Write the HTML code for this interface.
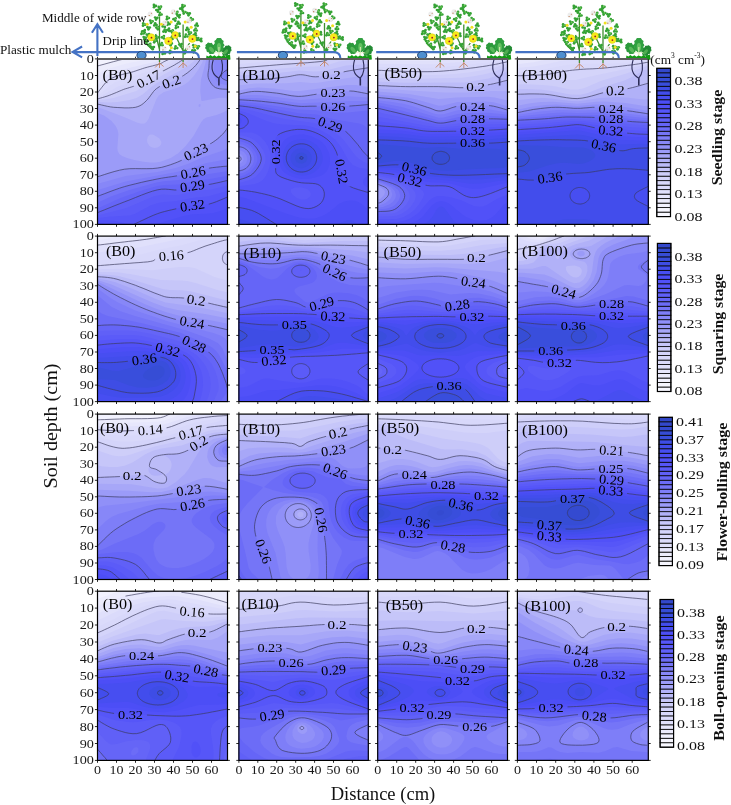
<!DOCTYPE html><html><head><meta charset="utf-8"><style>svg{will-change:transform}html,body{margin:0;padding:0;background:#fff;width:731px;height:805px;overflow:hidden}</style></head><body><svg width="731" height="805" viewBox="0 0 731 805" style="display:block">
<rect width="731" height="805" fill="#fff"/>
<clipPath id="cp00"><rect x="0" y="0" width="130.0" height="165.5"/></clipPath>
<g transform="translate(97.5,58.9)" clip-path="url(#cp00)">
<rect x="-2" y="-2" width="134.0" height="169.5" fill="#f6f6fe"/>
<path d="M-3 1.5L16.6 -3L133 -3L133 169L-3 169Z" fill="#f2f2fe" fill-rule="evenodd"/>
<path d="M27 -0.1L44.4 -3L133 -3L133 169L-3 169L-3 8.8L0.1 7L14 3.3Z" fill="#ececfc" fill-rule="evenodd"/>
<path d="M61.1 -2L63.6 -3L133 -3L133 169L-3 169L-3 20.1L3 13.6L7 11.3L12 9.4L29 4.6Z" fill="#e7e7fc" fill-rule="evenodd"/>
<path d="M60 2.3L71.4 -3L133 -3L133 169L-3 169L-3 30.4L-1 28.5L5.8 19L12 14.8L23 11.1Z" fill="#e0e0fb" fill-rule="evenodd"/>
<path d="M72.5 0L76.3 -3L133 -3L133 169L-3 169L-3 34.7L0.1 34L8.9 23L14.8 19L23 16.1L34 13.3L62 5Z" fill="#dbdbfb" fill-rule="evenodd"/>
<path d="M74 2L80.5 -3L133 -3L133 169L-3 169L-3 37L0 36.5L2 35.5L12 26.8L18 23.1L37 17L63 7.5Z" fill="#d8d8fa" fill-rule="evenodd"/>
<path d="M76 3.6L85.2 -3L133 -3L133 169L-3 169L-3 38.8L3.4 37L21.6 27L39 21L63 10.3Z" fill="#d4d4fa" fill-rule="evenodd"/>
<path d="M76 6.6L90.5 -3L133 -3L133 169L-3 169L-3 40.5L0.3 40L10.2 37L40 25.7Z" fill="#cecef9" fill-rule="evenodd"/>
<path d="M88 3.5L95.8 -3L133 -3L133 169L-3 169L-3 42.1L16 39.2L38 32.4L44 29.2L63.6 17Z" fill="#c6c6f9" fill-rule="evenodd"/>
<path d="M96 2.7L100.5 -3L133 -3L133 169L-3 169L-3 43.8L1 43.2L12 43.7L20 43.2L32 41.2L39 39L45 35.6L53.8 28L59.4 24L81 12.6L91 6.7Z" fill="#bcbcf8" fill-rule="evenodd"/>
<path d="M103 0.1L104.2 -3L133 -3L133 169L-3 169L-3 45.9L0 45.2L13 48L26 48.9L36 48.7L42 47.1L45 45.2L49 41.7L56.6 32L60 29L67 25.2L73 23.3L81 19.6L91 13.1L98 6.7Z" fill="#b1b1f8" fill-rule="evenodd"/>
<path d="M105 3L107 -3L133 -3L133 169L-3 169L-3 49.2L0 48.5L2 48.9L24.1 57L40 63.8L44 64.9L47 64.6L49 63.2L51 60.1L59 40L61 36.9L66 33.3L82 28.2L87 25.7L91 22.8L96 17.4L101 10.4ZM52 75.9L50.2 78L49.5 81L50 84L52 87L54 88.3L57 89L60 88.5L62.4 87L63.7 85L63.9 83L62 79.5L56 75.9L54 75.5Z" fill="#a7a7f8" fill-rule="evenodd"/>
<path d="M109.8 -3L133 -3L133 169L-3 169L-3 54.9L1 54.4L7 56.9L14 62L18.2 67L20.1 71L20.9 75L19.9 89L20.2 92L21.8 95L24.6 97L29.5 99L36.8 101L46 102.9L53 103.6L58 103.6L63 102.8L73.2 99L81.1 94L88.2 87L95.9 77L103.8 63L106 60.3L109 58.6L119 56L126 53.4L130 51L132.2 48L132.6 45L132 42.5L130.2 40L128 38.9L122 38.9L105 42L104 41.8L103.7 41L102.7 32L103.4 21ZM101.1 46L102 45.1L103 45.3L103 47.3L102 48L101 47.4Z" fill="#9b9bf8" fill-rule="evenodd"/>
<path d="M111.9 0L113.2 -3L133 -3L133 31.1L119 29.1L116 27.3L113.2 24L111.2 20L110.4 16ZM125 75.5L133 65.5L133 169L-3 169L-3 118.2L0 117.9L16 112.8L26 110.5L33 109.8L59 109.3L67 107.7L76 104.8L86.9 100L98 92.7L115.9 83Z" fill="#9090f8" fill-rule="evenodd"/>
<path d="M116.9 1L119.1 -3L133 -3L133 27L123 24.9L120 23L117.7 20L116.3 15L116.6 4ZM132.8 87L133 169L-3 169L-3 125.9L28 117.1L60 113.2L78.1 109L90 105L106 98L124 92.2L128.5 90Z" fill="#8787f8" fill-rule="evenodd"/>
<path d="M132.9 -2L133 22.6L132 22.7L125.6 20L124.3 19L123.8 17L126 13.4L131.2 10L131.3 8L129.3 4L129.2 2L130.5 0ZM132.8 99L133 169L-3 169L-3 132.2L28 122.6L80 112.8L92 109.7L109 104L128 100.6Z" fill="#7e7ef8" fill-rule="evenodd"/>
<path d="M112 109.2L133 106.6L133 169L-3 169L-3 138.5L22 129.3L39 124.6L62 119.7L87 115.5Z" fill="#7575f7" fill-rule="evenodd"/>
<path d="M111 115L133 111.8L133 169L-3 169L-3 144.7L1 143.4L14 137.4L31.8 131L58 123.8L66 122.4L81 121Z" fill="#6c6cf7" fill-rule="evenodd"/>
<path d="M112 120.2L133 116.4L133 169L-3 169L-3 150L1 149L23 139L45.6 131L59.6 127L67 126L81 125.7L95 122.5Z" fill="#6565f7" fill-rule="evenodd"/>
<path d="M112 125.5L133 120.9L133 169L-3 169L-3 153.9L1 153.4L49.9 134L58 131.4L64 130.3L78 131.1L82 130.7L95 127Z" fill="#6060f7" fill-rule="evenodd"/>
<path d="M114 130.6L133 125.8L133 169L-3 169L-3 156.8L2 156.2L28 149.3L57 137.1L65 135.7L77 136.3L82 135.9L96 132.4Z" fill="#5b5bf8" fill-rule="evenodd"/>
<path d="M133 131L133 169L-3 169L-3 159.4L14 157.5L32 156.7L37 155L53 146.7L60.6 144L66 143.1L79 142.2L96 138.8L111 137.4Z" fill="#5656f8" fill-rule="evenodd"/>
<path d="M119 142.7L133 137.2L133 169L-3 169L-3 161.8L6 161.4L14 161.7L21 162.7L32 165.5L36 165.7L54 157.2L65 153.2L93 146.5L107 145.8L112 145.1Z" fill="#5151f8" fill-rule="evenodd"/>
<path d="M123 152.2L133 148.1L133 169L48.8 169L68 162.3L86 157.1L95 155.4L109 154.9L116 154.1ZM-3 169L-3 164.5L0 164.1L8 164.8L16 166.4L23.8 169Z" fill="#4c4ef6" fill-rule="evenodd"/>
<path d="M129.8 165L133 164.1L133 169L77.9 169L88 166.8L96 165.8L122 165.6ZM-3 169L-3 167.6L1 167.2L9.9 169Z" fill="#474ef1" fill-rule="evenodd"/>
<mask id="mp00"><rect x="-5" y="-5" width="140.0" height="175.5" fill="#fff"/><rect x="-16.4" y="-6" width="32.8" height="12" fill="#000" transform="translate(51.0,20.1) rotate(-27)"/><rect x="-12.3" y="-6" width="24.6" height="12" fill="#000" transform="translate(73.8,22.9) rotate(-20)"/><rect x="-16.4" y="-6" width="32.8" height="12" fill="#000" transform="translate(98.4,92.9) rotate(-25)"/><rect x="-16.4" y="-6" width="32.8" height="12" fill="#000" transform="translate(95.6,113.6) rotate(-10)"/><rect x="-16.4" y="-6" width="32.8" height="12" fill="#000" transform="translate(94.9,127.1) rotate(-8)"/><rect x="-16.4" y="-6" width="32.8" height="12" fill="#000" transform="translate(94.9,146.6) rotate(-8)"/></mask>
<path d="M-0.1 7.1L1.8 6.6L4.4 5.9L7.4 5.1L10.6 4.2L13.6 3.4L16.2 2.7L18.5 2.1L20.7 1.5L22.7 1L24.5 0.6L26 0.2L27.1 -0.1M-0.1 34.2L1 32.8L2.5 30.8L4.3 28.5L6.2 26.1L8.1 23.8L9.9 22.1L11.6 20.8L13.3 19.7L15.1 18.9L16.8 18.2L18.7 17.5L20.6 16.8L22.6 16.2L24.8 15.6L27 15L29.3 14.5L31.6 14L33.8 13.4L36.1 12.7L38.3 12L40.5 11.2L42.8 10.5L45 9.7L47.3 9L49.8 8.3L52.4 7.6L55 7L57.5 6.3L59.8 5.7L61.7 5.1L63.2 4.6L64.3 4.1L65.2 3.6L65.9 3.1L66.7 2.7L67.5 2.3L68.5 1.8L69.5 1.4L70.5 0.9L71.4 0.5L72.2 0.1L72.8 -0.1M-0.1 40.1L1.2 39.7L2.9 39.2L5 38.6L7.3 37.9L9.6 37.2L11.9 36.4L14.2 35.5L16.6 34.5L19.1 33.5L21.6 32.4L24 31.4L26.2 30.5L28.2 29.8L30.1 29.3L31.8 28.7L33.6 28.2L35.4 27.6L37.3 26.8L39.5 25.9L41.7 24.8L44.1 23.7L46.4 22.5L48.7 21.3L51 20.1L53.2 18.9L55.4 17.7L57.6 16.5L59.7 15.3L61.9 14.1L64.1 12.9L66.3 11.7L68.5 10.6L70.8 9.4L73 8.2L75.1 7.1L77.1 6L79 4.8L81 3.7L82.8 2.5L84.5 1.4L85.9 0.5L86.9 -0.1M-0.1 45.1L1.6 45.5L4 46.1L6.7 46.7L9.8 47.4L13 48L16.2 48.4L19.7 48.6L23.5 48.8L27.4 49L31.3 49L34.9 48.8L38 48.4L40.4 47.7L42.5 46.8L44.2 45.8L45.8 44.6L47.3 43.3L48.8 41.8L50.4 40.2L51.9 38.3L53.3 36.3L54.7 34.4L56.1 32.5L57.5 31L59 29.7L60.5 28.7L62 27.7L63.4 26.9L64.9 26.2L66.2 25.5L67.5 25L68.7 24.6L69.8 24.3L71 23.9L72.3 23.5L73.8 22.9L75.6 22.1L77.6 21.3L79.6 20.3L81.7 19.2L83.8 18L85.8 16.8L87.7 15.5L89.7 14.1L91.6 12.6L93.4 11.1L95.1 9.6L96.7 8.1L98.1 6.6L99.4 5.1L100.6 3.5L101.7 2L102.5 0.8L103.2 -0.1M-0.1 117.9L2.8 117L6.8 115.7L11.5 114.2L16.6 112.7L22 111.3L27.1 110.3L32.3 109.8L37.9 109.7L43.6 109.8L49.3 109.8L54.7 109.7L59.7 109.2L64.3 108.4L68.7 107.2L72.8 105.9L76.7 104.5L80.3 103.1L83.6 101.6L86.6 100.2L89.2 98.7L91.5 97.1L93.8 95.5L96 94L98.4 92.5L101 91.1L103.7 89.7L106.5 88.3L109.2 87L111.7 85.6L114.1 84.2L116.2 82.8L118.2 81.4L120.1 79.9L121.8 78.4L123.4 77L124.9 75.5L126.3 74L127.7 72.3L128.9 70.6L129.9 69.1L130.8 67.8L131.5 66.8M-0.1 137.5L2.8 136.4L6.8 134.9L11.5 133.1L16.6 131.2L22 129.3L27.1 127.7L32.4 126.3L38 124.9L43.8 123.5L49.5 122.2L54.9 121.1L59.7 120.1L63.9 119.3L67.7 118.7L71.1 118.2L74.3 117.8L77.4 117.3L80.4 116.8L83.2 116.3L85.8 115.8L88.2 115.3L90.6 114.7L93.1 114.2L95.6 113.6L98.2 112.9L100.8 112.1L103.5 111.3L106.2 110.6L109 109.8L111.9 109.2L115.2 108.7L118.9 108.3L122.7 107.9L126.3 107.5L129.3 107.3L131.5 107.1M-0.1 153.8L2.8 152.6L6.8 151L11.5 149.1L16.6 147L22 144.9L27.1 142.9L32.4 140.9L38 138.6L43.8 136.3L49.5 134.1L54.9 132.3L59.7 131L63.9 130.3L67.7 130.2L71.2 130.5L74.4 130.8L77.4 131.1L80.4 131L83.1 130.5L85.6 129.9L87.9 129.1L90.1 128.3L92.4 127.6L94.9 127.1L97.6 126.7L100.3 126.5L103.1 126.3L106 126.2L108.9 125.9L111.9 125.5L115.2 124.9L118.9 124.1L122.7 123.3L126.3 122.4L129.3 121.7L131.5 121.2M35.8 165.8L38.4 164.5L42.1 162.7L46.5 160.7L51.1 158.5L55.6 156.5L59.7 154.9L63.4 153.6L67.1 152.6L70.6 151.7L74.1 150.9L77.3 150.2L80.4 149.4L83.1 148.8L85.6 148.1L87.9 147.5L90.1 147L92.4 146.6L94.9 146.2L97.6 146L100.3 145.9L103.1 145.9L106 145.9L108.9 145.6L111.9 145.1L115.2 144.1L118.9 142.8L122.7 141.2L126.3 139.7L129.3 138.4L131.5 137.5M111.9 -0.1L111.8 0.8L111.8 1.9L111.7 3.3L111.6 4.9L111.5 6.5L111.5 8.1L111.3 9.8L111 11.5L110.7 13.4L110.5 15.2L110.5 17L110.8 18.8L111.4 20.6L112.3 22.4L113.4 24.2L114.7 25.9L116.1 27.4L117.8 28.6L119.8 29.4L122.3 29.9L125 30.2L127.7 30.3L129.9 30.4L131.5 30.5M131.5 9.9L130.8 10.3L129.8 10.9L128.6 11.5L127.4 12.3L126.4 13L125.6 13.8L125 14.6L124.4 15.4L124 16.3L123.8 17.2L123.8 18L124.1 18.8L124.9 19.6L126.1 20.3L127.7 21.1L129.2 21.7L130.5 22.3L131.5 22.7" fill="none" stroke="#3a3a5a" stroke-width="0.8" stroke-opacity="0.85" mask="url(#mp00)"/>
<text transform="translate(51.0,20.1) rotate(-27)" x="0" y="4.6" text-anchor="middle" font-family="Liberation Serif" font-size="13.5" textLength="25.0" lengthAdjust="spacingAndGlyphs" fill="#000">0.17</text>
<text transform="translate(73.8,22.9) rotate(-20)" x="0" y="4.6" text-anchor="middle" font-family="Liberation Serif" font-size="13.5" textLength="18.8" lengthAdjust="spacingAndGlyphs" fill="#000">0.2</text>
<text transform="translate(98.4,92.9) rotate(-25)" x="0" y="4.6" text-anchor="middle" font-family="Liberation Serif" font-size="13.5" textLength="25.0" lengthAdjust="spacingAndGlyphs" fill="#000">0.23</text>
<text transform="translate(95.6,113.6) rotate(-10)" x="0" y="4.6" text-anchor="middle" font-family="Liberation Serif" font-size="13.5" textLength="25.0" lengthAdjust="spacingAndGlyphs" fill="#000">0.26</text>
<text transform="translate(94.9,127.1) rotate(-8)" x="0" y="4.6" text-anchor="middle" font-family="Liberation Serif" font-size="13.5" textLength="25.0" lengthAdjust="spacingAndGlyphs" fill="#000">0.29</text>
<text transform="translate(94.9,146.6) rotate(-8)" x="0" y="4.6" text-anchor="middle" font-family="Liberation Serif" font-size="13.5" textLength="25.0" lengthAdjust="spacingAndGlyphs" fill="#000">0.32</text>
<text x="5.1" y="21.0" font-family="Liberation Serif" font-size="15.5" textLength="29.7" lengthAdjust="spacingAndGlyphs" fill="#000">(B0)</text>
</g>
<clipPath id="cp01"><rect x="0" y="0" width="129.4" height="165.5"/></clipPath>
<g transform="translate(238.9,58.9)" clip-path="url(#cp01)">
<rect x="-2" y="-2" width="133.4" height="169.5" fill="#e0e0fb"/>
<path d="M-3 169L-3 -2.5L4.2 -3L133 -3L133 169Z" fill="#dbdbfb" fill-rule="evenodd"/>
<path d="M33.5 -2L49.4 -3L133 -3L133 169L-3 169L-3 1.7Z" fill="#d8d8fa" fill-rule="evenodd"/>
<path d="M79.1 -2L83.3 -3L133 -3L133 169L-3 169L-3 5.6L29 2.5L61 0.4Z" fill="#d4d4fa" fill-rule="evenodd"/>
<path d="M91 -0.6L102.6 -3L124.8 -3L133 -2.5L133 169L-3 169L-3 9.3L81 2.7L87 1.6Z" fill="#cecef9" fill-rule="evenodd"/>
<path d="M114.4 1L133 1.6L133 169L-3 169L-3 13L24 11.4L59 8.1L82 7.4L88 6.3L100 2.5Z" fill="#c6c6f9" fill-rule="evenodd"/>
<path d="M107 6.7L133 5L133 169L-3 169L-3 16.8L27 15.5L60 11.6L75 12.5L81 12.4L88 11.3Z" fill="#bcbcf8" fill-rule="evenodd"/>
<path d="M128.4 9L133 8.8L133 169L-3 169L-3 21.1L32 19.7L49 17.9L61 15.8L74 17.8L80 17.8L93 15.6L108 12.3Z" fill="#b1b1f8" fill-rule="evenodd"/>
<path d="M128.5 16L133 16.1L133 169L-3 169L-3 26.8L16 24.7L48 24.4L61 23.2L73 24.1L79 23.9Z" fill="#a7a7f8" fill-rule="evenodd"/>
<path d="M107.9 26L117 26L129 28.1L133 28.3L133 169L-3 169L-3 31.8L0 31.9L10 29.4L19 28.7L35 29.6L54.6 32L61 32.2ZM0 99L-1 99.1L-1.4 100L-1 100.6L0 100.7L0.5 100Z" fill="#9b9bf8" fill-rule="evenodd"/>
<path d="M10.6 33L17 32.5L26 32.9L60 37.5L109 32L116 32.5L130 35.1L133 35.2L133 169L-3 169L-3 100.3L-2 102L0 102.5L1.1 102L2.2 100L1.3 98L0 97.3L-2 97.8L-3 99.5L-3 34.9L0 35.2Z" fill="#9090f8" fill-rule="evenodd"/>
<path d="M-3 37.1L13 36.1L23 36.3L61 41.1L109 37.3L133 38.9L133 169L-3 169L-3 104.2L-1 104.9L2 104.4L4 102.5L4.7 100L3.8 97L2 95.4L-1 94.9L-3 95.6Z" fill="#8787f8" fill-rule="evenodd"/>
<path d="M-3 39L13 39L25 39.7L62 44.3L112 42.1L133 42.2L133 169L-3 169L-3 107.9L1 108.3L5 106.7L7.4 104L8.4 100L7.5 96L5 93L1 91.4L-3 91.9Z" fill="#7e7ef8" fill-rule="evenodd"/>
<path d="M-3 41L8 41.3L28 42.9L62 47.4L98 47.9L130 45.6L133 45.9L133 169L-3 169L-3 111.6L0 111.8L3 111.4L7.5 109L10.7 105L11.9 100L10.8 95L7.8 91L3 88.4L0 87.9L-3 88.2Z" fill="#7575f7" fill-rule="evenodd"/>
<path d="M-3 84.8L-3 42.6L0 42.7L20 44.7L59 50.6L77 51.3L96 53.7L109 53.6L128 51.7L133 52.5L133 169L-3 169L-3 115L4 114L9.5 111L13.5 106L14.7 103L15.1 100L14.8 97L13.7 94L9.8 89L4 85.8Z" fill="#6c6cf7" fill-rule="evenodd"/>
<path d="M-3 81.7L-3 44.6L0 44.8L17 46.7L60 54.4L78 55.7L95 60.3L120 64.5L124 65.8L127 67.9L129.5 71L133 77.5L133 169L-3 169L-3 118.2L5 116.5L11.4 113L16.3 107L18 103L18.5 100L18.1 97L16.4 93L11.7 87L8.8 85L5 83.3Z" fill="#6565f7" fill-rule="evenodd"/>
<path d="M-3 47L0 46.9L15.7 49L58 57.9L77 60L102 69.5L108 73.6L116.7 83L125.5 94L130.6 99L133 100L133 169L-3 169L-3 121.4L0 121L8 118.4L13.8 115L17.4 111L20.1 107L21.8 103L22.4 100L21.6 96L19.6 92L16.8 88L13 84.1L7 81.1L0 78.9L-3 78.7Z" fill="#6060f7" fill-rule="evenodd"/>
<path d="M-3 49L13 51.5L35 57.7L46 60.1L75.1 64L81 66.1L92 71.4L100.9 77L105.6 82L115 94.8L118.9 99L125 103.2L133 105.7L133 169L-3 169L-3 124.5L1 123.9L10 121.4L14 119.7L17 117.6L20.5 114L24 109L26.1 104L26.7 100L26.3 96L24.2 91L20.6 86L16.6 82L13.7 80L10 78.4L1 76.3L-3 75.9Z" fill="#5b5bf8" fill-rule="evenodd"/>
<path d="M-3 73.2L-3 51.3L0 51.6L8.7 54L27 61.8L36 64.5L44 65.6L67 66.7L73.4 68L80 70.4L90.5 76L97 81.3L102.1 88L109.3 101L114 106L120 108.8L133 110.8L133 169L-3 169L-3 127.6L15 125.3L20 123.5L23.9 121L27 117.2L29.3 112L31 106L31.6 99L31.1 93L29 87.2L25.7 82L21 77.3L17 74.9L13 73.7ZM55 128.8L52.6 130L52 131L52 133L53.9 136L58 139L62 140.5L66 140.7L69 139.7L71.6 137L72 135L71.5 133L68.3 130L62 128.3Z" fill="#5656f8" fill-rule="evenodd"/>
<path d="M-3 54L0 54.4L5 56.7L7 58L8.6 60L9.3 62L9.2 64L7 67L4.2 69L0 70L-3 70.1ZM53.9 71L63 70.5L71 71.8L80 75.3L87.7 80L93.5 86L97.4 93L98.9 98L103.3 120L105.4 124L109 126.7L114.5 129L130.3 134L133 134.3L133 169L-3 169L-3 131.3L0 131L12 132.5L30 136.3L41 139.8L59 147.5L66 149.5L71 149.6L76 148.2L81 145.1L83.6 142L85.3 137L85.2 133L83.4 129L80 126.1L75 124.7L61 123.7L51 121.3L41 117.6L38.7 116L37.2 114L36.2 103L36.1 83L36.8 79L39 76.3L42 74.4L47 72.5ZM127 118L131 116.9L133 118L133 128.9L131 129.1L128 128.3L125.1 126L124.2 124L124.1 122L124.9 120Z" fill="#5151f8" fill-rule="evenodd"/>
<path d="M-3 58L-2 57.7L0 58.3L2 59.7L2.8 61L2.4 64L0 65.8L-3 66.1ZM55.4 76L64 75.3L72 77L80.2 81L84 84L86.7 87L90.2 94L91 98L91.1 102L90.5 106L89.1 110L87.2 113L85 115L81.5 117L76 118.7L69 120L63 120.1L57 119L51 116.9L45.9 114L43 111.1L41.1 107L40.2 101L40.5 94L42 86.8L43.9 83L46.8 80L51 77.5ZM-3 169L-3 137.5L0 137.5L6.4 139L47 154.5L60 158.6L69 159.9L77 159.3L84 156.9L90 153.3L100 145.2L105 142.6L111 141.5L116 141.9L120 143.4L124 146L133 154.4L133 169Z" fill="#4c4ef6" fill-rule="evenodd"/>
<path d="M56.5 81L64 80.2L71 81.8L77.8 86L81.8 91L83.7 97L83.7 101L83.1 104L80 109.6L75 113.6L71 115.4L67 116.4L63 116.6L59 116.1L55 114.9L51.2 113L48 110.4L46 107.8L44.4 104L43.8 100L44.1 95L45.3 91L47 87.7L49.3 85L53 82.4ZM-3 148L8 150.1L14.1 152L22 156L38 165.9L48.6 169L-3 169ZM108.9 161L112 161L114 161.7L122 169L88.6 169Z" fill="#474ef1" fill-rule="evenodd"/>
<path d="M60.7 85L67 85.5L72 87.9L75.8 92L77.6 97L77.5 102L75 107.2L70.6 111L65 113L59 112.7L53 110L49.4 106L47.5 101L48 95L50.9 90L55 86.8ZM-3 159L10 163.1L21.1 169L-3 169Z" fill="#424dec" fill-rule="evenodd"/>
<path d="M58.4 90L62 89.3L66 89.8L69.7 92L72 95L72.9 98L72.5 102L70.1 106L67 108.2L63 109.3L59 108.8L55 106.6L52.3 103L51.5 99L52.5 95L55 92Z" fill="#3e4de5" fill-rule="evenodd"/>
<path d="M60.2 94L63 93.6L65 94.1L67 95.5L68 97L68.4 99L68.1 101L66.7 103L65 104.2L63 104.8L60 104.4L57.8 103L56.5 101L56.2 99L56.7 97L58 95.3Z" fill="#394edc" fill-rule="evenodd"/>
<path d="M61.6 98L63.5 98L64.1 99L63.5 100L61.6 100L61.1 99Z" fill="#364dd5" fill-rule="evenodd"/>
<mask id="mp01"><rect x="-5" y="-5" width="139.4" height="175.5" fill="#fff"/><rect x="-12.3" y="-6" width="24.6" height="12" fill="#000" transform="translate(92.4,15.8) rotate(0)"/><rect x="-16.4" y="-6" width="32.8" height="12" fill="#000" transform="translate(94.1,33.8) rotate(0)"/><rect x="-16.4" y="-6" width="32.8" height="12" fill="#000" transform="translate(94.1,47.9) rotate(0)"/><rect x="-16.4" y="-6" width="32.8" height="12" fill="#000" transform="translate(91.5,65.8) rotate(20)"/><rect x="-16.4" y="-6" width="32.8" height="12" fill="#000" transform="translate(36.5,92.9) rotate(-90)"/><rect x="-16.4" y="-6" width="32.8" height="12" fill="#000" transform="translate(102.8,112.5) rotate(80)"/></mask>
<path d="M-0.5 9.2L3.6 8.9L9.2 8.4L15.8 7.8L23.1 7.2L30.5 6.6L37.6 6L44.9 5.4L53 4.9L61.2 4.3L68.9 3.8L75.8 3.2L81.1 2.7L84.6 2.2L86.9 1.6L88.1 1.1L88.8 0.6L89.2 0.2L89.8 -0.1M-0.5 20.8L2.6 20.7L6.8 20.6L11.8 20.6L17 20.5L22.2 20.3L26.7 20.1L30.7 19.8L34.7 19.5L38.5 19.1L42 18.7L45.4 18.3L48.4 17.9L51.1 17.5L53.4 17L55.4 16.6L57.3 16.2L59.3 15.9L61.5 15.8L63.9 15.9L66.4 16.3L68.9 16.8L71.5 17.4L74.1 17.8L76.7 17.9L79.3 17.8L81.9 17.6L84.6 17.2L87.2 16.7L89.8 16.2L92.4 15.8L94.8 15.3L97 14.8L99.2 14.2L101.6 13.7L104.2 13.1L107.1 12.5L110.9 11.8L115.3 11.1L120 10.3L124.5 9.6L128.3 9L131.1 8.6M-0.5 35.3L1.2 35L3.6 34.4L6.3 33.8L9.4 33.2L12.6 32.7L15.8 32.5L19.1 32.5L22.7 32.7L26.4 33L30.1 33.4L33.9 33.8L37.6 34.2L41.2 34.7L44.9 35.4L48.7 36.1L52.3 36.8L55.9 37.2L59.3 37.5L62.6 37.4L65.8 37.1L68.9 36.7L71.9 36.2L74.9 35.7L77.8 35.3L80.6 35L83.4 34.8L86 34.5L88.7 34.3L91.3 34.1L94.1 33.8L96.9 33.5L99.7 33L102.6 32.6L105.5 32.3L108.5 32.1L111.5 32.1L114.9 32.3L118.6 32.9L122.4 33.6L125.9 34.3L128.9 34.9L131.1 35.3M-0.5 40.8L1.2 40.9L3.6 41L6.3 41.2L9.4 41.4L12.6 41.6L15.8 41.8L19.1 42.1L22.7 42.4L26.4 42.8L30.1 43.2L33.9 43.6L37.6 44L41.3 44.5L45 45.1L48.7 45.8L52.4 46.4L55.9 46.9L59.3 47.3L62.5 47.5L65.4 47.5L68.3 47.4L71.1 47.3L73.9 47.3L76.7 47.3L79.6 47.4L82.6 47.5L85.5 47.6L88.5 47.8L91.3 47.9L94.1 47.9L96.7 47.9L99.1 47.8L101.4 47.7L103.8 47.6L106.4 47.5L109.3 47.3L112.8 47L116.9 46.7L121.1 46.4L125.2 46L128.6 45.7L131.1 45.5M-0.5 46.8L1.2 47L3.6 47.3L6.3 47.6L9.4 48L12.6 48.5L15.8 49L19.1 49.7L22.7 50.4L26.4 51.3L30.1 52.1L33.9 53L37.6 53.8L41.3 54.6L45 55.4L48.7 56.2L52.4 56.9L55.9 57.6L59.3 58.1L62.5 58.5L65.5 58.8L68.4 58.9L71.3 59.1L74 59.4L76.7 59.9L79.3 60.6L81.9 61.5L84.3 62.6L86.8 63.7L89.1 64.8L91.5 65.8L93.8 66.6L96.2 67.4L98.5 68.2L100.7 69L102.9 70L105 71.2L107 72.7L108.9 74.4L110.7 76.3L112.5 78.2L114.2 80.2L115.8 82.1L117.4 83.9L119 85.8L120.5 87.8L121.9 89.6L123.2 91.4L124.5 92.9L125.8 94.3L127.1 95.7L128.3 96.9L129.4 97.9L130.4 98.8L131.1 99.4M131.1 134.2L128.2 133.3L124.2 132.1L119.4 130.7L114.6 129.1L110.3 127.3L107.1 125.5L105.2 123.7L103.9 121.8L103.2 119.7L102.8 117.5L102.3 115.1L101.7 112.5L101 109.5L100.4 106.2L99.8 102.7L99.2 99.2L98.4 95.9L97.4 92.9L96.1 90.3L94.8 87.9L93.3 85.7L91.6 83.6L89.7 81.7L87.6 79.9L85.1 78.1L82.3 76.5L79.4 75L76.3 73.6L73.2 72.5L70.2 71.6L67.3 71L64.3 70.6L61.4 70.5L58.4 70.5L55.6 70.8L52.8 71.2L50 71.8L47 72.5L44.2 73.5L41.5 74.6L39.3 76L37.6 77.7L36.6 79.7L36.1 82.1L36.1 84.8L36.2 87.5L36.4 90.3L36.5 92.9L36.4 95.5L36.3 98.2L36.2 100.9L36.2 103.6L36.3 106L36.5 108.1L36.7 110L36.7 111.6L36.9 113L37.3 114.3L38.2 115.6L39.8 116.8L42.1 118.1L45.1 119.3L48.5 120.5L52.2 121.6L55.9 122.6L59.3 123.4L62.7 123.9L66.3 124.2L69.9 124.3L73.3 124.5L76.4 124.8L78.9 125.5L80.9 126.6L82.4 127.9L83.6 129.3L84.5 130.9L85.1 132.6L85.4 134.2L85.4 136L85.2 137.9L84.6 139.9L83.7 141.9L82.5 143.6L81.1 145.1L79.3 146.4L77.3 147.6L74.9 148.6L72.3 149.4L69.3 149.7L65.8 149.4L61.8 148.5L57.1 146.8L52.1 144.6L47 142.4L42.1 140.3L37.6 138.6L33.5 137.3L29.6 136.2L26 135.3L22.4 134.5L19.1 133.8L15.8 133.1L12.6 132.6L9.4 132.1L6.3 131.7L3.6 131.4L1.2 131.2L-0.5 131M77.8 99L77.8 99.6L77.7 100.2L77.7 100.9L77.6 101.5L77.4 102.1L77.3 102.7L77.1 103.3L76.9 103.8L76.6 104.4L76.4 105L76.1 105.5L75.8 106.1L75.4 106.6L75 107.1L74.6 107.6L74.2 108.1L73.8 108.6L73.3 109L72.9 109.4L72.4 109.8L71.8 110.2L71.3 110.6L70.8 110.9L70.2 111.3L69.6 111.5L69 111.8L68.4 112.1L67.8 112.3L67.2 112.5L66.5 112.7L65.9 112.8L65.2 112.9L64.6 113L63.9 113.1L63.2 113.1L62.6 113.1L61.9 113.1L61.3 113.1L60.6 113L59.9 112.9L59.3 112.8L58.6 112.7L58 112.5L57.4 112.3L56.8 112.1L56.1 111.8L55.5 111.5L55 111.3L54.4 110.9L53.9 110.6L53.3 110.2L52.8 109.8L52.3 109.4L51.8 109L51.4 108.6L50.9 108.1L50.5 107.6L50.1 107.1L49.7 106.6L49.4 106.1L49.1 105.5L48.8 105L48.5 104.4L48.3 103.8L48.1 103.3L47.9 102.7L47.7 102.1L47.6 101.5L47.5 100.9L47.4 100.2L47.4 99.6L47.4 99L47.4 98.4L47.4 97.8L47.5 97.2L47.6 96.6L47.7 96L47.9 95.4L48.1 94.8L48.3 94.2L48.5 93.6L48.8 93L49.1 92.5L49.4 91.9L49.7 91.4L50.1 90.9L50.5 90.4L50.9 89.9L51.4 89.5L51.8 89L52.3 88.6L52.8 88.2L53.3 87.8L53.9 87.4L54.4 87.1L55 86.8L55.5 86.5L56.1 86.2L56.8 86L57.4 85.7L58 85.5L58.6 85.4L59.3 85.2L59.9 85.1L60.6 85L61.3 84.9L61.9 84.9L62.6 84.9L63.2 84.9L63.9 84.9L64.6 85L65.2 85.1L65.9 85.2L66.5 85.4L67.2 85.5L67.8 85.7L68.4 86L69 86.2L69.6 86.5L70.2 86.8L70.8 87.1L71.3 87.4L71.8 87.8L72.4 88.2L72.9 88.6L73.3 89L73.8 89.5L74.2 89.9L74.6 90.4L75 90.9L75.4 91.4L75.8 91.9L76.1 92.5L76.4 93L76.6 93.6L76.9 94.2L77.1 94.8L77.3 95.4L77.4 96L77.6 96.6L77.7 97.2L77.7 97.8L77.8 98.4L77.8 99M-0.5 78.8L1.1 79.3L3.4 80L6.1 80.8L8.8 81.8L11.5 83.1L13.7 84.7L15.6 86.7L17.6 89L19.4 91.7L21 94.5L22 97.2L22.4 99.9L22 102.5L21 105.3L19.4 108.1L17.6 110.7L15.6 113.1L13.7 115.1L11.5 116.7L8.8 118L6.1 119.1L3.4 119.9L1.1 120.6L-0.5 121.2M11.9 99.9L11.9 100.4L11.9 100.9L11.8 101.4L11.7 102L11.6 102.5L11.5 103L11.4 103.5L11.2 104L11 104.5L10.8 104.9L10.5 105.4L10.3 105.9L10 106.3L9.7 106.7L9.4 107.2L9 107.6L8.7 108L8.3 108.3L7.9 108.7L7.5 109L7.1 109.4L6.6 109.7L6.2 110L5.7 110.2L5.3 110.5L4.8 110.7L4.3 110.9L3.8 111.1L3.3 111.3L2.7 111.4L2.2 111.6L1.7 111.7L1.2 111.7L0.6 111.8L0.1 111.8L-0.5 111.8L-1 111.8L-1.5 111.8L-2.1 111.7L-2.6 111.7L-3.2 111.6L-3.7 111.4L-4.2 111.3L-4.7 111.1L-5.2 110.9L-5.7 110.7L-6.2 110.5L-6.7 110.2L-7.1 110L-7.6 109.7L-8 109.4L-8.4 109L-8.8 108.7L-9.2 108.3L-9.6 108L-10 107.6L-10.3 107.2L-10.6 106.7L-10.9 106.3L-11.2 105.9L-11.5 105.4L-11.7 104.9L-11.9 104.5L-12.1 104L-12.3 103.5L-12.4 103L-12.6 102.5L-12.7 102L-12.7 101.4L-12.8 100.9L-12.8 100.4L-12.9 99.9L-12.8 99.4L-12.8 98.8L-12.7 98.3L-12.7 97.8L-12.6 97.3L-12.4 96.8L-12.3 96.3L-12.1 95.8L-11.9 95.3L-11.7 94.8L-11.5 94.4L-11.2 93.9L-10.9 93.5L-10.6 93L-10.3 92.6L-10 92.2L-9.6 91.8L-9.2 91.4L-8.8 91.1L-8.4 90.7L-8 90.4L-7.6 90.1L-7.1 89.8L-6.7 89.5L-6.2 89.3L-5.7 89L-5.2 88.8L-4.7 88.6L-4.2 88.5L-3.7 88.3L-3.2 88.2L-2.6 88.1L-2.1 88L-1.5 88L-1 87.9L-0.5 87.9L0.1 87.9L0.6 88L1.2 88L1.7 88.1L2.2 88.2L2.7 88.3L3.3 88.5L3.8 88.6L4.3 88.8L4.8 89L5.3 89.3L5.7 89.5L6.2 89.8L6.6 90.1L7.1 90.4L7.5 90.7L7.9 91.1L8.3 91.4L8.7 91.8L9 92.2L9.4 92.6L9.7 93L10 93.5L10.3 93.9L10.5 94.4L10.8 94.8L11 95.3L11.2 95.8L11.4 96.3L11.5 96.8L11.6 97.3L11.7 97.8L11.8 98.3L11.9 98.8L11.9 99.4L11.9 99.9M2.1 99.9L2.1 100.1L2.1 100.3L2.1 100.6L2 100.8L1.9 101L1.8 101.2L1.7 101.4L1.5 101.6L1.4 101.7L1.2 101.9L1 102L0.8 102.1L0.6 102.2L0.4 102.3L0.2 102.4L0 102.4L-0.2 102.5L-0.5 102.5L-0.7 102.5L-0.9 102.4L-1.1 102.4L-1.4 102.3L-1.6 102.2L-1.8 102.1L-2 102L-2.1 101.9L-2.3 101.7L-2.5 101.6L-2.6 101.4L-2.7 101.2L-2.8 101L-2.9 100.8L-3 100.6L-3 100.3L-3.1 100.1L-3.1 99.9L-3.1 99.7L-3 99.4L-3 99.2L-2.9 99L-2.8 98.8L-2.7 98.6L-2.6 98.4L-2.5 98.2L-2.3 98L-2.1 97.9L-2 97.7L-1.8 97.6L-1.6 97.5L-1.4 97.4L-1.1 97.4L-0.9 97.3L-0.7 97.3L-0.5 97.3L-0.2 97.3L0 97.3L0.2 97.4L0.4 97.4L0.6 97.5L0.8 97.6L1 97.7L1.2 97.9L1.4 98L1.5 98.2L1.7 98.4L1.8 98.6L1.9 98.8L2 99L2.1 99.2L2.1 99.4L2.1 99.7L2.1 99.9M-0.5 54.2L0.4 54.6L1.7 55.2L3.2 55.8L4.7 56.6L6.1 57.4L7.1 58.1L7.9 59L8.5 59.9L9 60.8L9.3 61.7L9.4 62.7L9.3 63.6L9 64.5L8.4 65.4L7.6 66.3L6.7 67.2L5.8 68L5 68.6L4.1 69.1L3 69.4L2 69.7L1 69.8L0.1 70L-0.5 70.1M64.1 99L64.1 99.1L64.1 99.2L64 99.4L64 99.5L64 99.6L63.9 99.7L63.8 99.8L63.7 99.8L63.7 99.9L63.6 100L63.4 100.1L63.3 100.1L63.2 100.2L63.1 100.2L63 100.3L62.8 100.3L62.7 100.3L62.6 100.3L62.4 100.3L62.3 100.3L62.2 100.3L62.1 100.2L61.9 100.2L61.8 100.1L61.7 100.1L61.6 100L61.5 99.9L61.4 99.8L61.3 99.8L61.3 99.7L61.2 99.6L61.2 99.5L61.1 99.4L61.1 99.2L61.1 99.1L61.1 99L61.1 98.9L61.1 98.8L61.1 98.7L61.2 98.6L61.2 98.5L61.3 98.4L61.3 98.3L61.4 98.2L61.5 98.1L61.6 98L61.7 97.9L61.8 97.9L61.9 97.8L62.1 97.8L62.2 97.8L62.3 97.7L62.4 97.7L62.6 97.7L62.7 97.7L62.8 97.7L63 97.8L63.1 97.8L63.2 97.8L63.3 97.9L63.4 97.9L63.6 98L63.7 98.1L63.7 98.2L63.8 98.3L63.9 98.4L64 98.5L64 98.6L64 98.7L64.1 98.8L64.1 98.9L64.1 99M-0.5 148.4L1.2 148.7L3.6 149.2L6.3 149.7L9.4 150.5L12.6 151.4L15.8 152.7L19.4 154.5L23.5 156.9L27.7 159.5L31.7 162L35.2 164.2L37.6 165.8" fill="none" stroke="#3a3a5a" stroke-width="0.8" stroke-opacity="0.85" mask="url(#mp01)"/>
<text transform="translate(92.4,15.8) rotate(0)" x="0" y="4.6" text-anchor="middle" font-family="Liberation Serif" font-size="13.5" textLength="18.8" lengthAdjust="spacingAndGlyphs" fill="#000">0.2</text>
<text transform="translate(94.1,33.8) rotate(0)" x="0" y="4.6" text-anchor="middle" font-family="Liberation Serif" font-size="13.5" textLength="25.0" lengthAdjust="spacingAndGlyphs" fill="#000">0.23</text>
<text transform="translate(94.1,47.9) rotate(0)" x="0" y="4.6" text-anchor="middle" font-family="Liberation Serif" font-size="13.5" textLength="25.0" lengthAdjust="spacingAndGlyphs" fill="#000">0.26</text>
<text transform="translate(91.5,65.8) rotate(20)" x="0" y="4.6" text-anchor="middle" font-family="Liberation Serif" font-size="13.5" textLength="25.0" lengthAdjust="spacingAndGlyphs" fill="#000">0.29</text>
<text transform="translate(36.5,92.9) rotate(-90)" x="0" y="4.6" text-anchor="middle" font-family="Liberation Serif" font-size="13.5" textLength="25.0" lengthAdjust="spacingAndGlyphs" fill="#000">0.32</text>
<text transform="translate(102.8,112.5) rotate(80)" x="0" y="4.6" text-anchor="middle" font-family="Liberation Serif" font-size="13.5" textLength="25.0" lengthAdjust="spacingAndGlyphs" fill="#000">0.32</text>
<text x="3.5" y="20.9" font-family="Liberation Serif" font-size="15.5" textLength="37.7" lengthAdjust="spacingAndGlyphs" fill="#000">(B10)</text>
</g>
<clipPath id="cp02"><rect x="0" y="0" width="129.8" height="165.5"/></clipPath>
<g transform="translate(377.7,58.9)" clip-path="url(#cp02)">
<rect x="-2" y="-2" width="133.8" height="169.5" fill="#ececfc"/>
<path d="M58.3 -2L72 -3L133 -3L133 169L-3 169L-3 -2Z" fill="#e7e7fc" fill-rule="evenodd"/>
<path d="M104.7 -2L133 -2.4L133 169L-3 169L-3 1.5L54 1.8Z" fill="#e0e0fb" fill-rule="evenodd"/>
<path d="M99 1.5L133 -0.5L133 169L-3 169L-3 4.8L56 5.4Z" fill="#dbdbfb" fill-rule="evenodd"/>
<path d="M59 8.9L133 1.3L133 169L-3 169L-3 8L43 9.2Z" fill="#d8d8fa" fill-rule="evenodd"/>
<path d="M128.8 3L133 3L133 169L-3 169L-3 11.4L39 12.7L62 12.4L100 8.3L116 5.8Z" fill="#d4d4fa" fill-rule="evenodd"/>
<path d="M128.5 5L133 4.9L133 169L-3 169L-3 15L39 16.3L59 16.1L77 15.1L91 13.6L106 11.2L117 8.7Z" fill="#cecef9" fill-rule="evenodd"/>
<path d="M128.3 8L133 7.7L133 169L-3 169L-3 18.8L29 20.1L84 18.9L96 17.4L109 14.9L117 12.5Z" fill="#c6c6f9" fill-rule="evenodd"/>
<path d="M118 17.2L130 12.3L133 12.2L133 169L-3 169L-3 22.6L26 23.9L87 23.6L111 19.6Z" fill="#bcbcf8" fill-rule="evenodd"/>
<path d="M112 25.7L133 20.8L133 169L-3 169L-3 26.2L23 27.6L60 27.7L87 28.8Z" fill="#b1b1f8" fill-rule="evenodd"/>
<path d="M-3 169L-3 29.4L66 33.5L89 33.7L113 32.1L133 32.5L133 169Z" fill="#a7a7f8" fill-rule="evenodd"/>
<path d="M-3 169L-3 32.5L31 35.2L61 40.2L79 38.5L110 37.8L117 38.5L128 41.1L133 41.5L133 169ZM-1 132.5L-1.8 133L-2 134L-1 134.8L0 134.7L0.8 134L0.7 133Z" fill="#9b9bf8" fill-rule="evenodd"/>
<path d="M-3 127.9L-3 35.4L30 38.7L39 40.7L61 46.9L65 46.6L80 43L95 43.2L108 42.5L116 43.3L129 47L133 47.2L133 169L-3 169L-3 140.6L0 140.8L3 139.5L6.5 136L7.3 133L6.5 131L3.7 129L0 127.6Z" fill="#9090f8" fill-rule="evenodd"/>
<path d="M-3 125.5L-3 38.2L28 41.9L37 44.2L58 51.4L61 52L66 51.5L81 47.2L95 47.3L108 46.6L115 47.2L130 51.1L133 51.1L133 169L-3 169L-3 143.9L2 143.8L4 142.9L9.5 138L10.7 136L11 134L10.2 131L8 128.8L1 125.7Z" fill="#8787f8" fill-rule="evenodd"/>
<path d="M-3 41L13 42.8L27 45.2L36 47.7L57 54.9L61 55.7L66 55.4L79 51.6L86 50.7L111 50.4L129 53.6L133 53.8L133 169L-3 169L-3 146.5L3 146.1L7.8 144L12.6 140L14 137.7L14.5 135L13.2 131L10.1 128L1 124.2L-3 123.8Z" fill="#7e7ef8" fill-rule="evenodd"/>
<path d="M-3 122.2L-3 43.5L3 44.1L24 48L61 58.9L66 58.7L80 55.1L90 54L111 53.8L133 56.1L133 169L-3 169L-3 148.7L5 148L12 145.3L15 143L16.6 141L17.7 139L18.3 136L17.1 132L13.2 128L4.4 124Z" fill="#7575f7" fill-rule="evenodd"/>
<path d="M-3 120.8L-3 46.3L2 46.7L18 50.1L61 61.7L66 61.5L81 58.2L93 57L111 56.9L133 58.3L133 169L-3 169L-3 150.9L8 149.9L15 147.6L18 145.3L20.6 142L22 139L22.4 136L21.6 133L20.4 131L16 127.4L8 123.9Z" fill="#6c6cf7" fill-rule="evenodd"/>
<path d="M-3 119.3L-3 49.3L2 49.7L61 64.2L66 64L80 61.4L94 59.9L133 60.5L133 169L-3 169L-3 153.1L11 152.1L17 150.5L20.5 148L24.1 144L26.4 140L27 137L26.5 134L25.5 132L23 129L20.2 127L12 123.6Z" fill="#6565f7" fill-rule="evenodd"/>
<path d="M-3 53L2 53.5L60 66.2L66 66.2L95 62.9L133 62.8L133 169L-3 169L-3 155.3L13 154.7L17 154L20 152.8L25 149.3L29 145L31.3 141L32.1 137L31.5 134L29.8 131L26.7 128L23 125.5L16 122.8L-3 117.8Z" fill="#6060f7" fill-rule="evenodd"/>
<path d="M-3 116.3L-3 57.3L1 57.8L46 66.3L60 68.3L67 68.2L96 65.8L133 65.1L133 169L-3 169L-3 157.7L15 157.4L19 156.7L23.4 155L29 151.5L33.6 147L36.9 142L38.2 137L37.2 133L34.8 130L31.1 127L25.8 124L17 120.7Z" fill="#5b5bf8" fill-rule="evenodd"/>
<path d="M-3 62L28 65.9L47 69.3L59 70.3L133 67.6L133 169L-3 169L-3 160.3L19 160L26 158L32 154.7L36.5 151L40.8 146L45.2 139L46.4 135L45.2 132L41.5 129L34.5 125L26 121.2L16 118L-3 114.7Z" fill="#5656f8" fill-rule="evenodd"/>
<path d="M-3 113.2L-3 66.3L25 68.7L45 71.8L54 72.5L83 72.2L133 70.2L133 129.5L131 127.9L129 128L107 136.7L99 138.5L94 138.7L87 136.8L76.5 130L71 127.7L66.9 127L54 127L49 126.5L18.1 116ZM130 135.7L133 133.6L133 169L-3 169L-3 163L2 162.6L14 163.4L20 163.2L27 161.8L33 159.4L40.6 154L52 141.2L55 139L59 137.4L65 137.1L74 138.7L84 141.5L96 147L102 147.9L106 147.3L109 146.2L120 139.7Z" fill="#5151f8" fill-rule="evenodd"/>
<path d="M-3 111.6L-3 70.1L24 71.7L45 74.6L53 75L84 74.8L133 73L133 124L127 124.3L104 129.5L94 129.9L87 128.7L71 124.2L53 123.3L47 122.4L18 113.6ZM59.1 143L64 142.2L69 143.4L73.4 146L84 155.1L89 158.4L96 161L103 161.8L109 161L114 158.7L118 155.3L125.7 146L129 143.9L133 142.6L133 169L-3 169L-3 165.9L2 165.6L15 166.7L22 166.7L29 165.7L36 163.4L40.5 161L44.5 158L54 146.7Z" fill="#4c4ef6" fill-rule="evenodd"/>
<path d="M-3 74L25 74.9L45 77.4L53 77.8L109 77.2L128 75.9L133 76L133 120.8L126 121.3L104 124.7L92 124.9L71 121.6L49 119.8L19 111.4L-3 110ZM61.4 148L64 147.5L66.7 149L76.1 162L81 165.9L87.1 169L35.9 169L44.6 166L51 162L54.6 158L59 150.3ZM130 165.6L133 160.1L133 169L124.5 169Z" fill="#474ef1" fill-rule="evenodd"/>
<path d="M-3 108.2L-3 77.3L0 77.2L22 78L46 80.5L56 80.9L111 80.4L128 79.1L133 79.5L133 117.6L102 120.5L86 120.4L50 117.1L21 109.1L13 108.6L1 108.8Z" fill="#424dec" fill-rule="evenodd"/>
<path d="M0 81L27 82L53 84.3L95 83.8L112 84.2L131 83.3L133 84L133 113.6L129 114.7L107 115.7L84 116.4L71 116.2L58 115.2L50.3 114L28 107.2L23 106.1L17 105.9L1 107L-1 106.8L-3 106.2L-3 81.3Z" fill="#3e4de5" fill-rule="evenodd"/>
<path d="M-3 86.3L3 85.6L11.1 86L47 89L64 88.2L81 89.8L97 89L121 90.2L125.2 91L128.3 93L131.1 100L131.4 103L130.8 105L129 107.4L127 108.5L124 109.2L90 110.3L70 111.9L62 111.6L53 110.1L30 102.8L25 101.8L18 101.8L0 104.5L-3 103.5Z" fill="#394edc" fill-rule="evenodd"/>
<path d="M59.8 93L65 92.6L68 93.6L70 95L71.4 97L71.8 99L71.4 101L70 103L67 104.9L63 105.5L59 104.8L56.2 103L54.5 100L54.8 97L56.3 95ZM-2 96L0 94.1L1 94.2L3.3 96L4 97L3.7 98L1.5 100L-0.4 100L-2 97.8Z" fill="#364dd5" fill-rule="evenodd"/>
<mask id="mp02"><rect x="-5" y="-5" width="139.8" height="175.5" fill="#fff"/><rect x="-12.3" y="-6" width="24.6" height="12" fill="#000" transform="translate(97.9,27.3) rotate(0)"/><rect x="-16.4" y="-6" width="32.8" height="12" fill="#000" transform="translate(94.9,47.3) rotate(0)"/><rect x="-16.4" y="-6" width="32.8" height="12" fill="#000" transform="translate(94.9,59.9) rotate(0)"/><rect x="-16.4" y="-6" width="32.8" height="12" fill="#000" transform="translate(94.9,71.6) rotate(0)"/><rect x="-16.4" y="-6" width="32.8" height="12" fill="#000" transform="translate(94.9,83.8) rotate(0)"/><rect x="-16.4" y="-6" width="32.8" height="12" fill="#000" transform="translate(36.6,109.9) rotate(14)"/><rect x="-16.4" y="-6" width="32.8" height="12" fill="#000" transform="translate(32.3,120.8) rotate(14)"/></mask>
<path d="M0.7 11.4L3.6 11.5L7.6 11.7L12.3 11.9L17.4 12.2L22.8 12.4L27.9 12.5L33 12.6L38.4 12.7L43.9 12.8L49.4 12.8L55 12.7L60.5 12.5L66.1 12.1L71.8 11.6L77.5 11.1L83.1 10.4L88.3 9.8L93.1 9.2L97.5 8.7L101.4 8.1L105.1 7.6L108.5 7.1L111.7 6.5L114.9 6L118 5.4L121 4.8L123.8 4.1L126.4 3.6L128.5 3.1L130.1 2.7M0.7 26.6L3.6 26.8L7.6 26.9L12.3 27.2L17.4 27.4L22.8 27.6L27.9 27.7L33.1 27.8L38.7 27.7L44.3 27.7L50 27.7L55.5 27.7L60.5 27.7L65.3 27.9L69.9 28.1L74.3 28.3L78.4 28.6L82.2 28.8L85.5 28.8L88.3 28.7L90.5 28.5L92.4 28.2L94.1 27.9L95.9 27.6L97.9 27.3L100.2 27L102.6 26.8L105 26.6L107.5 26.3L110 26L112.7 25.5L115.6 24.9L118.9 24.1L122.3 23.3L125.5 22.4L128.2 21.7L130.1 21.2M0.7 38.6L3.8 38.9L8 39.3L13 39.8L18.2 40.4L23.4 41.1L27.9 41.8L31.9 42.8L35.9 43.9L39.7 45.1L43.2 46.3L46.6 47.4L49.6 48.4L52.3 49.2L54.5 50.1L56.4 50.9L58.3 51.6L60.4 52L62.7 52.1L65.4 51.7L68.3 50.9L71.3 49.9L74.3 48.8L77.3 47.9L80.1 47.3L82.7 47L85.1 46.9L87.4 47L89.8 47.1L92.3 47.2L94.9 47.3L97.7 47.2L100.6 47L103.6 46.8L106.7 46.6L109.7 46.6L112.7 46.8L115.8 47.3L119.2 48.1L122.5 49L125.6 49.9L128.2 50.7L130.1 51.2M0.7 49.4L3.8 50.2L8 51.2L13 52.4L18.2 53.6L23.4 54.9L27.9 56L31.9 57L35.9 58L39.7 58.9L43.2 59.8L46.6 60.7L49.6 61.4L52.3 62.1L54.5 62.7L56.4 63.3L58.3 63.8L60.4 64.1L62.7 64.2L65.4 64.1L68.3 63.7L71.3 63.1L74.3 62.5L77.3 61.9L80.1 61.4L82.7 61.1L85.1 60.7L87.4 60.5L89.8 60.2L92.3 60L94.9 59.9L97.7 59.8L100.6 59.8L103.6 59.8L106.7 59.8L109.7 59.8L112.7 59.9L115.8 59.9L119.2 60L122.5 60.1L125.6 60.2L128.2 60.3L130.1 60.3M0.7 66.8L3.8 67.1L8 67.4L13 67.7L18.2 68.1L23.4 68.6L27.9 69L31.7 69.5L35.2 70.1L38.6 70.8L42 71.4L45.6 71.9L49.6 72.3L54.4 72.5L59.7 72.5L65.3 72.5L70.8 72.4L75.8 72.3L80.1 72.3L83.4 72.2L86.1 72.1L88.3 72L90.3 71.8L92.4 71.7L94.9 71.6L97.7 71.5L100.6 71.5L103.6 71.4L106.7 71.4L109.7 71.3L112.7 71.2L115.8 71L119.2 70.8L122.5 70.6L125.6 70.4L128.2 70.2L130.1 70.1M0.7 81L3.8 81.1L8 81.2L13 81.4L18.2 81.6L23.4 81.8L27.9 82.1L31.7 82.4L35.2 82.8L38.6 83.2L42 83.6L45.6 84L49.6 84.2L54.4 84.4L59.7 84.4L65.3 84.4L70.8 84.3L75.8 84.3L80.1 84.2L83.4 84.2L86.1 84.1L88.3 84L90.3 83.9L92.4 83.8L94.9 83.8L97.7 83.8L100.6 83.9L103.6 84.1L106.7 84.2L109.7 84.2L112.7 84.2L115.8 84.1L119.2 83.9L122.5 83.7L125.6 83.5L128.2 83.3L130.1 83.1M71.8 99L71.8 99.3L71.8 99.6L71.7 99.9L71.7 100.1L71.6 100.4L71.5 100.7L71.4 101L71.3 101.2L71.2 101.5L71 101.8L70.8 102L70.7 102.3L70.5 102.5L70.2 102.8L70 103L69.8 103.2L69.5 103.4L69.3 103.6L69 103.8L68.7 104L68.4 104.2L68.1 104.4L67.8 104.5L67.5 104.7L67.1 104.8L66.8 104.9L66.5 105L66.1 105.1L65.7 105.2L65.4 105.3L65 105.4L64.6 105.4L64.3 105.5L63.9 105.5L63.5 105.5L63.1 105.5L62.7 105.5L62.4 105.5L62 105.5L61.6 105.4L61.2 105.4L60.9 105.3L60.5 105.2L60.2 105.1L59.8 105L59.4 104.9L59.1 104.8L58.8 104.7L58.5 104.5L58.1 104.4L57.8 104.2L57.5 104L57.2 103.8L57 103.6L56.7 103.4L56.5 103.2L56.2 103L56 102.8L55.8 102.5L55.6 102.3L55.4 102L55.2 101.8L55.1 101.5L55 101.2L54.8 101L54.7 100.7L54.6 100.4L54.6 100.1L54.5 99.9L54.5 99.6L54.4 99.3L54.4 99L54.4 98.7L54.5 98.4L54.5 98.2L54.6 97.9L54.6 97.6L54.7 97.3L54.8 97.1L55 96.8L55.1 96.5L55.2 96.3L55.4 96L55.6 95.8L55.8 95.5L56 95.3L56.2 95L56.5 94.8L56.7 94.6L57 94.4L57.2 94.2L57.5 94L57.8 93.8L58.1 93.7L58.5 93.5L58.8 93.4L59.1 93.2L59.4 93.1L59.8 93L60.2 92.9L60.5 92.8L60.9 92.7L61.2 92.6L61.6 92.6L62 92.5L62.4 92.5L62.7 92.5L63.1 92.5L63.5 92.5L63.9 92.5L64.3 92.5L64.6 92.6L65 92.6L65.4 92.7L65.7 92.8L66.1 92.9L66.5 93L66.8 93.1L67.1 93.2L67.5 93.4L67.8 93.5L68.1 93.7L68.4 93.8L68.7 94L69 94.2L69.3 94.4L69.5 94.6L69.8 94.8L70 95L70.2 95.3L70.5 95.5L70.7 95.8L70.8 96L71 96.3L71.2 96.5L71.3 96.8L71.4 97.1L71.5 97.3L71.6 97.6L71.7 97.9L71.7 98.2L71.8 98.4L71.8 98.7L71.8 99M0.7 94L1.2 94.4L1.8 94.9L2.6 95.4L3.3 96.1L3.8 96.7L4 97.3L3.8 97.9L3.3 98.5L2.6 99.1L1.8 99.7L1.2 100.2L0.7 100.5M0.7 107.1L3 106.9L6.3 106.6L10.1 106.3L14.1 106L18 105.9L21.4 106L24.2 106.3L26.8 106.9L29.2 107.6L31.6 108.3L34 109.1L36.6 109.9L39.3 110.7L41.8 111.5L44.5 112.4L47.3 113.3L50.4 114L54 114.7L57.9 115.2L61.9 115.6L66.2 115.9L71 116.2L76.3 116.4L82.3 116.4L89.6 116.3L98.5 116L107.9 115.6L117 115.2L124.7 114.9L130.1 114.7M0.7 113.6L2.5 113.8L5 114L7.9 114.4L11.1 114.7L14.2 115.2L17 115.8L19.6 116.4L22.1 117.2L24.6 118L27.1 118.9L29.6 119.8L32.3 120.8L35 121.7L37.7 122.8L40.5 123.9L43.4 125L46.5 125.9L49.6 126.6L53.1 127L56.7 127L60.5 126.9L64.3 126.9L68 127.1L71.4 127.7L74.6 128.9L77.6 130.7L80.5 132.7L83.3 134.6L86.1 136.3L88.8 137.5L91.3 138.2L93.6 138.6L95.8 138.7L98.2 138.6L100.9 138.2L104 137.5L108 136.3L112.9 134.6L118 132.6L122.9 130.6L127.1 128.9L130.1 127.7M0.7 120.1L3.2 120.9L6.7 122L10.7 123.2L14.9 124.6L18.6 126.2L21.4 127.7L23.3 129.3L24.9 131.1L26 132.9L26.7 134.8L27 136.7L26.8 138.6L26.1 140.6L24.9 142.8L23.3 145.1L21.3 147.2L19.2 149.1L17 150.5L14.5 151.5L11.5 152.1L8.3 152.4L5.2 152.5L2.6 152.6L0.7 152.7M0.7 125.5L1.8 126L3.3 126.6L5 127.3L6.8 128.1L8.3 129L9.4 129.9L10.1 130.8L10.6 131.9L10.9 133L11 134.1L10.9 135.3L10.5 136.4L9.8 137.6L8.8 138.8L7.5 140L6.2 141.2L5 142.2L4 142.9L3.2 143.4L2.5 143.7L2 143.9L1.5 143.9L1.1 144L0.7 144" fill="none" stroke="#3a3a5a" stroke-width="0.8" stroke-opacity="0.85" mask="url(#mp02)"/>
<text transform="translate(97.9,27.3) rotate(0)" x="0" y="4.6" text-anchor="middle" font-family="Liberation Serif" font-size="13.5" textLength="18.8" lengthAdjust="spacingAndGlyphs" fill="#000">0.2</text>
<text transform="translate(94.9,47.3) rotate(0)" x="0" y="4.6" text-anchor="middle" font-family="Liberation Serif" font-size="13.5" textLength="25.0" lengthAdjust="spacingAndGlyphs" fill="#000">0.24</text>
<text transform="translate(94.9,59.9) rotate(0)" x="0" y="4.6" text-anchor="middle" font-family="Liberation Serif" font-size="13.5" textLength="25.0" lengthAdjust="spacingAndGlyphs" fill="#000">0.28</text>
<text transform="translate(94.9,71.6) rotate(0)" x="0" y="4.6" text-anchor="middle" font-family="Liberation Serif" font-size="13.5" textLength="25.0" lengthAdjust="spacingAndGlyphs" fill="#000">0.32</text>
<text transform="translate(94.9,83.8) rotate(0)" x="0" y="4.6" text-anchor="middle" font-family="Liberation Serif" font-size="13.5" textLength="25.0" lengthAdjust="spacingAndGlyphs" fill="#000">0.36</text>
<text transform="translate(36.6,109.9) rotate(14)" x="0" y="4.6" text-anchor="middle" font-family="Liberation Serif" font-size="13.5" textLength="25.0" lengthAdjust="spacingAndGlyphs" fill="#000">0.36</text>
<text transform="translate(32.3,120.8) rotate(14)" x="0" y="4.6" text-anchor="middle" font-family="Liberation Serif" font-size="13.5" textLength="25.0" lengthAdjust="spacingAndGlyphs" fill="#000">0.32</text>
<text x="6.7" y="19.2" font-family="Liberation Serif" font-size="15.5" textLength="37.8" lengthAdjust="spacingAndGlyphs" fill="#000">(B50)</text>
</g>
<clipPath id="cp03"><rect x="0" y="0" width="130.9" height="165.5"/></clipPath>
<g transform="translate(517.4,58.9)" clip-path="url(#cp03)">
<rect x="-2" y="-2" width="134.9" height="169.5" fill="#f2f2fe"/>
<path d="M-3 -2L3.8 -3L134 -3L134 169L-3 169Z" fill="#ececfc" fill-rule="evenodd"/>
<path d="M6 0.8L25.2 -3L117.5 -3L130 -1.1L134 -1.4L134 169L-3 169L-3 1.8Z" fill="#e7e7fc" fill-rule="evenodd"/>
<path d="M16 3.3L46.1 -3L88.4 -3L130 0.3L134 0.1L134 169L-3 169L-3 5.7Z" fill="#e0e0fb" fill-rule="evenodd"/>
<path d="M59.3 0L134 1.4L134 169L-3 169L-3 9.4L18 7.3L46 1.5Z" fill="#dbdbfb" fill-rule="evenodd"/>
<path d="M90 4.5L134 2.7L134 169L-3 169L-3 13.2L24 11.1L46 6.5L57 5Z" fill="#d8d8fa" fill-rule="evenodd"/>
<path d="M90 8.8L130 3.5L134 4L134 169L-3 169L-3 17.1L27 15.8L53 11.5Z" fill="#d4d4fa" fill-rule="evenodd"/>
<path d="M112 9.4L131 4.8L134 5.6L134 169L-3 169L-3 21.3L7 20.9L58 21.2L79.7 16Z" fill="#cecef9" fill-rule="evenodd"/>
<path d="M129.4 7L131.6 7L134 7.8L134 169L-3 169L-3 25.7L8 25.4L26 26.1L36 27.2L53 30.5L61 30.5L67.1 29L84 21.9L109 14.5Z" fill="#c6c6f9" fill-rule="evenodd"/>
<path d="M127.1 11L131 10.3L134 11.2L134 169L-3 169L-3 30.5L8 30.1L25 30.8L33 31.8L53 35.7L63 35.8L70.3 34L85 28.3L107 21.5L114 18.3Z" fill="#bcbcf8" fill-rule="evenodd"/>
<path d="M112 29.4L134 23.6L134 169L-3 169L-3 35.7L12 35L27 35.3L53 39.3L62 39.5L70 38.2L88 33.4Z" fill="#b1b1f8" fill-rule="evenodd"/>
<path d="M82.6 39L100 38.2L111 38.8L126 40.6L134 39.8L134 169L-3 169L-3 41.6L16 39.6L26 39.2L35 39.8L54 42.2L61 42.4Z" fill="#a7a7f8" fill-rule="evenodd"/>
<path d="M23.4 43L36 42.9L60 44.9L79 42.8L87 42.6L108 44.2L127 47.1L134 46.8L134 169L-3 169L-3 46.9L1 46.7L13 44.3Z" fill="#9b9bf8" fill-rule="evenodd"/>
<path d="M28 46L39 45.7L60 47.2L77 45.7L83 45.7L109 48.4L129 51.5L134 51.4L134 169L-3 169L-3 50.8L1 50.7L15 47.6Z" fill="#9090f8" fill-rule="evenodd"/>
<path d="M28.6 49L41 48.4L61 49.4L81 48.5L110 51.8L130 54.8L134 54.6L134 169L-3 169L-3 53.6L0 53.8L14 50.9Z" fill="#8787f8" fill-rule="evenodd"/>
<path d="M40.6 51L60 51.7L81 51.1L129 57.1L134 57.2L134 169L-3 169L-3 55.9L1 55.7L23 52.5Z" fill="#7e7ef8" fill-rule="evenodd"/>
<path d="M35.7 54L45 53.5L60 54L81 53.7L115 57.8L134 59.5L134 169L-3 169L-3 57.9Z" fill="#7575f7" fill-rule="evenodd"/>
<path d="M44.3 56L82 56.3L113 60L134 61.7L134 169L-3 169L-3 59.8Z" fill="#6c6cf7" fill-rule="evenodd"/>
<path d="M-3 61.8L52 58.1L81 58.7L112 62.5L134 64L134 169L-3 169Z" fill="#6565f7" fill-rule="evenodd"/>
<path d="M56.3 60L84 61.5L112 65.2L134 66.7L134 169L-3 169L-3 63.9Z" fill="#6060f7" fill-rule="evenodd"/>
<path d="M54.1 62L66 62.1L112 68.1L134 69.6L134 169L-3 169L-3 66.1L27 64.4Z" fill="#5b5bf8" fill-rule="evenodd"/>
<path d="M54.2 64L64 63.9L111 71.1L134 72.6L134 169L-3 169L-3 68.5L28 66.6Z" fill="#5656f8" fill-rule="evenodd"/>
<path d="M55.5 66L64.2 66L81 69.5L110 74.2L134 75.7L134 169L-3 169L-3 71L29 68.9Z" fill="#5151f8" fill-rule="evenodd"/>
<path d="M30 71.3L59 68.2L63 68.4L84 73.2L104 77L112 77.8L134 78.8L134 169L-3 169L-3 73.6Z" fill="#4c4ef6" fill-rule="evenodd"/>
<path d="M-3 76.3L59 71.4L64 71.8L104 81L134 82L134 136.8L132 136.5L130.8 137L131 138.1L134 138.2L134 169L-3 169Z" fill="#474ef1" fill-rule="evenodd"/>
<path d="M-3 79.2L60 75.6L67 76.4L103 85.7L126 84.8L134 85.5L134 125.8L120 133L117.9 135L117.1 137L117.3 139L119 141.2L130 147L134 150.3L134 169L-3 169ZM60 128.8L56 130.6L53.8 133L52.7 136L53.4 140L55.9 143L59 144.6L63 145.1L67 144.1L70 142.1L71.5 140L72.2 137L71.6 134L70 131.6L67 129.5L64 128.7Z" fill="#424dec" fill-rule="evenodd"/>
<path d="M26.1 81L58 81.1L70 82L76 83.3L97 90.4L103 91.8L107 91.7L117 89.6L131 89.2L134 90.5L134 110.6L130 111.4L110 109.9L95 110.1L71 113.6L49 115.1L19 121L12 121.2L0 120.1L-3 120.7L-3 82.4ZM52.2 160L65 160.2L74 161.1L107.2 169L25.6 169L40 162.1L46 160.6Z" fill="#3e4de5" fill-rule="evenodd"/>
<path d="M-3 86.2L28 86.8L48 88.4L66 88.7L71.3 90L75 92L77.6 95L77.8 97L76.7 99L74.3 101L70.6 103L66 104.5L61 105.1L47 103.9L40 104.3L31 106.4L12 112.5L-3 114.1Z" fill="#394edc" fill-rule="evenodd"/>
<path d="M-3 91L0 90.8L6 92.1L8 93.2L10.7 96L12 99L11.7 101L9.8 104L7.6 106L4 107.4L-3 108.3Z" fill="#364dd5" fill-rule="evenodd"/>
<mask id="mp03"><rect x="-5" y="-5" width="140.9" height="175.5" fill="#fff"/><rect x="-12.3" y="-6" width="24.6" height="12" fill="#000" transform="translate(97.9,31.6) rotate(-3)"/><rect x="-16.4" y="-6" width="32.8" height="12" fill="#000" transform="translate(93.5,49.9) rotate(0)"/><rect x="-16.4" y="-6" width="32.8" height="12" fill="#000" transform="translate(93.5,59.9) rotate(0)"/><rect x="-16.4" y="-6" width="32.8" height="12" fill="#000" transform="translate(93.5,71.6) rotate(5)"/><rect x="-16.4" y="-6" width="32.8" height="12" fill="#000" transform="translate(86.3,86.8) rotate(12)"/><rect x="-16.4" y="-6" width="32.8" height="12" fill="#000" transform="translate(32.6,118.6) rotate(-8)"/></mask>
<path d="M0 16.8L3.1 16.8L7.3 16.7L12.3 16.5L17.5 16.3L22.7 16.1L27.2 15.8L31.2 15.3L35 14.6L38.7 13.9L42.2 13.2L45.6 12.6L48.9 12.1L52.1 11.6L55 11.3L57.8 11L60.5 10.8L63.4 10.5L66.3 10.3L69.4 10.1L72.4 10L75.4 9.9L78.7 9.7L82.1 9.5L85.9 9.2L90.2 8.8L95.1 8.3L100.2 7.7L105.3 7.1L110 6.5L114.2 6L117.8 5.5L121.1 5L124.1 4.5L126.7 4L128.8 3.6L130.5 3.4M0 35.3L2.9 35.3L6.9 35.2L11.6 35L16.7 35L22.1 35.1L27.2 35.3L32.4 35.9L37.9 36.8L43.6 37.9L49.2 38.8L54.7 39.5L59.8 39.7L64.7 39.2L69.5 38.3L74.2 37.1L78.5 35.9L82.4 34.7L85.9 33.8L88.7 33.2L90.9 32.8L92.6 32.5L94.2 32.2L95.9 31.9L97.9 31.6L100 31.3L102.2 31L104.5 30.7L106.9 30.4L109.4 30L112 29.4L115 28.7L118.5 27.8L122.1 26.8L125.5 25.8L128.4 25L130.5 24.4M0 53.8L1.7 53.4L4.1 52.9L6.8 52.3L9.9 51.7L13.1 51.1L16.3 50.5L19.6 50.1L23.2 49.6L26.9 49.2L30.6 48.8L34.4 48.5L38.1 48.4L41.7 48.4L45.4 48.6L49.2 48.8L52.8 49.1L56.4 49.4L59.8 49.4L63.1 49.4L66.3 49.1L69.5 48.9L72.5 48.6L75.4 48.4L78.3 48.4L81 48.5L83.5 48.7L85.9 48.9L88.3 49.2L90.8 49.6L93.5 49.9L96.4 50.2L99.4 50.5L102.5 50.9L105.7 51.3L108.9 51.6L112 52.1L115.3 52.5L118.8 53.1L122.4 53.6L125.7 54.1L128.5 54.6L130.5 54.9M0 61.4L3.1 61.2L7.3 61L12.3 60.8L17.5 60.5L22.7 60.2L27.2 59.9L31.1 59.6L34.6 59.2L37.9 58.9L41.3 58.6L44.9 58.3L48.9 58.1L53.6 58.1L58.7 58.1L64 58.2L69.3 58.3L74.1 58.4L78.3 58.6L81.6 58.7L84.3 58.9L86.6 59.1L88.7 59.3L91 59.6L93.5 59.9L96.4 60.3L99.4 60.7L102.5 61.2L105.7 61.7L108.9 62.1L112 62.5L115.3 62.8L118.8 63L122.4 63.2L125.7 63.4L128.5 63.5L130.5 63.6M0 70.8L3.1 70.6L7.3 70.3L12.3 70L17.5 69.7L22.7 69.3L27.2 69L31.2 68.7L35.2 68.3L39 67.9L42.5 67.5L45.9 67.1L48.9 66.8L51.6 66.5L53.8 66.2L55.8 66L57.7 65.8L59.7 65.7L62 65.8L64.5 66.1L67.2 66.5L70 67.2L72.8 67.8L75.6 68.5L78.3 69L80.9 69.5L83.3 69.9L85.8 70.3L88.2 70.8L90.8 71.2L93.5 71.6L96.4 72.1L99.4 72.6L102.5 73.1L105.7 73.6L108.9 74.1L112 74.4L115.3 74.7L118.8 75L122.4 75.2L125.7 75.3L128.5 75.4L130.5 75.5M0 82.1L3.1 81.9L7.3 81.7L12.3 81.5L17.5 81.3L22.7 81.1L27.2 81L31.1 80.9L34.9 80.8L38.4 80.8L41.9 80.8L45.4 80.9L48.9 81L52.6 81L56.4 81.1L60.2 81.2L63.9 81.4L67.4 81.6L70.7 82.1L73.6 82.6L76.3 83.4L78.8 84.2L81.3 85.1L83.7 86L86.3 86.8L89.1 87.7L92 88.8L95 89.8L97.9 90.7L100.7 91.4L103.3 91.8L105.7 91.9L107.9 91.6L110 91.1L112.1 90.5L114.1 90L116.3 89.7L118.8 89.5L121.5 89.3L124.2 89.2L126.8 89.1L128.9 89.1L130.5 89M0 90.8L0.9 90.9L2.1 91.2L3.6 91.4L5.1 91.8L6.5 92.3L7.6 92.9L8.7 93.8L9.7 94.8L10.6 95.9L11.3 97.1L11.8 98.3L12 99.4L11.8 100.6L11.3 101.8L10.6 103L9.7 104.1L8.7 105.1L7.6 106L6.5 106.6L5.1 107.1L3.6 107.5L2.1 107.7L0.9 108L0 108.1M0 120.1L1.8 120.3L4.3 120.5L7.2 120.8L10.3 121.1L13.4 121.2L16.3 121.2L19.1 121L21.8 120.6L24.5 120.2L27.2 119.6L29.9 119.1L32.6 118.6L35.3 118L37.9 117.4L40.5 116.8L43.1 116.1L45.9 115.6L48.9 115.1L52.3 114.8L55.8 114.5L59.5 114.3L63.2 114.1L67 113.9L70.7 113.6L74.4 113.1L78.1 112.5L81.8 111.9L85.5 111.3L89.1 110.7L92.4 110.3L95.5 110.1L98.4 109.9L101.2 109.8L103.9 109.8L106.8 109.8L109.8 109.9L113.3 110L117.2 110.3L121.2 110.6L125 110.9L128.2 111.2L130.5 111.4M72.2 136.8L72.2 137.2L72.2 137.6L72.1 137.9L72.1 138.3L72 138.6L71.9 139L71.8 139.3L71.6 139.7L71.5 140L71.3 140.3L71.1 140.7L70.9 141L70.7 141.3L70.4 141.6L70.2 141.9L69.9 142.2L69.6 142.4L69.3 142.7L69 142.9L68.7 143.2L68.4 143.4L68 143.6L67.7 143.8L67.3 144L66.9 144.2L66.6 144.3L66.2 144.5L65.8 144.6L65.4 144.7L65 144.8L64.5 144.9L64.1 145L63.7 145L63.3 145.1L62.9 145.1L62.4 145.1L62 145.1L61.6 145.1L61.1 145L60.7 145L60.3 144.9L59.9 144.8L59.5 144.7L59.1 144.6L58.7 144.5L58.3 144.3L57.9 144.2L57.5 144L57.2 143.8L56.8 143.6L56.5 143.4L56.1 143.2L55.8 142.9L55.5 142.7L55.2 142.4L54.9 142.2L54.7 141.9L54.4 141.6L54.2 141.3L54 141L53.8 140.7L53.6 140.3L53.4 140L53.2 139.7L53.1 139.3L53 139L52.9 138.6L52.8 138.3L52.7 137.9L52.7 137.6L52.7 137.2L52.6 136.8L52.7 136.5L52.7 136.1L52.7 135.8L52.8 135.4L52.9 135L53 134.7L53.1 134.4L53.2 134L53.4 133.7L53.6 133.3L53.8 133L54 132.7L54.2 132.4L54.4 132.1L54.7 131.8L54.9 131.5L55.2 131.3L55.5 131L55.8 130.8L56.1 130.5L56.5 130.3L56.8 130.1L57.2 129.9L57.5 129.7L57.9 129.5L58.3 129.4L58.7 129.2L59.1 129.1L59.5 129L59.9 128.9L60.3 128.8L60.7 128.7L61.1 128.6L61.6 128.6L62 128.6L62.4 128.6L62.9 128.6L63.3 128.6L63.7 128.6L64.1 128.7L64.5 128.8L65 128.9L65.4 129L65.8 129.1L66.2 129.2L66.6 129.4L66.9 129.5L67.3 129.7L67.7 129.9L68 130.1L68.4 130.3L68.7 130.5L69 130.8L69.3 131L69.6 131.3L69.9 131.5L70.2 131.8L70.4 132.1L70.7 132.4L70.9 132.7L71.1 133L71.3 133.3L71.5 133.7L71.6 134L71.8 134.4L71.9 134.7L72 135L72.1 135.4L72.1 135.8L72.2 136.1L72.2 136.5L72.2 136.8M130.5 127.7L129 128.4L126.9 129.4L124.5 130.6L122.1 131.8L120 133.1L118.5 134.2L117.7 135.3L117.2 136.4L117 137.5L117.2 138.6L117.7 139.7L118.5 140.8L120 141.9L122.1 143.2L124.5 144.4L126.9 145.6L129 146.6L130.5 147.3" fill="none" stroke="#3a3a5a" stroke-width="0.8" stroke-opacity="0.85" mask="url(#mp03)"/>
<text transform="translate(97.9,31.6) rotate(-3)" x="0" y="4.6" text-anchor="middle" font-family="Liberation Serif" font-size="13.5" textLength="18.8" lengthAdjust="spacingAndGlyphs" fill="#000">0.2</text>
<text transform="translate(93.5,49.9) rotate(0)" x="0" y="4.6" text-anchor="middle" font-family="Liberation Serif" font-size="13.5" textLength="25.0" lengthAdjust="spacingAndGlyphs" fill="#000">0.24</text>
<text transform="translate(93.5,59.9) rotate(0)" x="0" y="4.6" text-anchor="middle" font-family="Liberation Serif" font-size="13.5" textLength="25.0" lengthAdjust="spacingAndGlyphs" fill="#000">0.28</text>
<text transform="translate(93.5,71.6) rotate(5)" x="0" y="4.6" text-anchor="middle" font-family="Liberation Serif" font-size="13.5" textLength="25.0" lengthAdjust="spacingAndGlyphs" fill="#000">0.32</text>
<text transform="translate(86.3,86.8) rotate(12)" x="0" y="4.6" text-anchor="middle" font-family="Liberation Serif" font-size="13.5" textLength="25.0" lengthAdjust="spacingAndGlyphs" fill="#000">0.36</text>
<text transform="translate(32.6,118.6) rotate(-8)" x="0" y="4.6" text-anchor="middle" font-family="Liberation Serif" font-size="13.5" textLength="25.0" lengthAdjust="spacingAndGlyphs" fill="#000">0.36</text>
<text x="4.6" y="21.1" font-family="Liberation Serif" font-size="15.5" textLength="45.1" lengthAdjust="spacingAndGlyphs" fill="#000">(B100)</text>
</g>
<clipPath id="cp10"><rect x="0" y="0" width="130.0" height="165.5"/></clipPath>
<g transform="translate(97.5,236.1)" clip-path="url(#cp10)">
<rect x="-2" y="-2" width="134.0" height="169.5" fill="#f2f2fe"/>
<path d="M1 0.1L12.4 -3L133 -3L133 169L-3 169L-3 0.6Z" fill="#ececfc" fill-rule="evenodd"/>
<path d="M21 0.5L48.7 -3L133 -3L133 169L-3 169L-3 4.9Z" fill="#e7e7fc" fill-rule="evenodd"/>
<path d="M49 3.1L81.5 -3L126.3 -3L133 -1.9L133 169L-3 169L-3 9.7Z" fill="#e0e0fb" fill-rule="evenodd"/>
<path d="M101.2 -1L115 -1.7L133 0.3L133 169L-3 169L-3 16.6L18 14.4L43 10.8Z" fill="#dbdbfb" fill-rule="evenodd"/>
<path d="M118.7 2L127 1.8L133 2.3L133 169L-3 169L-3 23.9L1 24.4L5.6 24L43 18.5L61 13.7L84 9.2L103.4 4Z" fill="#d8d8fa" fill-rule="evenodd"/>
<path d="M127.6 4L131 3.8L133 4.7L133 169L-3 169L-3 29.1L1 29.6L54 25.2L61 21.7L91 16.4L107.9 10Z" fill="#d4d4fa" fill-rule="evenodd"/>
<path d="M128.4 16L131 15.5L133 16.3L133 27.8L131 28.6L129 28.4L127 27.2L125.2 24L124.9 22L125.5 19L127 16.9ZM81.3 31L91 31L98 32.2L117 40.9L133 45.3L133 169L-3 169L-3 32.6L2 33.1L25 32.6L55 34.2Z" fill="#cecef9" fill-rule="evenodd"/>
<path d="M-3 169L-3 35.4L2 36L20 36.2L34 38.2L63 43.8L84 44.5L91 45.2L99 47.1L120 53.9L133 57L133 169Z" fill="#c6c6f9" fill-rule="evenodd"/>
<path d="M-3 38L13 38.8L21.2 40L38 44.3L66 53.1L72 54L85 54.2L93 55.2L133 65.2L133 169L-3 169Z" fill="#bcbcf8" fill-rule="evenodd"/>
<path d="M-3 169L-3 40L9 41.2L20 43.3L37.3 49L68 60.7L92 62.7L133 71.9L133 169Z" fill="#b1b1f8" fill-rule="evenodd"/>
<path d="M-3 42L9 43.8L18 46.2L35.5 53L59 63.2L68 66.3L99 70.6L133 77.6L133 169L-3 169Z" fill="#a7a7f8" fill-rule="evenodd"/>
<path d="M-3 44L3 44.8L14 48.4L55 66.4L68 71.2L80 73.9L109 78.1L133 83L133 169L-3 169Z" fill="#9b9bf8" fill-rule="evenodd"/>
<path d="M-3 46L0 46L2.9 47L46 67.3L58 72.3L69 76.2L81 79.3L109 83.4L127 86.9L133 88.6L133 169L-3 169Z" fill="#9090f8" fill-rule="evenodd"/>
<path d="M-2.9 48L0 48.2L16 57.8L35 67.5L47.8 73L62 78.3L80 83.8L114.3 90L130 93.7L133 95.5L133 169L-3 169Z" fill="#8787f8" fill-rule="evenodd"/>
<path d="M-3 169L-3 51.4L0 52.3L13 61.8L21 66.6L38 74.4L71 85.4L116 96.9L123 99.4L127.2 102L130.6 106L133 111L133 169Z" fill="#7e7ef8" fill-rule="evenodd"/>
<path d="M-3 169L-3 57.5L0 59.1L14 70.7L23 75.2L37.5 80L89 94.3L112 102.6L120.2 107L123 109.7L125.3 113L130.2 125L133 129.4L133 169Z" fill="#7575f7" fill-rule="evenodd"/>
<path d="M-3 169L-3 71.5L4 77.4L10.3 80L46 87.3L83 96.6L108.8 108L115 111.6L118.7 115L121.6 119L133 140.7L133 162.1L130 166L128.6 169Z" fill="#6c6cf7" fill-rule="evenodd"/>
<path d="M-3 89L0 89.4L19 88.9L40 90.9L74 98.2L82 100.5L88 103.2L109 114.6L113 117.6L116.3 121L121.4 129L125.7 139L130.2 153L129.6 156L124.7 163L121.6 169L-3 169Z" fill="#6565f7" fill-rule="evenodd"/>
<path d="M-3 95.1L18 94.3L31 94.4L41 95.4L52 97.4L75 103.1L83 105.6L91 109.4L103 116.7L109.5 122L114.3 128L117.8 135L120.5 144L121.3 150L121 154L114.7 169L-3 169Z" fill="#6060f7" fill-rule="evenodd"/>
<path d="M16.5 99L35 98.8L43 99.7L51 101.3L83 110L90 113.1L97.6 118L103 123L107.6 129L110.7 135L112.7 142L113.3 148L112.8 154L110.9 161L107.7 169L-3 169L-3 100.1Z" fill="#5b5bf8" fill-rule="evenodd"/>
<path d="M22 103L38 103L52 105.4L83 113.8L89 116.6L93.8 120L97.6 124L101.5 130L104 136L105.3 142L105.6 149L104.7 156L103 163L100.4 169L-3 169L-3 104.7Z" fill="#5656f8" fill-rule="evenodd"/>
<path d="M24.6 107L41 107.1L61 110.8L81.9 117L86.1 119L90.3 122L93.6 126L96.1 131L98 137L98.9 143L98.3 151L96.2 162L94.2 166L92 168.7L-3 169L-3 109.1Z" fill="#5151f8" fill-rule="evenodd"/>
<path d="M27.5 111L41 111L62 113.7L76.3 118L82 120.7L85.4 123L88.3 126L90.7 130L92.3 135L93.2 141L92.9 147L91.4 154L89.5 159L86.8 163L83 166.4L78.5 169L-3 169L-3 113.3Z" fill="#4c4ef6" fill-rule="evenodd"/>
<path d="M36.6 115L57 115.6L64 116.5L74 119.7L81 124.1L83.8 127L85.7 130L87.2 134L88.1 139L87.9 144L87.1 148L85.6 152L83 156.3L79.3 160L74.5 163L69 165.1L62 166.4L55 166.5L42 165.4L29 167.4L21 167.7L-3 165.3L-3 117.6Z" fill="#474ef1" fill-rule="evenodd"/>
<path d="M-3 122L60 118.3L67 119.5L74.5 123L79.6 128L81.4 131L82.8 135L83.2 139L82.9 143L81.6 147L80 149.9L75 155L70 158L65 159.9L60 161L54 161.5L24 161.7L16 160.6L-3 156.6Z" fill="#424dec" fill-rule="evenodd"/>
<path d="M59.3 121L66 121.7L71.1 124L73.4 126L75.6 129L78 135L78 141L76 145.8L71 150.5L65 154L60 155.7L53 156.7L32 156.7L24 155.5L-3 148.9L-3 126.7L22 126L46 123.3Z" fill="#3e4de5" fill-rule="evenodd"/>
<path d="M56.2 125L62 124.3L65 124.8L67.8 126L70 127.9L71.5 130L73.1 135L72.6 140L70.3 144L65.1 148L59 150.5L50 151.7L40 151.3L31 149.2L18 144.2L14 143.6L2 143.2L-3 141.8L-3 132.4L-2 132L3 131.7L15 134.7L21 134.8L31 132.5Z" fill="#394edc" fill-rule="evenodd"/>
<path d="M56.8 130L62 129.4L65.3 131L66.7 133L67.1 135L66.7 138L65.6 140L62 142.9L57 144.3L51 144.1L46.5 142L45.7 141L45.4 139L47.2 136L50.8 133Z" fill="#364dd5" fill-rule="evenodd"/>
<mask id="mp10"><rect x="-5" y="-5" width="140.0" height="175.5" fill="#fff"/><rect x="-16.4" y="-6" width="32.8" height="12" fill="#000" transform="translate(73.8,19.5) rotate(-5)"/><rect x="-12.3" y="-6" width="24.6" height="12" fill="#000" transform="translate(98.8,64.0) rotate(8)"/><rect x="-16.4" y="-6" width="32.8" height="12" fill="#000" transform="translate(94.5,86.2) rotate(10)"/><rect x="-16.4" y="-6" width="32.8" height="12" fill="#000" transform="translate(96.7,107.9) rotate(25)"/><rect x="-16.4" y="-6" width="32.8" height="12" fill="#000" transform="translate(70.2,113.4) rotate(15)"/><rect x="-16.4" y="-6" width="32.8" height="12" fill="#000" transform="translate(46.7,123.2) rotate(-8)"/></mask>
<path d="M-0.1 9L3 8.7L7.2 8.2L12.2 7.6L17.4 6.9L22.6 6.3L27.1 5.8L31.1 5.3L34.8 4.9L38.5 4.5L42 4.1L45.4 3.6L48.8 3.2L52.5 2.6L56.3 1.9L60 1.3L63.4 0.6L66.3 0.1L68.4 -0.3M-0.1 29.7L2.9 29.4L7 29.1L11.9 28.7L17.1 28.3L22.3 27.9L27.1 27.5L31.7 27.2L36.6 26.8L41.4 26.5L46 26.1L50 25.8L53.2 25.3L55.3 24.8L56.5 24.3L57.2 23.7L57.7 23.2L58.4 22.6L59.7 22.1L61.6 21.6L63.8 21.2L66.2 20.7L68.7 20.3L71.3 19.9L73.8 19.5L76.4 19L79.1 18.7L81.8 18.3L84.6 17.9L87.3 17.3L90.2 16.6L93 15.8L95.9 14.7L98.8 13.5L101.7 12.3L104.6 11.2L107.5 10.1L110.6 9.1L113.8 8.1L117 7.1L120 6.1L122.7 5.3L124.9 4.7L126.6 4.2L127.8 4L128.7 3.8L129.4 3.7L129.9 3.7L130.4 3.6M-0.1 40.6L1.6 40.7L4 40.8L6.7 41L9.8 41.3L13 41.7L16.2 42.3L19.5 43.1L23.1 44.2L26.8 45.3L30.5 46.6L34.3 47.9L38 49.2L41.7 50.7L45.6 52.2L49.5 53.8L53.3 55.4L56.7 56.8L59.7 57.9L62.1 58.8L64 59.5L65.6 60.1L67 60.5L68.6 60.9L70.6 61.2L72.9 61.4L75.4 61.6L78.1 61.6L80.7 61.6L83.3 61.7L85.8 61.9L88.1 62.1L90.2 62.4L92.3 62.8L94.4 63.1L96.6 63.6L98.8 64L101.2 64.6L103.7 65.1L106.3 65.8L108.8 66.4L111.4 67.1L114.1 67.7L116.9 68.4L120 69.1L123.2 69.8L126.1 70.5L128.6 71L130.4 71.4M-0.1 48.2L1.6 49.2L4 50.7L6.7 52.4L9.8 54.2L13 56.1L16.2 57.9L19.5 59.7L23.1 61.6L26.8 63.4L30.5 65.3L34.3 67.1L38 68.8L41.6 70.4L45.3 72L49 73.5L52.6 74.9L56.2 76.2L59.7 77.5L63.2 78.7L66.6 79.9L69.9 80.9L73.2 81.9L76.3 82.8L79.3 83.6L82 84.2L84.6 84.7L87 85.1L89.4 85.4L91.9 85.8L94.5 86.2L97.3 86.7L100.1 87.2L103 87.7L105.9 88.3L108.9 88.9L111.9 89.5L115.1 90.2L118.7 91L122.2 91.8L125.5 92.6L128.3 93.3L130.4 93.8M-0.1 89.5L1.6 89.4L4 89.2L6.7 89L9.8 88.9L13 88.8L16.2 88.8L19.5 88.9L23.1 89.1L26.8 89.4L30.5 89.7L34.3 90.1L38 90.6L41.6 91.1L45.2 91.8L48.8 92.5L52.5 93.3L56.1 94.1L59.7 94.9L63.4 95.7L67.2 96.6L71 97.4L74.7 98.3L78.2 99.3L81.5 100.3L84.4 101.5L87 102.7L89.5 103.9L91.8 105.2L94.2 106.6L96.7 107.9L99.3 109.3L102 110.7L104.7 112.1L107.3 113.5L109.7 115.1L111.9 116.6L113.7 118.3L115.4 119.9L116.8 121.7L118.1 123.5L119.3 125.4L120.6 127.5L121.8 129.8L123 132.4L124.2 135.1L125.3 137.8L126.2 140.4L127.1 142.7L127.9 144.9L128.6 147.1L129.1 149.1L129.6 150.9L130.1 152.5L130.4 153.6M-0.1 109L1.6 108.9L4 108.6L6.7 108.3L9.8 108L13 107.7L16.2 107.5L19.6 107.3L23.2 107.1L26.9 106.9L30.7 106.8L34.4 106.7L38 106.9L41.4 107.2L44.9 107.7L48.3 108.2L51.6 108.9L54.7 109.5L57.5 110.1L60 110.6L62.1 111.1L64.1 111.6L66 112.1L68 112.7L70.2 113.4L72.7 114.1L75.4 114.9L78.2 115.8L81 116.7L83.6 117.7L85.8 118.8L87.7 120L89.4 121.2L90.9 122.5L92.2 124L93.4 125.6L94.5 127.5L95.6 129.6L96.5 132L97.4 134.6L98 137.3L98.6 140L98.8 142.7L98.9 145.6L98.6 148.8L98.2 152L97.6 155.1L97.1 157.9L96.7 160.1L96.3 161.8L95.9 163L95.5 163.9L95.1 164.6L94.7 165.1L94.5 165.6M-0.1 126.4L1.7 126.4L4.2 126.5L7.1 126.5L10.2 126.5L13.3 126.5L16.2 126.4L19 126.3L21.8 126L24.5 125.8L27.3 125.5L30 125.2L32.5 124.9L35 124.6L37.4 124.4L39.7 124.1L42 123.8L44.3 123.5L46.7 123.2L49.2 122.7L51.8 122.2L54.5 121.7L57.1 121.2L59.6 121L61.9 121L64 121.3L66 121.7L67.9 122.3L69.7 123.2L71.3 124.2L72.8 125.3L74.1 126.8L75.3 128.5L76.4 130.4L77.2 132.3L77.9 134.3L78.2 136.2L78.3 138L78.2 139.9L77.9 141.8L77.2 143.6L76.3 145.4L74.9 147.1L73.2 148.7L71.2 150.4L68.8 152L66 153.5L63 154.8L59.7 155.8L55.9 156.4L51.5 156.9L46.8 157.1L42.1 157.1L37.6 157L33.6 156.9L30.2 156.6L27.1 156.1L24.3 155.6L21.6 154.9L19 154.3L16.2 153.6L13.3 152.9L10.1 152.1L7 151.2L4.1 150.4L1.7 149.7L-0.1 149.2M135.8 22.1L135.8 22.4L135.8 22.6L135.8 22.9L135.7 23.2L135.7 23.5L135.6 23.8L135.6 24L135.5 24.3L135.4 24.6L135.3 24.8L135.2 25.1L135.1 25.3L135 25.6L134.8 25.8L134.7 26L134.5 26.3L134.4 26.5L134.2 26.7L134 26.9L133.9 27.1L133.7 27.2L133.5 27.4L133.3 27.6L133.1 27.7L132.9 27.9L132.7 28L132.4 28.1L132.2 28.2L132 28.3L131.8 28.4L131.5 28.4L131.3 28.5L131.1 28.5L130.8 28.6L130.6 28.6L130.4 28.6L130.1 28.6L129.9 28.6L129.7 28.5L129.4 28.5L129.2 28.4L129 28.4L128.7 28.3L128.5 28.2L128.3 28.1L128.1 28L127.9 27.9L127.7 27.7L127.5 27.6L127.3 27.4L127.1 27.2L126.9 27.1L126.7 26.9L126.5 26.7L126.4 26.5L126.2 26.3L126.1 26L125.9 25.8L125.8 25.6L125.7 25.3L125.5 25.1L125.4 24.8L125.3 24.6L125.3 24.3L125.2 24L125.1 23.8L125.1 23.5L125 23.2L125 22.9L125 22.6L124.9 22.4L124.9 22.1L124.9 21.8L125 21.5L125 21.2L125 20.9L125.1 20.7L125.1 20.4L125.2 20.1L125.3 19.8L125.3 19.6L125.4 19.3L125.5 19.1L125.7 18.8L125.8 18.6L125.9 18.3L126.1 18.1L126.2 17.9L126.4 17.7L126.5 17.5L126.7 17.3L126.9 17.1L127.1 16.9L127.3 16.7L127.5 16.6L127.7 16.4L127.9 16.3L128.1 16.2L128.3 16L128.5 15.9L128.7 15.9L129 15.8L129.2 15.7L129.4 15.7L129.7 15.6L129.9 15.6L130.1 15.6L130.4 15.6L130.6 15.6L130.8 15.6L131.1 15.6L131.3 15.7L131.5 15.7L131.8 15.8L132 15.9L132.2 15.9L132.4 16L132.7 16.2L132.9 16.3L133.1 16.4L133.3 16.6L133.5 16.7L133.7 16.9L133.9 17.1L134 17.3L134.2 17.5L134.4 17.7L134.5 17.9L134.7 18.1L134.8 18.3L135 18.6L135.1 18.8L135.2 19.1L135.3 19.3L135.4 19.6L135.5 19.8L135.6 20.1L135.6 20.4L135.7 20.7L135.7 20.9L135.8 21.2L135.8 21.5L135.8 21.8L135.8 22.1" fill="none" stroke="#3a3a5a" stroke-width="0.8" stroke-opacity="0.85" mask="url(#mp10)"/>
<text transform="translate(73.8,19.5) rotate(-5)" x="0" y="4.6" text-anchor="middle" font-family="Liberation Serif" font-size="13.5" textLength="25.0" lengthAdjust="spacingAndGlyphs" fill="#000">0.16</text>
<text transform="translate(98.8,64.0) rotate(8)" x="0" y="4.6" text-anchor="middle" font-family="Liberation Serif" font-size="13.5" textLength="18.8" lengthAdjust="spacingAndGlyphs" fill="#000">0.2</text>
<text transform="translate(94.5,86.2) rotate(10)" x="0" y="4.6" text-anchor="middle" font-family="Liberation Serif" font-size="13.5" textLength="25.0" lengthAdjust="spacingAndGlyphs" fill="#000">0.24</text>
<text transform="translate(96.7,107.9) rotate(25)" x="0" y="4.6" text-anchor="middle" font-family="Liberation Serif" font-size="13.5" textLength="25.0" lengthAdjust="spacingAndGlyphs" fill="#000">0.28</text>
<text transform="translate(70.2,113.4) rotate(15)" x="0" y="4.6" text-anchor="middle" font-family="Liberation Serif" font-size="13.5" textLength="25.0" lengthAdjust="spacingAndGlyphs" fill="#000">0.32</text>
<text transform="translate(46.7,123.2) rotate(-8)" x="0" y="4.6" text-anchor="middle" font-family="Liberation Serif" font-size="13.5" textLength="25.0" lengthAdjust="spacingAndGlyphs" fill="#000">0.36</text>
<text x="8.4" y="20.4" font-family="Liberation Serif" font-size="15.5" textLength="29.6" lengthAdjust="spacingAndGlyphs" fill="#000">(B0)</text>
</g>
<clipPath id="cp11"><rect x="0" y="0" width="129.4" height="165.5"/></clipPath>
<g transform="translate(238.9,236.1)" clip-path="url(#cp11)">
<rect x="-2" y="-2" width="133.4" height="169.5" fill="#d8d8fa"/>
<path d="M-3 -3L56.2 -3L66 -2.3L75.4 -3L133 -3L133 169L-3 169Z" fill="#d4d4fa" fill-rule="evenodd"/>
<path d="M-3 -3L35.7 -3L56 0.3L66 1L74 0.6L102.7 -3L133 -3L133 169L-3 169Z" fill="#cecef9" fill-rule="evenodd"/>
<path d="M6 0.5L32 0L56 3.4L66 4.1L106 0.8L121 0.2L133 0.4L133 169L-3 169L-3 0.3Z" fill="#c6c6f9" fill-rule="evenodd"/>
<path d="M15 4L31 3.4L55 6.2L65 6.8L102 5L123 4.7L133 5L133 169L-3 169L-3 5.4L1 5.6Z" fill="#bcbcf8" fill-rule="evenodd"/>
<path d="M23.9 7L33 7L60 9L99 9.1L129 9.6L133 10.2L133 169L-3 169L-3 9.7L0 10.1Z" fill="#b1b1f8" fill-rule="evenodd"/>
<path d="M19.8 11L33 10.6L74 11.5L114 14.3L133 16.8L133 169L-3 169L-3 12.8L1 13.2Z" fill="#a7a7f8" fill-rule="evenodd"/>
<path d="M37.2 14L64 13.3L73 13.8L95 17.3L113 19.4L133 24L133 169L-3 169L-3 15.2L1 15.7Z" fill="#9b9bf8" fill-rule="evenodd"/>
<path d="M27 17.7L65 15.6L73 16.3L95 21.5L111 24.1L129 29.4L133 29.8L133 169L-3 169L-3 17.2L1 17.7Z" fill="#9090f8" fill-rule="evenodd"/>
<path d="M-3 19L12 20.6L27 20.9L40 20.3L60 18.3L68 18.4L79 20.7L94 25.3L118 31.3L133 34L133 169L-3 169Z" fill="#8787f8" fill-rule="evenodd"/>
<path d="M-3 169L-3 20.4L0 20.7L14 23.4L29 24.1L40 23.6L58 20.9L67 21.2L80 24.2L112 35.4L119 36.6L133 37.8L133 169Z" fill="#7e7ef8" fill-rule="evenodd"/>
<path d="M-3 22L0 22.2L15 26.3L30 27.7L40 27.2L57 23.3L66 23.5L79 27.3L103 38.8L109 41L116 42.1L130 41.7L133 42.5L133 169L-3 169Z" fill="#7575f7" fill-rule="evenodd"/>
<path d="M-3 24L-2 23.7L1 24.3L21 31.1L32 32.6L40 31.6L56 25.6L61 25.1L67 25.7L72 27.4L77.2 30L92 41.7L100 46L111 48.9L127.5 50L133 52.1L133 169L-3 169Z" fill="#6c6cf7" fill-rule="evenodd"/>
<path d="M-3 26L0.2 26L8.2 29L24 40.4L28 42.5L32 43.5L35 43.2L39 41.4L48.8 32L54 28.5L60 27L67 27.7L71 29.4L74.3 32L77.1 36L78.1 40L77.5 43L74.8 46L71 47.6L60 50.5L55.9 53L55.4 55L57 58L66 65.6L69 66.5L72 66L89 57.8L94 56.7L100 56.3L110 57.2L118 59.1L123 61.3L130 66L133 67.1L133 169L-3 169Z" fill="#6565f7" fill-rule="evenodd"/>
<path d="M-3 29L-1 28.4L4.5 30L7.3 32L8.2 34L7.9 36L6 38.4L0 40.5L-1.5 42L-1.2 45L3.2 50L4.2 53L3.2 55L0 58.5L-3 59.9ZM57 30L62 29L67 30.1L70.5 33L71.1 35L70.6 37L68 39.7L65 40.9L61 41.2L56.5 40L53.9 38L52.8 35L54.1 32ZM31.7 64L39 63.4L48 64.4L58 66.9L65 70.3L68 71L72 70.6L96 64.9L101 64.4L107 64.7L116 66.7L122 69.5L129.5 74L133 74.2L133 169L-3 169L-3 71.1L0 72Z" fill="#6060f7" fill-rule="evenodd"/>
<path d="M61.4 34L62 33.7L63 34L62 35ZM28 70L38 69.2L47 69.5L56 70.6L65 73L69 73.4L94 71L104 70.9L114 72.5L128 77.2L133 77.6L133 134.6L131 134.8L130.1 136L131.3 137L133 137.3L133 169L-3 169L-3 74.3L1 74.4Z" fill="#5b5bf8" fill-rule="evenodd"/>
<path d="M27.2 74L46 73.6L56 74.1L69 75.6L99 75.9L111 77.2L128 80.2L133 80.4L133 125.5L122.2 132L119.9 134L119.2 136L121.5 139L130 144.6L133 148.6L133 169L-3 169L-3 137L0 138.5L3 138.5L6.1 137L6.9 135L5.9 133L2 130.6L-1 130.5L-3 131.9L-3 76.6ZM59 127.9L56 129.3L53.5 132L52.8 136L54.1 139L56.1 141L60 142.5L64 142.5L67.7 141L69.8 139L71 136L70.7 133L69.6 131L67.4 129L65 127.9L62 127.5Z" fill="#5656f8" fill-rule="evenodd"/>
<path d="M-3 78.7L37 77.4L63 77.6L82 78.9L112 81.9L133 82.9L133 117.6L129 116.7L97 119.2L53 121L34 124.4L19 126.4L11 125.9L0 123.3L-3 123.6ZM23.4 143L27 142.3L30 142.4L43 144.9L60 147L67 146.3L77 143.3L83 142.3L93 142.3L102 143.7L111 146.5L118 149.5L122 152.1L130 159.3L133 160.5L133 169L-3 169L-3 151.6L3 151.4L9 150.1Z" fill="#5151f8" fill-rule="evenodd"/>
<path d="M-3 81L68 80.7L76 81.5L104 85.9L116 86.1L133 85.3L133 113.9L121 112.7L103 112.7L79 116.3L48 118.6L21 121.7L13 121.9L-3 120.6ZM40 154L79 149.1L88 149.2L97 150.4L106 152.7L118 157.2L130 163.9L133 164.2L133 169L-3 169L-3 161L4 160.7L11 159.6L28 154.2Z" fill="#4c4ef6" fill-rule="evenodd"/>
<path d="M-3 118L-3 83.5L0 83.4L40 84.7L71 84.2L79 85.7L96 90.6L102 91.6L116 90.3L133 87.7L133 111.1L120 108.6L106 106.7L101 106.6L96 107.5L81 112.8L59 115.7L16 118.2ZM63.2 155L71 154.4L81 154.7L98 156.9L112 160.3L133 166.7L133 169L12.5 169L36.1 166L54 157.6Z" fill="#474ef1" fill-rule="evenodd"/>
<path d="M-3 115.3L-3 86.2L-1 86.2L19 88.3L33 88.8L44 88.7L65 87.4L71 87.7L78.6 90L86.3 94L89.6 97L90.2 100L88.1 104L83.3 108L78 110L68.4 112L56 113.7L34 113.3L0 115.5ZM128.8 91L133 90.4L133 108.3L130 107.9L119.8 104L115.5 102L112.9 100L112.7 99L114.7 97ZM69.8 160L80 160.3L93 161.8L126 167.1L132.4 169L47.2 169L60 162.1L65 160.6Z" fill="#424dec" fill-rule="evenodd"/>
<path d="M-3 111.8L-3 89.2L0 89.3L20 93.7L33 94.7L44 93.9L59 90.1L66 90.1L71 91.3L75.7 94L79.2 98L79.8 101L78.3 104L75.7 106L70 108.4L62.8 110L56 110.4L39 108.5L30 108.1L18 109.2L1 111.8ZM129.6 94L133 93.6L133 105L128 103.8L125.4 102L124.1 100L125 97ZM69.5 167L75 166.4L83 166.5L109.9 169L62.7 169Z" fill="#3e4de5" fill-rule="evenodd"/>
<path d="M57.9 93L61 92.4L64 92.5L67 93.5L69 94.9L70.6 97L71.1 99L70.8 101L69.6 103L67 105L63 106.1L59 105.8L55.3 104L53.1 101L52.9 98L54.7 95ZM-3 106.3L-3 93.2L-1 93.1L5.9 97L8 99L8.2 100L7.6 101L0 105.9Z" fill="#394edc" fill-rule="evenodd"/>
<mask id="mp11"><rect x="-5" y="-5" width="139.4" height="175.5" fill="#fff"/><rect x="-16.4" y="-6" width="32.8" height="12" fill="#000" transform="translate(94.5,21.4) rotate(12)"/><rect x="-16.4" y="-6" width="32.8" height="12" fill="#000" transform="translate(95.8,36.2) rotate(25)"/><rect x="-16.4" y="-6" width="32.8" height="12" fill="#000" transform="translate(82.8,67.7) rotate(-15)"/><rect x="-16.4" y="-6" width="32.8" height="12" fill="#000" transform="translate(94.1,80.1) rotate(3)"/><rect x="-16.4" y="-6" width="32.8" height="12" fill="#000" transform="translate(55.4,87.9) rotate(0)"/><rect x="-16.4" y="-6" width="32.8" height="12" fill="#000" transform="translate(33.2,113.4) rotate(0)"/><rect x="-16.4" y="-6" width="32.8" height="12" fill="#000" transform="translate(35.0,124.2) rotate(-5)"/></mask>
<path d="M-0.5 10.1L2.4 9.7L6.4 9.1L11.1 8.4L16.2 7.7L21.6 7.1L26.7 6.9L31.8 6.9L37.2 7.3L42.7 7.7L48.2 8.3L53.8 8.7L59.3 9L64.7 9.1L70 9.2L75.3 9.1L80.7 9.1L86.2 9L91.9 9L98.4 9.1L105.6 9.2L113 9.4L119.9 9.5L125.8 9.6L130 9.7M-0.5 17.7L2.6 17.7L6.8 17.8L11.8 17.8L17 17.8L22.2 17.8L26.7 17.7L30.7 17.6L34.5 17.4L38.2 17.3L41.7 17L45.1 16.8L48.4 16.6L51.6 16.4L54.7 16.2L57.6 15.9L60.4 15.7L63.2 15.5L65.8 15.6L68.4 15.7L70.8 16L73.1 16.3L75.3 16.8L77.6 17.2L80 17.7L82.3 18.3L84.7 18.9L87.1 19.5L89.5 20.2L92 20.8L94.5 21.4L97.2 21.9L100 22.3L102.8 22.7L105.6 23.1L108.5 23.6L111.5 24.2L114.7 25.1L118.2 26.1L121.8 27.1L125.1 28.2L127.9 29.1L130 29.7M-0.5 22.1L1.2 22.6L3.6 23.3L6.3 24.2L9.4 25.1L12.6 25.8L15.8 26.4L19.1 26.9L22.7 27.2L26.4 27.5L30.1 27.7L33.9 27.7L37.6 27.5L41.3 27L45 26.2L48.7 25.2L52.4 24.2L55.9 23.5L59.3 23.2L62.5 23.2L65.4 23.5L68.2 24L71 24.7L73.8 25.5L76.7 26.4L79.8 27.6L82.9 29L86 30.6L89.1 32.2L92.2 33.7L95.2 35.1L98 36.4L100.7 37.7L103.3 38.9L106 40L108.7 41L111.5 41.6L114.7 42L118.2 42.1L121.7 42L125.1 41.9L127.9 41.7L130 41.6M71.1 35.1L71 35.4L71 35.6L71 35.9L70.9 36.2L70.8 36.4L70.7 36.7L70.6 36.9L70.5 37.2L70.4 37.4L70.2 37.7L70 37.9L69.8 38.2L69.6 38.4L69.4 38.6L69.2 38.8L68.9 39L68.7 39.2L68.4 39.4L68.1 39.6L67.8 39.8L67.5 39.9L67.2 40.1L66.8 40.3L66.5 40.4L66.1 40.5L65.8 40.6L65.4 40.7L65 40.8L64.7 40.9L64.3 41L63.9 41.1L63.5 41.1L63.1 41.2L62.7 41.2L62.3 41.2L61.9 41.2L61.5 41.2L61.1 41.2L60.7 41.2L60.3 41.1L59.9 41.1L59.6 41L59.2 40.9L58.8 40.8L58.4 40.7L58.1 40.6L57.7 40.5L57.4 40.4L57 40.3L56.7 40.1L56.4 39.9L56.1 39.8L55.8 39.6L55.5 39.4L55.2 39.2L54.9 39L54.7 38.8L54.4 38.6L54.2 38.4L54 38.2L53.8 37.9L53.7 37.7L53.5 37.4L53.3 37.2L53.2 36.9L53.1 36.7L53 36.4L52.9 36.2L52.9 35.9L52.8 35.6L52.8 35.4L52.8 35.1L52.8 34.9L52.8 34.6L52.9 34.3L52.9 34.1L53 33.8L53.1 33.5L53.2 33.3L53.3 33L53.5 32.8L53.7 32.5L53.8 32.3L54 32.1L54.2 31.8L54.4 31.6L54.7 31.4L54.9 31.2L55.2 31L55.5 30.8L55.8 30.6L56.1 30.5L56.4 30.3L56.7 30.1L57 30L57.4 29.8L57.7 29.7L58.1 29.6L58.4 29.5L58.8 29.4L59.2 29.3L59.6 29.2L59.9 29.2L60.3 29.1L60.7 29.1L61.1 29.1L61.5 29L61.9 29L62.3 29L62.7 29.1L63.1 29.1L63.5 29.1L63.9 29.2L64.3 29.2L64.7 29.3L65 29.4L65.4 29.5L65.8 29.6L66.1 29.7L66.5 29.8L66.8 30L67.2 30.1L67.5 30.3L67.8 30.5L68.1 30.6L68.4 30.8L68.7 31L68.9 31.2L69.2 31.4L69.4 31.6L69.6 31.8L69.8 32.1L70 32.3L70.2 32.5L70.4 32.8L70.5 33L70.6 33.3L70.7 33.5L70.8 33.8L70.9 34.1L71 34.3L71 34.6L71 34.9L71.1 35.1M-0.5 28.4L0.3 28.6L1.4 28.9L2.7 29.3L4 29.8L5.1 30.3L6.1 30.8L6.7 31.3L7.3 31.9L7.7 32.5L8 33.2L8.2 33.8L8.2 34.5L8.2 35.1L8 35.8L7.7 36.5L7.3 37.2L6.7 37.8L6.1 38.4L5.1 38.9L4 39.3L2.7 39.7L1.4 40.1L0.3 40.3L-0.5 40.6M-0.5 46L0.2 46.7L1.1 47.7L2.2 48.8L3.3 50.1L4 51.3L4.3 52.5L4 53.7L3.3 54.9L2.2 56.2L1.1 57.3L0.2 58.3L-0.5 59M-0.5 72.1L1.2 71.6L3.6 70.9L6.3 70.2L9.4 69.3L12.6 68.5L15.8 67.7L19.2 66.9L22.8 66L26.5 65.1L30.3 64.3L34 63.7L37.6 63.4L41.1 63.5L44.6 63.9L48 64.5L51.3 65.2L54.4 65.9L57.1 66.6L59.4 67.4L61.3 68.3L62.9 69.2L64.4 70.1L66.1 70.7L68 71L70.2 70.9L72.5 70.5L75 69.8L77.5 69.1L80.1 68.4L82.8 67.7L85.6 67.1L88.6 66.4L91.7 65.8L94.8 65.1L97.8 64.7L100.6 64.5L103.3 64.5L105.9 64.6L108.5 64.9L110.9 65.3L113.4 65.9L115.8 66.6L118.4 67.7L121.2 69.1L123.9 70.6L126.3 72.1L128.4 73.4L130 74.2M-0.5 78.6L2.4 78.5L6.4 78.3L11.1 78.1L16.2 77.8L21.6 77.6L26.7 77.5L32 77.4L37.7 77.4L43.5 77.4L49.2 77.4L54.6 77.4L59.3 77.5L63.4 77.6L67 77.8L70.2 78L73.2 78.2L76 78.4L78.9 78.6L81.6 78.8L84.2 79.1L86.6 79.3L89 79.6L91.5 79.8L94.1 80.1L96.9 80.4L99.7 80.7L102.6 81L105.5 81.3L108.5 81.6L111.5 81.9L114.7 82.1L118.3 82.3L121.8 82.5L125.1 82.7L127.9 82.8L130 82.9M-0.5 86.2L1.8 86.5L4.9 86.8L8.6 87.3L12.5 87.7L16.5 88.1L20.2 88.4L23.7 88.6L27.3 88.7L30.9 88.8L34.4 88.8L37.7 88.8L40.8 88.8L43.6 88.7L46.1 88.6L48.4 88.4L50.6 88.2L52.9 88.1L55.4 87.9L58.1 87.8L60.9 87.6L63.8 87.5L66.7 87.4L69.6 87.5L72.4 87.9L75.1 88.7L78 89.8L80.9 91L83.5 92.4L85.8 93.7L87.6 94.9L88.8 96L89.7 97.1L90.2 98.1L90.3 99.2L90.2 100.3L89.8 101.4L89.1 102.7L88.1 104L86.9 105.4L85.3 106.7L83.4 107.9L81.1 109L78 110L74.3 110.9L70.3 111.7L66.2 112.4L62.4 112.9L59.3 113.4L57.1 113.6L55.4 113.7L54.1 113.7L52.8 113.5L51.4 113.4L49.5 113.4L47.2 113.4L44.6 113.3L41.9 113.3L39 113.3L36.1 113.3L33.2 113.4L30.4 113.5L27.5 113.7L24.5 113.9L21.6 114.1L18.7 114.3L15.8 114.5L12.9 114.7L9.7 114.9L6.6 115.1L3.7 115.3L1.3 115.4L-0.5 115.6M130 90.6L127.7 91.5L124.2 92.8L120.2 94.4L116.4 96L113.7 97.7L112.6 99.2L113.7 100.8L116.4 102.5L120.2 104.1L124.2 105.7L127.7 107L130 107.9M71.1 99.2L71 99.5L71 99.9L71 100.2L70.9 100.5L70.8 100.8L70.7 101L70.6 101.3L70.5 101.6L70.4 101.9L70.2 102.2L70 102.5L69.8 102.7L69.6 103L69.4 103.2L69.2 103.5L68.9 103.7L68.7 103.9L68.4 104.2L68.1 104.4L67.8 104.6L67.5 104.8L67.2 104.9L66.8 105.1L66.5 105.3L66.1 105.4L65.8 105.6L65.4 105.7L65 105.8L64.7 105.9L64.3 106L63.9 106L63.5 106.1L63.1 106.1L62.7 106.2L62.3 106.2L61.9 106.2L61.5 106.2L61.1 106.2L60.7 106.1L60.3 106.1L59.9 106L59.6 106L59.2 105.9L58.8 105.8L58.4 105.7L58.1 105.6L57.7 105.4L57.4 105.3L57 105.1L56.7 104.9L56.4 104.8L56.1 104.6L55.8 104.4L55.5 104.2L55.2 103.9L54.9 103.7L54.7 103.5L54.4 103.2L54.2 103L54 102.7L53.8 102.5L53.7 102.2L53.5 101.9L53.3 101.6L53.2 101.3L53.1 101L53 100.8L52.9 100.5L52.9 100.2L52.8 99.9L52.8 99.5L52.8 99.2L52.8 98.9L52.8 98.6L52.9 98.3L52.9 98L53 97.7L53.1 97.4L53.2 97.2L53.3 96.9L53.5 96.6L53.7 96.3L53.8 96L54 95.8L54.2 95.5L54.4 95.3L54.7 95L54.9 94.8L55.2 94.5L55.5 94.3L55.8 94.1L56.1 93.9L56.4 93.7L56.7 93.5L57 93.4L57.4 93.2L57.7 93.1L58.1 92.9L58.4 92.8L58.8 92.7L59.2 92.6L59.6 92.5L59.9 92.5L60.3 92.4L60.7 92.4L61.1 92.3L61.5 92.3L61.9 92.3L62.3 92.3L62.7 92.3L63.1 92.4L63.5 92.4L63.9 92.5L64.3 92.5L64.7 92.6L65 92.7L65.4 92.8L65.8 92.9L66.1 93.1L66.5 93.2L66.8 93.4L67.2 93.5L67.5 93.7L67.8 93.9L68.1 94.1L68.4 94.3L68.7 94.5L68.9 94.8L69.2 95L69.4 95.3L69.6 95.5L69.8 95.8L70 96L70.2 96.3L70.4 96.6L70.5 96.9L70.6 97.2L70.7 97.4L70.8 97.7L70.9 98L71 98.3L71 98.6L71 98.9L71.1 99.2M-0.5 93.2L0.7 93.9L2.4 94.9L4.4 96L6.3 97.3L7.7 98.5L8.2 99.7L7.7 100.8L6.3 102.1L4.4 103.4L2.4 104.5L0.7 105.5L-0.5 106.2M-0.5 123.2L1.3 123.6L3.7 124.2L6.5 124.9L9.6 125.6L12.8 126.2L15.8 126.4L18.9 126.4L22.1 126.1L25.3 125.7L28.6 125.3L31.8 124.7L35 124.2L37.9 123.7L40.6 123.2L43.3 122.5L46.1 122L49.2 121.4L52.8 121L57 120.7L61.7 120.5L66.7 120.3L71.7 120.2L76.6 120.1L81.1 119.9L85 119.7L88.6 119.6L92 119.4L95.4 119.3L98.9 119.1L102.8 118.8L107.3 118.5L112.5 118.1L117.7 117.7L122.7 117.2L127 116.9L130 116.6M71.1 135.1L71 135.4L71 135.8L71 136.1L70.9 136.4L70.8 136.8L70.7 137.1L70.6 137.4L70.5 137.7L70.4 138L70.2 138.3L70 138.6L69.8 138.9L69.6 139.2L69.4 139.5L69.2 139.7L68.9 140L68.7 140.3L68.4 140.5L68.1 140.7L67.8 140.9L67.5 141.2L67.2 141.4L66.8 141.5L66.5 141.7L66.1 141.9L65.8 142L65.4 142.1L65 142.3L64.7 142.4L64.3 142.5L63.9 142.5L63.5 142.6L63.1 142.7L62.7 142.7L62.3 142.7L61.9 142.7L61.5 142.7L61.1 142.7L60.7 142.7L60.3 142.6L59.9 142.5L59.6 142.5L59.2 142.4L58.8 142.3L58.4 142.1L58.1 142L57.7 141.9L57.4 141.7L57 141.5L56.7 141.4L56.4 141.2L56.1 140.9L55.8 140.7L55.5 140.5L55.2 140.3L54.9 140L54.7 139.7L54.4 139.5L54.2 139.2L54 138.9L53.8 138.6L53.7 138.3L53.5 138L53.3 137.7L53.2 137.4L53.1 137.1L53 136.8L52.9 136.4L52.9 136.1L52.8 135.8L52.8 135.4L52.8 135.1L52.8 134.8L52.8 134.5L52.9 134.1L52.9 133.8L53 133.5L53.1 133.1L53.2 132.8L53.3 132.5L53.5 132.2L53.7 131.9L53.8 131.6L54 131.3L54.2 131L54.4 130.8L54.7 130.5L54.9 130.2L55.2 130L55.5 129.7L55.8 129.5L56.1 129.3L56.4 129.1L56.7 128.9L57 128.7L57.4 128.5L57.7 128.4L58.1 128.2L58.4 128.1L58.8 128L59.2 127.9L59.6 127.8L59.9 127.7L60.3 127.6L60.7 127.6L61.1 127.5L61.5 127.5L61.9 127.5L62.3 127.5L62.7 127.5L63.1 127.6L63.5 127.6L63.9 127.7L64.3 127.8L64.7 127.9L65 128L65.4 128.1L65.8 128.2L66.1 128.4L66.5 128.5L66.8 128.7L67.2 128.9L67.5 129.1L67.8 129.3L68.1 129.5L68.4 129.7L68.7 130L68.9 130.2L69.2 130.5L69.4 130.8L69.6 131L69.8 131.3L70 131.6L70.2 131.9L70.4 132.2L70.5 132.5L70.6 132.8L70.7 133.1L70.8 133.5L70.9 133.8L71 134.1L71 134.5L71 134.8L71.1 135.1M130 127.1L128.5 128L126.3 129.3L123.9 130.9L121.5 132.5L119.8 134.2L119.1 135.8L119.8 137.3L121.5 139L123.9 140.7L126.3 142.2L128.5 143.5L130 144.5M37.6 165.6L39.9 164.4L43.2 162.7L47.1 160.7L51.3 158.7L55.4 157L59.3 155.8L62.9 155L66.6 154.6L70.2 154.4L73.8 154.4L77.4 154.5L81.1 154.7L84.6 154.9L88.1 155.3L91.6 155.8L95.1 156.4L98.9 157.1L102.8 157.9L107.3 159L112.5 160.4L117.7 162L122.7 163.4L127 164.7L130 165.6" fill="none" stroke="#3a3a5a" stroke-width="0.8" stroke-opacity="0.85" mask="url(#mp11)"/>
<text transform="translate(94.5,21.4) rotate(12)" x="0" y="4.6" text-anchor="middle" font-family="Liberation Serif" font-size="13.5" textLength="25.0" lengthAdjust="spacingAndGlyphs" fill="#000">0.23</text>
<text transform="translate(95.8,36.2) rotate(25)" x="0" y="4.6" text-anchor="middle" font-family="Liberation Serif" font-size="13.5" textLength="25.0" lengthAdjust="spacingAndGlyphs" fill="#000">0.26</text>
<text transform="translate(82.8,67.7) rotate(-15)" x="0" y="4.6" text-anchor="middle" font-family="Liberation Serif" font-size="13.5" textLength="25.0" lengthAdjust="spacingAndGlyphs" fill="#000">0.29</text>
<text transform="translate(94.1,80.1) rotate(3)" x="0" y="4.6" text-anchor="middle" font-family="Liberation Serif" font-size="13.5" textLength="25.0" lengthAdjust="spacingAndGlyphs" fill="#000">0.32</text>
<text transform="translate(55.4,87.9) rotate(0)" x="0" y="4.6" text-anchor="middle" font-family="Liberation Serif" font-size="13.5" textLength="25.0" lengthAdjust="spacingAndGlyphs" fill="#000">0.35</text>
<text transform="translate(33.2,113.4) rotate(0)" x="0" y="4.6" text-anchor="middle" font-family="Liberation Serif" font-size="13.5" textLength="25.0" lengthAdjust="spacingAndGlyphs" fill="#000">0.35</text>
<text transform="translate(35.0,124.2) rotate(-5)" x="0" y="4.6" text-anchor="middle" font-family="Liberation Serif" font-size="13.5" textLength="25.0" lengthAdjust="spacingAndGlyphs" fill="#000">0.32</text>
<text x="4.7" y="21.9" font-family="Liberation Serif" font-size="15.5" textLength="37.7" lengthAdjust="spacingAndGlyphs" fill="#000">(B10)</text>
</g>
<clipPath id="cp12"><rect x="0" y="0" width="129.8" height="165.5"/></clipPath>
<g transform="translate(377.7,236.1)" clip-path="url(#cp12)">
<rect x="-2" y="-2" width="133.8" height="169.5" fill="#e7e7fc"/>
<path d="M-3 -2L5.7 -3L133 -3L133 169L-3 169Z" fill="#e0e0fb" fill-rule="evenodd"/>
<path d="M17.2 -2L37 -2.9L133 -3L133 169L-3 169L-3 0.4L1 0.3Z" fill="#dbdbfb" fill-rule="evenodd"/>
<path d="M68 0.3L86.3 -3L133 -3L133 169L-3 169L-3 2.5L23 0.9L60 1.2Z" fill="#d8d8fa" fill-rule="evenodd"/>
<path d="M95.8 0L109 -0.8L133 0.3L133 169L-3 169L-3 4.8L2 4L61 5.7L71 4.6Z" fill="#d4d4fa" fill-rule="evenodd"/>
<path d="M102.7 4L115 3.5L133 3.6L133 169L-3 169L-3 7.6L3 6.7L39 9.6L61 10.3L73 9.2Z" fill="#cecef9" fill-rule="evenodd"/>
<path d="M106 8.7L133 6.8L133 169L-3 169L-3 11.2L3 10.5L30 13.6L50 14.6L64 14.6L81 13.1Z" fill="#c6c6f9" fill-rule="evenodd"/>
<path d="M124.4 11L133 10.1L133 169L-3 169L-3 15.8L3 15.5L20 17.6L34 18.6L73 18.8L88 17.6Z" fill="#bcbcf8" fill-rule="evenodd"/>
<path d="M108 19.8L131 14.1L133 14.1L133 169L-3 169L-3 20.9L29 23.2L86 23.1Z" fill="#b1b1f8" fill-rule="evenodd"/>
<path d="M128.4 22L133 21.6L133 169L-3 169L-3 26L28 27.8L61 27.2L92 28L111 26.4Z" fill="#a7a7f8" fill-rule="evenodd"/>
<path d="M-3 31L28 32.5L57 31.2L68 31.3L120 35.6L133 38L133 169L-3 169Z" fill="#9b9bf8" fill-rule="evenodd"/>
<path d="M-3 36.2L27 37.4L58 35.4L72.4 36L89 38.5L109 42.6L117 45.1L133 51.4L133 169L-3 169Z" fill="#9090f8" fill-rule="evenodd"/>
<path d="M28 42.7L58 40.2L65 40.3L85 43.4L111 49.8L133 58.3L133 169L-3 169L-3 42.4L1 41.7Z" fill="#8787f8" fill-rule="evenodd"/>
<path d="M10 50L56 46.6L63 47L101 52.6L113 55.5L133 62.6L133 169L-3 169L-3 52.2Z" fill="#7e7ef8" fill-rule="evenodd"/>
<path d="M35.2 54L44 53.6L52 54L73 58.5L91 57L101 57.4L115 60.3L133 66.2L133 169L-3 169L-3 62.2L2 61.4L18 56.5Z" fill="#7575f7" fill-rule="evenodd"/>
<path d="M32.8 60L40 59.6L48 60.3L58 62.6L67 65.7L70 66L78 65L93 61.8L102 61.7L117 64.4L133 69.5L133 169L-3 169L-3 68.6L1 68.3L18 62.7Z" fill="#6c6cf7" fill-rule="evenodd"/>
<path d="M34.4 65L41 65L49 66.2L61 68.9L66 71L79 69.4L94 65.9L103 65.7L118 67.9L133 72.3L133 169L-3 169L-3 72.6L1 72.6L16 68ZM-2 134.9L-1 136L0.4 135L-1 134.5Z" fill="#6565f7" fill-rule="evenodd"/>
<path d="M27.6 70L35 69.5L41 69.8L67 74L79 72.8L95 69.6L103 69.4L117 71L133 74.6L133 128.6L130 129.5L127.3 131L125.6 133L125.2 135L126 137L127.1 138L133 139.9L133 169L-3 169L-3 140.6L0 139.9L3 138.3L4.2 137L4.7 135L4 133.1L2.9 132L0 130.5L-3 129.7L-3 75.4L2 75.2L16 71.8Z" fill="#6060f7" fill-rule="evenodd"/>
<path d="M98.1 73L114 73.8L133 76.7L133 124.9L125 127.8L121.1 130L119.6 132L118.9 135L119.4 138L121 140L124 141.2L133 143.2L133 169L-3 169L-3 144.3L7 139.6L8.6 138L9.3 135L8.9 133L7.5 131L-3 126L-3 77.7L3 77.4L19 74.7L30 73.6L40 73.8L68 76.3L79 75.7Z" fill="#5b5bf8" fill-rule="evenodd"/>
<path d="M91.3 77L107 76.6L133 78.8L133 121.5L121 124.8L115.5 127L110.1 131L109 133L108.7 135L109.1 137L110.3 139L115.9 143L121 144.8L133 147.3L133 169L-3 169L-3 148.3L14 141.6L17.2 139L18.4 137L18.8 135L18.5 133L17.3 131L13.7 128L1 122.7L-3 122.1L-3 79.9L29 77.2L73 78.5L81 78.2Z" fill="#5656f8" fill-rule="evenodd"/>
<path d="M-3 82L58 80.3L81 80.8L103 80L133 80.9L133 118.8L115.8 122L104.8 125L100.3 128L99.3 130L99.1 132L99.5 136L101.1 140L103.5 143L106 144.8L113 147.4L133 151.9L133 169L-3 169L-3 152.9L15 147.5L21.2 145L23.9 143L26.5 140L28.6 136L29.1 133L27.9 129L26.1 127L22.9 125L17.2 123L1.6 119L-3 118.9Z" fill="#5151f8" fill-rule="evenodd"/>
<path d="M45.5 83L66 82.3L98 83.9L133 83.1L133 116.5L106 119.3L100 120.5L96 122.2L91.7 125L88.4 128L86.9 131L88.3 134L96.6 143L100 146.4L104 149.3L111 152.2L133 157.1L133 169L-3 169L-3 158.1L15 152.7L23 149.2L32.3 142L39.7 135L41.7 132L40.3 129L37 126L32 122.6L27 120.3L19 118.6L-3 116.5L-3 84L28 84.5ZM59 122.9L50.5 125L45.9 128L44.5 130L44.1 132L44.7 134L46.2 136L49 138L54.4 140L60 140.9L65 140.9L74.2 139L78 137L80.7 134L81.2 132L80.3 129L76 125.5L68 123.1Z" fill="#4c4ef6" fill-rule="evenodd"/>
<path d="M49.1 85L59 84.2L70 84.4L98 88.4L115 86.3L133 85.4L133 114.4L116 115.1L100 114.8L95 115.8L86 119L80 119.8L69 119.3L44 119.5L40 118.8L31 115.6L26 114.4L-3 114.3L-3 86.2L8 86.3L28 88.9ZM79.6 142L85 141.8L89 143.1L93 145.9L102 153.5L109 157.3L133 162.8L133 169L-3 169L-3 163.8L19 156.1L25 152.8L36 145.4L40 143.6L45 142.9L56 143.9L64 144L71 143.5Z" fill="#474ef1" fill-rule="evenodd"/>
<path d="M51.3 87L59 86.2L67 86.3L74 87L81 88.4L87 90.4L91.8 93L94.1 95L97 99L98 98.6L99.7 96L102.1 94L108 91.3L117 89.5L129 87.9L133 87.8L133 112.3L112 111.3L106.3 110L98 107L96 107.3L87.6 112L82 114.1L63 116.6L49 115.1L43.5 114L38.1 112L29 107.3L11 111.3L1 112.4L-3 112L-3 88.5L0 88.1L4 88.4L13 89.9L19 91.6L22.4 93L25.4 95L28 99.1L29 99.1L33 94L37.5 91L44 88.6ZM78.5 146L84 146.4L89 148.4L92.5 151L102 160.2L107 163.1L114 165.3L132.6 169L-0.4 169L18 162.1L35 151.1L41 148.3L48 147.1Z" fill="#424dec" fill-rule="evenodd"/>
<path d="M49.8 90L61 88.4L68 88.7L75 89.9L80 91.5L84.4 94L87.3 97L88.3 100L87.7 103L85 106.2L80 109.2L74 111.1L66 112.2L58 112.1L51 111L45 109L40.1 106L38 103.5L37.1 101L37.5 98L38.8 96L40.9 94L44.3 92ZM-3 91.3L1 90.6L13 94L19.8 98L21 99.4L21.2 101L18 104L10 107.9L1 110.1L-3 109.2ZM129 91L133 90.8L133 109.8L130 110L114 107.3L109.3 105L106.6 102L106.2 100L106.6 99L110.2 96L115.5 94ZM58.7 150L67 149.5L76.7 150L85 151.7L87.3 153L90 155.5L98 166L102.9 169L17.2 169L23 165.9L33.3 158L39 154.6L46.9 152Z" fill="#3e4de5" fill-rule="evenodd"/>
<path d="M57.5 92L67 91.9L74 93.8L78.2 97L79 99L78.7 101L77.3 103L74.3 105L71 106.2L67 106.9L56 106.6L52 105.5L49.2 104L46.4 101L46.1 99L47 97L50.8 94ZM-0.5 95L4 95.5L8.2 98L9.2 100L7.9 103L5 104.9L2 105.8L-1 105.6L-3 104.4L-3 96.3ZM126.7 96L130 95.2L133 95.5L133 105.5L130 106.1L127 105.5L123.2 104L120.9 102L120.5 101L121.4 99ZM62.1 157L69 156.7L78 159.1L82 161.4L90.2 169L31.7 169L38 166.4L47 165.6L58 158.7Z" fill="#394edc" fill-rule="evenodd"/>
<path d="M60.6 98L64 97.7L65.8 99L65.9 100L64 101.7L61 101.5L59.4 100L59.6 99ZM61.4 166L64 165.2L67 165.5L74.8 169L57.6 169Z" fill="#364dd5" fill-rule="evenodd"/>
<mask id="mp12"><rect x="-5" y="-5" width="139.8" height="175.5" fill="#fff"/><rect x="-12.3" y="-6" width="24.6" height="12" fill="#000" transform="translate(98.6,21.4) rotate(0)"/><rect x="-16.4" y="-6" width="32.8" height="12" fill="#000" transform="translate(95.7,46.0) rotate(8)"/><rect x="-16.4" y="-6" width="32.8" height="12" fill="#000" transform="translate(79.6,69.2) rotate(-8)"/><rect x="-16.4" y="-6" width="32.8" height="12" fill="#000" transform="translate(94.2,80.1) rotate(0)"/><rect x="-16.4" y="-6" width="32.8" height="12" fill="#000" transform="translate(71.4,149.7) rotate(0)"/></mask>
<path d="M0.7 4L3.6 4.1L7.6 4.2L12.3 4.3L17.4 4.4L22.8 4.5L27.9 4.7L33.2 4.9L38.8 5.2L44.6 5.5L50.3 5.7L55.6 5.8L60.5 5.8L64.8 5.5L68.8 5L72.5 4.4L75.9 3.7L79.1 3.1L82.3 2.5L85.3 2L88.4 1.4L91.2 0.9L93.8 0.4L95.9 0L97.5 -0.3M0.7 21L3.6 21.2L7.6 21.6L12.3 22.1L17.4 22.5L22.8 22.9L27.9 23.2L33.1 23.3L38.7 23.3L44.3 23.3L50 23.2L55.5 23.2L60.5 23.2L65.3 23.2L69.9 23.2L74.2 23.3L78.4 23.3L82.1 23.3L85.5 23.2L88.4 23L90.7 22.7L92.7 22.5L94.6 22.1L96.5 21.8L98.6 21.4L100.8 21.1L103 20.7L105.3 20.3L107.6 19.9L110.1 19.4L112.7 18.8L115.7 18.1L119.2 17.2L122.8 16.3L126.2 15.4L129.1 14.6L131.2 14M0.7 41.6L3.6 41.8L7.6 42.1L12.3 42.3L17.4 42.6L22.8 42.7L27.9 42.7L33.2 42.4L38.8 41.9L44.6 41.3L50.3 40.7L55.7 40.3L60.5 40.1L64.7 40.2L68.5 40.6L72 41.1L75.2 41.6L78.2 42.2L81.2 42.7L83.9 43.2L86.4 43.7L88.7 44.2L90.9 44.8L93.2 45.4L95.7 46L98.4 46.6L101.2 47.2L104 47.9L106.8 48.6L109.7 49.4L112.7 50.3L115.9 51.5L119.4 52.9L123 54.4L126.3 55.9L129.1 57.1L131.2 57.9M0.7 72.7L2.4 72.2L4.8 71.3L7.5 70.4L10.6 69.4L13.8 68.5L17 67.7L20.3 67.1L23.9 66.4L27.6 65.8L31.3 65.3L35.1 65L38.8 64.9L42.6 65.2L46.6 65.8L50.7 66.5L54.5 67.4L57.8 68.2L60.5 68.8L62.3 69.3L63.2 69.8L63.7 70.3L64.1 70.6L64.8 70.9L66 71L67.7 70.9L69.8 70.8L72 70.5L74.5 70.1L77 69.7L79.6 69.2L82.4 68.7L85.2 67.9L88.2 67.2L91.3 66.4L94.4 65.9L97.5 65.6L100.7 65.5L104.1 65.8L107.5 66.1L110.9 66.6L114.1 67.2L117 67.7L119.9 68.4L122.7 69.2L125.3 70L127.7 70.9L129.7 71.6L131.2 72.1M0.7 81.9L3.6 81.7L7.6 81.6L12.3 81.3L17.4 81.1L22.8 80.9L27.9 80.8L33.2 80.6L38.9 80.5L44.7 80.5L50.4 80.4L55.8 80.3L60.5 80.3L64.6 80.4L68.2 80.5L71.5 80.6L74.4 80.7L77.3 80.7L80.1 80.8L82.7 80.7L85 80.6L87.2 80.5L89.4 80.3L91.7 80.2L94.2 80.1L97 80.1L100.1 80L103.2 80L106.4 80L109.6 80.1L112.7 80.1L116 80.2L119.5 80.3L123.1 80.4L126.4 80.6L129.2 80.7L131.2 80.8M88.3 100.3L88.3 100.6L88.3 101L88.3 101.3L88.2 101.6L88.1 101.9L88 102.2L87.9 102.5L87.8 102.8L87.6 103.1L87.5 103.4L87.3 103.7L87.1 104L86.9 104.3L86.6 104.6L86.4 104.9L86.1 105.2L85.8 105.5L85.5 105.8L85.2 106L84.9 106.3L84.6 106.6L84.2 106.8L83.8 107.1L83.4 107.4L83 107.6L82.6 107.9L82.2 108.1L81.8 108.3L81.3 108.6L80.8 108.8L80.4 109L79.9 109.2L79.4 109.4L78.8 109.6L78.3 109.8L77.8 110L77.2 110.2L76.7 110.4L76.1 110.5L75.5 110.7L74.9 110.8L74.3 111L73.7 111.1L73.1 111.3L72.5 111.4L71.9 111.5L71.3 111.6L70.6 111.7L70 111.8L69.3 111.9L68.7 112L68 112L67.4 112.1L66.7 112.1L66 112.2L65.4 112.2L64.7 112.3L64 112.3L63.4 112.3L62.7 112.3L62 112.3L61.4 112.3L60.7 112.3L60 112.2L59.3 112.2L58.7 112.1L58 112.1L57.4 112L56.7 112L56.1 111.9L55.4 111.8L54.8 111.7L54.1 111.6L53.5 111.5L52.9 111.4L52.3 111.3L51.6 111.1L51 111L50.5 110.8L49.9 110.7L49.3 110.5L48.7 110.4L48.2 110.2L47.6 110L47.1 109.8L46.5 109.6L46 109.4L45.5 109.2L45 109L44.6 108.8L44.1 108.6L43.6 108.3L43.2 108.1L42.8 107.9L42.3 107.6L41.9 107.4L41.6 107.1L41.2 106.8L40.8 106.6L40.5 106.3L40.1 106L39.8 105.8L39.5 105.5L39.3 105.2L39 104.9L38.7 104.6L38.5 104.3L38.3 104L38.1 103.7L37.9 103.4L37.7 103.1L37.6 102.8L37.5 102.5L37.4 102.2L37.3 101.9L37.2 101.6L37.1 101.3L37.1 101L37 100.6L37 100.3L37 100L37.1 99.7L37.1 99.4L37.2 99.1L37.3 98.8L37.4 98.5L37.5 98.2L37.6 97.8L37.7 97.5L37.9 97.2L38.1 96.9L38.3 96.6L38.5 96.3L38.7 96.1L39 95.8L39.3 95.5L39.5 95.2L39.8 94.9L40.1 94.6L40.5 94.4L40.8 94.1L41.2 93.8L41.6 93.6L41.9 93.3L42.3 93.1L42.8 92.8L43.2 92.6L43.6 92.3L44.1 92.1L44.6 91.9L45 91.7L45.5 91.4L46 91.2L46.5 91L47.1 90.8L47.6 90.7L48.2 90.5L48.7 90.3L49.3 90.1L49.9 90L50.5 89.8L51 89.7L51.6 89.5L52.3 89.4L52.9 89.3L53.5 89.2L54.1 89.1L54.8 89L55.4 88.9L56.1 88.8L56.7 88.7L57.4 88.6L58 88.6L58.7 88.5L59.3 88.5L60 88.4L60.7 88.4L61.4 88.4L62 88.4L62.7 88.4L63.4 88.4L64 88.4L64.7 88.4L65.4 88.4L66 88.5L66.7 88.5L67.4 88.6L68 88.6L68.7 88.7L69.3 88.8L70 88.9L70.6 89L71.3 89.1L71.9 89.2L72.5 89.3L73.1 89.4L73.7 89.5L74.3 89.7L74.9 89.8L75.5 90L76.1 90.1L76.7 90.3L77.2 90.5L77.8 90.7L78.3 90.8L78.8 91L79.4 91.2L79.9 91.4L80.4 91.7L80.8 91.9L81.3 92.1L81.8 92.3L82.2 92.6L82.6 92.8L83 93.1L83.4 93.3L83.8 93.6L84.2 93.8L84.6 94.1L84.9 94.4L85.2 94.6L85.5 94.9L85.8 95.2L86.1 95.5L86.4 95.8L86.6 96.1L86.9 96.3L87.1 96.6L87.3 96.9L87.5 97.2L87.6 97.5L87.8 97.8L87.9 98.2L88 98.5L88.1 98.8L88.2 99.1L88.3 99.4L88.3 99.7L88.3 100L88.3 100.3M0.7 90.6L2.1 90.9L4 91.3L6.2 91.8L8.5 92.4L10.7 93L12.7 93.8L14.5 94.7L16.5 95.7L18.3 96.9L19.9 98L21 99.2L21.4 100.3L21 101.5L19.9 102.6L18.3 103.8L16.5 104.9L14.5 106L12.7 106.9L10.7 107.6L8.5 108.3L6.2 108.9L4 109.4L2.1 109.8L0.7 110.1M131.2 90.6L129 91L125.9 91.6L122.3 92.4L118.6 93.2L115.3 94.1L112.7 94.9L110.8 95.7L109.1 96.6L107.9 97.5L106.9 98.4L106.4 99.4L106.2 100.3L106.4 101.4L106.9 102.5L107.9 103.7L109.1 104.9L110.8 105.9L112.7 106.9L115.3 107.6L118.6 108.3L122.3 108.9L125.9 109.4L129 109.8L131.2 110.1M66 99.7L65.9 99.9L65.9 100.1L65.8 100.2L65.7 100.4L65.6 100.6L65.5 100.8L65.4 100.9L65.2 101.1L65 101.2L64.8 101.3L64.6 101.5L64.3 101.6L64.1 101.6L63.8 101.7L63.5 101.8L63.3 101.8L63 101.8L62.7 101.9L62.4 101.8L62.1 101.8L61.8 101.8L61.6 101.7L61.3 101.6L61.1 101.6L60.8 101.5L60.6 101.3L60.4 101.2L60.2 101.1L60 100.9L59.9 100.8L59.7 100.6L59.6 100.4L59.5 100.2L59.5 100.1L59.4 99.9L59.4 99.7L59.4 99.5L59.5 99.3L59.5 99.1L59.6 98.9L59.7 98.8L59.9 98.6L60 98.4L60.2 98.3L60.4 98.1L60.6 98L60.8 97.9L61.1 97.8L61.3 97.7L61.6 97.6L61.8 97.6L62.1 97.5L62.4 97.5L62.7 97.5L63 97.5L63.3 97.5L63.5 97.6L63.8 97.6L64.1 97.7L64.3 97.8L64.6 97.9L64.8 98L65 98.1L65.2 98.3L65.4 98.4L65.5 98.6L65.6 98.8L65.7 98.9L65.8 99.1L65.9 99.3L65.9 99.5L66 99.7M0.7 118.8L3.4 119.5L7.3 120.4L11.8 121.5L16.4 122.8L20.5 124L23.6 125.3L25.6 126.6L27.1 128L28.2 129.4L28.8 130.9L29 132.4L29 134L28.6 135.8L27.9 137.7L26.8 139.6L25.4 141.5L23.6 143.3L21.4 144.9L18.5 146.3L14.7 147.6L10.6 148.8L6.6 149.9L3.1 150.8L0.7 151.4M0.7 127.5L1.7 128L3 128.6L4.5 129.3L6.1 130.1L7.4 131L8.3 131.9L8.9 132.8L9.2 133.9L9.3 135.1L9.2 136.3L8.9 137.4L8.3 138.4L7.4 139.3L6.1 140.1L4.5 141L3 141.7L1.7 142.3L0.7 142.7M81.2 131.9L81.2 132.2L81.1 132.5L81.1 132.8L81 133L80.9 133.3L80.8 133.6L80.7 133.9L80.5 134.2L80.4 134.5L80.2 134.8L80 135.1L79.8 135.4L79.5 135.6L79.3 135.9L79 136.2L78.7 136.4L78.4 136.7L78.1 136.9L77.7 137.2L77.4 137.4L77 137.6L76.6 137.9L76.2 138.1L75.8 138.3L75.3 138.5L74.9 138.7L74.4 138.9L73.9 139.1L73.5 139.3L73 139.4L72.5 139.6L71.9 139.8L71.4 139.9L70.9 140L70.3 140.2L69.8 140.3L69.2 140.4L68.6 140.5L68.1 140.6L67.5 140.7L66.9 140.7L66.3 140.8L65.7 140.9L65.1 140.9L64.5 140.9L63.9 141L63.3 141L62.7 141L62.1 141L61.5 141L60.9 140.9L60.3 140.9L59.7 140.9L59.1 140.8L58.5 140.7L57.9 140.7L57.3 140.6L56.8 140.5L56.2 140.4L55.6 140.3L55.1 140.2L54.5 140L54 139.9L53.5 139.8L52.9 139.6L52.4 139.4L51.9 139.3L51.4 139.1L51 138.9L50.5 138.7L50.1 138.5L49.6 138.3L49.2 138.1L48.8 137.9L48.4 137.6L48 137.4L47.7 137.2L47.3 136.9L47 136.7L46.7 136.4L46.4 136.2L46.1 135.9L45.9 135.6L45.6 135.4L45.4 135.1L45.2 134.8L45 134.5L44.8 134.2L44.7 133.9L44.6 133.6L44.5 133.3L44.4 133L44.3 132.8L44.3 132.5L44.2 132.2L44.2 131.9L44.2 131.6L44.3 131.3L44.3 131L44.4 130.7L44.5 130.4L44.6 130.1L44.7 129.8L44.8 129.5L45 129.2L45.2 128.9L45.4 128.6L45.6 128.4L45.9 128.1L46.1 127.8L46.4 127.6L46.7 127.3L47 127L47.3 126.8L47.7 126.5L48 126.3L48.4 126.1L48.8 125.8L49.2 125.6L49.6 125.4L50.1 125.2L50.5 125L51 124.8L51.4 124.6L51.9 124.4L52.4 124.3L52.9 124.1L53.5 123.9L54 123.8L54.5 123.7L55.1 123.5L55.6 123.4L56.2 123.3L56.8 123.2L57.3 123.1L57.9 123L58.5 123L59.1 122.9L59.7 122.8L60.3 122.8L60.9 122.8L61.5 122.7L62.1 122.7L62.7 122.7L63.3 122.7L63.9 122.7L64.5 122.8L65.1 122.8L65.7 122.8L66.3 122.9L66.9 123L67.5 123L68.1 123.1L68.6 123.2L69.2 123.3L69.8 123.4L70.3 123.5L70.9 123.7L71.4 123.8L71.9 123.9L72.5 124.1L73 124.3L73.5 124.4L73.9 124.6L74.4 124.8L74.9 125L75.3 125.2L75.8 125.4L76.2 125.6L76.6 125.8L77 126.1L77.4 126.3L77.7 126.5L78.1 126.8L78.4 127L78.7 127.3L79 127.6L79.3 127.8L79.5 128.1L79.8 128.4L80 128.6L80.2 128.9L80.4 129.2L80.5 129.5L80.7 129.8L80.8 130.1L80.9 130.4L81 130.7L81.1 131L81.1 131.3L81.2 131.6L81.2 131.9M131.2 118.8L128 119.5L123.3 120.4L117.9 121.5L112.4 122.8L107.5 124L104 125.3L101.8 126.6L100.3 128L99.5 129.4L99.1 130.9L99.1 132.4L99.2 134L99.5 135.8L100 137.7L100.8 139.6L102.1 141.5L103.8 143.3L106.2 144.9L109.6 146.3L114.1 147.6L119.1 148.8L124 149.9L128.2 150.8L131.2 151.4M131.2 125.3L129.9 125.9L127.9 126.6L125.7 127.5L123.5 128.5L121.6 129.6L120.3 130.8L119.5 132.1L119.1 133.6L118.9 135.3L119.1 136.8L119.5 138.3L120.3 139.5L121.6 140.4L123.5 141.1L125.7 141.6L127.9 142.1L129.9 142.4L131.2 142.7M23.6 165.6L25.2 164.3L27.4 162.5L30.1 160.4L33 158.2L35.9 156.2L38.8 154.7L41.6 153.5L44.5 152.6L47.5 151.9L50.5 151.3L53.4 150.8L56.2 150.3L58.8 150L61.4 149.7L63.9 149.6L66.4 149.5L68.9 149.5L71.4 149.7L74 149.8L76.6 150L79.3 150.2L81.9 150.7L84.3 151.4L86.6 152.5L88.8 154.2L91 156.6L93 159.2L94.8 161.8L96.3 164L97.5 165.6M47.5 165.6L49.1 164.5L51.4 162.9L54.1 161.1L57.1 159.3L60 157.8L62.7 156.9L65.3 156.5L68 156.6L70.7 157L73.3 157.6L75.7 158.3L77.9 159L79.8 159.9L81.6 161.1L83.2 162.4L84.6 163.7L85.7 164.8L86.6 165.6" fill="none" stroke="#3a3a5a" stroke-width="0.8" stroke-opacity="0.85" mask="url(#mp12)"/>
<text transform="translate(98.6,21.4) rotate(0)" x="0" y="4.6" text-anchor="middle" font-family="Liberation Serif" font-size="13.5" textLength="18.8" lengthAdjust="spacingAndGlyphs" fill="#000">0.2</text>
<text transform="translate(95.7,46.0) rotate(8)" x="0" y="4.6" text-anchor="middle" font-family="Liberation Serif" font-size="13.5" textLength="25.0" lengthAdjust="spacingAndGlyphs" fill="#000">0.24</text>
<text transform="translate(79.6,69.2) rotate(-8)" x="0" y="4.6" text-anchor="middle" font-family="Liberation Serif" font-size="13.5" textLength="25.0" lengthAdjust="spacingAndGlyphs" fill="#000">0.28</text>
<text transform="translate(94.2,80.1) rotate(0)" x="0" y="4.6" text-anchor="middle" font-family="Liberation Serif" font-size="13.5" textLength="25.0" lengthAdjust="spacingAndGlyphs" fill="#000">0.32</text>
<text transform="translate(71.4,149.7) rotate(0)" x="0" y="4.6" text-anchor="middle" font-family="Liberation Serif" font-size="13.5" textLength="25.0" lengthAdjust="spacingAndGlyphs" fill="#000">0.36</text>
<text x="5.9" y="20.7" font-family="Liberation Serif" font-size="15.5" textLength="37.7" lengthAdjust="spacingAndGlyphs" fill="#000">(B50)</text>
</g>
<clipPath id="cp13"><rect x="0" y="0" width="130.9" height="165.5"/></clipPath>
<g transform="translate(517.4,236.1)" clip-path="url(#cp13)">
<rect x="-2" y="-2" width="134.9" height="169.5" fill="#f2f2fe"/>
<path d="M-3 -3L15 -3L19 -1.5L22 -1L25 -1.4L28.4 -3L134 -3L134 169L-3 169Z" fill="#ececfc" fill-rule="evenodd"/>
<path d="M-3 -3L8.5 -3L15 0.4L22 1.8L27 0.7L32.7 -3L134 -3L134 169L-3 169Z" fill="#e7e7fc" fill-rule="evenodd"/>
<path d="M-3 -3L1.9 -3L12 2.3L21 3.9L27 2.9L36.6 -3L134 -3L134 169L-3 169Z" fill="#e0e0fb" fill-rule="evenodd"/>
<path d="M28 4.2L41 -3L134 -3L134 169L-3 169L-3 -0.4L0 0.4L9 4.7L14 5.6L20 5.8L24 5.4Z" fill="#dbdbfb" fill-rule="evenodd"/>
<path d="M29.4 5L46.4 -3L134 -3L134 169L-3 169L-3 6L3 7.5L9 8.2L15 8.1L23 7Z" fill="#d8d8fa" fill-rule="evenodd"/>
<path d="M35.7 4L52.4 -3L134 -3L134 169L-3 169L-3 13L1 13.2L19 9.4Z" fill="#d4d4fa" fill-rule="evenodd"/>
<path d="M41 4.4L59.2 -3L134 -3L134 169L-3 169L-3 17.6L2 17.4L7 16.1L17 12.2L27 7.3Z" fill="#cecef9" fill-rule="evenodd"/>
<path d="M43 6.6L67.6 -3L134 -3L134 169L-3 169L-3 21.5L4 21L10 19L16 15.7L27 8.2L37 7.7Z" fill="#c6c6f9" fill-rule="evenodd"/>
<path d="M68 1.1L76.7 -3L134 -3L134 169L-3 169L-3 25.3L6 24.6L12 22.6L16 19.9L26.6 10L28 9.2L39 10.4L44 9.8Z" fill="#bcbcf8" fill-rule="evenodd"/>
<path d="M72 4.3L85.8 -3L134 -3L134 169L-3 169L-3 29L10 28.2L16 26.4L19.5 23L26.4 13L29 11.4L33 12.4L37 15L38.5 17L38.2 21L38.7 22L40 23L41 23L43.5 17L51.3 11L58 8.1ZM50 29.9L48.5 31L48.6 34L50.4 37L53.6 40L56 41.2L59 41.5L61 40.9L63.2 39L64.1 37L64.4 35L63.9 33L62.1 31L57 29.5Z" fill="#b1b1f8" fill-rule="evenodd"/>
<path d="M74 9.6L95.9 -3L134 -3L134 169L-3 169L-3 32.7L15 32.6L25 30L28 30L31 31.4L46.2 42L52 45.4L57 47.1L62 46.5L65.7 44L68.5 40L70 35L69.9 30L69 27.6L67 25.7L58 23.8L54.5 22L52.6 19L52.7 17L53.7 15L56.1 13L60 11.5L71 10.5Z" fill="#a7a7f8" fill-rule="evenodd"/>
<path d="M89 6.1L108.7 -3L134 -3L134 169L-3 169L-3 36.5L5 36.6L27 38.5L34 41L55 51.2L59 52.2L62 51.9L65 50.4L68 48L70.5 45L72.9 41L74.7 35L76.5 21L78.2 16L80.1 13L84 9.3ZM62.6 15L65 15L66.9 16L67.5 18L66 20L63 20.5L60.2 19L59.8 17L60.5 16Z" fill="#9b9bf8" fill-rule="evenodd"/>
<path d="M96 8.5L127.1 -3L134 -3L134 169L-3 169L-3 40.6L6 40.9L26 44.2L39 48.5L57 56.5L60 57.1L63 56.7L66 55.1L70 51.7L73.4 48L76.1 44L79.1 36L81.2 22L82.9 18L85.1 15L89 12Z" fill="#9090f8" fill-rule="evenodd"/>
<path d="M130 6.9L134 5.1L134 169L-3 169L-3 45.8L1 45.5L31 50.9L46 55.2L58 60.8L63 61L67 59.1L71.3 56L77.5 50L80.5 46L84.1 37L85.7 24L86.9 21L88.4 19L96 15.1L110 10.2L119 8.1Z" fill="#8787f8" fill-rule="evenodd"/>
<path d="M125 16.2L134 13.6L134 169L-3 169L-3 56.1L2 56.4L17 55.2L30 55.8L44 58.5L58 63.9L62 64.1L65 63.5L70.8 61L77.3 57L82.8 53L86.8 49L89.2 45L90.7 41L92.9 28L94 25.8L96 23.8L101.1 21L108 18.5Z" fill="#7e7ef8" fill-rule="evenodd"/>
<path d="M133.8 21L134 169L-3 169L-3 64.5L2 64.7L18 61.1L31 60.5L42 61.8L57 66.3L63 66.5L69.5 65L88.6 58L107 49.2L112 48.8L121 49.9L124 49.4L126 48.2L128 46L129.1 44L129.5 41L128.1 38L121 33L120.5 32L120.7 30L122.4 28Z" fill="#7575f7" fill-rule="evenodd"/>
<path d="M131 30L134 28.8L134 32.6L131.9 32L130.7 31ZM109.3 60L116 60.5L129 64L131.4 64L134 63.1L134 169L-3 169L-3 68.9L1 69.1L18 65.4L32 64.4L40 64.8L56 68.5L63 68.8Z" fill="#6c6cf7" fill-rule="evenodd"/>
<path d="M104.7 66L113 65.6L119 66.7L130 69.8L134 69.2L134 169L-3 169L-3 71.7L0 72.1L18 68.6L33 67.6L40 67.9L56 70.7L63 70.9L79 68.9L94 67.7Z" fill="#6565f7" fill-rule="evenodd"/>
<path d="M105.1 70L113 69.9L129 72.7L134 72.6L134 169L-3 169L-3 73.7L1 73.8L15 71.6L30 70.5L40 70.6L62 72.9Z" fill="#6060f7" fill-rule="evenodd"/>
<path d="M13.7 74L36 73.1L66 74.8L109 73.4L129 75.3L134 75.2L134 169L-3 169L-3 138.2L-1 137.5L-0.2 136L-1.3 135L-3 134.7L-3 75.5Z" fill="#5b5bf8" fill-rule="evenodd"/>
<path d="M15.8 76L36 75.6L76 77.2L106 76.7L134 77.7L134 169L-3 169L-3 146.1L4.2 140L5.9 138L6.6 136L5.7 134L2.8 131L-0.7 128L-3 127.4L-3 77.1ZM130.1 130L128.5 130L128.5 131L130 131.1ZM12 130L10.7 131L10.2 133L11 135L12.8 137L20.4 142L25 143.6L29 144.2L35 143.7L41 141.7L49.1 137L51.8 135L53.4 133L53 132L50 131.3L30 132.1L25 131.6L16 129.7Z" fill="#5656f8" fill-rule="evenodd"/>
<path d="M21.2 78L54 78.4L81 79.7L134 80.1L134 121L130 120L105 125.1L88 126.5L79 126.3L59 124.3L29 126.5L1 122.2L-3 122.7L-3 78.7ZM94.8 135L101 134.1L106 134.9L110 136.5L124 144.2L129 145.8L134 146.2L134 169L-3 169L-3 155.7L4 152.8L9 152L24 154.6L29 154.8L34 154.2L43 151L56 142.9L61 140.6L66 139.7L81 139.1Z" fill="#5151f8" fill-rule="evenodd"/>
<path d="M-3 120.3L-3 80.4L2 80.2L53 80.7L108 83.4L134 82.5L134 117.5L128 117.1L101 118.7L80 121.2L59 121.2L32 123.1L26 122.9L2 120.2ZM97.2 144L102 143.1L106 143.7L110 145.5L123 153.1L128 154.9L134 156L134 169L-3 169L-3 166.3L3 164.7L10 164.2L27 164.5L33 163.7L38 162.4L47 158.1L59 149L62.9 147L66 147.1L76 149.2L81 149.3L87 147.9Z" fill="#4c4ef6" fill-rule="evenodd"/>
<path d="M-3 82.1L69 83.5L104 87.1L115 86.8L134 85.1L134 114.9L120 113.9L102 113.6L76 117.9L33 120.2L-3 118.4ZM100.8 154L103 153.8L106 154.7L117 160.7L123 163.3L134 166L134 169L48.5 169L58 164.5L63 162.8L67 163.2L73 165.5L77 165L83 162.7L97 155.4Z" fill="#474ef1" fill-rule="evenodd"/>
<path d="M-3 84L33 85.5L71.8 86L80 87.4L96 91.5L101 92L112 91.2L130 88L134 87.9L134 112.3L107 108.5L101 108.1L96 108.9L80 113.8L69 115.5L31 117.5L-3 116.5Z" fill="#424dec" fill-rule="evenodd"/>
<path d="M-3 86L0 85.8L18 87.7L32 88.5L47 88.9L68 88.5L73 88.8L80.4 91L86.2 94L89.2 97L90.1 99L90.2 101L89.7 103L88.3 105L84 107.9L75.9 111L68 112.7L44 114.3L13 114.9L-3 114.5ZM113.2 98L131 91.1L134 91.1L134 109.4L130 109.3L120.9 106L113.8 103L111.2 101L111 100Z" fill="#3e4de5" fill-rule="evenodd"/>
<path d="M-3 88L1 88.1L19 91.6L41 93.1L49 93L61 91.1L67 91.4L73 92.9L76.7 95L79.3 98L79.6 101L77.7 104L73.5 107L69.1 109L64 110.2L36 110.5L1 112.5L-2 112.2L-3 112ZM129.9 96L134 95.7L134 105.2L130 105L128 104L126 102L125.6 101L125.9 99L127.9 97Z" fill="#394edc" fill-rule="evenodd"/>
<path d="M-3 91L0 90.6L9.8 96L12.9 99L12.7 101L8.8 104L1 108.3L-1 108.8L-3 108.5ZM59.8 94L63 93.9L65 94.5L67.2 96L68.7 98L69.1 101L68.5 103L66.9 105L65 106.1L62 106.8L59 106.5L56.2 105L54.6 103L53.9 100L54.4 98L57 95.1Z" fill="#364dd5" fill-rule="evenodd"/>
<path d="M-2.9 98L-2 97.5L-0.5 98L0.1 99L-0.3 100L-2 100.7L-3 100.1Z" fill="#344ad0" fill-rule="evenodd"/>
<mask id="mp13"><rect x="-5" y="-5" width="140.9" height="175.5" fill="#fff"/><rect x="-16.4" y="-6" width="32.8" height="12" fill="#000" transform="translate(46.3,55.3) rotate(15)"/><rect x="-16.4" y="-6" width="32.8" height="12" fill="#000" transform="translate(94.2,67.7) rotate(0)"/><rect x="-16.4" y="-6" width="32.8" height="12" fill="#000" transform="translate(94.2,79.7) rotate(0)"/><rect x="-16.4" y="-6" width="32.8" height="12" fill="#000" transform="translate(55.9,88.8) rotate(0)"/><rect x="-16.4" y="-6" width="32.8" height="12" fill="#000" transform="translate(33.3,114.5) rotate(0)"/><rect x="-16.4" y="-6" width="32.8" height="12" fill="#000" transform="translate(42.0,125.8) rotate(0)"/></mask>
<path d="M0 13.4L1.8 13L4.2 12.6L7.1 12.1L10.2 11.5L13.4 10.8L16.3 10.1L19.2 9.3L22.2 8.5L25.2 7.5L28.2 6.5L31.1 5.6L33.7 4.7L36.3 3.8L38.9 2.8L41.3 1.8L43.6 1L45.4 0.2L46.8 -0.3M0 45.3L1.8 45.6L4.3 46.1L7.2 46.6L10.4 47.1L13.5 47.7L16.3 48.2L18.9 48.6L21.5 49L24 49.5L26.6 49.9L29.1 50.4L31.6 51L34 51.6L36.5 52.3L38.9 53L41.4 53.7L43.8 54.5L46.3 55.3L48.9 56.4L51.5 57.8L54.1 59.2L56.8 60.4L59.4 61.2L62 61.2L64.7 60.4L67.4 58.9L70.2 56.9L72.8 54.7L75.2 52.4L77.2 50.3L78.8 48.4L80.2 46.6L81.3 44.6L82.2 42.6L83 40.6L83.7 38.4L84.3 35.9L84.6 33.2L84.8 30.4L85 27.7L85.3 25.2L85.9 23.2L86.6 21.6L87.2 20.4L87.9 19.4L89 18.6L90.4 17.7L92.4 16.6L95.2 15.4L98.7 14L102.7 12.6L106.8 11.2L110.7 10L114.2 9L117.4 8.3L120.6 7.8L123.7 7.5L126.4 7.2L128.8 7L130.5 6.9M72.4 17.7L72.4 17.9L72.4 18.1L72.4 18.4L72.3 18.6L72.2 18.8L72.1 19L72 19.2L71.9 19.4L71.8 19.6L71.7 19.7L71.5 19.9L71.3 20.1L71.1 20.3L70.9 20.5L70.7 20.6L70.5 20.8L70.3 21L70 21.1L69.7 21.3L69.5 21.4L69.2 21.5L68.9 21.6L68.6 21.8L68.3 21.9L68 22L67.7 22.1L67.3 22.1L67 22.2L66.6 22.3L66.3 22.3L66 22.4L65.6 22.4L65.2 22.5L64.9 22.5L64.5 22.5L64.2 22.5L63.8 22.5L63.4 22.5L63.1 22.5L62.7 22.4L62.4 22.4L62 22.3L61.7 22.3L61.3 22.2L61 22.1L60.7 22.1L60.3 22L60 21.9L59.7 21.8L59.4 21.6L59.1 21.5L58.9 21.4L58.6 21.3L58.3 21.1L58.1 21L57.8 20.8L57.6 20.6L57.4 20.5L57.2 20.3L57 20.1L56.8 19.9L56.7 19.7L56.5 19.6L56.4 19.4L56.3 19.2L56.2 19L56.1 18.8L56 18.6L56 18.4L55.9 18.1L55.9 17.9L55.9 17.7L55.9 17.5L55.9 17.3L56 17.1L56 16.9L56.1 16.7L56.2 16.5L56.3 16.3L56.4 16.1L56.5 15.9L56.7 15.7L56.8 15.5L57 15.3L57.2 15.2L57.4 15L57.6 14.8L57.8 14.7L58.1 14.5L58.3 14.3L58.6 14.2L58.9 14.1L59.1 13.9L59.4 13.8L59.7 13.7L60 13.6L60.3 13.5L60.7 13.4L61 13.3L61.3 13.2L61.7 13.2L62 13.1L62.4 13.1L62.7 13L63.1 13L63.4 13L63.8 12.9L64.2 12.9L64.5 12.9L64.9 13L65.2 13L65.6 13L66 13.1L66.3 13.1L66.6 13.2L67 13.2L67.3 13.3L67.7 13.4L68 13.5L68.3 13.6L68.6 13.7L68.9 13.8L69.2 13.9L69.5 14.1L69.7 14.2L70 14.3L70.3 14.5L70.5 14.7L70.7 14.8L70.9 15L71.1 15.2L71.3 15.3L71.5 15.5L71.7 15.7L71.8 15.9L71.9 16.1L72 16.3L72.1 16.5L72.2 16.7L72.3 16.9L72.4 17.1L72.4 17.3L72.4 17.5L72.4 17.7M130.5 24.2L129.6 25L128.3 25.9L126.8 27.1L125.4 28.4L124.4 29.6L123.9 30.8L124.4 31.9L125.4 33.2L126.8 34.4L128.3 35.6L129.6 36.6L130.5 37.3M0 72.1L1.7 71.7L4.1 71.1L6.8 70.5L9.9 69.9L13.1 69.3L16.3 68.8L19.6 68.5L23.2 68.1L26.9 67.9L30.6 67.7L34.4 67.6L38.1 67.7L41.7 68.1L45.4 68.7L49.1 69.4L52.7 70.1L56.3 70.7L59.8 71L63.3 70.9L66.7 70.6L70 70.2L73.3 69.7L76.4 69.2L79.4 68.8L82.1 68.6L84.6 68.4L86.9 68.3L89.2 68.1L91.6 68L94.2 67.7L97 67.4L99.9 66.8L102.8 66.3L105.9 65.8L108.9 65.5L112 65.6L115.2 65.9L118.8 66.7L122.3 67.6L125.7 68.5L128.5 69.4L130.5 69.9M0 78.6L2.9 78.5L6.9 78.4L11.6 78.2L16.7 78.1L22.1 78L27.2 77.9L32.5 78L38.2 78L44 78.2L49.7 78.3L55.1 78.4L59.8 78.6L63.9 78.8L67.5 79L70.7 79.2L73.7 79.4L76.5 79.6L79.4 79.7L82.1 79.7L84.6 79.7L86.9 79.7L89.2 79.7L91.6 79.7L94.2 79.7L97 79.7L99.9 79.8L102.8 79.9L105.9 80L108.9 80.1L112 80.1L115.2 80.1L118.8 80.1L122.3 80.1L125.7 80.1L128.5 80.1L130.5 80.1M0 85.8L2.3 86L5.4 86.4L9.1 86.8L13 87.2L17 87.6L20.7 87.9L24.2 88.2L27.8 88.4L31.4 88.5L34.9 88.6L38.2 88.7L41.3 88.8L44.1 88.9L46.6 88.9L48.9 88.9L51.1 88.8L53.4 88.8L55.9 88.8L58.6 88.8L61.5 88.6L64.5 88.5L67.4 88.4L70.2 88.5L72.9 88.8L75.4 89.3L77.8 90.1L80.2 90.9L82.3 91.8L84.3 92.8L85.9 93.8L87.2 94.8L88.3 95.9L89.2 97L89.8 98.1L90.1 99.2L90.3 100.3L90.2 101.4L89.8 102.5L89.3 103.7L88.5 104.8L87.4 105.8L85.9 106.9L84.1 107.9L81.8 108.9L79.3 109.9L76.6 110.8L73.7 111.6L70.7 112.3L67.5 112.8L64.1 113.2L60.5 113.5L56.8 113.7L53.3 113.9L50 114L47 114.2L44.2 114.3L41.4 114.3L38.7 114.4L36.1 114.4L33.3 114.5L30.5 114.5L27.6 114.6L24.8 114.7L22 114.8L19.1 114.9L16.3 114.9L13.4 114.9L10.3 114.9L7.1 114.9L4.2 114.9L1.8 114.9L0 114.9M130.5 91.2L127.9 92.2L123.9 93.6L119.5 95.2L115.3 97L112.1 98.7L110.9 100.3L112.1 102L115.3 103.7L119.5 105.5L123.9 107.1L127.9 108.5L130.5 109.5M0 90.6L1.8 91.5L4.4 92.9L7.4 94.5L10.2 96.3L12.3 98.1L13.1 99.7L12.3 101.3L10.2 103.1L7.4 104.8L4.4 106.4L1.8 107.8L0 108.8M69.2 100.3L69.2 100.6L69.1 100.9L69.1 101.2L69 101.5L69 101.7L68.9 102L68.8 102.3L68.7 102.6L68.6 102.8L68.5 103.1L68.3 103.3L68.1 103.6L68 103.8L67.8 104.1L67.6 104.3L67.4 104.5L67.2 104.7L66.9 104.9L66.7 105.1L66.4 105.3L66.2 105.5L65.9 105.7L65.6 105.8L65.4 106L65.1 106.1L64.8 106.2L64.5 106.4L64.2 106.5L63.8 106.6L63.5 106.6L63.2 106.7L62.9 106.8L62.5 106.8L62.2 106.8L61.9 106.9L61.6 106.9L61.2 106.9L60.9 106.8L60.6 106.8L60.2 106.8L59.9 106.7L59.6 106.6L59.3 106.6L59 106.5L58.6 106.4L58.3 106.2L58 106.1L57.8 106L57.5 105.8L57.2 105.7L56.9 105.5L56.7 105.3L56.4 105.1L56.2 104.9L55.9 104.7L55.7 104.5L55.5 104.3L55.3 104.1L55.1 103.8L55 103.6L54.8 103.3L54.7 103.1L54.5 102.8L54.4 102.6L54.3 102.3L54.2 102L54.1 101.7L54.1 101.5L54 101.2L54 100.9L54 100.6L53.9 100.3L54 100.1L54 99.8L54 99.5L54.1 99.2L54.1 98.9L54.2 98.6L54.3 98.4L54.4 98.1L54.5 97.8L54.7 97.6L54.8 97.3L55 97.1L55.1 96.8L55.3 96.6L55.5 96.4L55.7 96.1L55.9 95.9L56.2 95.7L56.4 95.5L56.7 95.3L56.9 95.2L57.2 95L57.5 94.8L57.8 94.7L58 94.6L58.3 94.4L58.6 94.3L59 94.2L59.3 94.1L59.6 94L59.9 94L60.2 93.9L60.6 93.9L60.9 93.8L61.2 93.8L61.6 93.8L61.9 93.8L62.2 93.8L62.5 93.9L62.9 93.9L63.2 94L63.5 94L63.8 94.1L64.2 94.2L64.5 94.3L64.8 94.4L65.1 94.6L65.4 94.7L65.6 94.8L65.9 95L66.2 95.2L66.4 95.3L66.7 95.5L66.9 95.7L67.2 95.9L67.4 96.1L67.6 96.4L67.8 96.6L68 96.8L68.1 97.1L68.3 97.3L68.5 97.6L68.6 97.8L68.7 98.1L68.8 98.4L68.9 98.6L69 98.9L69 99.2L69.1 99.5L69.1 99.8L69.2 100.1L69.2 100.3M0 122.1L1.9 122.3L4.4 122.6L7.4 123L10.6 123.4L13.7 123.9L16.3 124.2L18.6 124.6L20.6 125.1L22.5 125.5L24.3 125.9L26.3 126.2L28.3 126.4L30.4 126.5L32.6 126.4L34.8 126.3L37.1 126.2L39.4 126L42 125.8L44.7 125.5L47.5 125.2L50.4 124.8L53.4 124.5L56.6 124.3L59.8 124.2L63.2 124.4L66.8 124.8L70.4 125.3L74.2 125.8L77.9 126.2L81.6 126.4L85.1 126.5L88.6 126.5L92.1 126.4L95.6 126.1L99.4 125.8L103.3 125.3L107.8 124.6L113 123.6L118.2 122.5L123.2 121.5L127.5 120.5L130.5 119.9M0 128.6L0.9 129.4L2.2 130.6L3.7 131.9L5.1 133.4L6.1 134.8L6.6 136.2L6.1 137.6L5.1 139L3.7 140.5L2.2 141.8L0.9 143L0 143.8M55.5 165.6L56.4 165.2L57.7 164.6L59.3 164L60.9 163.4L62.6 162.9L64.2 162.7L65.7 162.9L67.4 163.4L69.1 164L70.6 164.6L71.9 165.2L72.9 165.6" fill="none" stroke="#3a3a5a" stroke-width="0.8" stroke-opacity="0.85" mask="url(#mp13)"/>
<text transform="translate(46.3,55.3) rotate(15)" x="0" y="4.6" text-anchor="middle" font-family="Liberation Serif" font-size="13.5" textLength="25.0" lengthAdjust="spacingAndGlyphs" fill="#000">0.24</text>
<text transform="translate(94.2,67.7) rotate(0)" x="0" y="4.6" text-anchor="middle" font-family="Liberation Serif" font-size="13.5" textLength="25.0" lengthAdjust="spacingAndGlyphs" fill="#000">0.28</text>
<text transform="translate(94.2,79.7) rotate(0)" x="0" y="4.6" text-anchor="middle" font-family="Liberation Serif" font-size="13.5" textLength="25.0" lengthAdjust="spacingAndGlyphs" fill="#000">0.32</text>
<text transform="translate(55.9,88.8) rotate(0)" x="0" y="4.6" text-anchor="middle" font-family="Liberation Serif" font-size="13.5" textLength="25.0" lengthAdjust="spacingAndGlyphs" fill="#000">0.36</text>
<text transform="translate(33.3,114.5) rotate(0)" x="0" y="4.6" text-anchor="middle" font-family="Liberation Serif" font-size="13.5" textLength="25.0" lengthAdjust="spacingAndGlyphs" fill="#000">0.36</text>
<text transform="translate(42.0,125.8) rotate(0)" x="0" y="4.6" text-anchor="middle" font-family="Liberation Serif" font-size="13.5" textLength="25.0" lengthAdjust="spacingAndGlyphs" fill="#000">0.32</text>
<text x="4.6" y="20.1" font-family="Liberation Serif" font-size="15.5" textLength="45.9" lengthAdjust="spacingAndGlyphs" fill="#000">(B100)</text>
</g>
<clipPath id="cp20"><rect x="0" y="0" width="130.0" height="165.4"/></clipPath>
<g transform="translate(97.5,414.1)" clip-path="url(#cp20)">
<rect x="-2" y="-2" width="134.0" height="169.4" fill="#f6f6fe"/>
<path d="M60 0.1L69.9 -3L126.1 -3L130 -1.8L133 -1.6L133 169L-3 169L-3 0.2L9 1.1L51 0.8Z" fill="#f2f2fe" fill-rule="evenodd"/>
<path d="M73 -0.4L84.7 -3L120.4 -3L130 -0.7L133 -0.6L133 169L-3 169L-3 5.2L1 5.7L59 4.1L65 3Z" fill="#ececfc" fill-rule="evenodd"/>
<path d="M92.5 -1L103 -1.9L114 -1.9L133 0.4L133 169L-3 169L-3 9L4 9.3L60 7.6L67 6.3L80 1.6Z" fill="#e7e7fc" fill-rule="evenodd"/>
<path d="M101.1 1L118 0.1L133 1.3L133 169L-3 169L-3 12.2L21 12.6L62 11L70 9.4L88.8 3Z" fill="#e0e0fb" fill-rule="evenodd"/>
<path d="M119.7 2L130 1.6L133 2.3L133 169L-3 169L-3 15.5L26 16.8L44 16.1L63 14.7L72 13L88 7.1L94 5.4L104 3.7Z" fill="#dbdbfb" fill-rule="evenodd"/>
<path d="M98 8.3L130 2.5L133 3.6L133 169L-3 169L-3 18.9L26 21.6L42 21.2L57 19.8L73 16.8L91 10.3Z" fill="#d8d8fa" fill-rule="evenodd"/>
<path d="M126.8 5L130 4.3L133 5.8L133 169L-3 169L-3 22.7L2 23.1L16 26.3L24 27.3L35 27.3L49 25.9L72 21.1L99 12.2L119 7.9Z" fill="#d4d4fa" fill-rule="evenodd"/>
<path d="M108 13.7L133 10.5L133 169L-3 169L-3 27.4L0 27.6L13 32.1L20 33.7L26 34.2L33 33.7L49 30.7L76 24.1Z" fill="#cecef9" fill-rule="evenodd"/>
<path d="M130.2 15L133 14.4L133 169L-3 169L-3 35.7L1 36.6L15 41.5L21 42.2L27 41.9L34 40.2L57 32.5L84 26.3L110 16.8L117 15.6Z" fill="#c6c6f9" fill-rule="evenodd"/>
<path d="M116 18.6L133 17.1L133 169L-3 169L-3 50.4L4 52.1L12 52.9L20 52.8L27 51.6L35 48.5L48.2 40L56 36.5L64 34.4L84 31.4L91 29L110.3 20Z" fill="#bcbcf8" fill-rule="evenodd"/>
<path d="M118 21.2L133 19.3L133 169L-3 169L-3 62.9L1 63.4L18 62.6L44 60.7L48 61.6L56 67L58.3 68L63 69.1L67 68.9L68.8 67L69.1 65L68.7 63L67.4 61L71 58.3L72.8 56L73.9 53L74.1 50L73.3 47L71 43.9L67 41.3L65.2 41L80 39.7L85 38.5L93 34.7L106.1 26L112 22.8ZM50.9 55L52 52.2L52.2 53L54 53.9L60 56L66.1 60L63.9 61L60 61.6L57 61.6L54 60.8L51.3 58Z" fill="#b1b1f8" fill-rule="evenodd"/>
<path d="M116 24.9L133 21.3L133 169L-3 169L-3 69.7L34 70.2L60 74.4L66 74.1L70 73.1L78.5 68L87.3 60L91.1 55L101.1 38L105.1 33L109.3 29Z" fill="#a7a7f8" fill-rule="evenodd"/>
<path d="M128.5 24L133 23.1L133 55.3L131 53.6L129 52.8L119 53.1L115 51.9L113 50.4L111.2 48L109.6 43L110.3 37L111.6 34L114 30.8L119 27.2ZM106.2 64L113 64.2L127 68.3L130 68.3L133 66.8L133 169L-3 169L-3 75.6L31 76.7L54 78.2L64 77.9L74 75.7L100 65.6Z" fill="#9b9bf8" fill-rule="evenodd"/>
<path d="M130 25.5L133 25L133 48.1L130 47.1L124 46.9L120.7 46L118.5 44L116.5 40L116.4 36L117.6 33L119.3 31L122.2 29ZM81 78.2L106 72.2L111 72.1L130 75.3L133 74.8L133 169L-3 169L-3 82.3L1 81.9L32 82.9L60 81.8L69 80.7Z" fill="#9090f8" fill-rule="evenodd"/>
<path d="M129.4 28L133 27.1L133 44.8L127 43.8L124 42.7L122 40.9L120.8 38L121 35L122.8 32ZM103.5 78L113 77.3L129 78.8L133 78.6L133 169L-3 169L-3 94.8L2 92.8L7 91.7L32 89.2L78 83.4Z" fill="#8787f8" fill-rule="evenodd"/>
<path d="M128 31.2L133 29.5L133 42.1L127 40.7L125.2 39L124.4 37L124.6 35L125.8 33ZM108.4 82L116 81.5L133 81.8L133 169L-3 169L-3 117.8L9 106.3L14 103L20.8 100L50 91.7L61 89.6L81 88.1Z" fill="#7e7ef8" fill-rule="evenodd"/>
<path d="M130.5 33L133 32.7L133 39L130 38.8L128.1 37L128.2 35ZM117 85.7L133 84.9L133 169L-3 169L-3 132.1L0 131.7L13 119.2L24.6 111L45.4 100L52.5 97L59 95.1L65 94.5L76 95.5L80 95.2L110 86.5Z" fill="#7575f7" fill-rule="evenodd"/>
<path d="M115.2 91L133 88.2L133 169L-3 169L-3 136.8L1 136.5L4 135.6L18 129.2L40.9 120L47 116.6L55.5 110L60 107.9L63 107.7L65 108.2L67.4 110L68.1 112L67.6 114L66.3 116L58 124.6L56 130L55.9 135L57.1 141L59.1 146L62 149.3L66 151.8L70 153.3L75 154L81 153.9L87 152.9L93.4 151L100.7 148L106.4 145L112 141L115 137.8L116.8 134L116.9 130L116 127.9L113.6 125L100.2 115L95.8 111L94.2 108L94.4 105L96.1 102L99 99L106.9 94Z" fill="#6c6cf7" fill-rule="evenodd"/>
<path d="M121 95.2L133 91.7L133 129.7L132 126L129.7 122L127.7 120L121.1 116L116.3 112L113.2 108L112.2 104L113.6 100L116.8 97ZM133 136L133 169L-3 169L-3 140.5L21 137.8L30 137.9L36 139.1L40 140.8L44 143.7L55 156.7L60 161.1L64 163.2L68 164.4L73 165.3L79 165.5L88 164.4L97 162L107.2 158L119.5 152L125 148.5L128.7 145L131.3 141Z" fill="#6565f7" fill-rule="evenodd"/>
<path d="M122.1 100L133 95L133 116.2L124.6 112L121.2 108L120 105L120.4 102ZM-3 144L9 143.3L15 143.6L26 145.8L34 148.4L38 150.4L41 152.6L45.3 157L52 165.4L57 169L-3 169ZM103.7 169L133 155.1L133 169Z" fill="#6060f7" fill-rule="evenodd"/>
<path d="M130.3 99L133 98.1L133 112.1L127.8 110L125.7 108L124.7 106L124.6 104L125.6 102ZM-3 169L-3 147.3L10 147.5L16 148.7L22.3 151L29 154.3L34.8 158L46 169ZM123.1 169L133 164.1L133 169Z" fill="#5b5bf8" fill-rule="evenodd"/>
<path d="M130.4 102L133 101.4L133 108.5L130 107.6L128.4 106L128.4 104ZM-3 151L8 151.3L15 153.2L24.4 159L36.6 169L-3 169Z" fill="#5656f8" fill-rule="evenodd"/>
<path d="M-3 155L-1 154.7L6 155.3L12 156.9L16.5 160L26.9 169L-3 169Z" fill="#5151f8" fill-rule="evenodd"/>
<path d="M-3 169L-3 159.3L1 159.6L8 161.3L12 163.7L18.1 169Z" fill="#4c4ef6" fill-rule="evenodd"/>
<path d="M-3 165L3 166.2L8.6 169L-3 169Z" fill="#474ef1" fill-rule="evenodd"/>
<mask id="mp20"><rect x="-5" y="-5" width="140.0" height="175.4" fill="#fff"/><rect x="-16.4" y="-6" width="32.8" height="12" fill="#000" transform="translate(52.8,15.6) rotate(-5)"/><rect x="-16.4" y="-6" width="32.8" height="12" fill="#000" transform="translate(93.4,18.4) rotate(-15)"/><rect x="-12.3" y="-6" width="24.6" height="12" fill="#000" transform="translate(101.0,29.2) rotate(-30)"/><rect x="-12.3" y="-6" width="24.6" height="12" fill="#000" transform="translate(34.7,61.2) rotate(0)"/><rect x="-16.4" y="-6" width="32.8" height="12" fill="#000" transform="translate(91.2,75.8) rotate(-8)"/><rect x="-16.4" y="-6" width="32.8" height="12" fill="#000" transform="translate(94.9,90.6) rotate(-10)"/></mask>
<path d="M-0.1 5.8L2.8 5.6L6.8 5.5L11.5 5.3L16.6 5.1L22 4.9L27.1 4.7L32.5 4.6L38.3 4.6L44.3 4.6L50.1 4.5L55.4 4.3L59.7 4L63.2 3.5L66 2.7L68.3 1.8L70.1 0.9L71.6 0.2L72.8 -0.3M-0.1 15.6L1.7 15.7L4.2 15.9L7.1 16.1L10.3 16.3L13.4 16.5L16.2 16.6L18.8 16.7L21.2 16.8L23.5 16.8L26 16.8L28.6 16.7L31.5 16.6L34.7 16.5L38.2 16.4L41.9 16.2L45.7 16L49.3 15.8L52.8 15.6L55.9 15.3L58.8 15.1L61.6 14.9L64.5 14.5L67.4 14.1L70.6 13.4L74 12.4L77.5 11.1L81.2 9.6L84.9 8.2L88.7 6.8L92.3 5.8L96 4.9L99.8 4.3L103.5 3.7L107.2 3.3L110.8 2.9L114.1 2.5L117.3 2.2L120.5 1.9L123.6 1.8L126.3 1.6L128.7 1.5L130.4 1.4M-0.1 27.5L1.7 28.2L4.3 29.1L7.3 30.2L10.4 31.3L13.5 32.2L16.2 32.9L18.5 33.4L20.6 33.8L22.6 34L24.6 34.2L26.8 34.2L29.3 34L32 33.8L34.9 33.4L38 32.9L41.3 32.3L44.9 31.6L48.8 30.8L53.5 29.7L58.8 28.5L64.4 27.1L69.9 25.6L75 24.3L79.3 23.2L82.6 22.2L85.1 21.4L87.2 20.6L89.1 19.9L91.1 19.2L93.4 18.4L96 17.5L98.5 16.6L101.2 15.7L103.9 14.8L106.7 14.1L109.7 13.4L113.1 12.8L117 12.4L121.1 12L124.9 11.7L128.1 11.4L130.4 11.2M-0.1 63.4L2.8 63.3L7 63.1L11.8 62.9L16.8 62.7L21.4 62.5L24.9 62.3L27.4 62.1L29.2 61.9L30.6 61.7L31.9 61.5L33.1 61.3L34.7 61.2L36.6 61.1L38.6 60.9L40.6 60.7L42.7 60.7L44.7 60.8L46.7 61.2L48.6 62L50.4 63.1L52.2 64.4L54 65.7L55.8 66.9L57.5 67.7L59.3 68.3L61.2 68.8L63 69.1L64.7 69.2L66.2 69.1L67.3 68.8L68.1 68.2L68.7 67.2L69 66L69.1 64.7L68.9 63.5L68.4 62.3L67.5 61.2L66.2 60L64.6 58.8L62.9 57.7L61.2 56.7L59.7 55.8L58.3 55.1L56.7 54.6L55.2 54.3L53.8 53.9L52.7 53.3L52.1 52.5L51.9 51.3L52.1 49.8L52.6 48.2L53.3 46.5L54.3 45L55.4 43.8L56.7 42.9L58.3 42.2L60.1 41.7L62 41.3L64.1 40.9L66.2 40.6L68.6 40.3L71.2 40.1L73.8 40.1L76.5 40L79.1 39.8L81.5 39.5L83.5 38.9L85.5 38.3L87.3 37.6L89 36.8L90.7 36L92.3 35.1L93.9 34.2L95.2 33.3L96.5 32.4L97.9 31.4L99.3 30.3L101 29.2L102.9 28.1L104.9 26.8L107.1 25.4L109.3 24.1L111.7 23L114.1 22.1L116.8 21.4L119.9 20.9L123 20.5L126 20.3L128.6 20.1L130.4 19.9M130.4 25.3L129.1 25.9L127.3 26.7L125.1 27.6L123 28.6L121 29.7L119.5 30.8L118.4 31.9L117.6 33.1L116.9 34.4L116.5 35.8L116.3 37.1L116.2 38.4L116.5 39.7L116.9 41.2L117.6 42.6L118.5 43.9L119.5 45.1L120.6 46L122 46.6L123.8 46.9L125.8 47L127.6 47L129.2 47L130.4 47.1M-0.1 81.9L2.8 82L6.8 82.2L11.5 82.5L16.6 82.7L22 82.9L27.1 82.9L32.4 82.9L38.1 82.8L43.9 82.7L49.6 82.5L55 82.2L59.7 81.9L63.8 81.4L67.5 80.9L70.8 80.3L73.8 79.7L76.6 79.1L79.3 78.6L81.7 78.1L83.6 77.7L85.4 77.2L87.1 76.8L89 76.3L91.2 75.8L93.8 75.1L96.5 74.3L99.3 73.5L102.3 72.8L105.4 72.3L108.6 72.1L112.3 72.3L116.4 72.8L120.6 73.5L124.6 74.2L128 74.9L130.4 75.3M-0.1 131.9L1.6 130.2L4 127.8L6.7 125.1L9.8 122.1L13 119.2L16.2 116.6L19.5 114.3L23.1 112L26.8 109.7L30.5 107.5L34.3 105.5L38 103.6L41.6 101.8L45.3 100L49 98.4L52.6 97L56.2 95.8L59.7 94.9L63.1 94.5L66.5 94.6L69.9 94.9L73.1 95.2L76.3 95.5L79.3 95.3L82.1 94.8L84.7 94.1L87.3 93.2L89.8 92.3L92.3 91.4L94.9 90.6L97.7 89.8L100.4 88.9L103.2 88.1L106.1 87.4L109 86.7L111.9 86.2L115.1 85.8L118.6 85.6L122.2 85.4L125.5 85.3L128.3 85.2L130.4 85.1M130.4 96L129.3 96.4L127.8 97.1L126.1 97.8L124.4 98.6L122.8 99.5L121.7 100.3L120.9 101.2L120.4 102L120.1 102.9L119.9 103.8L120 104.8L120.2 105.8L120.6 106.8L121.3 108L122.1 109.2L123.1 110.4L124 111.4L124.9 112.3L125.9 112.9L126.9 113.4L128 113.8L128.9 114.1L129.8 114.3L130.4 114.5M-0.1 143.8L1.6 143.7L4 143.6L6.7 143.4L9.8 143.3L13 143.4L16.2 143.8L19.6 144.4L23.4 145.2L27.2 146.1L31.1 147.3L34.7 148.7L38 150.3L40.9 152.5L43.8 155.3L46.4 158.4L48.7 161.3L50.7 163.8L52.1 165.6M-0.1 154.7L1.2 154.8L3.1 155L5.2 155.2L7.5 155.6L9.8 156.1L11.9 156.9L13.9 158L16 159.6L18.1 161.3L20 163.1L21.6 164.5L22.8 165.6M111.9 165.6L113.7 164.7L115.6 163.8L117.4 162.9L119.3 162.1L121.1 161.2L123 160.3L124.8 159.5L126.7 158.6L128.5 157.7L130.4 156.9" fill="none" stroke="#3a3a5a" stroke-width="0.8" stroke-opacity="0.85" mask="url(#mp20)"/>
<text transform="translate(52.8,15.6) rotate(-5)" x="0" y="4.6" text-anchor="middle" font-family="Liberation Serif" font-size="13.5" textLength="25.0" lengthAdjust="spacingAndGlyphs" fill="#000">0.14</text>
<text transform="translate(93.4,18.4) rotate(-15)" x="0" y="4.6" text-anchor="middle" font-family="Liberation Serif" font-size="13.5" textLength="25.0" lengthAdjust="spacingAndGlyphs" fill="#000">0.17</text>
<text transform="translate(101.0,29.2) rotate(-30)" x="0" y="4.6" text-anchor="middle" font-family="Liberation Serif" font-size="13.5" textLength="18.8" lengthAdjust="spacingAndGlyphs" fill="#000">0.2</text>
<text transform="translate(34.7,61.2) rotate(0)" x="0" y="4.6" text-anchor="middle" font-family="Liberation Serif" font-size="13.5" textLength="18.8" lengthAdjust="spacingAndGlyphs" fill="#000">0.2</text>
<text transform="translate(91.2,75.8) rotate(-8)" x="0" y="4.6" text-anchor="middle" font-family="Liberation Serif" font-size="13.5" textLength="25.0" lengthAdjust="spacingAndGlyphs" fill="#000">0.23</text>
<text transform="translate(94.9,90.6) rotate(-10)" x="0" y="4.6" text-anchor="middle" font-family="Liberation Serif" font-size="13.5" textLength="25.0" lengthAdjust="spacingAndGlyphs" fill="#000">0.26</text>
<text x="2.4" y="19.1" font-family="Liberation Serif" font-size="15.5" textLength="29.1" lengthAdjust="spacingAndGlyphs" fill="#000">(B0)</text>
</g>
<clipPath id="cp21"><rect x="0" y="0" width="129.4" height="165.4"/></clipPath>
<g transform="translate(238.9,414.1)" clip-path="url(#cp21)">
<rect x="-2" y="-2" width="133.4" height="169.4" fill="#dbdbfb"/>
<path d="M22 0.2L52.6 -3L133 -3L133 169L-3 169L-3 0.2Z" fill="#d8d8fa" fill-rule="evenodd"/>
<path d="M57 2.7L100.1 -3L133 -3L133 169L-3 169L-3 5.2L18 5.8L34 5.2Z" fill="#d4d4fa" fill-rule="evenodd"/>
<path d="M125.5 0L130 0L133 -0.8L133 169L-3 169L-3 10.1L23 11.2L48 10.1L65 8.3L98 2.7Z" fill="#cecef9" fill-rule="evenodd"/>
<path d="M120 5L133 4.1L133 169L-3 169L-3 15.1L28 16.6L59 16.5L101 7.7Z" fill="#c6c6f9" fill-rule="evenodd"/>
<path d="M116 9.7L133 7.6L133 169L-3 169L-3 20.4L48 23.1L61 24.4L76 19.5L107 11.5Z" fill="#bcbcf8" fill-rule="evenodd"/>
<path d="M113 14.6L133 11L133 169L-3 169L-3 26.9L1 26.5L48 28.7L55 29.7L60 32.1L62 32.2L70 27.6L79 24.6Z" fill="#b1b1f8" fill-rule="evenodd"/>
<path d="M114.5 19L133 14.8L133 169L-3 169L-3 37.9L9 34.5L21 33.3L45 33.5L52 34.1L59 35.6L63 35.5L75 31.2ZM60 97.8L58.3 100L58.8 102L61 103.3L63 103L64 102.3L64.8 100L64 98.4L62 97.5Z" fill="#a7a7f8" fill-rule="evenodd"/>
<path d="M127.8 20L133 19.2L133 169L-3 169L-3 47.6L0 47L11 41.6L20 39.4L37 38.1L60 38.6L67 37.8L79 35L106 27.4ZM61 94.9L58 95.7L56.3 97L55.2 99L55 101L55.8 103L58 104.9L60 105.7L63 105.7L65 104.9L67.2 103L68 101L67.8 99L66.6 97L65 95.7Z" fill="#9b9bf8" fill-rule="evenodd"/>
<path d="M132.7 25L133 169L-3 169L-3 52.4L0 52.3L14 46.5L24 44.4L39 42.6L70 40.6L81 39.1L95 36.1L109 34.7L116 32.3L130 25.4ZM56 89.9L51.3 92L47.7 96L46.4 100L46.9 105L50 109.8L54 112.3L59 113.4L64 112.6L68 110.3L71 106.7L72.3 102L71.8 98L69.5 94L65.7 91L61 89.6Z" fill="#9090f8" fill-rule="evenodd"/>
<path d="M48.5 46L86 43L92 43.5L97 45.8L103 51.3L105.6 53L109 54.1L113 54.5L121 54.1L126 52.8L129.9 50L133 45.7L133 169L-3 169L-3 55.3L2 54.7L17 50.8L28 48.7ZM52 88L45.2 91L40 96L37.2 102L36.9 109L38.7 116L43.6 127L45.7 133L46.7 139L47.7 153L49.3 159L51.1 162L54.4 165L58 166.5L62 166.8L65.1 166L68.2 164L70 161.7L71.4 158L71.8 151L69.7 137L69.5 130L70.6 124L75 109L75.6 100L75 97L73.5 94L70.8 91L67.6 89L64 87.7L60 87.1Z" fill="#8787f8" fill-rule="evenodd"/>
<path d="M51 49.3L78 47.2L86 47.7L91 49.3L101.1 56L108 58.9L117 60.5L126 61.4L130 61.2L133 60.1L133 169L76.4 169L79.2 164L80 158L78.6 134L79 114L78.1 97L75.9 92L71 88.1L65 85.9L57 85.1L51 85.6L45 86.8L40 88.8L36.2 91L32.8 94L30.6 97L28.6 101L27.4 106L27.3 112L28.6 119L36.6 139L41.4 162L43.3 166L45.6 169L-3 169L-3 57.8L12 56.5Z" fill="#7e7ef8" fill-rule="evenodd"/>
<path d="M63.5 51L75 50.6L83 51.3L88 52.9L100.8 59L104 59.4L106 61.3L114 64.1L129 66.5L133 65.9L133 169L86.2 169L87.6 165L87.1 135L85.6 122L82.2 106L81.5 97L80.4 93L79.5 91L77.6 89L70 85L63 83.5L52 83L44 83.2L37.7 84L32 85.7L27.6 88L23.9 91L20.8 95L18.4 100L16.4 107L15.7 115L17.6 124L19.6 129L24 136.3L28 144.5L33.1 165L35 169L-3 169L-3 60.7L0 60.2L11 61.3L19 60.8L38 56.8L52 52.4Z" fill="#7575f7" fill-rule="evenodd"/>
<path d="M58.8 54L69 53.5L79 54.6L94 59.7L99 60.7L103 60.6L105 63.3L107 64.9L114 68L127 69.9L133 69.5L133 169L93.1 169L98.1 151L102.7 140L103 137L101.6 134L94 123.7L90 115.6L86.4 105L84.5 92L83.2 89L81.5 87L78 84.7L72 82.5L45.5 79L33.6 76L25.2 73L33 66L44.2 59L51 55.8ZM-2.8 66L0 65.4L3.7 66L23.9 73L23.7 74L9 89L3.9 95L0.3 101L-0.6 106L0.7 116L6.1 137L9.8 154L13 158.8L24 169L-3 169Z" fill="#6c6cf7" fill-rule="evenodd"/>
<path d="M56.7 57L65 56.1L74 57.2L89 63.4L101 64.6L107 69.9L112 71.7L127 72.9L133 72.3L133 132.5L131.2 129L129 127.4L126 126.9L116 126.9L111 126.1L105 123.4L99 118.5L95.6 114L92.6 108L91.1 102L89.3 88L87.9 85L85 81.9L81.4 80L77 78.9L61 78L55 77.1L49 75L45.8 73L44.2 71L43.6 69L43.9 67L45.4 64L50 59.8ZM131 140L133 136L133 169L99.3 169L105.7 156L110 150.2L116 146.3L128 142.4ZM-3 169L-3 142.6L1.2 155L3.6 160L6.8 164L12.8 169Z" fill="#6565f7" fill-rule="evenodd"/>
<path d="M57.5 60L61 59.2L65 59.1L69 59.8L72 60.9L74.7 63L76 65L76.3 67L75.7 69L72.6 72L67 74L61 74.1L56 72.7L52.4 70L51.3 68L51.1 66L53 62.6ZM115 76L133 74.8L133 124.6L130 123.2L118 122.6L112 121.2L108 119L103.3 115L100.1 111L98.1 107L96.9 102L96.4 96L96.8 91L98.2 86L99.8 83L102 80.6L105 78.5L108 77.2ZM130 148.1L133 146.3L133 169L105.1 169L111.2 159L115.4 154L120 151.4ZM-3 169L-3 157.2L0.9 163L5.9 169Z" fill="#6060f7" fill-rule="evenodd"/>
<path d="M114 80.2L133 77.1L133 121.6L118 119.5L112 117.1L108.4 114L105.4 110L103.5 106L102.4 102L102 97L102.5 92L104.1 88L107 84.2L110 81.9ZM123.7 155L133 151.3L133 169L110.5 169L115.2 162L119 157.8ZM-3 163L-0.8 165L1.6 169L-3 169Z" fill="#5b5bf8" fill-rule="evenodd"/>
<path d="M116.7 83L133 79.2L133 119.2L120 117.1L114 114.6L111.3 112L109.5 109L107.9 105L106.8 100L106.6 96L107.2 92L108.5 89L111 86ZM126 158.5L133 155.4L133 169L115.7 169L119 164.3L122.2 161Z" fill="#5656f8" fill-rule="evenodd"/>
<path d="M129.5 82L133 81.5L133 116.9L122 115L116 112.4L113.9 110L112.4 107L110.4 99L110.8 93L112.2 90L114 88.1L119 85.5ZM126 163.2L133 159.5L133 169L120.8 169Z" fill="#5151f8" fill-rule="evenodd"/>
<path d="M123.3 87L133 83.9L133 114.4L124 112.9L121 111.8L118.1 110L114.7 105L113.5 101L113.2 98L114.4 93L117.1 90ZM129.1 166L133 163.8L133 169L126.3 169Z" fill="#4c4ef6" fill-rule="evenodd"/>
<path d="M123 90.3L133 86.7L133 111.5L125 110.3L121 108.2L117.5 104L116 99L116.9 95L119 92.6Z" fill="#474ef1" fill-rule="evenodd"/>
<path d="M122.6 94L133 89.8L133 108.3L126 107.5L123.5 106L120 102.1L119 100L119.1 98L120.2 96Z" fill="#424dec" fill-rule="evenodd"/>
<path d="M129.7 94L133 93.3L133 104.9L127 104L124.6 102L123.7 100L124.7 97Z" fill="#3e4de5" fill-rule="evenodd"/>
<mask id="mp21"><rect x="-5" y="-5" width="139.4" height="175.4" fill="#fff"/><rect x="-12.3" y="-6" width="24.6" height="12" fill="#000" transform="translate(99.1,18.8) rotate(-12)"/><rect x="-16.4" y="-6" width="32.8" height="12" fill="#000" transform="translate(94.5,36.2) rotate(-8)"/><rect x="-16.4" y="-6" width="32.8" height="12" fill="#000" transform="translate(96.3,56.9) rotate(20)"/><rect x="-16.4" y="-6" width="32.8" height="12" fill="#000" transform="translate(24.5,137.3) rotate(70)"/><rect x="-16.4" y="-6" width="32.8" height="12" fill="#000" transform="translate(82.1,105.8) rotate(80)"/></mask>
<path d="M-0.5 10.1L2.4 10.3L6.4 10.5L11.1 10.8L16.2 11L21.6 11.2L26.7 11.2L31.8 11.1L37.2 10.8L42.7 10.5L48.2 10.1L53.8 9.6L59.3 9L64.9 8.3L70.6 7.4L76.3 6.3L81.9 5.3L87.1 4.4L91.9 3.6L96.2 3L100.2 2.5L103.8 2L107.2 1.7L110.5 1.3L113.7 1L116.9 0.7L120.1 0.4L123.2 0.2L125.9 0L128.3 -0.2L130 -0.3M-0.5 26.4L2.5 26.5L6.6 26.7L11.5 26.9L16.7 27.1L21.9 27.3L26.7 27.5L31.3 27.7L36.1 28L40.9 28.3L45.4 28.5L49.5 28.9L52.8 29.2L55.3 29.8L57 30.5L58.2 31.2L59.2 31.8L60.2 32.2L61.5 32.3L62.8 32L64.1 31.3L65.3 30.4L66.6 29.4L68.2 28.4L70.2 27.5L72.7 26.6L75.6 25.7L78.7 24.7L81.9 23.7L84.9 22.9L87.6 22.1L89.8 21.4L91.7 20.9L93.5 20.4L95.3 19.9L97.1 19.4L99.1 18.8L101.3 18.1L103.7 17.4L106.1 16.6L108.6 15.9L111.1 15.1L113.7 14.5L116.5 13.8L119.6 13.2L122.7 12.6L125.7 12L128.2 11.5L130 11.2M-0.5 52.5L1.2 51.8L3.6 50.7L6.3 49.5L9.4 48.2L12.6 47L15.8 46L19.1 45.2L22.7 44.6L26.4 44L30.1 43.5L33.9 43.1L37.6 42.7L41.2 42.4L44.9 42.2L48.6 42.1L52.2 42L55.8 41.9L59.3 41.6L62.7 41.4L66.1 41L69.5 40.7L72.7 40.3L75.9 39.9L78.9 39.5L81.7 39L84.3 38.4L86.9 37.8L89.4 37.3L91.9 36.7L94.5 36.2L97.3 35.9L100 35.6L102.8 35.5L105.7 35.2L108.6 34.8L111.5 34L114.7 32.9L118.2 31.3L121.8 29.5L125.1 27.8L127.9 26.4L130 25.3M-0.5 60.1L1.2 60.3L3.6 60.6L6.3 60.9L9.4 61.2L12.6 61.3L15.8 61.2L19.2 60.8L22.8 60.2L26.6 59.4L30.5 58.6L34.1 57.7L37.6 56.9L40.6 56L43.4 55.1L46 54.1L48.7 53.2L51.6 52.5L55 51.9L58.9 51.4L63.4 51L68.1 50.7L72.8 50.6L77.2 50.7L81.1 51L84.2 51.6L86.9 52.4L89.2 53.4L91.4 54.6L93.7 55.7L96.3 56.9L99.1 58L102 59.3L104.9 60.6L107.9 61.9L110.8 63.1L113.7 64L116.6 64.8L119.8 65.3L122.9 65.8L125.8 66.1L128.2 66.4L130 66.6M76.3 66.6L76.3 67L76.2 67.3L76.2 67.6L76.1 68L76 68.3L75.8 68.6L75.7 68.9L75.5 69.2L75.3 69.6L75.1 69.9L74.8 70.2L74.6 70.4L74.3 70.7L74 71L73.7 71.3L73.3 71.5L73 71.8L72.6 72L72.2 72.2L71.8 72.5L71.3 72.7L70.9 72.9L70.4 73.1L70 73.2L69.5 73.4L69 73.5L68.5 73.7L68 73.8L67.5 73.9L66.9 74L66.4 74.1L65.9 74.1L65.3 74.2L64.8 74.2L64.2 74.2L63.7 74.2L63.1 74.2L62.6 74.2L62 74.2L61.5 74.1L60.9 74.1L60.4 74L59.9 73.9L59.4 73.8L58.8 73.7L58.3 73.5L57.8 73.4L57.4 73.2L56.9 73.1L56.4 72.9L56 72.7L55.6 72.5L55.1 72.2L54.7 72L54.4 71.8L54 71.5L53.7 71.3L53.3 71L53 70.7L52.7 70.4L52.5 70.2L52.2 69.9L52 69.6L51.8 69.2L51.6 68.9L51.5 68.6L51.4 68.3L51.2 68L51.2 67.6L51.1 67.3L51.1 67L51.1 66.6L51.1 66.3L51.1 66L51.2 65.6L51.2 65.3L51.4 65L51.5 64.7L51.6 64.4L51.8 64L52 63.7L52.2 63.4L52.5 63.1L52.7 62.8L53 62.6L53.3 62.3L53.7 62L54 61.7L54.4 61.5L54.7 61.3L55.1 61L55.6 60.8L56 60.6L56.4 60.4L56.9 60.2L57.4 60L57.8 59.9L58.3 59.7L58.8 59.6L59.4 59.5L59.9 59.4L60.4 59.3L60.9 59.2L61.5 59.1L62 59.1L62.6 59.1L63.1 59L63.7 59L64.2 59L64.8 59.1L65.3 59.1L65.9 59.1L66.4 59.2L66.9 59.3L67.5 59.4L68 59.5L68.5 59.6L69 59.7L69.5 59.9L70 60L70.4 60.2L70.9 60.4L71.3 60.6L71.8 60.8L72.2 61L72.6 61.3L73 61.5L73.3 61.7L73.7 62L74 62.3L74.3 62.6L74.6 62.8L74.8 63.1L75.1 63.4L75.3 63.7L75.5 64L75.7 64.4L75.8 64.7L76 65L76.1 65.3L76.2 65.6L76.2 66L76.3 66.3L76.3 66.6M33.2 165.6L32.8 163.4L32.1 160.4L31.3 156.9L30.5 153.3L29.7 149.9L28.9 147.1L28.2 145L27.5 143.2L26.8 141.8L26.1 140.4L25.4 138.9L24.5 137.3L23.5 135.5L22.4 133.6L21.1 131.7L19.9 129.6L18.9 127.5L18 125.3L17.3 123L16.6 120.6L16.1 118.1L15.8 115.5L15.6 112.8L15.8 110.1L16.3 107.2L17 104.2L18 101L19.2 98L20.7 95.1L22.4 92.7L24.3 90.7L26.4 88.9L28.7 87.3L31.4 86L34.3 84.9L37.6 84L41.4 83.4L46 83.1L50.8 83L55.5 83L59.9 83.3L63.7 83.6L66.7 84.1L69.3 84.7L71.5 85.6L73.5 86.5L75.2 87.4L76.7 88.4L78 89.3L78.9 90.3L79.6 91.3L80.2 92.3L80.6 93.5L81.1 94.9L81.4 96.4L81.6 98L81.7 99.8L81.7 101.7L81.9 103.7L82.1 105.8L82.6 108.1L83.1 110.5L83.7 113.1L84.3 115.8L84.9 118.4L85.4 121L85.8 123.5L86.1 126.1L86.5 128.6L86.7 131.1L86.9 133.7L87.1 136.2L87.3 138.8L87.4 141.3L87.5 143.9L87.5 146.4L87.5 148.9L87.6 151.4L87.6 154L87.6 156.7L87.6 159.4L87.6 161.9L87.6 164L87.6 165.6M72.4 101.4L72.3 101.9L72.3 102.5L72.2 103L72.2 103.5L72.1 104L71.9 104.5L71.8 105L71.6 105.5L71.4 106L71.1 106.5L70.9 106.9L70.6 107.4L70.3 107.8L70 108.3L69.7 108.7L69.3 109.1L68.9 109.5L68.5 109.9L68.1 110.2L67.7 110.6L67.3 110.9L66.8 111.2L66.3 111.5L65.8 111.8L65.3 112L64.8 112.3L64.3 112.5L63.8 112.7L63.2 112.8L62.7 113L62.1 113.1L61.6 113.2L61 113.3L60.5 113.3L59.9 113.4L59.3 113.4L58.8 113.4L58.2 113.3L57.6 113.3L57 113.2L56.5 113.1L55.9 113L55.4 112.8L54.9 112.7L54.3 112.5L53.8 112.3L53.3 112L52.8 111.8L52.3 111.5L51.8 111.2L51.4 110.9L50.9 110.6L50.5 110.2L50.1 109.9L49.7 109.5L49.3 109.1L49 108.7L48.6 108.3L48.3 107.8L48 107.4L47.7 106.9L47.5 106.5L47.3 106L47.1 105.5L46.9 105L46.7 104.5L46.6 104L46.5 103.5L46.4 103L46.3 102.5L46.3 101.9L46.3 101.4L46.3 100.9L46.3 100.4L46.4 99.9L46.5 99.3L46.6 98.8L46.7 98.3L46.9 97.8L47.1 97.3L47.3 96.8L47.5 96.4L47.7 95.9L48 95.4L48.3 95L48.6 94.6L49 94.1L49.3 93.7L49.7 93.3L50.1 93L50.5 92.6L50.9 92.3L51.4 91.9L51.8 91.6L52.3 91.3L52.8 91.1L53.3 90.8L53.8 90.6L54.3 90.4L54.9 90.2L55.4 90L55.9 89.9L56.5 89.7L57 89.6L57.6 89.6L58.2 89.5L58.8 89.5L59.3 89.5L59.9 89.5L60.5 89.5L61 89.6L61.6 89.6L62.1 89.7L62.7 89.9L63.2 90L63.8 90.2L64.3 90.4L64.8 90.6L65.3 90.8L65.8 91.1L66.3 91.3L66.8 91.6L67.3 91.9L67.7 92.3L68.1 92.6L68.5 93L68.9 93.3L69.3 93.7L69.7 94.1L70 94.6L70.3 95L70.6 95.4L70.9 95.9L71.1 96.4L71.4 96.8L71.6 97.3L71.8 97.8L71.9 98.3L72.1 98.8L72.2 99.3L72.2 99.9L72.3 100.4L72.3 100.9L72.4 101.4M68 100.3L68 100.6L68 100.8L68 101L67.9 101.3L67.9 101.5L67.8 101.7L67.7 102L67.6 102.2L67.5 102.4L67.4 102.6L67.3 102.8L67.1 103.1L67 103.3L66.8 103.5L66.7 103.6L66.5 103.8L66.3 104L66.1 104.2L65.9 104.3L65.7 104.5L65.5 104.6L65.2 104.8L65 104.9L64.8 105L64.5 105.2L64.2 105.3L64 105.4L63.7 105.4L63.5 105.5L63.2 105.6L62.9 105.6L62.6 105.7L62.3 105.7L62.1 105.7L61.8 105.8L61.5 105.8L61.2 105.8L60.9 105.7L60.6 105.7L60.4 105.7L60.1 105.6L59.8 105.6L59.5 105.5L59.3 105.4L59 105.4L58.7 105.3L58.5 105.2L58.2 105L58 104.9L57.8 104.8L57.5 104.6L57.3 104.5L57.1 104.3L56.9 104.2L56.7 104L56.5 103.8L56.3 103.6L56.1 103.5L56 103.3L55.8 103.1L55.7 102.8L55.6 102.6L55.5 102.4L55.4 102.2L55.3 102L55.2 101.7L55.1 101.5L55.1 101.3L55 101L55 100.8L55 100.6L55 100.3L55 100.1L55 99.9L55 99.6L55.1 99.4L55.1 99.2L55.2 98.9L55.3 98.7L55.4 98.5L55.5 98.3L55.6 98L55.7 97.8L55.8 97.6L56 97.4L56.1 97.2L56.3 97L56.5 96.8L56.7 96.7L56.9 96.5L57.1 96.3L57.3 96.2L57.5 96L57.8 95.9L58 95.8L58.2 95.6L58.5 95.5L58.7 95.4L59 95.3L59.3 95.2L59.5 95.2L59.8 95.1L60.1 95L60.4 95L60.6 94.9L60.9 94.9L61.2 94.9L61.5 94.9L61.8 94.9L62.1 94.9L62.3 94.9L62.6 95L62.9 95L63.2 95.1L63.5 95.2L63.7 95.2L64 95.3L64.2 95.4L64.5 95.5L64.8 95.6L65 95.8L65.2 95.9L65.5 96L65.7 96.2L65.9 96.3L66.1 96.5L66.3 96.7L66.5 96.8L66.7 97L66.8 97.2L67 97.4L67.1 97.6L67.3 97.8L67.4 98L67.5 98.3L67.6 98.5L67.7 98.7L67.8 98.9L67.9 99.2L67.9 99.4L68 99.6L68 99.9L68 100.1L68 100.3M130 75.3L127.3 75.5L123.6 75.6L119.2 75.7L114.6 76.1L110.5 76.6L107.1 77.5L104.6 78.7L102.5 80.2L100.8 81.9L99.3 83.8L98.2 86L97.4 88.4L96.8 91.2L96.5 94.5L96.5 98L96.8 101.6L97.4 105L98.4 107.9L99.9 110.6L101.7 113.2L103.9 115.6L106.3 117.7L108.9 119.5L111.5 121L114.5 122L117.9 122.6L121.5 122.9L125 123L127.9 123.1L130 123.2M130 81.9L128 82.5L125.3 83.4L122 84.4L118.7 85.6L115.8 87L113.7 88.4L112.3 89.9L111.3 91.6L110.7 93.4L110.4 95.3L110.3 97.3L110.4 99.2L110.7 101.4L111.2 103.8L112 106.2L113.1 108.5L114.3 110.6L115.8 112.3L117.9 113.6L120.4 114.5L123.2 115.3L126 115.8L128.3 116.3L130 116.6M130 90.6L128.9 91L127.5 91.6L125.8 92.4L124 93.2L122.4 94.1L121.3 94.9L120.4 95.7L119.8 96.6L119.3 97.5L119 98.4L118.9 99.4L119.1 100.3L119.6 101.4L120.3 102.6L121.3 103.9L122.4 105L123.5 106.1L124.5 106.9L125.5 107.4L126.5 107.7L127.6 107.8L128.6 107.9L129.4 107.9L130 107.9M107.1 165.6L108 164.2L109.2 162.2L110.6 159.9L112.2 157.5L114 155.3L115.8 153.6L118 152.2L120.7 151.1L123.4 150.1L126.1 149.3L128.4 148.7L130 148.2M-0.5 161.2L1.2 163.4L2.8 165.6" fill="none" stroke="#3a3a5a" stroke-width="0.8" stroke-opacity="0.85" mask="url(#mp21)"/>
<text transform="translate(99.1,18.8) rotate(-12)" x="0" y="4.6" text-anchor="middle" font-family="Liberation Serif" font-size="13.5" textLength="18.8" lengthAdjust="spacingAndGlyphs" fill="#000">0.2</text>
<text transform="translate(94.5,36.2) rotate(-8)" x="0" y="4.6" text-anchor="middle" font-family="Liberation Serif" font-size="13.5" textLength="25.0" lengthAdjust="spacingAndGlyphs" fill="#000">0.23</text>
<text transform="translate(96.3,56.9) rotate(20)" x="0" y="4.6" text-anchor="middle" font-family="Liberation Serif" font-size="13.5" textLength="25.0" lengthAdjust="spacingAndGlyphs" fill="#000">0.26</text>
<text transform="translate(24.5,137.3) rotate(70)" x="0" y="4.6" text-anchor="middle" font-family="Liberation Serif" font-size="13.5" textLength="25.0" lengthAdjust="spacingAndGlyphs" fill="#000">0.26</text>
<text transform="translate(82.1,105.8) rotate(80)" x="0" y="4.6" text-anchor="middle" font-family="Liberation Serif" font-size="13.5" textLength="25.0" lengthAdjust="spacingAndGlyphs" fill="#000">0.26</text>
<text x="3.9" y="20.1" font-family="Liberation Serif" font-size="15.5" textLength="37.3" lengthAdjust="spacingAndGlyphs" fill="#000">(B10)</text>
</g>
<clipPath id="cp22"><rect x="0" y="0" width="129.8" height="165.4"/></clipPath>
<g transform="translate(377.7,414.1)" clip-path="url(#cp22)">
<rect x="-2" y="-2" width="133.8" height="169.4" fill="#ececfc"/>
<path d="M2.9 -2L6.5 -3L133 -2.9L133 169L-3 169L-3 -1.5Z" fill="#e7e7fc" fill-rule="evenodd"/>
<path d="M1 0.3L17.1 -3L113.6 -3L133 0.4L133 169L-3 169L-3 0.4Z" fill="#e0e0fb" fill-rule="evenodd"/>
<path d="M38 -2L54 -2.4L68.8 -2L111 0.8L133 3.3L133 169L-3 169L-3 2.1L21 -0.8Z" fill="#dbdbfb" fill-rule="evenodd"/>
<path d="M30.1 2L57 2.3L90 4.9L133 6.1L133 169L-3 169L-3 3.8L1 3.2Z" fill="#d8d8fa" fill-rule="evenodd"/>
<path d="M-0.7 5L17 5.3L45 6.8L92 11.2L107 10.8L130 9L133 9.6L133 169L-3 169L-3 5.7Z" fill="#d4d4fa" fill-rule="evenodd"/>
<path d="M0.3 7L12.5 8L87 18.5L98 19L109 18.9L128 16.3L131 17L133 18.6L133 169L-3 169L-3 8.1Z" fill="#cecef9" fill-rule="evenodd"/>
<path d="M2.9 10L9.5 11L34 17.3L66 24.7L92 27.9L102.2 30L107 31.8L111 34.4L119 43.2L122.3 46L127 48.1L133 48.9L133 169L-3 169L-3 11.6L0 10.4Z" fill="#c6c6f9" fill-rule="evenodd"/>
<path d="M-0.3 16L4 15.2L8.3 16L29 24.6L63 34.9L68 35.5L84 35.1L99 37.7L108 41.3L119.4 50L126 52.4L133 53.7L133 169L-3 169L-3 17.5Z" fill="#bcbcf8" fill-rule="evenodd"/>
<path d="M1.2 34L28 36.2L49 41.5L61 45.3L66 45L81 41.7L87 41.8L95 42.8L106 45.7L118.2 53L133 57L133 169L-3 169L-3 35.1Z" fill="#b1b1f8" fill-rule="evenodd"/>
<path d="M17.2 45L25 44.8L33 45.9L41 48.3L51 52.5L55 53.2L60 52.6L81 47.1L88 46.8L95 47.3L104 49.2L117 55.1L133 59.5L133 169L-3 169L-3 50.3L10 46.4Z" fill="#a7a7f8" fill-rule="evenodd"/>
<path d="M18.6 51L25 50.8L33 51.8L40 53.6L50 57.3L54 58.1L59 57.4L71 53.8L81 51.6L88 50.9L95 51.1L104 52.8L116 57L133 61.7L133 169L-3 169L-3 58.1L1 57.2L12 52.4Z" fill="#9b9bf8" fill-rule="evenodd"/>
<path d="M83.6 55L92 54.5L101 55.4L133 63.8L133 169L-3 169L-3 63.3L1 62.6L13 57L20 55.6L27 55.6L35 56.5L40 57.5L50 60.6L54 61.2L58 60.7L70 57.5Z" fill="#9090f8" fill-rule="evenodd"/>
<path d="M89 58L96 58.1L105 59.3L118 61.9L133 65.8L133 169L-3 169L-3 66.7L1 66.5L12 61.6L20 59.7L27 59.5L37 60.2L50 63L54 63.4L59 62.8L71 60.2Z" fill="#8787f8" fill-rule="evenodd"/>
<path d="M78.9 62L91 61.3L102 62L117 64.1L133 67.7L133 169L-3 169L-3 69.2L1.1 69L14 64.7L22 63.2L37 63L55 65.1Z" fill="#7e7ef8" fill-rule="evenodd"/>
<path d="M74.3 65L89 64.5L102 65.2L117 66.7L133 69.5L133 146.1L130 146L126 147L114 154.6L107 157.7L100 159.2L94 159.3L89 158.2L84 155.4L71 142L66.7 139L63 137.5L60 137L57 137.5L44 143.7L40 144.7L36 144.8L27 143L4.8 134L1 133.2L-3 133.7L-3 71.3L2 70.9L16 67.5L27 66L38 65.6L55 66.6ZM-3 169L-3 164.3L1 165.5L7 169ZM126.8 169L133 164.6L133 169ZM61.5 166L64 165.3L67 165.5L77.2 169L56.9 169Z" fill="#7575f7" fill-rule="evenodd"/>
<path d="M36.7 68L55 68.2L77 67.4L90 67.5L115 69.2L133 71.4L133 136.1L129 137.1L112 143.7L104 145.1L97 145.3L92 144.8L87 143.4L73.7 136L66.5 133L62 131.8L56 132.1L44 136.7L40 137.6L36 137.8L27 136.3L2 128.7L-3 128.8L-3 73.3L2 72.9L23 69.1Z" fill="#6c6cf7" fill-rule="evenodd"/>
<path d="M43.9 70L87 70L133 73.4L133 130.7L130.5 131L120 135.2L113 137.2L105 138.2L96 138.4L88 137.3L76 132.5L62 128.8L56 128.8L43 132.4L36 132.9L28 131.9L16 129.5L1 125.4L-3 125.6L-3 75.1L27 71.1Z" fill="#6565f7" fill-rule="evenodd"/>
<path d="M28 73.2L55 71.8L88 72.5L133 75.5L133 127.3L129 127.8L113 132.2L105 133L96 133.1L88 132.4L74.8 129L62 126.6L56 126.5L43 128.6L36 128.8L19 127.1L1 123.3L-3 123.3L-3 76.9Z" fill="#6060f7" fill-rule="evenodd"/>
<path d="M49.9 74L92 74.9L124 77.5L133 77.7L133 124.6L129 124.9L112 128L95 128.7L87 128.2L62 124.7L42 125.3L22 124.6L14 123.8L1 121.4L-3 121.3L-3 78.6L29 75.2Z" fill="#5b5bf8" fill-rule="evenodd"/>
<path d="M34.7 77L54 76.3L84 76.9L100 77.6L124 79.8L133 79.8L133 122.1L112 124.3L92 124.9L60 122.7L33 121.8L18 121.8L-3 119.3L-3 80.4Z" fill="#5656f8" fill-rule="evenodd"/>
<path d="M42.2 79L72 78.8L98 79.9L124 81.9L133 81.7L133 120L112 121.1L76 121.3L51 120.5L33 118.8L16 119.2L-3 117.4L-3 82.1Z" fill="#5151f8" fill-rule="evenodd"/>
<path d="M50.5 81L69 80.6L108 83.2L124 83.7L133 83.4L133 118L97 118.1L61 119L51 118.4L33 116L16 116.5L-3 115.5L-3 83.9Z" fill="#4c4ef6" fill-rule="evenodd"/>
<path d="M53.5 83L71 82.5L92 85.1L104 86L133 85.1L133 116.2L97 114.7L59 116.9L31 113.1L-3 113.4L-3 85.7L31 85.1Z" fill="#474ef1" fill-rule="evenodd"/>
<path d="M55.1 85L64 84.2L71 84.3L92 88.8L101 89.8L133 86.7L133 114.3L99 111L88 111.5L60 114.7L53 114.1L36 110.6L29 109.7L-3 111.3L-3 87.6L30 89Z" fill="#424dec" fill-rule="evenodd"/>
<path d="M57 87L66 86.2L72 86.6L76.7 88L93 94.6L99 96L104 95.3L118 90.3L133 88.5L133 112.2L130 112.1L104 106.4L98 105.8L91 106.4L66 111.6L60 112.3L52 111.4L32 105.4L28 104.7L20 105.3L1 109L-3 109.1L-3 89.6L1 89.5L24 94.6L28 95.1L33 94.3L47.3 89Z" fill="#3e4de5" fill-rule="evenodd"/>
<path d="M59.8 89L69 88.7L75 90.6L78.8 93L82.1 96L83.3 99L82.7 101L80 103.4L74.5 106L66 108.7L60 109.5L55 109.1L50 107.5L45 105L41.5 102L40.9 100L41.5 98L45.6 94L51.7 91ZM127.1 91L133 90.6L133 109.8L127.4 109L118.3 106L114.7 104L112.4 101L113.1 98L116 95L120 92.9ZM-3 92L-1 91.6L2 91.9L9.8 95L12.8 98L12.9 100L12.4 101L10.4 103L6 105.2L1 106.7L-3 106.7Z" fill="#394edc" fill-rule="evenodd"/>
<path d="M59.7 92L66 91.5L71 92.9L74.1 96L74.6 98L74.1 100L72.5 102L70 103.7L64 105.9L59 106.2L54 104.7L50.7 102L49.9 100L50.2 98L51.6 96L54 94.2ZM123.9 95L130 93.2L133 93.4L133 106.6L129 106.4L125.1 105L122.1 103L120.6 101L120.4 99L121.4 97ZM-3 103.9L-3 94.5L0 94.1L3 94.8L5 95.9L6.8 98L6.4 101L4.2 103L2 103.9L-1 104.3Z" fill="#364dd5" fill-rule="evenodd"/>
<path d="M60.1 97L62 96.2L64 96.1L65.8 97L66.3 99L64.4 101L61 101.3L59.1 100L58.8 99ZM-1.3 98L0 97.5L1.7 98L2.3 99L2 100L1 100.7L-1 100.5L-1.9 99ZM128.6 98L131 97.2L133 98L133 101.5L131 102.2L129 101.5L127.8 100Z" fill="#344ad0" fill-rule="evenodd"/>
<mask id="mp22"><rect x="-5" y="-5" width="139.8" height="175.4" fill="#fff"/><rect x="-12.3" y="-6" width="24.6" height="12" fill="#000" transform="translate(14.9,35.1) rotate(0)"/><rect x="-16.4" y="-6" width="32.8" height="12" fill="#000" transform="translate(36.6,60.1) rotate(0)"/><rect x="-16.4" y="-6" width="32.8" height="12" fill="#000" transform="translate(65.3,69.9) rotate(0)"/><rect x="-16.4" y="-6" width="32.8" height="12" fill="#000" transform="translate(108.8,80.8) rotate(0)"/><rect x="-16.4" y="-6" width="32.8" height="12" fill="#000" transform="translate(83.3,90.6) rotate(12)"/><rect x="-16.4" y="-6" width="32.8" height="12" fill="#000" transform="translate(39.9,107.9) rotate(12)"/><rect x="-16.4" y="-6" width="32.8" height="12" fill="#000" transform="translate(33.3,118.8) rotate(0)"/><rect x="-16.4" y="-6" width="32.8" height="12" fill="#000" transform="translate(75.3,132.3) rotate(10)"/></mask>
<path d="M0.7 4.7L3.6 4.8L7.6 4.9L12.3 5.1L17.4 5.3L22.8 5.5L27.9 5.8L33 6.1L38.4 6.4L43.9 6.7L49.4 7.1L55 7.5L60.5 7.9L65.9 8.5L71.2 9.2L76.5 9.8L81.9 10.5L87.4 11L93.1 11.2L99.6 11.1L106.8 10.8L114.2 10.3L121.1 9.8L127 9.3L131.2 9M0.7 34L1 34L1.3 34L1.7 34L2.2 33.9L3 34L4 34L5.3 34.1L7 34.3L8.8 34.5L10.8 34.7L12.8 34.9L14.9 35.1L16.8 35.2L18.7 35.3L20.7 35.4L22.8 35.5L25.2 35.8L27.9 36.2L31.1 36.9L34.8 37.8L38.8 38.8L42.7 39.8L46.4 40.8L49.6 41.6L52.2 42.4L54.4 43.3L56.3 44.1L58.2 44.7L60.2 45.2L62.7 45.3L65.5 45.1L68.6 44.4L71.9 43.5L75.3 42.6L78.8 41.9L82.3 41.6L85.9 41.7L89.7 42L93.5 42.6L97.3 43.2L100.9 44L104 44.9L106.7 46L108.9 47.2L111 48.6L112.9 50.1L114.9 51.4L117 52.5L119.5 53.5L122.2 54.4L124.9 55.2L127.5 55.9L129.6 56.4L131.2 56.9M0.7 66.6L2.5 65.9L4.8 64.7L7.7 63.4L10.8 62L13.9 60.9L17 60.1L20.1 59.7L23.4 59.5L26.8 59.5L30.1 59.6L33.4 59.9L36.6 60.1L39.6 60.5L42.6 61.2L45.4 62L48.3 62.7L51.1 63.2L54 63.4L56.8 63.2L59.6 62.7L62.4 62.1L65.3 61.4L68.2 60.7L71.4 60.1L74.8 59.6L78.3 59.1L82 58.6L85.7 58.2L89.5 58L93.1 57.9L96.8 58.2L100.6 58.6L104.3 59.2L108 59.8L111.6 60.5L114.9 61.2L118.1 61.9L121.3 62.7L124.4 63.6L127.1 64.4L129.5 65.1L131.2 65.6M0.7 74.9L3.8 74.4L8.1 73.8L13.1 73L18.4 72.2L23.5 71.5L27.9 71L31.6 70.6L35.1 70.4L38.3 70.2L41.4 70.1L44.4 70L47.5 69.9L50.5 69.8L53.5 69.8L56.5 69.8L59.4 69.9L62.3 69.9L65.3 69.9L68.3 69.9L71.2 69.9L74.1 69.8L77.1 69.8L80.2 69.8L83.3 69.9L86.6 70L89.8 70.1L93.1 70.3L96.5 70.5L100.1 70.7L104 71L108.5 71.3L113.6 71.7L118.9 72.1L123.9 72.6L128.1 72.9L131.2 73.2M0.7 81.9L3.6 81.6L7.6 81.3L12.3 80.8L17.4 80.4L22.8 80L27.9 79.7L33 79.4L38.3 79.2L43.8 78.9L49.4 78.8L55 78.6L60.5 78.6L66.3 78.7L72.4 78.8L78.5 79L84.4 79.2L89.7 79.5L94.2 79.7L97.7 79.9L100.5 80L102.7 80.2L104.6 80.4L106.6 80.6L108.8 80.8L111.3 81L114 81.2L116.6 81.4L119.2 81.6L121.5 81.7L123.6 81.9L125.3 81.9L126.9 81.9L128.3 81.9L129.5 81.9L130.4 81.9L131.2 81.9M0.7 89.5L2.5 89.8L5.1 90.4L8.1 91L11.2 91.6L14.3 92.2L17 92.7L19.3 93.3L21.4 93.9L23.4 94.4L25.4 94.9L27.6 95.1L30.1 94.9L33 94.3L36.1 93.2L39.5 91.9L42.9 90.6L46.3 89.3L49.6 88.4L53 87.7L56.4 87.1L59.8 86.6L63.1 86.3L66.3 86.1L69.2 86.2L71.9 86.5L74.2 87.1L76.5 87.9L78.7 88.8L80.9 89.7L83.3 90.6L85.9 91.5L88.6 92.7L91.3 93.9L94.1 94.9L96.8 95.7L99.6 96L102.5 95.7L105.5 94.9L108.5 93.7L111.4 92.5L114.3 91.4L117 90.6L119.7 90L122.5 89.5L125.2 89.1L127.6 88.8L129.7 88.6L131.2 88.4M0.7 109L3.6 108.5L7.6 107.6L12.4 106.7L17.3 105.7L21.9 105L25.7 104.7L28.7 104.8L31.1 105.2L33.2 105.8L35.2 106.5L37.4 107.2L39.9 107.9L42.7 108.7L45.7 109.6L48.8 110.5L51.9 111.4L55.2 112L58.3 112.3L61.5 112.2L64.8 111.8L68.1 111.1L71.3 110.4L74.6 109.7L77.9 109L81.2 108.4L84.5 107.7L87.8 107L91.1 106.4L94.3 105.9L97.5 105.8L100.5 105.9L103.5 106.4L106.4 107L109.2 107.7L112.1 108.4L114.9 109L117.8 109.6L121 110.2L124.1 110.9L127 111.4L129.4 111.9L131.2 112.3M0.7 117.7L2.5 117.9L5 118.2L7.9 118.5L11 118.8L14.1 119.1L17 119.2L19.7 119.3L22.4 119.2L25.1 119L27.7 118.9L30.5 118.8L33.3 118.8L36.2 119L38.9 119.3L41.7 119.6L44.7 120L48 120.3L51.8 120.6L56.2 120.8L61 121L66.2 121.1L71.5 121.3L76.9 121.4L82.3 121.4L87.8 121.4L93.6 121.4L99.4 121.3L105.1 121.2L110.3 121.1L114.9 121L118.7 120.8L122.1 120.6L125.1 120.4L127.5 120.2L129.6 120L131.2 119.9M0.7 125.3L2.4 125.8L4.8 126.5L7.5 127.3L10.6 128.2L13.8 129L17 129.7L20.4 130.4L24 131.1L27.7 131.9L31.5 132.5L35.2 132.9L38.8 132.9L42.2 132.6L45.6 131.8L48.9 130.7L52.1 129.7L55.3 128.9L58.3 128.6L61.3 128.7L64.2 129.2L67.1 129.8L69.8 130.6L72.6 131.5L75.3 132.3L77.9 133.2L80.4 134.3L82.8 135.4L85.3 136.5L88 137.3L91 137.9L94.3 138.3L97.9 138.4L101.6 138.4L105.5 138.2L109.2 137.8L112.7 137.3L116.2 136.5L119.8 135.3L123.3 134L126.5 132.7L129.2 131.5L131.2 130.8" fill="none" stroke="#3a3a5a" stroke-width="0.8" stroke-opacity="0.85" mask="url(#mp22)"/>
<text transform="translate(14.9,35.1) rotate(0)" x="0" y="4.6" text-anchor="middle" font-family="Liberation Serif" font-size="13.5" textLength="18.8" lengthAdjust="spacingAndGlyphs" fill="#000">0.2</text>
<text transform="translate(36.6,60.1) rotate(0)" x="0" y="4.6" text-anchor="middle" font-family="Liberation Serif" font-size="13.5" textLength="25.0" lengthAdjust="spacingAndGlyphs" fill="#000">0.24</text>
<text transform="translate(65.3,69.9) rotate(0)" x="0" y="4.6" text-anchor="middle" font-family="Liberation Serif" font-size="13.5" textLength="25.0" lengthAdjust="spacingAndGlyphs" fill="#000">0.28</text>
<text transform="translate(108.8,80.8) rotate(0)" x="0" y="4.6" text-anchor="middle" font-family="Liberation Serif" font-size="13.5" textLength="25.0" lengthAdjust="spacingAndGlyphs" fill="#000">0.32</text>
<text transform="translate(83.3,90.6) rotate(12)" x="0" y="4.6" text-anchor="middle" font-family="Liberation Serif" font-size="13.5" textLength="25.0" lengthAdjust="spacingAndGlyphs" fill="#000">0.36</text>
<text transform="translate(39.9,107.9) rotate(12)" x="0" y="4.6" text-anchor="middle" font-family="Liberation Serif" font-size="13.5" textLength="25.0" lengthAdjust="spacingAndGlyphs" fill="#000">0.36</text>
<text transform="translate(33.3,118.8) rotate(0)" x="0" y="4.6" text-anchor="middle" font-family="Liberation Serif" font-size="13.5" textLength="25.0" lengthAdjust="spacingAndGlyphs" fill="#000">0.32</text>
<text transform="translate(75.3,132.3) rotate(10)" x="0" y="4.6" text-anchor="middle" font-family="Liberation Serif" font-size="13.5" textLength="25.0" lengthAdjust="spacingAndGlyphs" fill="#000">0.28</text>
<text x="3.4" y="18.9" font-family="Liberation Serif" font-size="15.5" textLength="38.2" lengthAdjust="spacingAndGlyphs" fill="#000">(B50)</text>
</g>
<clipPath id="cp23"><rect x="0" y="0" width="130.9" height="165.4"/></clipPath>
<g transform="translate(517.4,414.1)" clip-path="url(#cp23)">
<rect x="-2" y="-2" width="134.9" height="169.4" fill="#e7e7fc"/>
<path d="M-3 169L-3 -2.4L0.8 -3L134 -2.8L134 169Z" fill="#e0e0fb" fill-rule="evenodd"/>
<path d="M1 0.1L12.5 -3L109.7 -3L129 0.2L134 0.3L134 169L-3 169L-3 0.6Z" fill="#dbdbfb" fill-rule="evenodd"/>
<path d="M27.4 -2L37.9 -3L71.1 -3L119 2L134 2.9L134 169L-3 169L-3 3.2Z" fill="#d8d8fa" fill-rule="evenodd"/>
<path d="M30.9 2L47 1.4L61 1.5L112 5.3L134 5.6L134 169L-3 169L-3 5.8L17 3.2Z" fill="#d4d4fa" fill-rule="evenodd"/>
<path d="M21.7 7L59 6.8L109 9.7L118 9.5L130 8L134 8.6L134 169L-3 169L-3 8.9L1 7.9Z" fill="#cecef9" fill-rule="evenodd"/>
<path d="M0.9 12L9 11.7L59.7 13L104 15.5L115 14.9L129 12.5L134 13.2L134 169L-3 169L-3 13.5Z" fill="#c6c6f9" fill-rule="evenodd"/>
<path d="M4.3 18L11 17.7L33 19.2L73 20.4L105 22.8L115 22.4L128 20.5L134 21.2L134 169L-3 169L-3 21.2L0.9 19Z" fill="#bcbcf8" fill-rule="evenodd"/>
<path d="M10.5 27L18 26.6L78 27.8L112 31.5L134 33.2L134 169L-3 169L-3 33.9L5 28.7Z" fill="#b1b1f8" fill-rule="evenodd"/>
<path d="M19.9 35L38 34L60 35.8L84 35.3L106 37.5L130 41.6L134 41.7L134 169L-3 169L-3 43.4L0 42.7L9 37.1L13 36Z" fill="#a7a7f8" fill-rule="evenodd"/>
<path d="M31.3 40L43 40.3L62 43.6L84 41.7L102 42.2L113 43.4L129 46.5L134 47L134 169L-3 169L-3 48.2L2 47.1L15 42.2Z" fill="#9b9bf8" fill-rule="evenodd"/>
<path d="M28.8 45L41 45L57 48.5L62 49.1L87 46.7L106 46.7L115 47.8L134 51.5L134 169L-3 169L-3 52L2 51.1L17 46.8Z" fill="#9090f8" fill-rule="evenodd"/>
<path d="M30.8 49L41 49.1L56 52.3L62 53L89 50.7L108 50.7L116 51.7L134 55.6L134 169L-3 169L-3 55.3L16 51.2Z" fill="#8787f8" fill-rule="evenodd"/>
<path d="M28.5 53L40 52.6L56 55.4L62 55.8L90 54.1L107 54.2L115 55.2L134 59.5L134 164.6L130 165.6L125.5 169L-3 169L-3 58.2Z" fill="#7e7ef8" fill-rule="evenodd"/>
<path d="M35.4 56L42 56.1L61 58.1L90 57.1L104 57.6L114 58.8L134 63L134 160.2L125 163.2L117.4 169L94.2 169L90 163.6L88.1 162L85.7 161L82 160.6L71 162L62 165.5L48.2 169L-3 169L-1.9 167L0 165.4L7 164.7L9 163.8L11.1 161L12.1 155L10.9 148L9.6 145L7.4 142L3 139L0 138.2L-3 138.3L-3 60.8L18 57.7Z" fill="#7575f7" fill-rule="evenodd"/>
<path d="M24.9 60L39 59.2L60 60.2L95 60.1L109 61.7L134 66.3L134 154.8L130 156.9L120.8 159L109 165.6L107 165.1L105.3 164L97.9 155L95 152.7L92 151.4L77 150.8L61 148.6L56 149.5L43 153.9L38 154.5L34 154.2L30 153L26.7 151L16.5 140L11 135.6L3 132.1L-3 131.5L-3 63.3Z" fill="#6c6cf7" fill-rule="evenodd"/>
<path d="M24.1 63L44 62.1L92 62.7L101 63.7L134 69.4L134 138.9L123 146.8L117 149L111 150.2L106 150L93 147.1L78 145.1L61 140.9L56 141.3L43 145.4L38 145.7L34 145L30 143.2L18.6 135L13 131.8L2 128.1L-3 127.6L-3 65.7Z" fill="#6565f7" fill-rule="evenodd"/>
<path d="M22 65.9L64 64.5L91 65.2L130 72L134 72.3L134 129.4L129.7 130L118 136.4L107 141.6L101.9 143L96 143.4L79 140.5L66 137.1L61 136.3L55 136.7L43 139.5L37 139.3L31 137.2L14.5 129L0.4 125L-3 124.9L-3 68Z" fill="#6060f7" fill-rule="evenodd"/>
<path d="M59.4 67L91 67.9L128 74.3L134 74.9L134 124.8L127.5 126L103 136.7L98 137.9L94 138.2L62 133.1L56 133.2L44 134.5L39 134.2L33 132.8L15 126.5L1 123.1L-3 122.8L-3 70.3L25 68.3Z" fill="#5b5bf8" fill-rule="evenodd"/>
<path d="M24 70.9L74 69.5L86 69.9L127 76.7L134 77.4L134 121.2L128 122.1L102 131.5L97 132.6L92 132.9L65 130.5L42 130.5L14.5 124L-3 120.9L-3 72.7Z" fill="#5656f8" fill-rule="evenodd"/>
<path d="M71.5 72L86 72.4L115 77.4L134 79.7L134 118.2L129 118.6L103 126.5L96 127.7L89 128L46 127.6L-3 119.1L-3 75L27 73.2Z" fill="#5151f8" fill-rule="evenodd"/>
<path d="M26 75.8L75 74.2L82 74.4L112 79.7L134 81.9L134 115.6L130 115.7L108 121.1L97 123L56 125.4L46 124.9L31.5 122L-3 117.2L-3 77.3Z" fill="#4c4ef6" fill-rule="evenodd"/>
<path d="M-3 79.7L73 76.5L80 76.7L110 82.4L134 84L134 113.4L128 113.7L103 118L76 121.6L57 123L47 122.5L30 119.2L-3 115.1Z" fill="#474ef1" fill-rule="evenodd"/>
<path d="M31 81L71 78.6L78 79.1L98 83.9L109 85.7L119 86.2L134 86.1L134 111.3L121 111.7L109 112.9L93 115.1L71 119.4L56 120.5L47 120.1L29 116.5L3 113.9L-3 112.8L-3 82.1L2 81.6Z" fill="#424dec" fill-rule="evenodd"/>
<path d="M62.4 81L71 80.8L77 81.6L97 88.2L105 89.7L116 89.9L130 88.1L134 88.3L134 109.1L130 109.4L116 108.1L103 108.5L92 110.6L72 116.3L64 117.5L55 118L46 117.4L29 113.8L1 111.2L-3 110.2L-3 84.9L2 84.2L30 84.2Z" fill="#3e4de5" fill-rule="evenodd"/>
<path d="M55.4 84L69 83.2L73 83.6L77.6 85L83.9 88L91.6 93L95.9 97L96.8 99L96.6 100L93.4 103L77 111.3L70 113.5L60 114.8L46 114.6L29 110.7L15 108.9L0 107.9L-3 106.4L-3 88.6L-1 87.6L1 87.3L30 87.8ZM115.5 96L131 90.6L134 91L134 106.6L130 106.9L116.4 102L112.8 100L112 99L112.4 98Z" fill="#394edc" fill-rule="evenodd"/>
<path d="M57 87L68 86.6L72 87.4L75.6 89L79.5 92L81.7 95L82.4 98L81.5 101L76.7 106L71 109.1L63 111L54 111.2L45 110.3L32 106.6L23 104.8L5 102.8L1.2 101L-0.2 98L0.3 95L1.1 94L3.3 93L30 92.9ZM129.2 95L132 94.4L134 95.1L134 102.5L132 103.2L130 103L128 102L126.1 100L126 98L126.5 97Z" fill="#364dd5" fill-rule="evenodd"/>
<path d="M56.1 92L62 91.2L65 91.8L68 93.1L70.3 95L71.5 97L71.6 100L70.8 102L67.2 105L63 106.3L57.4 106L52.9 104L50.5 101L50 99L50.3 97L52.5 94Z" fill="#344ad0" fill-rule="evenodd"/>
<mask id="mp23"><rect x="-5" y="-5" width="140.9" height="175.4" fill="#fff"/><rect x="-16.4" y="-6" width="32.8" height="12" fill="#000" transform="translate(94.2,36.2) rotate(3)"/><rect x="-16.4" y="-6" width="32.8" height="12" fill="#000" transform="translate(93.5,54.0) rotate(0)"/><rect x="-16.4" y="-6" width="32.8" height="12" fill="#000" transform="translate(94.2,65.6) rotate(5)"/><rect x="-16.4" y="-6" width="32.8" height="12" fill="#000" transform="translate(93.5,76.4) rotate(5)"/><rect x="-16.4" y="-6" width="32.8" height="12" fill="#000" transform="translate(55.0,84.0) rotate(0)"/><rect x="-16.4" y="-6" width="32.8" height="12" fill="#000" transform="translate(32.0,111.2) rotate(5)"/><rect x="-16.4" y="-6" width="32.8" height="12" fill="#000" transform="translate(32.0,122.1) rotate(5)"/></mask>
<path d="M0 7.9L2.9 7.8L6.9 7.6L11.6 7.4L16.7 7.2L22.1 7L27.2 6.9L32.3 6.8L37.7 6.7L43.2 6.7L48.7 6.7L54.3 6.7L59.8 6.9L65.4 7.1L71.1 7.5L76.8 7.9L82.4 8.3L87.6 8.7L92.4 9L96.7 9.3L100.7 9.4L104.3 9.6L107.7 9.7L111 9.7L114.2 9.7L117.4 9.5L120.6 9.2L123.7 8.9L126.4 8.5L128.8 8.2L130.5 7.9M0 42.7L1.2 42L2.6 40.9L4.4 39.6L6.5 38.3L9 37.1L12 36.2L15.6 35.5L19.8 35L24.4 34.6L29.2 34.3L33.8 34.1L38.1 34L42 34.1L45.7 34.4L49.4 34.8L52.9 35.2L56.4 35.6L59.8 35.8L63.3 35.8L66.7 35.7L70 35.5L73.3 35.3L76.4 35.2L79.4 35.1L82.1 35.2L84.6 35.3L86.9 35.5L89.2 35.7L91.6 35.9L94.2 36.2L97 36.5L99.9 36.8L102.8 37.2L105.9 37.5L108.9 37.9L112 38.4L115.2 38.9L118.8 39.5L122.3 40.1L125.7 40.8L128.5 41.3L130.5 41.6M0 57.9L1.7 57.6L4.1 57.1L6.8 56.4L9.9 55.8L13.1 55.2L16.3 54.7L19.6 54.2L23.2 53.7L26.9 53.2L30.6 52.8L34.4 52.5L38.1 52.5L41.7 52.8L45.4 53.4L49.1 54.1L52.7 54.8L56.3 55.4L59.8 55.8L63.3 55.8L66.7 55.7L70.1 55.5L73.3 55.2L76.5 54.9L79.4 54.7L82 54.5L84.3 54.4L86.5 54.2L88.7 54.1L91 54.1L93.5 54L96.3 54L99.4 54L102.5 54L105.7 54.1L108.9 54.3L112 54.7L115.3 55.2L118.8 56L122.4 56.9L125.7 57.8L128.5 58.5L130.5 59M0 67.7L2.9 67.5L6.9 67.1L11.6 66.7L16.7 66.3L22.1 65.9L27.2 65.6L32.5 65.3L38.2 65.1L44 64.8L49.7 64.7L55.1 64.5L59.8 64.5L63.9 64.4L67.5 64.5L70.7 64.6L73.7 64.7L76.5 64.8L79.4 64.9L82.1 65L84.6 65L86.9 65L89.2 65.1L91.6 65.3L94.2 65.6L97 65.9L99.9 66.4L102.8 67L105.9 67.6L108.9 68.2L112 68.8L115.2 69.4L118.8 70L122.3 70.6L125.7 71.2L128.5 71.7L130.5 72.1M0 77.1L2.9 76.9L6.9 76.7L11.6 76.5L16.7 76.2L22.1 76L27.2 75.8L32.5 75.6L38.2 75.4L44 75.3L49.7 75.2L55.1 75L59.8 74.9L63.9 74.7L67.5 74.6L70.8 74.4L73.7 74.2L76.6 74.2L79.4 74.2L82 74.4L84.3 74.7L86.5 75.1L88.7 75.5L91 76L93.5 76.4L96.3 76.9L99.4 77.5L102.5 78.1L105.7 78.6L108.9 79.2L112 79.7L115.3 80.1L118.8 80.6L122.4 81L125.7 81.3L128.5 81.6L130.5 81.9M0 87.3L3.1 87.4L7.6 87.5L12.7 87.7L18.1 87.9L23.1 88L27.2 87.9L30.3 87.8L32.9 87.6L35.1 87.3L37.1 86.9L39.2 86.5L41.3 86.2L43.6 85.8L45.8 85.4L48 85L50.2 84.6L52.5 84.3L55 84L57.8 83.8L60.8 83.5L63.9 83.2L67 83.1L70 83.2L72.9 83.6L75.6 84.3L78.4 85.3L81 86.5L83.6 87.8L85.9 89.2L88.1 90.6L90.1 91.9L92.1 93.4L93.9 94.9L95.4 96.4L96.4 97.9L96.8 99.2L96.4 100.4L95.5 101.5L94.1 102.6L92.3 103.6L90.2 104.6L88.1 105.8L85.7 107L83.1 108.5L80.2 109.9L77.1 111.3L73.9 112.4L70.7 113.4L67.3 114L63.6 114.5L59.8 114.8L56 115L52.3 115L48.9 114.9L45.8 114.6L42.9 114L40.1 113.3L37.4 112.5L34.7 111.8L32 111.2L29.3 110.7L26.7 110.3L24.1 110L21.6 109.6L19 109.3L16.3 109L13.5 108.8L10.3 108.5L7.2 108.4L4.3 108.2L1.8 108L0 107.9M130.5 90.6L128 91.5L124.3 92.7L120.1 94.2L116.1 95.8L113.1 97.3L112 98.8L113.1 100.3L116.1 101.9L120.1 103.5L124.3 104.9L128 106.2L130.5 107.1M71.8 98.8L71.8 99.1L71.7 99.5L71.7 99.8L71.6 100.1L71.5 100.5L71.4 100.8L71.3 101.1L71.1 101.4L70.9 101.7L70.8 102L70.5 102.3L70.3 102.6L70.1 102.9L69.8 103.2L69.5 103.4L69.2 103.7L68.9 104L68.6 104.2L68.2 104.4L67.9 104.6L67.5 104.8L67.1 105L66.7 105.2L66.3 105.4L65.9 105.6L65.5 105.7L65.1 105.8L64.6 106L64.2 106.1L63.7 106.2L63.3 106.2L62.8 106.3L62.3 106.4L61.8 106.4L61.4 106.4L60.9 106.4L60.4 106.4L60 106.4L59.5 106.4L59 106.3L58.5 106.2L58.1 106.2L57.6 106.1L57.2 106L56.7 105.8L56.3 105.7L55.9 105.6L55.5 105.4L55.1 105.2L54.7 105L54.3 104.8L53.9 104.6L53.6 104.4L53.2 104.2L52.9 104L52.6 103.7L52.3 103.4L52 103.2L51.7 102.9L51.5 102.6L51.3 102.3L51.1 102L50.9 101.7L50.7 101.4L50.5 101.1L50.4 100.8L50.3 100.5L50.2 100.1L50.1 99.8L50.1 99.5L50 99.1L50 98.8L50 98.5L50.1 98.2L50.1 97.8L50.2 97.5L50.3 97.2L50.4 96.8L50.5 96.5L50.7 96.2L50.9 95.9L51.1 95.6L51.3 95.3L51.5 95L51.7 94.7L52 94.5L52.3 94.2L52.6 93.9L52.9 93.7L53.2 93.4L53.6 93.2L53.9 93L54.3 92.8L54.7 92.6L55.1 92.4L55.5 92.2L55.9 92.1L56.3 91.9L56.7 91.8L57.2 91.7L57.6 91.6L58.1 91.5L58.5 91.4L59 91.3L59.5 91.3L60 91.2L60.4 91.2L60.9 91.2L61.4 91.2L61.8 91.2L62.3 91.3L62.8 91.3L63.3 91.4L63.7 91.5L64.2 91.6L64.6 91.7L65.1 91.8L65.5 91.9L65.9 92.1L66.3 92.2L66.7 92.4L67.1 92.6L67.5 92.8L67.9 93L68.2 93.2L68.6 93.4L68.9 93.7L69.2 93.9L69.5 94.2L69.8 94.5L70.1 94.7L70.3 95L70.5 95.3L70.8 95.6L70.9 95.9L71.1 96.2L71.3 96.5L71.4 96.8L71.5 97.2L71.6 97.5L71.7 97.8L71.7 98.2L71.8 98.5L71.8 98.8M0 117.7L1.8 118L4.3 118.3L7.2 118.7L10.3 119.1L13.5 119.5L16.3 119.9L18.9 120.2L21.5 120.6L24 120.9L26.5 121.3L29.2 121.6L32 122.1L34.8 122.6L37.7 123.2L40.6 123.9L43.8 124.5L47.2 125L51.1 125.3L55.6 125.4L60.8 125.3L66.2 125.1L71.6 124.9L76.9 124.5L81.6 124.2L85.6 124L89.2 123.8L92.6 123.5L96 123.2L99.5 122.7L103.3 122.1L107.8 121.2L113 120L118.2 118.7L123.2 117.4L127.5 116.3L130.5 115.6M0 124.9L1.7 125.4L4.1 126L6.8 126.7L9.9 127.5L13.1 128.5L16.3 129.7L19.6 131.2L23.2 133.1L26.9 135.1L30.6 137L34.4 138.5L38.1 139.5L41.7 139.6L45.3 139L48.9 138.1L52.6 137.2L56.2 136.4L59.8 136.2L63.4 136.6L67.1 137.3L70.7 138.3L74.3 139.3L77.9 140.3L81.6 141L85.1 141.6L88.6 142.3L92.1 143L95.6 143.4L99.4 143.3L103.3 142.7L107.8 141.3L113 139L118.2 136.3L123.2 133.6L127.5 131.3L130.5 129.7M109.8 165.6L111 164.8L112.7 163.7L114.6 162.4L116.7 161.1L118.8 159.9L120.7 159L122.5 158.4L124.4 157.9L126.3 157.5L128 157.3L129.4 157L130.5 156.9" fill="none" stroke="#3a3a5a" stroke-width="0.8" stroke-opacity="0.85" mask="url(#mp23)"/>
<text transform="translate(94.2,36.2) rotate(3)" x="0" y="4.6" text-anchor="middle" font-family="Liberation Serif" font-size="13.5" textLength="25.0" lengthAdjust="spacingAndGlyphs" fill="#000">0.21</text>
<text transform="translate(93.5,54.0) rotate(0)" x="0" y="4.6" text-anchor="middle" font-family="Liberation Serif" font-size="13.5" textLength="25.0" lengthAdjust="spacingAndGlyphs" fill="#000">0.25</text>
<text transform="translate(94.2,65.6) rotate(5)" x="0" y="4.6" text-anchor="middle" font-family="Liberation Serif" font-size="13.5" textLength="25.0" lengthAdjust="spacingAndGlyphs" fill="#000">0.29</text>
<text transform="translate(93.5,76.4) rotate(5)" x="0" y="4.6" text-anchor="middle" font-family="Liberation Serif" font-size="13.5" textLength="25.0" lengthAdjust="spacingAndGlyphs" fill="#000">0.33</text>
<text transform="translate(55.0,84.0) rotate(0)" x="0" y="4.6" text-anchor="middle" font-family="Liberation Serif" font-size="13.5" textLength="25.0" lengthAdjust="spacingAndGlyphs" fill="#000">0.37</text>
<text transform="translate(32.0,111.2) rotate(5)" x="0" y="4.6" text-anchor="middle" font-family="Liberation Serif" font-size="13.5" textLength="25.0" lengthAdjust="spacingAndGlyphs" fill="#000">0.37</text>
<text transform="translate(32.0,122.1) rotate(5)" x="0" y="4.6" text-anchor="middle" font-family="Liberation Serif" font-size="13.5" textLength="25.0" lengthAdjust="spacingAndGlyphs" fill="#000">0.33</text>
<text x="4.6" y="21.1" font-family="Liberation Serif" font-size="15.5" textLength="45.9" lengthAdjust="spacingAndGlyphs" fill="#000">(B100)</text>
</g>
<clipPath id="cp30"><rect x="0" y="0" width="130.0" height="169.2"/></clipPath>
<g transform="translate(97.5,591.2)" clip-path="url(#cp30)">
<rect x="-2" y="-2" width="134.0" height="173.2" fill="#f6f6fe"/>
<path d="M-3 0.8L8.5 -3L133 -3L133 173L-3 173Z" fill="#f2f2fe" fill-rule="evenodd"/>
<path d="M17 1.5L37.5 -3L92.8 -3L120 1.1L125 0.9L130 -0.2L133 -0.1L133 173L-3 173L-3 8.7Z" fill="#ececfc" fill-rule="evenodd"/>
<path d="M58.8 -3L61.4 -3L62.1 -2L62 0.5L63 0.8L71 -0.2L80 0.4L106 4.8L129 11.4L133 10.8L133 173L-3 173L-3 16.4L14.7 9L25 5.6L48 1.4L58 0.2L58.4 0L58.1 -2Z" fill="#e7e7fc" fill-rule="evenodd"/>
<path d="M48 6.4L74 4.5L81 5.1L102 8.8L126 14.6L130 15L133 14.7L133 173L-3 173L-3 23.8L18.6 14L29 10.4Z" fill="#e0e0fb" fill-rule="evenodd"/>
<path d="M59.3 9L70 8.2L77 8.6L121 17L128 17.8L133 17.6L133 173L-3 173L-3 30.7L22 18.8L31 15.2L47 10.7Z" fill="#dbdbfb" fill-rule="evenodd"/>
<path d="M59.3 12L66 11.4L72 11.7L112 19.1L124 20.2L133 20.2L133 173L-3 173L-3 37.2L34 19.4L48 14.5Z" fill="#d8d8fa" fill-rule="evenodd"/>
<path d="M61.1 15L69 15L93 20.2L107 22.2L117 22.9L133 22.6L133 173L-3 173L-3 42.9L14.6 35L38.7 23L53 17.2Z" fill="#d4d4fa" fill-rule="evenodd"/>
<path d="M60.2 20L67 19.6L90 24.5L105 26.1L114 26.3L133 24.9L133 173L-3 173L-3 48L25 36L54.6 22Z" fill="#cecef9" fill-rule="evenodd"/>
<path d="M125.1 28L133 27.3L133 173L-3 173L-3 52.6L15 45.2L63 28.4L68 28.1L87 29.7L107 30.5L115 29.9Z" fill="#c6c6f9" fill-rule="evenodd"/>
<path d="M128.6 30L133 29.8L133 173L-3 173L-3 56.7L15 49.5L39 43.4L48 42.4L59 43.8L62 43.8L74 39.3L82.6 37L92 35.8L111 35.1L117 33.7Z" fill="#bcbcf8" fill-rule="evenodd"/>
<path d="M129.4 33L133 33L133 173L-3 173L-3 60.4L0 59.7L10 55.2L16 53.2L36 49.2L46 48.5L60 51.7L64 51.5L71 48.3L88 42.7L95 41.7L109 41.3L113 40.6L119 38.3Z" fill="#b1b1f8" fill-rule="evenodd"/>
<path d="M130 40L133 39.6L133 173L-3 173L-3 63.5L1 62.6L16 56.9L32 53.8L44 53.2L58 55.6L62 55.8L66 55.1L79 50.7L88 48.7L95 48.2L109 48.9L114 48.6L120 46.5Z" fill="#a7a7f8" fill-rule="evenodd"/>
<path d="M83.8 54L90 53.8L96 54.3L127.8 61L133 61.2L133 173L-3 173L-3 66.3L2 65.2L16 60.3L28 57.9L42 57.1L57 59L62 59L67 58.2L78 55Z" fill="#9b9bf8" fill-rule="evenodd"/>
<path d="M81.8 58L89 58.1L97 59.6L114 64.4L129 69.9L133 70.3L133 173L-3 173L-3 68.9L1 68.1L17 63.3L28 61.2L42 60.5L61 62Z" fill="#9090f8" fill-rule="evenodd"/>
<path d="M76.5 62L84 61.4L93 62.7L110 67.5L129 74.6L133 74.8L133 173L-3 173L-3 71.2L0 70.8L18 66.1L29 64.3L43 63.7L61 64.6Z" fill="#8787f8" fill-rule="evenodd"/>
<path d="M78.1 65L86 65L95 66.5L106 69.7L126.9 77L133 77.7L133 173L-3 173L-3 73.3L19 68.8L29 67.3L43 66.6L61 66.9Z" fill="#7e7ef8" fill-rule="evenodd"/>
<path d="M63.2 69L81 68.1L92 68.9L101 71.1L124 78.9L133 80.2L133 173L-2 173L-3 171.7L-3 75.2L30 70.1L43 69.3Z" fill="#7575f7" fill-rule="evenodd"/>
<path d="M66.9 71L81 71.1L93 72L100 73.7L122 80.8L133 82.4L133 173L5.2 173L1.9 168L-3 163.5L-3 77.1L31 72.6Z" fill="#6c6cf7" fill-rule="evenodd"/>
<path d="M43.8 74L67 73.1L92 74.8L98 76L121.4 83L133 84.6L133 161.2L130 168.8L129.6 173L15.2 173L11 170.4L9 168.3L-3 154L-3 79L23 75.8ZM38 156L36 157L33.8 160L33.6 163L35 164.3L38 163.6L40 161.8L41 160L40.7 157L39.5 156Z" fill="#6565f7" fill-rule="evenodd"/>
<path d="M60.1 75L71 75.3L93 78.1L120.6 85L133 86.8L133 145.5L130.8 150L128.6 157L126.6 165L125.4 173L46.5 173L52.5 158L52.7 154L51 150.9L46 149L38 148.7L29.1 150L18 153.1L14 153.3L12 152.6L9 150.5L1.3 142L-3 138.3L-3 80.9L28 77.5Z" fill="#6060f7" fill-rule="evenodd"/>
<path d="M57.7 77L65 76.8L71 77.4L120 87.1L133 89L133 132.4L126.9 137L124.6 141L123.3 149L122 169L121 173L56.2 173L57 170L61 163.2L70.2 155L72.9 151L73.3 147L72.3 142L70.6 138L68 134.8L65 133.5L61 133.6L43 141.5L39 142.4L34 142.3L26.6 141L16 137.6L10 134.8L0.1 129L-3 128.3L-3 82.8Z" fill="#5b5bf8" fill-rule="evenodd"/>
<path d="M57.4 79L64 78.8L70 79.3L94 85.4L133 91.4L133 123.7L124 126.8L119 129.5L115.3 133L113.5 137L113.4 142L115.5 155L116.1 163L115.8 168L114 173L72.8 173L81 156.9L83 150L84.1 143L83.9 139L82.6 136L79.4 133L75.5 131L68.9 129L62 128.3L53 128.9L38 131.1L30 130.8L17 128.8L2 123.8L-3 122.9L-3 84.8Z" fill="#5656f8" fill-rule="evenodd"/>
<path d="M59.7 81L66 81L71 81.8L89 88.2L95 89.8L120.6 92L130 93.3L133 94.2L133 117L98 123.6L82 125L19 122.5L0 118.9L-3 118.8L-3 87ZM95.6 151L98 150.4L100 151.4L102 154L103 157L103.2 160L102.5 163L101 165.3L99 166.3L97 166.1L96 165.3L95 164L94.1 161L94 154.5Z" fill="#5151f8" fill-rule="evenodd"/>
<path d="M53.6 84L63 83.5L69 84.1L81 88.8L92 94L98 95.6L103 95.9L118 95.2L130 96.5L133 97.9L133 111L129 112.5L123 113.4L101 113.7L80 119.4L67 121L52 120.3L31 116.9L16 116.7L-3 115.5L-3 89.6L29 87.2Z" fill="#4c4ef6" fill-rule="evenodd"/>
<path d="M54.5 87L61 86.6L67 87.1L72 88.5L79 91.6L84 95L88.2 99L90.3 103L89.9 106L86.4 110L80 113.8L73 116.2L65 117.4L58 117.4L51 116.6L44.6 115L34 111.3L29 110.5L-3 112.4L-3 92.6L10 92.6L30 91.4ZM123.9 101L127 100.9L129 101.6L130 102.8L129.9 104L128 105.8L126 106.2L123.2 106L120.8 105L120 104L120 103L121 102Z" fill="#474ef1" fill-rule="evenodd"/>
<path d="M54.6 91L60 90.5L66 90.9L71 92.1L75.2 94L78.9 97L80.7 100L81 103L79.9 106L77.1 109L74 110.9L70 112.4L65 113.5L60 113.8L54 113.2L49.6 112L45.3 110L42.7 108L40.5 105L39.9 102L40.6 99L43 96L45.8 94L50 92.1ZM-3 108.8L-3 96.3L-2 96.2L1 96.7L10 101L11.1 102L11.1 103L8.6 105L1 108.5Z" fill="#424dec" fill-rule="evenodd"/>
<path d="M60.2 95L66 95.2L69 96.3L71.5 98L72.9 100L73.2 102L72.7 104L71.1 106L67.9 108L63 109L57.1 108L53.6 106L51.8 103L51.9 101L52.9 99L56 96.4Z" fill="#3e4de5" fill-rule="evenodd"/>
<path d="M60.9 100L63 99.5L64.4 100L65.3 101L64.9 103L63 103.9L61 103.5L60 102Z" fill="#394edc" fill-rule="evenodd"/>
<mask id="mp30"><rect x="-5" y="-5" width="140.0" height="179.2" fill="#fff"/><rect x="-16.4" y="-6" width="32.8" height="12" fill="#000" transform="translate(94.7,20.5) rotate(5)"/><rect x="-12.3" y="-6" width="24.6" height="12" fill="#000" transform="translate(99.6,41.3) rotate(0)"/><rect x="-16.4" y="-6" width="32.8" height="12" fill="#000" transform="translate(44.1,63.7) rotate(0)"/><rect x="-16.4" y="-6" width="32.8" height="12" fill="#000" transform="translate(108.5,79.3) rotate(12)"/><rect x="-16.4" y="-6" width="32.8" height="12" fill="#000" transform="translate(79.5,84.9) rotate(10)"/><rect x="-16.4" y="-6" width="32.8" height="12" fill="#000" transform="translate(33.0,122.7) rotate(0)"/></mask>
<path d="M28 4.9L30.6 4.4L34.3 3.8L38.5 3L42.9 2.3L47.1 1.6L50.4 1.1L53 0.7L55.4 0.4L57.4 0.2L59.1 0L60.5 -0.2L61.6 -0.3M83.9 1.1L86.4 1.4L89.7 1.9L93.7 2.5L97.9 3.2L102.3 4L106.3 4.9L110.4 5.9L114.9 7.1L119.4 8.5L123.7 9.7L127.2 10.8L129.8 11.6M0.1 41.8L1.9 40.9L4.2 39.9L7.1 38.5L10.2 37.1L13.5 35.5L16.9 33.9L20.3 32.2L23.9 30.3L27.7 28.3L31.6 26.4L35.4 24.5L39.2 22.8L43 21.1L46.8 19.5L50.7 18L54.5 16.7L58.1 15.6L61.6 14.9L64.9 14.7L68 14.9L71 15.3L73.9 16L76.7 16.6L79.5 17.2L82.1 17.7L84.6 18.2L87 18.8L89.5 19.4L92 20L94.7 20.5L97.6 21L100.6 21.4L103.7 21.8L106.9 22.2L110 22.5L113 22.8L116.1 22.9L119.3 22.9L122.5 22.9L125.5 22.8L128 22.8L129.8 22.8M0.1 59.6L1.8 58.9L4.1 57.8L6.8 56.6L9.9 55.3L13.3 54L16.9 52.9L20.9 52L25.4 51L30.2 50.1L35 49.3L39.6 48.7L43.7 48.5L47.3 48.7L50.7 49.3L53.8 50.1L56.6 50.9L59.2 51.6L61.6 51.8L63.5 51.7L64.9 51.3L66.1 50.7L67.3 50L68.7 49.2L70.5 48.5L72.9 47.6L75.7 46.6L78.7 45.6L81.8 44.5L84.7 43.6L87.3 42.9L89.6 42.4L91.7 42L93.7 41.8L95.6 41.6L97.5 41.5L99.6 41.3L101.7 41.2L103.9 41.3L106 41.4L108.3 41.4L110.6 41.2L113 40.6L115.8 39.7L119 38.3L122.2 36.7L125.3 35.1L127.9 33.7L129.8 32.8M0.1 70.8L2 70.3L4.6 69.6L7.6 68.7L10.9 67.8L14.1 67L16.9 66.4L19.3 65.8L21.6 65.4L23.8 65L25.9 64.7L28.1 64.4L30.3 64.1L32.5 63.9L34.7 63.8L37 63.7L39.2 63.7L41.6 63.6L44.1 63.7L46.8 63.8L49.5 64L52.3 64.3L55.3 64.5L58.4 64.6L61.6 64.6L65 64.2L68.7 63.5L72.5 62.8L76.3 62L80.2 61.5L83.9 61.4L87.7 61.7L91.4 62.3L95.1 63.2L98.8 64.2L102.5 65.2L106.3 66.4L110.4 67.7L114.9 69.2L119.4 70.9L123.7 72.5L127.2 73.9L129.8 74.9M0.1 78.7L3.1 78.3L7.1 77.7L12 77.1L17.3 76.5L22.7 75.8L28 75.3L33.4 74.8L39.2 74.3L45.2 73.9L51 73.5L56.6 73.2L61.6 73.1L66.1 73.1L70.3 73.2L74.2 73.4L77.7 73.7L81 74L83.9 74.2L86.4 74.3L88.4 74.4L90.1 74.6L91.6 74.7L93.3 74.9L95.1 75.3L97.2 75.8L99.4 76.4L101.7 77.1L104 77.9L106.3 78.6L108.5 79.3L110.8 80L113.2 80.7L115.6 81.4L117.9 82.1L120 82.7L122 83.1L123.7 83.5L125.3 83.7L126.7 83.9L128 84.1L129 84.2L129.8 84.2M0.1 86.5L3 86.3L7 85.9L11.8 85.6L17.1 85.2L22.6 84.7L28 84.2L33.8 83.7L40.1 82.9L46.7 82.2L53.1 81.5L58.9 81L63.8 80.9L67.6 81.1L70.5 81.7L72.9 82.4L75 83.2L77.1 84.1L79.5 84.9L82 85.7L84.5 86.6L87 87.5L89.6 88.4L92.3 89.2L95.1 89.8L98.3 90.3L101.7 90.6L105.3 90.8L108.8 91L112.2 91.2L115.3 91.4L118.2 91.7L121 92L123.8 92.4L126.2 92.7L128.3 93L129.8 93.2M81 102.1L81 102.5L81 102.9L80.9 103.3L80.9 103.7L80.8 104L80.6 104.4L80.5 104.8L80.3 105.1L80.2 105.5L79.9 105.9L79.7 106.2L79.5 106.6L79.2 106.9L78.9 107.3L78.6 107.6L78.3 107.9L77.9 108.3L77.6 108.6L77.2 108.9L76.8 109.2L76.4 109.5L75.9 109.8L75.5 110.1L75 110.4L74.5 110.6L74 110.9L73.5 111.1L73 111.4L72.4 111.6L71.9 111.8L71.3 112L70.8 112.2L70.2 112.4L69.6 112.6L69 112.7L68.3 112.9L67.7 113L67.1 113.1L66.4 113.3L65.8 113.4L65.1 113.5L64.5 113.5L63.8 113.6L63.2 113.7L62.5 113.7L61.8 113.7L61.1 113.8L60.5 113.8L59.8 113.8L59.1 113.7L58.4 113.7L57.8 113.7L57.1 113.6L56.5 113.5L55.8 113.5L55.1 113.4L54.5 113.3L53.9 113.1L53.2 113L52.6 112.9L52 112.7L51.4 112.6L50.8 112.4L50.2 112.2L49.6 112L49 111.8L48.5 111.6L47.9 111.4L47.4 111.1L46.9 110.9L46.4 110.6L45.9 110.4L45.5 110.1L45 109.8L44.6 109.5L44.1 109.2L43.7 108.9L43.4 108.6L43 108.3L42.7 107.9L42.3 107.6L42 107.3L41.7 106.9L41.5 106.6L41.2 106.2L41 105.9L40.8 105.5L40.6 105.1L40.4 104.8L40.3 104.4L40.2 104L40.1 103.7L40 103.3L39.9 102.9L39.9 102.5L39.9 102.1L39.9 101.8L39.9 101.4L40 101L40.1 100.6L40.2 100.2L40.3 99.9L40.4 99.5L40.6 99.1L40.8 98.8L41 98.4L41.2 98L41.5 97.7L41.7 97.3L42 97L42.3 96.7L42.7 96.3L43 96L43.4 95.7L43.7 95.4L44.1 95.1L44.6 94.8L45 94.5L45.5 94.2L45.9 93.9L46.4 93.6L46.9 93.4L47.4 93.1L47.9 92.9L48.5 92.7L49 92.5L49.6 92.3L50.2 92.1L50.8 91.9L51.4 91.7L52 91.5L52.6 91.4L53.2 91.3L53.9 91.1L54.5 91L55.1 90.9L55.8 90.8L56.5 90.7L57.1 90.7L57.8 90.6L58.4 90.6L59.1 90.5L59.8 90.5L60.5 90.5L61.1 90.5L61.8 90.5L62.5 90.6L63.2 90.6L63.8 90.7L64.5 90.7L65.1 90.8L65.8 90.9L66.4 91L67.1 91.1L67.7 91.3L68.3 91.4L69 91.5L69.6 91.7L70.2 91.9L70.8 92.1L71.3 92.3L71.9 92.5L72.4 92.7L73 92.9L73.5 93.1L74 93.4L74.5 93.6L75 93.9L75.5 94.2L75.9 94.5L76.4 94.8L76.8 95.1L77.2 95.4L77.6 95.7L77.9 96L78.3 96.3L78.6 96.7L78.9 97L79.2 97.3L79.5 97.7L79.7 98L79.9 98.4L80.2 98.8L80.3 99.1L80.5 99.5L80.6 99.9L80.8 100.2L80.9 100.6L80.9 101L81 101.4L81 101.8L81 102.1M65.4 101.7L65.4 101.9L65.3 102.1L65.3 102.3L65.2 102.5L65.1 102.6L65 102.8L64.9 103L64.8 103.1L64.6 103.3L64.4 103.4L64.2 103.5L64 103.6L63.8 103.7L63.6 103.8L63.4 103.8L63.2 103.9L62.9 103.9L62.7 103.9L62.5 103.9L62.2 103.9L62 103.8L61.8 103.8L61.6 103.7L61.4 103.6L61.2 103.5L61 103.4L60.8 103.3L60.6 103.1L60.5 103L60.4 102.8L60.3 102.6L60.2 102.5L60.1 102.3L60.1 102.1L60 101.9L60 101.7L60 101.5L60.1 101.3L60.1 101.1L60.2 100.9L60.3 100.7L60.4 100.6L60.5 100.4L60.6 100.3L60.8 100.1L61 100L61.2 99.9L61.4 99.8L61.6 99.7L61.8 99.6L62 99.5L62.2 99.5L62.5 99.5L62.7 99.5L62.9 99.5L63.2 99.5L63.4 99.5L63.6 99.6L63.8 99.7L64 99.8L64.2 99.9L64.4 100L64.6 100.1L64.8 100.3L64.9 100.4L65 100.6L65.1 100.7L65.2 100.9L65.3 101.1L65.3 101.3L65.4 101.5L65.4 101.7M0.1 96.3L1.6 97L3.8 97.9L6.4 99.1L8.8 100.3L10.6 101.5L11.3 102.6L10.6 103.7L8.8 104.9L6.4 106.1L3.8 107.2L1.6 108.2L0.1 108.8M0.1 118.9L1.9 119.3L4.5 119.9L7.5 120.6L10.7 121.2L13.9 121.8L16.9 122.3L19.5 122.5L22.1 122.6L24.7 122.6L27.4 122.6L30.1 122.6L33 122.7L35.9 122.9L38.8 123.1L41.9 123.3L45.1 123.6L48.6 123.8L52.6 124L57.3 124.3L62.5 124.5L68.1 124.7L73.7 124.9L79.1 125L83.9 124.9L88.2 124.7L92 124.4L95.6 123.9L99.1 123.4L102.6 122.9L106.3 122.3L110.4 121.6L114.9 120.7L119.4 119.9L123.7 119L127.2 118.3L129.8 117.8M0.1 129L1.9 130L4.2 131.5L7.1 133.2L10.2 134.9L13.5 136.6L16.9 137.9L20.3 139.1L23.9 140.2L27.7 141.3L31.6 142.1L35.4 142.5L39.2 142.4L43.1 141.5L47.2 139.9L51.2 137.9L55.1 135.9L58.6 134.3L61.6 133.4L63.9 133.3L65.8 133.6L67.3 134.3L68.5 135.3L69.6 136.5L70.5 137.9L71.4 139.7L72.3 141.8L72.9 144.2L73.3 146.7L73.2 149.1L72.8 151.3L71.6 153.4L69.8 155.4L67.6 157.3L65.3 159.2L63.2 160.9L61.6 162.5L60.4 164L59.4 165.5L58.6 166.8L58 168L57.5 168.9L57.1 169.7M0.1 158L1.5 159.7L3 161.4L4.4 163L5.8 164.7L7.3 166.3L8.7 168L10.2 169.7M129.8 134.6L129.1 135.2L128.2 135.9L127.1 136.8L126 138L125 139.9L124.2 142.4L123.6 146.1L123.1 151L122.7 156.5L122.4 161.9L122.2 166.5L122 169.7" fill="none" stroke="#3a3a5a" stroke-width="0.8" stroke-opacity="0.85" mask="url(#mp30)"/>
<text transform="translate(94.7,20.5) rotate(5)" x="0" y="4.6" text-anchor="middle" font-family="Liberation Serif" font-size="13.5" textLength="25.0" lengthAdjust="spacingAndGlyphs" fill="#000">0.16</text>
<text transform="translate(99.6,41.3) rotate(0)" x="0" y="4.6" text-anchor="middle" font-family="Liberation Serif" font-size="13.5" textLength="18.8" lengthAdjust="spacingAndGlyphs" fill="#000">0.2</text>
<text transform="translate(44.1,63.7) rotate(0)" x="0" y="4.6" text-anchor="middle" font-family="Liberation Serif" font-size="13.5" textLength="25.0" lengthAdjust="spacingAndGlyphs" fill="#000">0.24</text>
<text transform="translate(108.5,79.3) rotate(12)" x="0" y="4.6" text-anchor="middle" font-family="Liberation Serif" font-size="13.5" textLength="25.0" lengthAdjust="spacingAndGlyphs" fill="#000">0.28</text>
<text transform="translate(79.5,84.9) rotate(10)" x="0" y="4.6" text-anchor="middle" font-family="Liberation Serif" font-size="13.5" textLength="25.0" lengthAdjust="spacingAndGlyphs" fill="#000">0.32</text>
<text transform="translate(33.0,122.7) rotate(0)" x="0" y="4.6" text-anchor="middle" font-family="Liberation Serif" font-size="13.5" textLength="25.0" lengthAdjust="spacingAndGlyphs" fill="#000">0.32</text>
<text x="5.3" y="18.1" font-family="Liberation Serif" font-size="15.5" textLength="29.5" lengthAdjust="spacingAndGlyphs" fill="#000">(B0)</text>
</g>
<clipPath id="cp31"><rect x="0" y="0" width="129.4" height="169.2"/></clipPath>
<g transform="translate(238.9,591.2)" clip-path="url(#cp31)">
<rect x="-2" y="-2" width="133.4" height="173.2" fill="#dbdbfb"/>
<path d="M23 0.1L55.6 -3L66.3 -3L97 -0.2L133 -0.4L133 173L-3 173L-3 -0.3Z" fill="#d8d8fa" fill-rule="evenodd"/>
<path d="M56.7 4L67 4L96 6.9L133 5.5L133 173L-3 173L-3 9.2L14 9L29 8.1Z" fill="#d4d4fa" fill-rule="evenodd"/>
<path d="M59 11L66 11L95 13.8L133 11.7L133 173L-3 173L-3 18.3L13 17.4L35 15.4Z" fill="#cecef9" fill-rule="evenodd"/>
<path d="M57.1 19L67 18.7L97 20.4L133 18.9L133 173L-3 173L-3 26.3L35 22.7Z" fill="#c6c6f9" fill-rule="evenodd"/>
<path d="M57.6 27L71 26.4L133 26.9L133 173L-3 173L-3 33.7Z" fill="#bcbcf8" fill-rule="evenodd"/>
<path d="M28 37.3L89 33.1L109 33.2L133 34.6L133 173L-3 173L-3 40.8Z" fill="#b1b1f8" fill-rule="evenodd"/>
<path d="M87.5 40L109 39.4L133 41.7L133 173L-3 173L-3 47.5L30 44L62 44Z" fill="#a7a7f8" fill-rule="evenodd"/>
<path d="M93.2 46L109 45.4L133 48.1L133 173L-3 173L-3 53.8L22 50.9L32 50.4L47 50.9L62 53.2L81 48ZM62 135.5L61.2 137L61.8 138L63 138.4L64.1 138L64.8 137L64.5 136L63 135.2Z" fill="#9b9bf8" fill-rule="evenodd"/>
<path d="M94.6 52L102 51.3L109 51.3L129 54L133 54L133 173L-3 173L-3 59.8L23 56.7L33 56.3L50 57.4L58 60.4L62 60.8L67 59.7L82 54.4ZM61 133.7L59.3 135L58.3 137L59 140.3L62 142.6L64 142.9L66 142.3L68.1 140L68.3 138L67.7 136L65 133.6L63 133.2Z" fill="#9090f8" fill-rule="evenodd"/>
<path d="M102.3 57L110 57L127 59L133 59L133 173L-3 173L-3 65L2 64.8L23 61.9L35 61.5L47 62.2L59 65.1L66 65.6L71 64.7L87 59.3ZM60 131.6L56.5 134L53.7 139L53.5 144L55 147.5L58 150.1L63 151.7L68 151.4L73 149L75 146.9L76.2 144L75.9 141L73.6 137L70.7 134L67 131.8L63 131Z" fill="#8787f8" fill-rule="evenodd"/>
<path d="M94.6 63L107 62L128 63.6L133 63.4L133 173L-3 173L-3 69.4L1 69.4L21 66.6L36 65.9L46 66.4L63 69.4L69 69.7L74 68.7L86 64.7ZM61 129L57.7 130L54.4 132L51.2 135L48.4 139L46.8 143L46.4 146L46.8 149L48.4 152L50.5 154L54 155.8L58.5 157L63 157.5L72 156.6L76.5 155L80 152.9L82.9 150L84.9 146L84.7 142L82.9 139L78.4 135L71.7 131L66 129Z" fill="#7e7ef8" fill-rule="evenodd"/>
<path d="M97.6 67L108 66.3L129 67.5L133 67.1L133 133.5L129 133.6L119.6 138L117 139.7L116.1 141L117.2 143L120.5 145L129 148.9L133 149.6L133 173L-3 173L-3 72.9L0 73L20 70.5L37 69.7L48 70.4L65 72.9L70 73.1L76 72L87 68.8ZM60 126.9L53.9 129L47.5 133L42.2 138L36.3 145L35.4 147L38.4 154L40.4 157L43 159L49 160.8L57 161.8L66 162L73 161.4L79 160L83.6 158L87.5 155L91 150.6L92.6 146L92.2 141L89.5 137L83.6 133L74.3 129L66 126.8Z" fill="#7575f7" fill-rule="evenodd"/>
<path d="M96.4 71L109 70.1L133 70.4L133 129.1L129 128.6L126 129L118 131.1L113.6 133L111.1 135L109.6 137L108.4 140L107.5 145L108.2 148L110 149.8L112.2 151L118 152.6L133 155L133 173L-3 173L-3 75.7L20 73.8L36 73.2L71 75.7L77.1 75ZM58 124.9L52 126.4L46 129L28.6 139L24.7 142L22.2 145L21.4 149L22.2 152L25.1 156L33 162.2L37 164.2L42 165.7L50 166.4L72 165.8L80 164.8L87 162.5L94.2 158L98.9 153L100.4 150L100.1 147L95.7 136L92 132.2L84.8 129L73 125.9L65 124.6Z" fill="#6c6cf7" fill-rule="evenodd"/>
<path d="M102.7 74L133 73.3L133 125.9L129 125.1L126 125.3L102 129.4L89 125.8L73 123.3L62 122.4L53 123L45 124.8L34 129.4L20 134.2L14 135.5L3 136.7L1 137.9L0 139.3L-0.4 141L-0.1 144L1.2 147L4.3 151L15.7 161L25.6 167L36 170.6L47 171.6L64 169.7L74 170L80 169.6L90 167.2L107 160.2L113 159.4L121 159.3L133 159.9L133 173L-3 173L-3 78.3L35 76.6L75 78.1Z" fill="#6565f7" fill-rule="evenodd"/>
<path d="M113.1 77L133 76.2L133 123.5L129 122.7L105 122.7L68 120.3L52 119.9L43.2 121L34 123.8L18 127.7L11 127.8L0 126.8L-3 127.7L-3 81L33 80.2L79 80.9L96 78.5ZM-3 173L-3 158.3L11.6 168L21.6 173ZM120.7 165L133 164.7L133 173L89.3 173L109 167Z" fill="#6060f7" fill-rule="evenodd"/>
<path d="M132.9 79L133 121.5L96 117.2L67 117.4L46 116.8L38 117.5L18 121.6L2 122.2L-3 123L-3 83.7L34 84.7L64 83.3L83 84.2ZM-3 173L-3 168.2L5.3 173ZM125.6 170L133 169.8L133 173L110.8 173Z" fill="#5b5bf8" fill-rule="evenodd"/>
<path d="M95 88.5L133 81.8L133 119.7L128 119.2L100 112.6L93 111.9L62 114.3L52 113.8L35 111.9L19 115.9L-3 119.4L-3 86.6L19 88.6L34 90.8L49 87.8L61 86.5L68 86.6L87 88.6Z" fill="#5656f8" fill-rule="evenodd"/>
<path d="M115 89.8L133 84.8L133 117.8L129 117.6L110.8 111L102.5 107L97.6 103L97 101L97.6 99L99.5 97L104.3 94ZM-3 116.1L-3 89.4L-2 89.5L15 92.8L30 98.8L34 99.3L38 98.7L47.8 93L52 91.5L60 89.9L68 90.1L77.1 92L84.7 95L87.4 98L88 102L86.2 105L82.6 107L73 109.8L64 111.2L58 111.2L51 110.2L47.1 109L38 104.8L32 104.7L29 105.5L16 111.2Z" fill="#5151f8" fill-rule="evenodd"/>
<path d="M132.9 88L133 115.4L129 115.1L119 110.7L114 108L110.7 105L109.7 103L109.7 100L110.7 98L112.6 96L120 92L129 88.8ZM-3 112.9L-3 92.1L4 93.4L8.9 95L12.7 97L14.9 99L15.9 101L15.9 103L15 105L13 107L9 109.3ZM57.8 94L64 93.2L71 94.8L73.3 96L75.3 98L76.1 100L75.9 102L74.6 104L72.1 106L67 108.1L61 108.6L54.7 107L50.6 104L49.8 102L50 100L51.1 98L53 96.3Z" fill="#4c4ef6" fill-rule="evenodd"/>
<path d="M130.1 92L133 91.4L133 112.4L129 111.6L119.6 107L117.2 105L115.9 102L116.7 99L118.7 97ZM-3 95L2.8 96L8 98.8L9 100L9.5 102L8.2 105L4 107.6L-3 109.5ZM60.8 97L65 96.7L68 98L69.1 99L69.8 101L68.6 104L66 105.7L63 106.2L60 105.5L58 104.2L56.7 102L57 100L58.7 98Z" fill="#474ef1" fill-rule="evenodd"/>
<path d="M129.7 96L133 95.2L133 108.4L130 107.6L125.2 105L121.7 102L122.8 100ZM-3 105.5L-3 98.2L0 98.5L3.8 101L4 102L0 104.9ZM60.9 101L63 99.4L65.2 100L66 101L65.6 103L63 103.9L61.2 103Z" fill="#424dec" fill-rule="evenodd"/>
<path d="M130.1 101L131.7 101L132.1 102L130 102.2Z" fill="#3e4de5" fill-rule="evenodd"/>
<mask id="mp31"><rect x="-5" y="-5" width="139.4" height="179.2" fill="#fff"/><rect x="-12.3" y="-6" width="24.6" height="12" fill="#000" transform="translate(98.1,33.3) rotate(0)"/><rect x="-16.4" y="-6" width="32.8" height="12" fill="#000" transform="translate(31.0,56.3) rotate(0)"/><rect x="-16.4" y="-6" width="32.8" height="12" fill="#000" transform="translate(52.2,70.8) rotate(0)"/><rect x="-16.4" y="-6" width="32.8" height="12" fill="#000" transform="translate(94.7,78.7) rotate(-5)"/><rect x="-16.4" y="-6" width="32.8" height="12" fill="#000" transform="translate(33.2,124.0) rotate(-8)"/></mask>
<path d="M-0.3 18.3L1.5 18.2L3.8 18L6.7 17.9L9.8 17.7L13.1 17.4L16.5 17.2L19.9 16.9L23.5 16.6L27.3 16.2L31.2 15.8L35 15.4L38.8 14.9L42.4 14.3L45.9 13.5L49.3 12.6L52.9 11.8L56.8 11.2L61.2 10.9L66.1 11L71.5 11.5L77.2 12.2L83 13L88.9 13.5L94.7 13.8L100.8 13.7L107.5 13.4L114.2 12.9L120.4 12.3L125.6 11.9L129.4 11.6M-0.3 40.6L2.7 40.3L6.7 39.7L11.6 39.1L16.9 38.4L22.3 37.8L27.6 37.3L33 36.8L38.7 36.4L44.6 36.1L50.5 35.7L56 35.4L61.2 35.1L65.9 34.7L70.5 34.4L74.8 34L78.8 33.7L82.5 33.5L85.8 33.3L88.5 33.2L90.7 33.1L92.6 33.1L94.3 33.2L96 33.2L98.1 33.3L100.3 33.2L102.7 33.2L105.1 33.2L107.5 33.2L110 33.2L112.6 33.3L115.5 33.4L118.7 33.7L121.9 33.9L125 34.2L127.5 34.4L129.4 34.6M-0.3 59.6L1.5 59.4L4.1 59L7.2 58.6L10.4 58.2L13.6 57.7L16.5 57.4L19 57.1L21.3 56.9L23.6 56.6L25.9 56.5L28.3 56.3L31 56.3L34 56.3L37.2 56.4L40.6 56.6L44 56.8L47.2 57.1L50 57.4L52.3 58L54.3 58.7L56 59.6L57.8 60.3L59.8 60.8L62.3 60.8L65.3 60.2L68.7 59.1L72.3 57.8L76.1 56.4L79.8 55.1L83.5 54.1L87.2 53.3L90.9 52.6L94.6 52L98.3 51.5L102.1 51.3L105.9 51.2L110 51.3L114.5 51.8L119 52.4L123.3 53.1L126.8 53.7L129.4 54.1M-0.3 73.1L1.5 72.8L3.9 72.4L6.8 72L10 71.6L13.3 71.2L16.5 70.8L19.7 70.6L23.1 70.3L26.6 70.1L30.1 69.9L33.5 69.8L36.6 69.7L39.4 69.8L42.1 69.9L44.6 70.1L47 70.3L49.6 70.6L52.2 70.8L55.1 71.2L58 71.7L61 72.3L64.1 72.8L67.1 73.1L70.1 73.1L73.1 72.7L76.1 72L79.1 71.1L82.1 70.2L85 69.3L88 68.6L90.9 68.1L93.8 67.6L96.6 67.1L99.5 66.8L102.6 66.5L105.9 66.4L109.8 66.4L114.2 66.5L118.8 66.8L123.1 67.1L126.8 67.3L129.4 67.5M-0.3 80.9L2.7 80.8L6.7 80.7L11.6 80.5L16.9 80.4L22.3 80.3L27.6 80.2L33.1 80.2L38.9 80.2L45 80.3L50.9 80.3L56.4 80.4L61.2 80.4L65.2 80.5L68.8 80.7L71.9 80.8L74.7 80.9L77.5 81L80.2 80.9L82.8 80.7L85.3 80.3L87.6 79.9L89.9 79.5L92.2 79L94.7 78.7L97.4 78.3L100.1 78.1L102.9 77.8L105.7 77.5L108.6 77.3L111.5 77.1L114.6 76.9L118 76.8L121.5 76.7L124.7 76.6L127.4 76.5L129.4 76.4M-0.3 89.8L1.5 90.2L4 90.6L7 91.1L10.2 91.7L13.4 92.4L16.5 93.2L19.4 94.2L22.4 95.6L25.5 97L28.5 98.3L31.5 99.2L34.4 99.5L37.1 99L39.7 97.8L42.3 96.3L44.9 94.7L47.4 93.2L50 92.1L52.6 91.3L55.1 90.7L57.7 90.2L60.3 89.9L62.9 89.8L65.7 89.8L68.7 90.2L72 90.7L75.3 91.5L78.5 92.4L81.3 93.4L83.5 94.3L85.2 95.3L86.4 96.4L87.2 97.6L87.7 98.8L87.9 99.9L88 101L87.9 102L87.7 103L87.2 104L86.4 104.9L85.2 105.8L83.5 106.6L81.3 107.5L78.5 108.4L75.3 109.3L72 110L68.7 110.7L65.7 111.1L62.9 111.3L60.3 111.3L57.7 111.1L55.1 110.9L52.6 110.5L50 110L47.4 109.1L44.9 108L42.3 106.7L39.7 105.5L37.1 104.6L34.4 104.4L31.5 104.8L28.5 105.8L25.5 107.1L22.4 108.6L19.4 109.9L16.5 111.1L13.4 112L10.2 112.9L7 113.7L4 114.5L1.5 115.1L-0.3 115.6M129.4 85.4L126.7 86.2L122.8 87.4L118.2 88.8L113.5 90.3L109.3 91.8L105.9 93.2L103.4 94.5L101.2 95.8L99.4 97.1L98.1 98.4L97.2 99.7L97 101L97.2 102.3L98.1 103.6L99.4 104.9L101.2 106.2L103.4 107.5L105.9 108.8L109.3 110.4L113.5 112.1L118.2 113.8L122.8 115.4L126.7 116.8L129.4 117.8M66.1 101.7L66.1 101.9L66.1 102.1L66 102.3L65.9 102.5L65.8 102.6L65.7 102.8L65.6 103L65.5 103.1L65.3 103.3L65.1 103.4L65 103.5L64.8 103.6L64.6 103.7L64.3 103.8L64.1 103.8L63.9 103.9L63.6 103.9L63.4 103.9L63.2 103.9L63 103.9L62.7 103.8L62.5 103.8L62.3 103.7L62.1 103.6L61.9 103.5L61.7 103.4L61.5 103.3L61.4 103.1L61.2 103L61.1 102.8L61 102.6L60.9 102.5L60.8 102.3L60.8 102.1L60.7 101.9L60.7 101.7L60.7 101.5L60.8 101.3L60.8 101.1L60.9 100.9L61 100.7L61.1 100.6L61.2 100.4L61.4 100.3L61.5 100.1L61.7 100L61.9 99.9L62.1 99.8L62.3 99.7L62.5 99.6L62.7 99.5L63 99.5L63.2 99.5L63.4 99.5L63.6 99.5L63.9 99.5L64.1 99.5L64.3 99.6L64.6 99.7L64.8 99.8L65 99.9L65.1 100L65.3 100.1L65.5 100.3L65.6 100.4L65.7 100.6L65.8 100.7L65.9 100.9L66 101.1L66.1 101.3L66.1 101.5L66.1 101.7M-0.3 98.3L0.3 98.7L1.2 99.2L2.2 99.8L3.2 100.4L3.9 101.1L4.2 101.7L3.9 102.3L3.2 102.9L2.2 103.6L1.2 104.2L0.3 104.7L-0.3 105M129.4 96.1L128.4 96.7L126.8 97.5L125 98.5L123.3 99.6L122 100.7L121.6 101.7L122 102.7L123.3 103.8L125 104.8L126.8 105.8L128.4 106.7L129.4 107.3M-0.3 126.7L1.5 126.9L4 127.2L7 127.5L10.2 127.8L13.5 127.9L16.5 127.9L19.3 127.5L22.1 127L24.8 126.3L27.6 125.5L30.4 124.8L33.2 124L35.8 123.3L38.2 122.5L40.6 121.7L43.2 121L46.2 120.4L50 120L54.8 119.9L60.4 120L66.4 120.2L72.6 120.5L78.4 120.9L83.5 121.1L87.9 121.4L91.8 121.7L95.4 122L98.8 122.3L102.2 122.5L105.9 122.7L110 122.8L114.5 122.8L119 122.8L123.3 122.8L126.8 122.7L129.4 122.7M36.6 144.6L38 142.8L40 140.5L42.3 137.9L44.9 135.3L47.5 133L50 131.2L52.4 129.8L54.8 128.6L57.3 127.6L59.9 126.9L62.6 126.6L65.7 126.7L69.2 127.4L73.3 128.6L77.5 130.2L81.6 132L85.2 133.9L88 135.7L90 137.4L91.3 139.2L92.2 141.1L92.7 143L92.7 145L92.5 146.9L91.9 148.8L90.8 150.8L89.4 152.9L87.7 154.8L85.7 156.6L83.5 158L81.1 159.2L78.4 160.2L75.4 160.9L72.3 161.5L69 161.9L65.7 162.1L62 162.1L58 161.9L53.8 161.5L49.8 160.9L46.2 160.1L43.3 159.2L41.2 157.8L39.7 156.1L38.5 154.2L37.7 152.3L37.1 150.5L36.6 149.1L36 148.1L35.6 147.5L35.3 147.1L35.3 146.6L35.7 145.8L36.6 144.6M129.4 133.4L127.6 134.3L124.9 135.5L121.8 136.9L119 138.4L116.8 139.9L116 141.3L116.8 142.7L119 144.2L121.8 145.7L124.9 147.1L127.6 148.2L129.4 149.1M64.8 136.8L64.8 136.9L64.7 137.1L64.7 137.2L64.7 137.3L64.6 137.5L64.5 137.6L64.4 137.7L64.3 137.8L64.2 137.9L64.1 138L64 138.1L63.9 138.2L63.7 138.2L63.6 138.3L63.4 138.3L63.3 138.3L63.1 138.4L63 138.4L62.8 138.4L62.7 138.3L62.5 138.3L62.4 138.3L62.2 138.2L62.1 138.2L62 138.1L61.8 138L61.7 137.9L61.6 137.8L61.5 137.7L61.4 137.6L61.4 137.5L61.3 137.3L61.2 137.2L61.2 137.1L61.2 136.9L61.2 136.8L61.2 136.7L61.2 136.5L61.2 136.4L61.3 136.3L61.4 136.1L61.4 136L61.5 135.9L61.6 135.8L61.7 135.7L61.8 135.6L62 135.5L62.1 135.4L62.2 135.4L62.4 135.3L62.5 135.3L62.7 135.3L62.8 135.2L63 135.2L63.1 135.2L63.3 135.3L63.4 135.3L63.6 135.3L63.7 135.4L63.9 135.4L64 135.5L64.1 135.6L64.2 135.7L64.3 135.8L64.4 135.9L64.5 136L64.6 136.1L64.7 136.3L64.7 136.4L64.7 136.5L64.8 136.7L64.8 136.8" fill="none" stroke="#3a3a5a" stroke-width="0.8" stroke-opacity="0.85" mask="url(#mp31)"/>
<text transform="translate(98.1,33.3) rotate(0)" x="0" y="4.6" text-anchor="middle" font-family="Liberation Serif" font-size="13.5" textLength="18.8" lengthAdjust="spacingAndGlyphs" fill="#000">0.2</text>
<text transform="translate(31.0,56.3) rotate(0)" x="0" y="4.6" text-anchor="middle" font-family="Liberation Serif" font-size="13.5" textLength="25.0" lengthAdjust="spacingAndGlyphs" fill="#000">0.23</text>
<text transform="translate(52.2,70.8) rotate(0)" x="0" y="4.6" text-anchor="middle" font-family="Liberation Serif" font-size="13.5" textLength="25.0" lengthAdjust="spacingAndGlyphs" fill="#000">0.26</text>
<text transform="translate(94.7,78.7) rotate(-5)" x="0" y="4.6" text-anchor="middle" font-family="Liberation Serif" font-size="13.5" textLength="25.0" lengthAdjust="spacingAndGlyphs" fill="#000">0.29</text>
<text transform="translate(33.2,124.0) rotate(-8)" x="0" y="4.6" text-anchor="middle" font-family="Liberation Serif" font-size="13.5" textLength="25.0" lengthAdjust="spacingAndGlyphs" fill="#000">0.29</text>
<text x="2.7" y="17.5" font-family="Liberation Serif" font-size="15.5" textLength="37.3" lengthAdjust="spacingAndGlyphs" fill="#000">(B10)</text>
</g>
<clipPath id="cp32"><rect x="0" y="0" width="129.8" height="169.2"/></clipPath>
<g transform="translate(377.7,591.2)" clip-path="url(#cp32)">
<rect x="-2" y="-2" width="133.8" height="173.2" fill="#dbdbfb"/>
<path d="M-3 -0.3L43.8 -3L72.4 -3L98 -0.1L133 -0.4L133 173L-3 173Z" fill="#d8d8fa" fill-rule="evenodd"/>
<path d="M27 5.6L57 3.3L65 3.5L89 6.8L97 7.3L133 4.9L133 173L-3 173L-3 5.3Z" fill="#d4d4fa" fill-rule="evenodd"/>
<path d="M-0.7 11L29 13.1L56 11L63 10.9L89 14.5L96 14.9L108 14L129 10.7L133 10.5L133 173L-3 173L-3 11.3Z" fill="#cecef9" fill-rule="evenodd"/>
<path d="M107 21.6L133 18.8L133 173L-3 173L-3 19.6L3 19.4L29 21L62 19.8L96 22.2Z" fill="#c6c6f9" fill-rule="evenodd"/>
<path d="M109.2 29L133 29.3L133 173L-3 173L-3 29.5L27 29.1L70 30.1Z" fill="#bcbcf8" fill-rule="evenodd"/>
<path d="M17.6 37L33 37.2L56 40.9L63 41.3L70 40.6L84 37.4L90 36.6L99 36.8L112 36.1L133 38.3L133 173L-3 173L-3 38.3L2 38.3Z" fill="#b1b1f8" fill-rule="evenodd"/>
<path d="M92 43.7L113 42.8L133 44.7L133 173L-3 173L-3 45L3 45L20 43.5L29 43.8L39 45.9L56 51.8L61 52.6L65 51.8L78 47L86 44.7Z" fill="#a7a7f8" fill-rule="evenodd"/>
<path d="M17.5 49L25 49L33 50.2L42 52.6L57 58L60 58.5L65 57.7L84 51.5L98 49L111 48.4L133 50.2L133 173L-3 173L-3 50.5L2 50.5Z" fill="#9b9bf8" fill-rule="evenodd"/>
<path d="M1 55.2L22 53.4L30 54.1L40 56.3L57 61.6L60 62L67 61L85 56.2L101 53.8L112 53.5L133 55.2L133 173L-3 173L-3 55Z" fill="#9090f8" fill-rule="evenodd"/>
<path d="M-3 58.8L22 57.3L30 57.8L39 59.5L56 63.8L61 64.4L68 63.9L86 60.3L102 58.2L112 58.1L133 59.7L133 139L131.2 138L130 138.4L129 139.4L128.6 141L129 142L130.3 143L132 143.2L133 142.5L133 173L-3 173ZM60 140.7L56.4 143L54.2 146L53.9 150L55.4 153L59 155.6L63 156.6L67.9 156L71.6 154L73.4 152L74.5 149L74.2 147L73 144.8L70 142.2L67 140.7L63 140Z" fill="#8787f8" fill-rule="evenodd"/>
<path d="M18.4 61L32 61.3L54 65.6L63 66.5L71 66.1L92 63.2L103 62.2L112 62.3L133 63.8L133 132.6L130 132.4L126.6 134L111.9 142L109.3 144L108.8 145L109.2 147L110.8 149L117 153.1L125 155.3L133 155.3L133 173L-3 173L-3 152.1L0 151.4L2.8 150L4.8 148L5.6 146L4.9 143L2 140L-0.1 139L-3 139.2L-3 62.1ZM60 137L56 138.3L51.2 141L47.5 144L45.7 147L45.8 151L47.8 155L51 158.6L55 161.3L59 162.8L64 163.4L69 163L73 161.9L77 159.8L80.5 157L83.9 153L86.2 149L86.9 147L86.6 145L84.7 143L80.9 141L68.6 137L64 136.5Z" fill="#7e7ef8" fill-rule="evenodd"/>
<path d="M-3 65.1L30 64.2L53 67.5L66 68.6L106 65.9L133 67.4L133 130.5L130 130.3L118 134.3L110 135.6L85 135.3L68 133.4L61 133.6L55.4 135L33 143.3L28 144.5L23 143.5L1 133.5L-3 133.8ZM22 147.6L27 145.4L29 145.5L33 147.7L36 150.6L42.4 159L46.1 163L51 166.5L57 168.8L67 169.7L76 168.2L83 165L93.5 157L97 155.8L100 156.3L110 160.1L116 161.8L123 162.7L133 162.7L133 173L-3 173L-3 162.3L4 160L9 157.5Z" fill="#7575f7" fill-rule="evenodd"/>
<path d="M-3 68L28 67.1L69 70.6L89 70.5L109 69.4L133 70.6L133 129L130 129L119 131.2L112 131.9L64 130.1L58 131L41 135.4L30 136.5L19 135.7L2 131.2L-3 130.9ZM26.9 156L29 155.9L31 157L41 168L48.4 173L-3 173L-3 171.2L11 165.6L24 157.3ZM97 169L103 168.7L119 170L133 169.7L133 173L85.9 173Z" fill="#6c6cf7" fill-rule="evenodd"/>
<path d="M-3 128.7L-3 70.5L29 70.1L89 73.9L111 72.6L133 73.5L133 127.6L113 128.8L79 126.6L67 126.5L60 127.3L43 131.2L30 132.3L19 131.7L2 129ZM23.8 172L27 172L30.4 173L19.7 173Z" fill="#6565f7" fill-rule="evenodd"/>
<path d="M-3 73.1L58 73.9L92 77.5L112 75.7L133 76.3L133 126.2L130 126.7L121 126.1L73 122.6L61 123.4L48 126.7L34 128.4L24 128.4L-3 126.5Z" fill="#6060f7" fill-rule="evenodd"/>
<path d="M-3 76L2 75.7L60 76.8L67 77.5L85 80.5L93 81.2L99 80.9L113 78.9L133 79L133 124.1L130 124.6L116 122.1L97 120.9L80 119L70 118.7L61 119.4L47 122.9L35 124.4L-3 124.3Z" fill="#5b5bf8" fill-rule="evenodd"/>
<path d="M-3 122.2L-3 78.3L1 78.3L56 80.5L93 85.2L99 84.8L114 82L133 81.5L133 120.8L116 118L83 115.3L69 114.8L61 115.4L45 118.8L35 120.3Z" fill="#5656f8" fill-rule="evenodd"/>
<path d="M-3 81L2 81L46 84.7L92 90L99 89.3L115 85.2L133 84L133 117.6L130 116.6L95 111.4L84 110.6L51 113.3L30 116.6L-3 120.1Z" fill="#5151f8" fill-rule="evenodd"/>
<path d="M-3 84L-1 83.5L4 83.8L44 90.1L61 90.6L68 91.4L73.9 93L78.9 95L83.7 98L85 100L83.9 102L79.2 105L74.6 107L67.9 109L60 109.9L43 109.2L4 117.6L-3 118ZM115 88.8L133 86.4L133 115.5L114 111.4L106.1 109L98.3 105L95.6 103L94.1 101L94.7 99L97.1 97L108.1 91Z" fill="#4c4ef6" fill-rule="evenodd"/>
<path d="M-3 115.7L-3 86.6L-1 86.2L3 86.4L27.3 93L31.6 95L34.5 97L35.9 99L35.8 101L31.9 105L24 109.2L2.2 116ZM117 92.2L133 88.8L133 113.7L114 108.5L109.3 106L106.7 103L106.2 101L106.5 99L107.9 97L111 94.6ZM57.4 95L64 94.7L69 96.2L72.2 99L72.6 101L71.9 103L68.5 106L64 107.4L59 107.3L54 105.5L50.4 103L49.1 101L49.1 100L50.3 98L51.8 97Z" fill="#474ef1" fill-rule="evenodd"/>
<path d="M-3 90.6L0 89.5L2 89.8L14.6 95L21 99.4L22 101L21.7 103L16.7 107L8.3 111L1 113.9L-2.4 113L-3 112.7ZM129.4 92L133 91.2L133 112L130 111.5L117.9 107L114 104.3L112.7 102L113.9 99L116.4 97ZM59.1 99L62 98.1L65 98.7L67.2 101L67 103L66 104.1L64 105.1L60 104.8L58.6 104L57.5 102L58 100Z" fill="#424dec" fill-rule="evenodd"/>
<path d="M127 95.6L133 93.8L133 110L130 109.5L124.3 107L120.5 104L119.8 102L120.5 100L122.6 98ZM-3 96.2L2 95.5L7 97.3L9.7 100L10.2 102L9.6 104L7.7 106L4 107.8L0 108.3L-3 107.3Z" fill="#3e4de5" fill-rule="evenodd"/>
<path d="M128 98.2L133 96.7L133 107.3L130.3 107L128 106L125.3 103L125.3 101L126 99.9ZM-1.8 99L1 98.3L3.6 99L5.3 101L5 103L4 104.1L2 104.9L0 105L-2 104.3L-3 103.3L-3 100Z" fill="#394edc" fill-rule="evenodd"/>
<path d="M0 100L1.7 100L2.9 101L3.1 102L2.4 103L1 103.5L-0.6 103L-1.3 102L-1.2 101Z" fill="#364dd5" fill-rule="evenodd"/>
<mask id="mp32"><rect x="-5" y="-5" width="139.8" height="179.2" fill="#fff"/><rect x="-12.3" y="-6" width="24.6" height="12" fill="#000" transform="translate(98.6,36.8) rotate(0)"/><rect x="-16.4" y="-6" width="32.8" height="12" fill="#000" transform="translate(37.3,55.6) rotate(8)"/><rect x="-16.4" y="-6" width="32.8" height="12" fill="#000" transform="translate(68.0,68.6) rotate(0)"/><rect x="-16.4" y="-6" width="32.8" height="12" fill="#000" transform="translate(94.8,77.5) rotate(0)"/><rect x="-16.4" y="-6" width="32.8" height="12" fill="#000" transform="translate(79.8,88.7) rotate(0)"/><rect x="-16.4" y="-6" width="32.8" height="12" fill="#000" transform="translate(34.4,116.0) rotate(0)"/><rect x="-16.4" y="-6" width="32.8" height="12" fill="#000" transform="translate(61.3,123.4) rotate(0)"/><rect x="-16.4" y="-6" width="32.8" height="12" fill="#000" transform="translate(97.0,135.2) rotate(0)"/></mask>
<path d="M0.9 10.9L3.9 11.2L7.9 11.6L12.8 12.2L18.1 12.6L23.5 13L28.8 13.1L34.1 12.9L39.6 12.5L45.3 11.9L51 11.3L56.7 11L62.4 10.9L68 11.3L73.5 12.1L79.1 13.1L84.7 14L90.3 14.7L95.9 14.9L102 14.6L108.7 13.9L115.4 12.9L121.6 11.9L126.8 11L130.6 10.5M0.9 38.4L3.9 38.2L7.9 37.8L12.8 37.3L18.1 37L23.5 36.8L28.8 36.8L34.2 37.3L39.9 38.2L45.8 39.3L51.7 40.3L57.2 41L62.4 41.3L67.2 41L71.7 40.3L76.1 39.4L80.1 38.3L83.7 37.4L87 36.8L89.6 36.6L91.7 36.5L93.5 36.6L95 36.7L96.7 36.8L98.6 36.8L100.8 36.7L103 36.6L105.3 36.4L107.6 36.2L110.1 36.1L112.7 36.2L115.7 36.4L119 36.8L122.5 37.2L125.8 37.7L128.6 38.1L130.6 38.4M0.9 55.2L3.3 54.9L6.6 54.6L10.6 54.1L14.7 53.8L18.7 53.5L22.1 53.4L25 53.5L27.7 53.8L30.2 54.1L32.6 54.6L35 55.1L37.3 55.6L39.8 56.2L42.2 56.9L44.5 57.6L46.8 58.4L49.1 59.1L51.2 59.6L53.1 60.2L54.7 60.8L56.3 61.4L57.9 61.8L59.9 62L62.4 61.9L65.5 61.4L69 60.5L72.9 59.4L76.9 58.2L80.9 57.2L84.7 56.3L88.5 55.6L92.2 55L95.9 54.4L99.6 53.9L103.3 53.6L107.1 53.4L111.2 53.4L115.7 53.7L120.2 54.1L124.5 54.5L128 54.9L130.6 55.2M0.9 65.2L4 65.1L8.3 64.8L13.4 64.5L18.8 64.2L24.1 64.1L28.8 64.1L33.1 64.4L37.3 65L41.4 65.7L45.2 66.4L48.9 67L52.3 67.5L55.4 67.8L58.1 68.1L60.6 68.3L63 68.5L65.4 68.6L68 68.6L70.6 68.5L73.3 68.4L75.9 68.2L78.7 68L81.6 67.7L84.7 67.5L88.1 67.2L91.7 66.9L95.5 66.5L99.4 66.2L103.3 66L107.1 65.9L111.2 66L115.7 66.3L120.2 66.6L124.5 67L128 67.3L130.6 67.5M0.9 73.1L3.9 73.1L7.9 73L12.8 73L18.1 73L23.5 73L28.8 73.1L34.3 73.2L40.2 73.3L46.2 73.5L52.2 73.7L57.6 73.9L62.4 74.2L66.3 74.5L69.6 74.9L72.5 75.3L75.1 75.7L77.7 76.1L80.3 76.4L82.9 76.7L85.3 77L87.6 77.2L89.9 77.4L92.3 77.5L94.8 77.5L97.4 77.4L100.1 77.1L102.9 76.7L105.7 76.3L108.6 75.9L111.6 75.7L114.8 75.7L118.5 75.8L122.1 76L125.6 76.2L128.5 76.3L130.6 76.4M0.9 80.9L3.9 81.1L7.9 81.4L12.7 81.8L18 82.2L23.5 82.7L28.8 83.1L34.4 83.6L40.6 84.2L46.9 84.8L53.1 85.4L58.7 86L63.5 86.5L67.3 86.9L70.3 87.4L72.8 87.7L75.1 88.1L77.3 88.4L79.8 88.7L82.5 89L85.1 89.4L87.8 89.7L90.4 89.9L93.1 90L95.9 89.8L98.8 89.4L101.8 88.6L104.8 87.7L107.9 86.8L110.9 86L113.8 85.4L116.9 85L120.1 84.7L123.3 84.5L126.3 84.4L128.8 84.3L130.6 84.2M0.9 89.4L2.6 90L4.9 90.9L7.7 92L10.6 93.2L13.3 94.3L15.4 95.4L17.2 96.5L18.7 97.5L20.1 98.6L21.2 99.6L21.9 100.7L22.1 101.7L21.9 102.7L21.2 103.7L20.1 104.7L18.7 105.7L17.2 106.7L15.4 107.7L13.3 108.8L10.6 110L7.7 111.2L4.9 112.4L2.6 113.3L0.9 114M5.4 101.7L5.3 102L5.3 102.3L5.2 102.6L5.1 102.8L4.9 103.1L4.8 103.4L4.6 103.6L4.3 103.8L4 104.1L3.8 104.3L3.4 104.4L3.1 104.6L2.8 104.7L2.4 104.8L2 104.9L1.7 105L1.3 105L0.9 105L0.5 105L0.1 105L-0.3 104.9L-0.6 104.8L-1 104.7L-1.3 104.6L-1.7 104.4L-2 104.3L-2.3 104.1L-2.5 103.8L-2.8 103.6L-3 103.4L-3.2 103.1L-3.3 102.8L-3.4 102.6L-3.5 102.3L-3.6 102L-3.6 101.7L-3.6 101.4L-3.5 101.1L-3.4 100.8L-3.3 100.5L-3.2 100.3L-3 100L-2.8 99.8L-2.5 99.5L-2.3 99.3L-2 99.1L-1.7 98.9L-1.3 98.8L-1 98.7L-0.6 98.5L-0.3 98.5L0.1 98.4L0.5 98.3L0.9 98.3L1.3 98.3L1.7 98.4L2 98.5L2.4 98.5L2.8 98.7L3.1 98.8L3.4 98.9L3.8 99.1L4 99.3L4.3 99.5L4.6 99.8L4.8 100L4.9 100.3L5.1 100.5L5.2 100.8L5.3 101.1L5.3 101.4L5.4 101.7M67.3 101.7L67.3 102L67.2 102.3L67.1 102.6L67 102.9L66.8 103.2L66.6 103.5L66.4 103.7L66.2 104L65.9 104.2L65.5 104.4L65.2 104.6L64.8 104.8L64.5 104.9L64.1 105L63.7 105.1L63.2 105.2L62.8 105.3L62.4 105.3L62 105.3L61.5 105.2L61.1 105.1L60.7 105L60.3 104.9L59.9 104.8L59.6 104.6L59.2 104.4L58.9 104.2L58.6 104L58.4 103.7L58.1 103.5L57.9 103.2L57.8 102.9L57.6 102.6L57.5 102.3L57.5 102L57.5 101.7L57.5 101.4L57.5 101.1L57.6 100.8L57.8 100.5L57.9 100.2L58.1 99.9L58.4 99.6L58.6 99.4L58.9 99.2L59.2 98.9L59.6 98.8L59.9 98.6L60.3 98.4L60.7 98.3L61.1 98.2L61.5 98.2L62 98.1L62.4 98.1L62.8 98.1L63.2 98.2L63.7 98.2L64.1 98.3L64.5 98.4L64.8 98.6L65.2 98.8L65.5 98.9L65.9 99.2L66.2 99.4L66.4 99.6L66.6 99.9L66.8 100.2L67 100.5L67.1 100.8L67.2 101.1L67.3 101.4L67.3 101.7M130.6 91.6L129 92.2L126.8 92.9L124.2 93.8L121.5 94.7L119 95.7L117.2 96.5L115.8 97.4L114.7 98.3L113.8 99.1L113.2 100L112.8 100.8L112.7 101.7L112.8 102.5L113.2 103.3L113.8 104.1L114.7 105L115.8 105.8L117.2 106.6L119 107.5L121.5 108.5L124.2 109.5L126.8 110.4L129 111.2L130.6 111.7M0.9 120L3 119.8L6 119.4L9.5 119L13.2 118.6L16.8 118.2L19.9 117.8L22.6 117.5L25 117.2L27.3 116.9L29.6 116.6L31.9 116.3L34.4 116L36.9 115.6L39.2 115.2L41.6 114.7L44.3 114.2L47.4 113.8L51.2 113.3L56 112.8L61.6 112.2L67.6 111.6L73.8 111.1L79.6 110.8L84.7 110.6L89.1 110.8L93 111.1L96.6 111.6L100 112.2L103.4 112.8L107.1 113.3L111.2 113.9L115.7 114.5L120.2 115.2L124.5 115.8L128 116.3L130.6 116.7M0.9 126.7L4 127L8.5 127.3L13.7 127.7L19.2 128.1L24.4 128.4L28.8 128.5L32.6 128.4L36 128.2L39.3 127.9L42.3 127.6L45.1 127.2L47.8 126.7L50.4 126.2L52.6 125.6L54.7 125L56.8 124.4L58.9 123.8L61.3 123.4L63.9 123.1L66.6 122.9L69.4 122.7L72.2 122.6L75.1 122.6L78 122.7L80.8 122.9L83.3 123.1L85.9 123.4L88.7 123.8L92 124.1L95.9 124.5L101.1 124.9L107.5 125.3L114.4 125.7L121 126.1L126.6 126.5L130.6 126.7M0.9 133.4L2.8 134.3L5.4 135.7L8.6 137.2L11.9 138.7L15 140.2L17.7 141.3L19.8 142.1L21.6 142.9L23.3 143.5L25 144L26.8 144.2L28.8 144.2L31.2 143.8L33.6 143.1L36.2 142.1L38.9 141.1L41.7 140L44.5 139L47.3 138L50.2 136.9L53.1 135.8L56.1 134.8L59.2 134L62.4 133.4L65.8 133.3L69.5 133.6L73.3 134L77 134.5L80.5 134.9L83.6 135.2L86.3 135.3L88.6 135.4L90.6 135.3L92.6 135.3L94.7 135.3L97 135.2L99.6 135.3L102.4 135.4L105.2 135.6L108.1 135.6L111 135.5L113.8 135.2L116.8 134.6L120 133.7L123.2 132.7L126.2 131.6L128.8 130.7L130.6 130.1" fill="none" stroke="#3a3a5a" stroke-width="0.8" stroke-opacity="0.85" mask="url(#mp32)"/>
<text transform="translate(98.6,36.8) rotate(0)" x="0" y="4.6" text-anchor="middle" font-family="Liberation Serif" font-size="13.5" textLength="18.8" lengthAdjust="spacingAndGlyphs" fill="#000">0.2</text>
<text transform="translate(37.3,55.6) rotate(8)" x="0" y="4.6" text-anchor="middle" font-family="Liberation Serif" font-size="13.5" textLength="25.0" lengthAdjust="spacingAndGlyphs" fill="#000">0.23</text>
<text transform="translate(68.0,68.6) rotate(0)" x="0" y="4.6" text-anchor="middle" font-family="Liberation Serif" font-size="13.5" textLength="25.0" lengthAdjust="spacingAndGlyphs" fill="#000">0.26</text>
<text transform="translate(94.8,77.5) rotate(0)" x="0" y="4.6" text-anchor="middle" font-family="Liberation Serif" font-size="13.5" textLength="25.0" lengthAdjust="spacingAndGlyphs" fill="#000">0.29</text>
<text transform="translate(79.8,88.7) rotate(0)" x="0" y="4.6" text-anchor="middle" font-family="Liberation Serif" font-size="13.5" textLength="25.0" lengthAdjust="spacingAndGlyphs" fill="#000">0.32</text>
<text transform="translate(34.4,116.0) rotate(0)" x="0" y="4.6" text-anchor="middle" font-family="Liberation Serif" font-size="13.5" textLength="25.0" lengthAdjust="spacingAndGlyphs" fill="#000">0.32</text>
<text transform="translate(61.3,123.4) rotate(0)" x="0" y="4.6" text-anchor="middle" font-family="Liberation Serif" font-size="13.5" textLength="25.0" lengthAdjust="spacingAndGlyphs" fill="#000">0.29</text>
<text transform="translate(97.0,135.2) rotate(0)" x="0" y="4.6" text-anchor="middle" font-family="Liberation Serif" font-size="13.5" textLength="25.0" lengthAdjust="spacingAndGlyphs" fill="#000">0.26</text>
<text x="8.0" y="18.4" font-family="Liberation Serif" font-size="15.5" textLength="37.3" lengthAdjust="spacingAndGlyphs" fill="#000">(B50)</text>
</g>
<clipPath id="cp33"><rect x="0" y="0" width="130.9" height="169.2"/></clipPath>
<g transform="translate(517.4,591.2)" clip-path="url(#cp33)">
<rect x="-2" y="-2" width="134.9" height="173.2" fill="#e7e7fc"/>
<path d="M-3 -3L134 -3L134 173L-3 173Z" fill="#e0e0fb" fill-rule="evenodd"/>
<path d="M4 -0.4L26.5 -3L134 -3L134 173L-3 173L-3 -0.7Z" fill="#dbdbfb" fill-rule="evenodd"/>
<path d="M28 0.4L44.1 -3L71.6 -3L92 -1.6L134 0L134 173L-3 173L-3 1.4L4 1.8L19 1.5Z" fill="#d8d8fa" fill-rule="evenodd"/>
<path d="M51.6 0L58 -0.2L88 4.2L134 8.4L134 173L-3 173L-3 3.3L14 4.6L24 4.5L33 3.5Z" fill="#d4d4fa" fill-rule="evenodd"/>
<path d="M36 7.4L56 4.4L62 4.9L92 11.5L134 16.2L134 173L-3 173L-3 5.2L16 7.7L25 8.2Z" fill="#cecef9" fill-rule="evenodd"/>
<path d="M-3 173L-3 7.1L1 7.4L17 11.2L29 12.5L40 12.1L57 9.7L63 9.8L69 11.3L82 16.8L89 18.6L99 20.1L134 23.6L134 173Z" fill="#c6c6f9" fill-rule="evenodd"/>
<path d="M-3 173L-3 9.1L1 9.4L18 15.3L33 17.8L60 19.3L61.8 17L63 16.8L64 17.1L65 18.9L64.1 21L72 24.8L79 26.5L96 27.9L114 28.5L134 30.8L134 173Z" fill="#bcbcf8" fill-rule="evenodd"/>
<path d="M-3 173L-3 11.5L-2 11.4L1 11.9L17 19.4L37 25.3L48 29.7L54 34L61.3 44L64 46.2L66.4 46L71 41.8L74 40.2L83 37.2L90 35.8L112 35L134 37.7L134 173Z" fill="#b1b1f8" fill-rule="evenodd"/>
<path d="M-3 15L-1 15L1 15.8L15 23.7L36 33.3L45 38.7L57.7 48L63 50.2L66 50.6L69.8 50L86 43.8L97 41.9L113 41.4L134 44.1L134 173L-3 173Z" fill="#a7a7f8" fill-rule="evenodd"/>
<path d="M-3 173L-3 20.1L-2 20.3L2 21.9L17 31.4L45.8 47L54.9 51L62 53.2L67 53.8L72 53.5L90 48.5L102 47.1L114 47.3L134 50.1L134 173Z" fill="#9b9bf8" fill-rule="evenodd"/>
<path d="M-3 29L-2 28.9L1 30.2L16.8 40L31.3 47L44.6 52L58 55.3L67 56.8L73 56.9L78 56.3L93 52.8L104 52.1L116 52.7L130 55.3L134 55.5L134 173L-3 173ZM132.2 142L130.3 142L130.6 143L131.7 143Z" fill="#9090f8" fill-rule="evenodd"/>
<path d="M-3 135L-3 44.2L44 56.3L68 59.8L76.4 60L93 57.2L102 56.8L116 57.5L130 60.1L134 60.1L134 134.9L130 135.5L126 138L123.4 141L122.7 144L123.4 146L126 148.2L129 149.2L134 149.8L134 173L-3 173L-3 149.5L2 149.1L6 148L8.8 146L9.9 143L8.6 140L6.3 138L1 135.5ZM61 135.7L57.6 138L55.6 141L55.1 144L56 146.3L59 148.4L63 149.2L67 148.7L70 147.2L71 146L71.7 144L71.4 142L69.9 139L66 135.9L63 135.3Z" fill="#8787f8" fill-rule="evenodd"/>
<path d="M2 59.3L18 57.5L26 57.8L51 61.2L72 63L103 61.2L114 61.7L129 63.8L134 63.9L134 131L130 131.2L117.9 138L114.7 141L113.4 145L114.2 149L117 151.3L123 153.4L134 154.9L134 173L-3 173L-3 154.7L15.3 153L21 151.2L22.5 149L22.2 146L21 143L17 138L8.6 134L0 131.2L-3 131L-3 59ZM60 131.8L54 135L47.5 141L42.8 148L42.4 150L43 151.6L45 152.7L49 153.5L64 154L76 153.1L79 152.2L81 151L81.7 149L80.6 145L78 141L74.3 137L70 133.7L66 131.7L63 131.2Z" fill="#7e7ef8" fill-rule="evenodd"/>
<path d="M18.1 63L34 62.7L54 65.1L75 65.9L108 65.3L128 67.2L134 67.2L134 128.2L130 128.2L127 128.8L112.8 133L101 137.7L95 138.6L91 138.2L86 136.8L70.8 130L65 128.3L58 128.9L41 134.3L32 135.3L25 134.4L1 128L-3 127.9L-3 66.4L2 66.3ZM31.1 156L34 156.3L39 159.2L43 160.8L50 161.7L64 160.9L81 161.5L87.3 160L96 156.2L100 155.9L114 159.8L128 160.8L134 161.8L134 173L-3 173L-3 161.6L3 160.7L14 160.9L19 160.4L24 159.1Z" fill="#7575f7" fill-rule="evenodd"/>
<path d="M20.2 67L37 66.4L55 68.7L106 68.8L129 70.3L134 70.2L134 125.7L129 125.7L117.9 127L101 130.6L94 131.4L86 130.6L69 126.3L65 125.7L59 125.9L40 129.3L30 130.1L21 129.3L1 125.5L-3 125.5L-3 70.9L1 70.9L12 68.2ZM-1 169.9L32 167.5L48 169.7L64 169.7L79 170.4L101 168.7L125 169.3L134 170.3L134 173L-3 173L-3 170.3Z" fill="#6c6cf7" fill-rule="evenodd"/>
<path d="M26.8 70L41 69.8L55 72L69 71.3L134 72.9L134 123.5L116 124L93 126.7L65 123.3L28 126.7L17 125.9L1 123.5L-3 123.6L-3 74L0 74.2L14 71.2Z" fill="#6565f7" fill-rule="evenodd"/>
<path d="M29.8 73L41 73L55 74.8L70 74.3L134 75.3L134 121.4L117 121.4L92 122.9L63 121.2L26 124L-3 121.9L-3 76.3L1 76.2L17 73.8Z" fill="#6060f7" fill-rule="evenodd"/>
<path d="M17 76.6L41 76.1L56 77.5L134 77.7L134 119.4L65 119L22 121.7L-3 120.4L-3 78.4Z" fill="#5b5bf8" fill-rule="evenodd"/>
<path d="M-3 80.4L33 79.1L56 80.2L79 80.5L96 80.1L114 80.7L134 80.1L134 117.4L95 115.9L63 117.1L20 119.5L-3 118.9Z" fill="#5656f8" fill-rule="evenodd"/>
<path d="M-3 117.3L-3 82.4L1 82L79 83.8L96 83.1L111 83.8L130 82.5L134 82.7L134 115.4L120 114.8L95 112.2L62 115.1L34 116L14 117.5L1 117.8Z" fill="#5151f8" fill-rule="evenodd"/>
<path d="M-3 85L2 84.3L37 86.7L62 85.9L83 87.8L96 87.2L110 87.5L129 85.4L134 85.5L134 113.2L129 113.3L119 112.3L102 108.4L94 107.7L87 108.5L73 111.9L65 113L35 112.7L3.5 116L-2 115.8L-3 115.6Z" fill="#4c4ef6" fill-rule="evenodd"/>
<path d="M-0.6 87L3 87.1L27 91.3L37 92.2L44 91.8L58 89L66 89.1L73 90.7L88.4 96L90.6 97L90.8 98L76.8 107L72 109.2L67 110.6L59 111L44 108.3L36 108L29 108.7L13.8 112L0 114.2L-3 113.4L-3 87.6ZM127.7 89L134 88.8L134 110.7L129 110.9L117.6 109L97 98L96.8 97L101.8 95L118 90.5Z" fill="#474ef1" fill-rule="evenodd"/>
<path d="M-3 91.6L1 90.5L13.8 95L17.3 97L19.5 99L20.3 101L20.1 102L17.4 105L11.5 108L1 111.5L-1.8 111L-3 110.2ZM57 93L60 92.3L64 92.2L67 92.8L70 94.1L72.3 96L73.8 99L73.8 102L72.8 104L69.3 107L64 108.5L58 108L53.9 106L51.3 103L50.7 101L50.9 99L53 95.5ZM122 94.5L131 92.4L134 92.5L134 107.8L130 108.2L124.2 107L120.8 106L118.7 104L118.5 98L119.2 96Z" fill="#424dec" fill-rule="evenodd"/>
<path d="M-3 97L-1 96.1L1 96L5 97.5L7 100L6.7 103L4.6 105L2 106L0 106.2L-3 105.3ZM59.7 97L63 96.3L66 97.4L67.7 100L67.1 103L65 104.6L63 105L61 104.8L59 103.8L57.7 102L57.5 100L58.5 98ZM128.6 97L132 96.7L134 97.4L134 103.3L132 104.3L130 104.4L128 103.9L126 102.4L125.4 101L125.9 99Z" fill="#3e4de5" fill-rule="evenodd"/>
<path d="M-2 99L0 98.3L2 98.7L3.3 100L3.3 102L1 103.7L-2 103.1L-3 101.7L-2.9 100Z" fill="#394edc" fill-rule="evenodd"/>
<path d="M-1 100L0 99.6L1.3 100L1.9 101L1.4 102L0 102.4L-1.1 102L-1.5 101Z" fill="#364dd5" fill-rule="evenodd"/>
<mask id="mp33"><rect x="-5" y="-5" width="140.9" height="179.2" fill="#fff"/><rect x="-12.3" y="-6" width="24.6" height="12" fill="#000" transform="translate(99.3,35.5) rotate(0)"/><rect x="-16.4" y="-6" width="32.8" height="12" fill="#000" transform="translate(59.0,58.5) rotate(5)"/><rect x="-16.4" y="-6" width="32.8" height="12" fill="#000" transform="translate(68.4,71.3) rotate(0)"/><rect x="-16.4" y="-6" width="32.8" height="12" fill="#000" transform="translate(95.7,83.1) rotate(0)"/><rect x="-16.4" y="-6" width="32.8" height="12" fill="#000" transform="translate(33.7,116.0) rotate(0)"/><rect x="-16.4" y="-6" width="32.8" height="12" fill="#000" transform="translate(76.9,124.9) rotate(5)"/></mask>
<path d="M57.2 -0.3L60.2 0.2L64.3 0.8L69.2 1.6L74.4 2.4L79.5 3.1L84 3.7L88 4.2L91.8 4.6L95.4 5L99 5.3L102.7 5.6L106.4 6L110.5 6.4L115 6.8L119.5 7.2L123.8 7.6L127.3 8L129.9 8.2M0.2 11.6L2 12.4L4.3 13.6L7.2 15.1L10.3 16.6L13.6 18.1L17 19.4L20.5 20.6L24.3 21.7L28.4 22.8L32.3 23.9L36 25L39.3 26.1L42.1 27.1L44.5 28.1L46.7 29L48.8 30.1L50.7 31.3L52.7 32.8L54.8 34.9L56.7 37.5L58.6 40.3L60.4 42.9L62.2 45L63.9 46.2L65.5 46.4L66.9 45.7L68.2 44.6L69.6 43.1L71.1 41.7L72.9 40.6L75 39.8L77.4 38.9L80 38.1L82.5 37.3L85.1 36.7L87.4 36.2L89.5 35.8L91.5 35.7L93.4 35.6L95.3 35.6L97.2 35.6L99.3 35.5L101.4 35.4L103.6 35.2L105.9 35.1L108.2 35L110.6 35L113.1 35.1L115.9 35.3L119.1 35.7L122.4 36.1L125.4 36.6L128 37L129.9 37.3M65 19L65 19.1L65 19.3L65 19.5L64.9 19.7L64.8 19.9L64.7 20.1L64.6 20.2L64.5 20.4L64.4 20.5L64.2 20.7L64.1 20.8L63.9 20.9L63.8 21L63.6 21L63.4 21.1L63.2 21.2L63 21.2L62.8 21.2L62.6 21.2L62.4 21.2L62.2 21.1L62 21L61.9 21L61.7 20.9L61.5 20.8L61.4 20.7L61.2 20.5L61.1 20.4L61 20.2L60.9 20.1L60.8 19.9L60.7 19.7L60.6 19.5L60.6 19.3L60.6 19.1L60.6 19L60.6 18.8L60.6 18.6L60.6 18.4L60.7 18.2L60.8 18L60.9 17.8L61 17.7L61.1 17.5L61.2 17.4L61.4 17.2L61.5 17.1L61.7 17L61.9 16.9L62 16.9L62.2 16.8L62.4 16.8L62.6 16.7L62.8 16.7L63 16.7L63.2 16.8L63.4 16.8L63.6 16.9L63.8 16.9L63.9 17L64.1 17.1L64.2 17.2L64.4 17.4L64.5 17.5L64.6 17.7L64.7 17.8L64.8 18L64.9 18.2L65 18.4L65 18.6L65 18.8L65 19M0.2 45.1L1.9 45.6L4.2 46.2L6.9 46.9L10 47.8L13.4 48.7L17 49.6L21 50.6L25.6 51.8L30.5 53.1L35.3 54.3L39.9 55.4L43.8 56.3L47 56.9L49.7 57.4L52.1 57.7L54.3 58L56.5 58.2L59 58.5L61.6 58.9L64.2 59.3L66.7 59.6L69.4 59.9L72.2 60.1L75.1 60.1L78.2 59.8L81.5 59.3L84.9 58.6L88.4 57.9L91.8 57.3L95.2 57L98.6 56.8L102.1 56.8L105.6 56.8L109.1 57L112.3 57.2L115.4 57.4L118.3 57.8L121.1 58.2L123.9 58.8L126.3 59.3L128.4 59.8L129.9 60.1M0.2 74.2L2 73.8L4.3 73.2L7.2 72.6L10.3 71.9L13.6 71.3L17 70.8L20.5 70.5L24.3 70.2L28.3 69.9L32.2 69.8L36 69.7L39.3 69.7L42.2 69.9L44.7 70.3L47.1 70.8L49.3 71.3L51.5 71.7L53.9 71.9L56.3 72L58.6 71.9L61 71.7L63.4 71.5L65.8 71.3L68.4 71.3L71 71.3L73.7 71.4L76.4 71.6L79.2 71.7L82.1 71.9L85.2 71.9L88.4 72L91.8 72L95.4 71.9L99 71.9L102.7 71.9L106.4 71.9L110.5 72.1L114.9 72.3L119.5 72.5L123.7 72.7L127.3 72.9L129.9 73.1M0.2 82L3.2 82.1L7.2 82.1L12.1 82.2L17.4 82.3L22.8 82.4L28.1 82.5L33.6 82.6L39.4 82.7L45.5 82.8L51.4 82.9L56.9 83L61.7 83.1L65.7 83.3L69.2 83.4L72.3 83.5L75.2 83.7L77.9 83.8L80.7 83.8L83.4 83.7L85.9 83.6L88.3 83.5L90.7 83.3L93.1 83.2L95.7 83.1L98.3 83.2L101 83.3L103.7 83.5L106.4 83.7L109.2 83.8L112 83.8L115.1 83.7L118.5 83.5L122 83.2L125.2 82.9L127.9 82.6L129.9 82.5M0.2 90.3L1.9 90.8L4.3 91.6L7.1 92.5L10 93.5L12.7 94.5L14.7 95.4L16.3 96.3L17.7 97.3L18.8 98.2L19.6 99.1L20.1 100.1L20.3 101L20.1 102L19.6 102.9L18.8 103.8L17.7 104.8L16.3 105.7L14.7 106.6L12.7 107.5L10 108.5L7.1 109.5L4.3 110.4L1.9 111.2L0.2 111.7M3.5 101L3.5 101.2L3.5 101.5L3.4 101.7L3.3 101.9L3.2 102.2L3.1 102.4L2.9 102.5L2.8 102.7L2.6 102.9L2.3 103.1L2.1 103.2L1.9 103.3L1.6 103.4L1.3 103.5L1.1 103.6L0.8 103.7L0.5 103.7L0.2 103.7L-0.1 103.7L-0.4 103.7L-0.7 103.6L-1 103.5L-1.2 103.4L-1.5 103.3L-1.7 103.2L-2 103.1L-2.2 102.9L-2.4 102.7L-2.6 102.5L-2.7 102.4L-2.8 102.2L-3 101.9L-3 101.7L-3.1 101.5L-3.1 101.2L-3.2 101L-3.1 100.8L-3.1 100.6L-3 100.3L-3 100.1L-2.8 99.9L-2.7 99.7L-2.6 99.5L-2.4 99.3L-2.2 99.1L-2 99L-1.7 98.8L-1.5 98.7L-1.2 98.6L-1 98.5L-0.7 98.4L-0.4 98.4L-0.1 98.3L0.2 98.3L0.5 98.3L0.8 98.4L1.1 98.4L1.3 98.5L1.6 98.6L1.9 98.7L2.1 98.8L2.3 99L2.6 99.1L2.8 99.3L2.9 99.5L3.1 99.7L3.2 99.9L3.3 100.1L3.4 100.3L3.5 100.6L3.5 100.8L3.5 101M74 100.3L74 100.7L73.9 101L73.9 101.3L73.9 101.6L73.8 101.9L73.7 102.2L73.6 102.5L73.5 102.8L73.3 103.1L73.2 103.4L73 103.7L72.8 103.9L72.6 104.2L72.4 104.5L72.2 104.7L72 105L71.7 105.3L71.4 105.5L71.2 105.7L70.9 106L70.6 106.2L70.3 106.4L69.9 106.6L69.6 106.8L69.3 107L68.9 107.2L68.5 107.4L68.2 107.5L67.8 107.7L67.4 107.8L67 107.9L66.6 108L66.2 108.2L65.8 108.3L65.4 108.3L64.9 108.4L64.5 108.5L64.1 108.5L63.7 108.6L63.2 108.6L62.8 108.6L62.4 108.6L61.9 108.6L61.5 108.6L61.1 108.6L60.6 108.5L60.2 108.5L59.8 108.4L59.3 108.3L58.9 108.3L58.5 108.2L58.1 108L57.7 107.9L57.3 107.8L56.9 107.7L56.5 107.5L56.2 107.4L55.8 107.2L55.4 107L55.1 106.8L54.8 106.6L54.4 106.4L54.1 106.2L53.8 106L53.5 105.7L53.3 105.5L53 105.3L52.7 105L52.5 104.7L52.3 104.5L52.1 104.2L51.9 103.9L51.7 103.7L51.5 103.4L51.4 103.1L51.2 102.8L51.1 102.5L51 102.2L50.9 101.9L50.9 101.6L50.8 101.3L50.8 101L50.7 100.7L50.7 100.3L50.7 100L50.8 99.7L50.8 99.4L50.9 99.1L50.9 98.8L51 98.5L51.1 98.2L51.2 97.9L51.4 97.6L51.5 97.3L51.7 97L51.9 96.8L52.1 96.5L52.3 96.2L52.5 95.9L52.7 95.7L53 95.4L53.3 95.2L53.5 94.9L53.8 94.7L54.1 94.5L54.4 94.3L54.8 94.1L55.1 93.9L55.4 93.7L55.8 93.5L56.2 93.3L56.5 93.2L56.9 93L57.3 92.9L57.7 92.8L58.1 92.6L58.5 92.5L58.9 92.4L59.3 92.4L59.8 92.3L60.2 92.2L60.6 92.2L61.1 92.1L61.5 92.1L61.9 92.1L62.4 92.1L62.8 92.1L63.2 92.1L63.7 92.1L64.1 92.2L64.5 92.2L64.9 92.3L65.4 92.4L65.8 92.4L66.2 92.5L66.6 92.6L67 92.8L67.4 92.9L67.8 93L68.2 93.2L68.5 93.3L68.9 93.5L69.3 93.7L69.6 93.9L69.9 94.1L70.3 94.3L70.6 94.5L70.9 94.7L71.2 94.9L71.4 95.2L71.7 95.4L72 95.7L72.2 95.9L72.4 96.2L72.6 96.5L72.8 96.8L73 97L73.2 97.3L73.3 97.6L73.5 97.9L73.6 98.2L73.7 98.5L73.8 98.8L73.9 99.1L73.9 99.4L73.9 99.7L74 100L74 100.3M129.9 92.5L128.7 92.8L126.9 93.2L124.9 93.7L122.9 94.2L121.1 94.8L119.8 95.4L119.1 96.1L118.7 96.9L118.6 97.7L118.6 98.6L118.7 99.5L118.7 100.3L118.7 101.2L118.6 102.1L118.6 103.1L118.7 103.9L119.1 104.8L119.8 105.5L121.1 106.1L122.9 106.7L124.9 107.2L126.9 107.6L128.7 107.9L129.9 108.2M0.2 117.8L2 117.7L4.5 117.7L7.5 117.6L10.7 117.6L14 117.5L17 117.3L19.7 117.2L22.5 116.9L25.2 116.7L28 116.4L30.8 116.2L33.7 116L36.8 115.9L39.9 115.8L43 115.8L46.2 115.7L49.5 115.7L52.7 115.6L56 115.4L59.3 115.3L62.6 115.1L65.9 114.9L69.4 114.7L72.9 114.4L76.5 114.1L80.2 113.6L84 113.1L87.9 112.7L91.6 112.3L95.2 112.2L98.8 112.3L102.3 112.7L105.8 113.1L109.1 113.6L112.3 114.1L115.4 114.4L118.3 114.7L121.1 114.9L123.9 115.1L126.3 115.3L128.4 115.4L129.9 115.6M0.2 123.4L3.2 123.8L7.2 124.5L12.1 125.3L17.4 126L22.8 126.5L28.1 126.7L33.6 126.5L39.6 125.9L45.7 125.2L51.7 124.4L57.1 123.7L61.7 123.4L65.3 123.4L68 123.5L70.3 123.8L72.4 124.2L74.5 124.6L76.9 124.9L79.6 125.3L82.3 125.7L85.1 126.1L88 126.5L91 126.7L94.1 126.7L97.5 126.5L101.1 126.1L104.9 125.5L108.6 125L112.2 124.4L115.4 124L118.3 123.8L121.2 123.7L123.9 123.5L126.4 123.5L128.4 123.4L129.9 123.4M0.2 131.2L2.1 131.9L5 132.8L8.2 133.9L11.6 135.1L14.6 136.5L17 137.9L18.7 139.6L20.1 141.6L21.3 143.7L22.1 145.7L22.5 147.6L22.6 149.1L22.1 150.2L21.2 151.1L19.9 151.7L18.3 152.3L16.6 152.7L14.7 153.1L12.5 153.5L9.8 153.7L7 153.8L4.2 153.9L1.8 154L0.2 154M42.7 151.3L42.4 149.6L43.1 147.4L44.6 144.9L46.5 142.3L48.6 139.9L50.5 137.9L52.4 136.2L54.6 134.6L56.9 133.2L59.2 132L61.6 131.3L63.9 131.2L66.3 131.8L68.8 132.9L71.3 134.6L73.6 136.4L75.7 138.3L77.3 140.1L78.7 142L80 144L81 146.1L81.6 148.1L81.5 149.9L80.7 151.3L78.8 152.3L76 153.1L72.6 153.5L68.8 153.8L65.1 154L61.7 154L58.2 154L54.4 153.9L50.5 153.7L47 153.2L44.3 152.5L42.7 151.3M129.9 131.2L128.1 132.2L125.6 133.5L122.7 135.1L119.7 136.8L117.2 138.6L115.4 140.1L114.3 141.7L113.7 143.3L113.4 144.9L113.4 146.5L113.7 147.9L114.2 149.1L115 150.1L116.2 150.9L117.6 151.6L119.1 152.2L120.7 152.7L122.1 153.1L123.5 153.5L125 153.7L126.5 153.8L127.9 153.9L129 154L129.9 154" fill="none" stroke="#3a3a5a" stroke-width="0.8" stroke-opacity="0.85" mask="url(#mp33)"/>
<text transform="translate(99.3,35.5) rotate(0)" x="0" y="4.6" text-anchor="middle" font-family="Liberation Serif" font-size="13.5" textLength="18.8" lengthAdjust="spacingAndGlyphs" fill="#000">0.2</text>
<text transform="translate(59.0,58.5) rotate(5)" x="0" y="4.6" text-anchor="middle" font-family="Liberation Serif" font-size="13.5" textLength="25.0" lengthAdjust="spacingAndGlyphs" fill="#000">0.24</text>
<text transform="translate(68.4,71.3) rotate(0)" x="0" y="4.6" text-anchor="middle" font-family="Liberation Serif" font-size="13.5" textLength="25.0" lengthAdjust="spacingAndGlyphs" fill="#000">0.28</text>
<text transform="translate(95.7,83.1) rotate(0)" x="0" y="4.6" text-anchor="middle" font-family="Liberation Serif" font-size="13.5" textLength="25.0" lengthAdjust="spacingAndGlyphs" fill="#000">0.32</text>
<text transform="translate(33.7,116.0) rotate(0)" x="0" y="4.6" text-anchor="middle" font-family="Liberation Serif" font-size="13.5" textLength="25.0" lengthAdjust="spacingAndGlyphs" fill="#000">0.32</text>
<text transform="translate(76.9,124.9) rotate(5)" x="0" y="4.6" text-anchor="middle" font-family="Liberation Serif" font-size="13.5" textLength="25.0" lengthAdjust="spacingAndGlyphs" fill="#000">0.28</text>
<text x="7.4" y="19.8" font-family="Liberation Serif" font-size="15.5" textLength="46.0" lengthAdjust="spacingAndGlyphs" fill="#000">(B100)</text>
</g>
<path d="M94.9 58.9H97.5M227.5 58.9H229.9M94.9 75.5H97.5M227.5 75.5H229.9M94.9 92.0H97.5M227.5 92.0H229.9M94.9 108.5H97.5M227.5 108.5H229.9M94.9 125.1H97.5M227.5 125.1H229.9M94.9 141.7H97.5M227.5 141.7H229.9M94.9 158.2H97.5M227.5 158.2H229.9M94.9 174.8H97.5M227.5 174.8H229.9M94.9 191.3H97.5M227.5 191.3H229.9M94.9 207.8H97.5M227.5 207.8H229.9M94.9 224.4H97.5M227.5 224.4H229.9M97.5 56.7V58.9M97.5 224.4V226.8M116.5 56.7V58.9M116.5 224.4V226.8M135.5 56.7V58.9M135.5 224.4V226.8M154.5 56.7V58.9M154.5 224.4V226.8M173.5 56.7V58.9M173.5 224.4V226.8M192.5 56.7V58.9M192.5 224.4V226.8M211.5 56.7V58.9M211.5 224.4V226.8" stroke="#2a2a2a" stroke-width="1.0" fill="none"/>
<rect x="97.5" y="58.9" width="130.0" height="165.5" fill="none" stroke="#000" stroke-width="1.2"/>
<text x="93.9" y="62.9" text-anchor="end" font-family="Liberation Serif" font-size="12.5" fill="#1a1a1a" textLength="7.1" lengthAdjust="spacingAndGlyphs">0</text>
<text x="93.9" y="79.5" text-anchor="end" font-family="Liberation Serif" font-size="12.5" fill="#1a1a1a" textLength="14.2" lengthAdjust="spacingAndGlyphs">10</text>
<text x="93.9" y="96.0" text-anchor="end" font-family="Liberation Serif" font-size="12.5" fill="#1a1a1a" textLength="14.2" lengthAdjust="spacingAndGlyphs">20</text>
<text x="93.9" y="112.5" text-anchor="end" font-family="Liberation Serif" font-size="12.5" fill="#1a1a1a" textLength="14.2" lengthAdjust="spacingAndGlyphs">30</text>
<text x="93.9" y="129.1" text-anchor="end" font-family="Liberation Serif" font-size="12.5" fill="#1a1a1a" textLength="14.2" lengthAdjust="spacingAndGlyphs">40</text>
<text x="93.9" y="145.7" text-anchor="end" font-family="Liberation Serif" font-size="12.5" fill="#1a1a1a" textLength="14.2" lengthAdjust="spacingAndGlyphs">50</text>
<text x="93.9" y="162.2" text-anchor="end" font-family="Liberation Serif" font-size="12.5" fill="#1a1a1a" textLength="14.2" lengthAdjust="spacingAndGlyphs">60</text>
<text x="93.9" y="178.8" text-anchor="end" font-family="Liberation Serif" font-size="12.5" fill="#1a1a1a" textLength="14.2" lengthAdjust="spacingAndGlyphs">70</text>
<text x="93.9" y="195.3" text-anchor="end" font-family="Liberation Serif" font-size="12.5" fill="#1a1a1a" textLength="14.2" lengthAdjust="spacingAndGlyphs">80</text>
<text x="93.9" y="211.8" text-anchor="end" font-family="Liberation Serif" font-size="12.5" fill="#1a1a1a" textLength="14.2" lengthAdjust="spacingAndGlyphs">90</text>
<text x="93.9" y="228.4" text-anchor="end" font-family="Liberation Serif" font-size="12.5" fill="#1a1a1a" textLength="21.3" lengthAdjust="spacingAndGlyphs">100</text>
<path d="M236.3 58.9H238.9M368.3 58.9H370.7M236.3 75.5H238.9M368.3 75.5H370.7M236.3 92.0H238.9M368.3 92.0H370.7M236.3 108.5H238.9M368.3 108.5H370.7M236.3 125.1H238.9M368.3 125.1H370.7M236.3 141.7H238.9M368.3 141.7H370.7M236.3 158.2H238.9M368.3 158.2H370.7M236.3 174.8H238.9M368.3 174.8H370.7M236.3 191.3H238.9M368.3 191.3H370.7M236.3 207.8H238.9M368.3 207.8H370.7M236.3 224.4H238.9M368.3 224.4H370.7M238.9 56.7V58.9M238.9 224.4V226.8M257.8 56.7V58.9M257.8 224.4V226.8M276.7 56.7V58.9M276.7 224.4V226.8M295.7 56.7V58.9M295.7 224.4V226.8M314.6 56.7V58.9M314.6 224.4V226.8M333.5 56.7V58.9M333.5 224.4V226.8M352.4 56.7V58.9M352.4 224.4V226.8" stroke="#2a2a2a" stroke-width="1.0" fill="none"/>
<rect x="238.9" y="58.9" width="129.4" height="165.5" fill="none" stroke="#000" stroke-width="1.2"/>
<path d="M375.1 58.9H377.7M507.5 58.9H509.9M375.1 75.5H377.7M507.5 75.5H509.9M375.1 92.0H377.7M507.5 92.0H509.9M375.1 108.5H377.7M507.5 108.5H509.9M375.1 125.1H377.7M507.5 125.1H509.9M375.1 141.7H377.7M507.5 141.7H509.9M375.1 158.2H377.7M507.5 158.2H509.9M375.1 174.8H377.7M507.5 174.8H509.9M375.1 191.3H377.7M507.5 191.3H509.9M375.1 207.8H377.7M507.5 207.8H509.9M375.1 224.4H377.7M507.5 224.4H509.9M377.7 56.7V58.9M377.7 224.4V226.8M396.7 56.7V58.9M396.7 224.4V226.8M415.7 56.7V58.9M415.7 224.4V226.8M434.6 56.7V58.9M434.6 224.4V226.8M453.6 56.7V58.9M453.6 224.4V226.8M472.6 56.7V58.9M472.6 224.4V226.8M491.6 56.7V58.9M491.6 224.4V226.8" stroke="#2a2a2a" stroke-width="1.0" fill="none"/>
<rect x="377.7" y="58.9" width="129.8" height="165.5" fill="none" stroke="#000" stroke-width="1.2"/>
<path d="M514.8 58.9H517.4M648.3 58.9H650.7M514.8 75.5H517.4M648.3 75.5H650.7M514.8 92.0H517.4M648.3 92.0H650.7M514.8 108.5H517.4M648.3 108.5H650.7M514.8 125.1H517.4M648.3 125.1H650.7M514.8 141.7H517.4M648.3 141.7H650.7M514.8 158.2H517.4M648.3 158.2H650.7M514.8 174.8H517.4M648.3 174.8H650.7M514.8 191.3H517.4M648.3 191.3H650.7M514.8 207.8H517.4M648.3 207.8H650.7M514.8 224.4H517.4M648.3 224.4H650.7M517.4 56.7V58.9M517.4 224.4V226.8M536.5 56.7V58.9M536.5 224.4V226.8M555.7 56.7V58.9M555.7 224.4V226.8M574.8 56.7V58.9M574.8 224.4V226.8M593.9 56.7V58.9M593.9 224.4V226.8M613.1 56.7V58.9M613.1 224.4V226.8M632.2 56.7V58.9M632.2 224.4V226.8" stroke="#2a2a2a" stroke-width="1.0" fill="none"/>
<rect x="517.4" y="58.9" width="130.9" height="165.5" fill="none" stroke="#000" stroke-width="1.2"/>
<path d="M94.9 236.1H97.5M227.5 236.1H229.9M94.9 252.7H97.5M227.5 252.7H229.9M94.9 269.2H97.5M227.5 269.2H229.9M94.9 285.8H97.5M227.5 285.8H229.9M94.9 302.3H97.5M227.5 302.3H229.9M94.9 318.9H97.5M227.5 318.9H229.9M94.9 335.4H97.5M227.5 335.4H229.9M94.9 352.0H97.5M227.5 352.0H229.9M94.9 368.5H97.5M227.5 368.5H229.9M94.9 385.1H97.5M227.5 385.1H229.9M94.9 401.6H97.5M227.5 401.6H229.9M97.5 233.9V236.1M97.5 401.6V404.0M116.5 233.9V236.1M116.5 401.6V404.0M135.5 233.9V236.1M135.5 401.6V404.0M154.5 233.9V236.1M154.5 401.6V404.0M173.5 233.9V236.1M173.5 401.6V404.0M192.5 233.9V236.1M192.5 401.6V404.0M211.5 233.9V236.1M211.5 401.6V404.0" stroke="#2a2a2a" stroke-width="1.0" fill="none"/>
<rect x="97.5" y="236.1" width="130.0" height="165.5" fill="none" stroke="#000" stroke-width="1.2"/>
<text x="93.9" y="240.1" text-anchor="end" font-family="Liberation Serif" font-size="12.5" fill="#1a1a1a" textLength="7.1" lengthAdjust="spacingAndGlyphs">0</text>
<text x="93.9" y="256.6" text-anchor="end" font-family="Liberation Serif" font-size="12.5" fill="#1a1a1a" textLength="14.2" lengthAdjust="spacingAndGlyphs">10</text>
<text x="93.9" y="273.2" text-anchor="end" font-family="Liberation Serif" font-size="12.5" fill="#1a1a1a" textLength="14.2" lengthAdjust="spacingAndGlyphs">20</text>
<text x="93.9" y="289.8" text-anchor="end" font-family="Liberation Serif" font-size="12.5" fill="#1a1a1a" textLength="14.2" lengthAdjust="spacingAndGlyphs">30</text>
<text x="93.9" y="306.3" text-anchor="end" font-family="Liberation Serif" font-size="12.5" fill="#1a1a1a" textLength="14.2" lengthAdjust="spacingAndGlyphs">40</text>
<text x="93.9" y="322.9" text-anchor="end" font-family="Liberation Serif" font-size="12.5" fill="#1a1a1a" textLength="14.2" lengthAdjust="spacingAndGlyphs">50</text>
<text x="93.9" y="339.4" text-anchor="end" font-family="Liberation Serif" font-size="12.5" fill="#1a1a1a" textLength="14.2" lengthAdjust="spacingAndGlyphs">60</text>
<text x="93.9" y="356.0" text-anchor="end" font-family="Liberation Serif" font-size="12.5" fill="#1a1a1a" textLength="14.2" lengthAdjust="spacingAndGlyphs">70</text>
<text x="93.9" y="372.5" text-anchor="end" font-family="Liberation Serif" font-size="12.5" fill="#1a1a1a" textLength="14.2" lengthAdjust="spacingAndGlyphs">80</text>
<text x="93.9" y="389.1" text-anchor="end" font-family="Liberation Serif" font-size="12.5" fill="#1a1a1a" textLength="14.2" lengthAdjust="spacingAndGlyphs">90</text>
<text x="93.9" y="405.6" text-anchor="end" font-family="Liberation Serif" font-size="12.5" fill="#1a1a1a" textLength="21.3" lengthAdjust="spacingAndGlyphs">100</text>
<path d="M236.3 236.1H238.9M368.3 236.1H370.7M236.3 252.7H238.9M368.3 252.7H370.7M236.3 269.2H238.9M368.3 269.2H370.7M236.3 285.8H238.9M368.3 285.8H370.7M236.3 302.3H238.9M368.3 302.3H370.7M236.3 318.9H238.9M368.3 318.9H370.7M236.3 335.4H238.9M368.3 335.4H370.7M236.3 352.0H238.9M368.3 352.0H370.7M236.3 368.5H238.9M368.3 368.5H370.7M236.3 385.1H238.9M368.3 385.1H370.7M236.3 401.6H238.9M368.3 401.6H370.7M238.9 233.9V236.1M238.9 401.6V404.0M257.8 233.9V236.1M257.8 401.6V404.0M276.7 233.9V236.1M276.7 401.6V404.0M295.7 233.9V236.1M295.7 401.6V404.0M314.6 233.9V236.1M314.6 401.6V404.0M333.5 233.9V236.1M333.5 401.6V404.0M352.4 233.9V236.1M352.4 401.6V404.0" stroke="#2a2a2a" stroke-width="1.0" fill="none"/>
<rect x="238.9" y="236.1" width="129.4" height="165.5" fill="none" stroke="#000" stroke-width="1.2"/>
<path d="M375.1 236.1H377.7M507.5 236.1H509.9M375.1 252.7H377.7M507.5 252.7H509.9M375.1 269.2H377.7M507.5 269.2H509.9M375.1 285.8H377.7M507.5 285.8H509.9M375.1 302.3H377.7M507.5 302.3H509.9M375.1 318.9H377.7M507.5 318.9H509.9M375.1 335.4H377.7M507.5 335.4H509.9M375.1 352.0H377.7M507.5 352.0H509.9M375.1 368.5H377.7M507.5 368.5H509.9M375.1 385.1H377.7M507.5 385.1H509.9M375.1 401.6H377.7M507.5 401.6H509.9M377.7 233.9V236.1M377.7 401.6V404.0M396.7 233.9V236.1M396.7 401.6V404.0M415.7 233.9V236.1M415.7 401.6V404.0M434.6 233.9V236.1M434.6 401.6V404.0M453.6 233.9V236.1M453.6 401.6V404.0M472.6 233.9V236.1M472.6 401.6V404.0M491.6 233.9V236.1M491.6 401.6V404.0" stroke="#2a2a2a" stroke-width="1.0" fill="none"/>
<rect x="377.7" y="236.1" width="129.8" height="165.5" fill="none" stroke="#000" stroke-width="1.2"/>
<path d="M514.8 236.1H517.4M648.3 236.1H650.7M514.8 252.7H517.4M648.3 252.7H650.7M514.8 269.2H517.4M648.3 269.2H650.7M514.8 285.8H517.4M648.3 285.8H650.7M514.8 302.3H517.4M648.3 302.3H650.7M514.8 318.9H517.4M648.3 318.9H650.7M514.8 335.4H517.4M648.3 335.4H650.7M514.8 352.0H517.4M648.3 352.0H650.7M514.8 368.5H517.4M648.3 368.5H650.7M514.8 385.1H517.4M648.3 385.1H650.7M514.8 401.6H517.4M648.3 401.6H650.7M517.4 233.9V236.1M517.4 401.6V404.0M536.5 233.9V236.1M536.5 401.6V404.0M555.7 233.9V236.1M555.7 401.6V404.0M574.8 233.9V236.1M574.8 401.6V404.0M593.9 233.9V236.1M593.9 401.6V404.0M613.1 233.9V236.1M613.1 401.6V404.0M632.2 233.9V236.1M632.2 401.6V404.0" stroke="#2a2a2a" stroke-width="1.0" fill="none"/>
<rect x="517.4" y="236.1" width="130.9" height="165.5" fill="none" stroke="#000" stroke-width="1.2"/>
<path d="M94.9 414.1H97.5M227.5 414.1H229.9M94.9 430.6H97.5M227.5 430.6H229.9M94.9 447.2H97.5M227.5 447.2H229.9M94.9 463.7H97.5M227.5 463.7H229.9M94.9 480.3H97.5M227.5 480.3H229.9M94.9 496.8H97.5M227.5 496.8H229.9M94.9 513.3H97.5M227.5 513.3H229.9M94.9 529.9H97.5M227.5 529.9H229.9M94.9 546.4H97.5M227.5 546.4H229.9M94.9 563.0H97.5M227.5 563.0H229.9M94.9 579.5H97.5M227.5 579.5H229.9M97.5 411.9V414.1M97.5 579.5V581.9M116.5 411.9V414.1M116.5 579.5V581.9M135.5 411.9V414.1M135.5 579.5V581.9M154.5 411.9V414.1M154.5 579.5V581.9M173.5 411.9V414.1M173.5 579.5V581.9M192.5 411.9V414.1M192.5 579.5V581.9M211.5 411.9V414.1M211.5 579.5V581.9" stroke="#2a2a2a" stroke-width="1.0" fill="none"/>
<rect x="97.5" y="414.1" width="130.0" height="165.4" fill="none" stroke="#000" stroke-width="1.2"/>
<text x="93.9" y="418.1" text-anchor="end" font-family="Liberation Serif" font-size="12.5" fill="#1a1a1a" textLength="7.1" lengthAdjust="spacingAndGlyphs">0</text>
<text x="93.9" y="434.6" text-anchor="end" font-family="Liberation Serif" font-size="12.5" fill="#1a1a1a" textLength="14.2" lengthAdjust="spacingAndGlyphs">10</text>
<text x="93.9" y="451.2" text-anchor="end" font-family="Liberation Serif" font-size="12.5" fill="#1a1a1a" textLength="14.2" lengthAdjust="spacingAndGlyphs">20</text>
<text x="93.9" y="467.7" text-anchor="end" font-family="Liberation Serif" font-size="12.5" fill="#1a1a1a" textLength="14.2" lengthAdjust="spacingAndGlyphs">30</text>
<text x="93.9" y="484.3" text-anchor="end" font-family="Liberation Serif" font-size="12.5" fill="#1a1a1a" textLength="14.2" lengthAdjust="spacingAndGlyphs">40</text>
<text x="93.9" y="500.8" text-anchor="end" font-family="Liberation Serif" font-size="12.5" fill="#1a1a1a" textLength="14.2" lengthAdjust="spacingAndGlyphs">50</text>
<text x="93.9" y="517.3" text-anchor="end" font-family="Liberation Serif" font-size="12.5" fill="#1a1a1a" textLength="14.2" lengthAdjust="spacingAndGlyphs">60</text>
<text x="93.9" y="533.9" text-anchor="end" font-family="Liberation Serif" font-size="12.5" fill="#1a1a1a" textLength="14.2" lengthAdjust="spacingAndGlyphs">70</text>
<text x="93.9" y="550.4" text-anchor="end" font-family="Liberation Serif" font-size="12.5" fill="#1a1a1a" textLength="14.2" lengthAdjust="spacingAndGlyphs">80</text>
<text x="93.9" y="567.0" text-anchor="end" font-family="Liberation Serif" font-size="12.5" fill="#1a1a1a" textLength="14.2" lengthAdjust="spacingAndGlyphs">90</text>
<text x="93.9" y="583.5" text-anchor="end" font-family="Liberation Serif" font-size="12.5" fill="#1a1a1a" textLength="21.3" lengthAdjust="spacingAndGlyphs">100</text>
<path d="M236.3 414.1H238.9M368.3 414.1H370.7M236.3 430.6H238.9M368.3 430.6H370.7M236.3 447.2H238.9M368.3 447.2H370.7M236.3 463.7H238.9M368.3 463.7H370.7M236.3 480.3H238.9M368.3 480.3H370.7M236.3 496.8H238.9M368.3 496.8H370.7M236.3 513.3H238.9M368.3 513.3H370.7M236.3 529.9H238.9M368.3 529.9H370.7M236.3 546.4H238.9M368.3 546.4H370.7M236.3 563.0H238.9M368.3 563.0H370.7M236.3 579.5H238.9M368.3 579.5H370.7M238.9 411.9V414.1M238.9 579.5V581.9M257.8 411.9V414.1M257.8 579.5V581.9M276.7 411.9V414.1M276.7 579.5V581.9M295.7 411.9V414.1M295.7 579.5V581.9M314.6 411.9V414.1M314.6 579.5V581.9M333.5 411.9V414.1M333.5 579.5V581.9M352.4 411.9V414.1M352.4 579.5V581.9" stroke="#2a2a2a" stroke-width="1.0" fill="none"/>
<rect x="238.9" y="414.1" width="129.4" height="165.4" fill="none" stroke="#000" stroke-width="1.2"/>
<path d="M375.1 414.1H377.7M507.5 414.1H509.9M375.1 430.6H377.7M507.5 430.6H509.9M375.1 447.2H377.7M507.5 447.2H509.9M375.1 463.7H377.7M507.5 463.7H509.9M375.1 480.3H377.7M507.5 480.3H509.9M375.1 496.8H377.7M507.5 496.8H509.9M375.1 513.3H377.7M507.5 513.3H509.9M375.1 529.9H377.7M507.5 529.9H509.9M375.1 546.4H377.7M507.5 546.4H509.9M375.1 563.0H377.7M507.5 563.0H509.9M375.1 579.5H377.7M507.5 579.5H509.9M377.7 411.9V414.1M377.7 579.5V581.9M396.7 411.9V414.1M396.7 579.5V581.9M415.7 411.9V414.1M415.7 579.5V581.9M434.6 411.9V414.1M434.6 579.5V581.9M453.6 411.9V414.1M453.6 579.5V581.9M472.6 411.9V414.1M472.6 579.5V581.9M491.6 411.9V414.1M491.6 579.5V581.9" stroke="#2a2a2a" stroke-width="1.0" fill="none"/>
<rect x="377.7" y="414.1" width="129.8" height="165.4" fill="none" stroke="#000" stroke-width="1.2"/>
<path d="M514.8 414.1H517.4M648.3 414.1H650.7M514.8 430.6H517.4M648.3 430.6H650.7M514.8 447.2H517.4M648.3 447.2H650.7M514.8 463.7H517.4M648.3 463.7H650.7M514.8 480.3H517.4M648.3 480.3H650.7M514.8 496.8H517.4M648.3 496.8H650.7M514.8 513.3H517.4M648.3 513.3H650.7M514.8 529.9H517.4M648.3 529.9H650.7M514.8 546.4H517.4M648.3 546.4H650.7M514.8 563.0H517.4M648.3 563.0H650.7M514.8 579.5H517.4M648.3 579.5H650.7M517.4 411.9V414.1M517.4 579.5V581.9M536.5 411.9V414.1M536.5 579.5V581.9M555.7 411.9V414.1M555.7 579.5V581.9M574.8 411.9V414.1M574.8 579.5V581.9M593.9 411.9V414.1M593.9 579.5V581.9M613.1 411.9V414.1M613.1 579.5V581.9M632.2 411.9V414.1M632.2 579.5V581.9" stroke="#2a2a2a" stroke-width="1.0" fill="none"/>
<rect x="517.4" y="414.1" width="130.9" height="165.4" fill="none" stroke="#000" stroke-width="1.2"/>
<path d="M94.9 591.2H97.5M227.5 591.2H229.9M94.9 608.1H97.5M227.5 608.1H229.9M94.9 625.0H97.5M227.5 625.0H229.9M94.9 642.0H97.5M227.5 642.0H229.9M94.9 658.9H97.5M227.5 658.9H229.9M94.9 675.8H97.5M227.5 675.8H229.9M94.9 692.7H97.5M227.5 692.7H229.9M94.9 709.6H97.5M227.5 709.6H229.9M94.9 726.6H97.5M227.5 726.6H229.9M94.9 743.5H97.5M227.5 743.5H229.9M94.9 760.4H97.5M227.5 760.4H229.9M97.5 589.0V591.2M97.5 760.4V762.8M116.5 589.0V591.2M116.5 760.4V762.8M135.5 589.0V591.2M135.5 760.4V762.8M154.5 589.0V591.2M154.5 760.4V762.8M173.5 589.0V591.2M173.5 760.4V762.8M192.5 589.0V591.2M192.5 760.4V762.8M211.5 589.0V591.2M211.5 760.4V762.8" stroke="#2a2a2a" stroke-width="1.0" fill="none"/>
<rect x="97.5" y="591.2" width="130.0" height="169.2" fill="none" stroke="#000" stroke-width="1.2"/>
<text x="93.9" y="595.2" text-anchor="end" font-family="Liberation Serif" font-size="12.5" fill="#1a1a1a" textLength="7.1" lengthAdjust="spacingAndGlyphs">0</text>
<text x="93.9" y="612.1" text-anchor="end" font-family="Liberation Serif" font-size="12.5" fill="#1a1a1a" textLength="14.2" lengthAdjust="spacingAndGlyphs">10</text>
<text x="93.9" y="629.0" text-anchor="end" font-family="Liberation Serif" font-size="12.5" fill="#1a1a1a" textLength="14.2" lengthAdjust="spacingAndGlyphs">20</text>
<text x="93.9" y="646.0" text-anchor="end" font-family="Liberation Serif" font-size="12.5" fill="#1a1a1a" textLength="14.2" lengthAdjust="spacingAndGlyphs">30</text>
<text x="93.9" y="662.9" text-anchor="end" font-family="Liberation Serif" font-size="12.5" fill="#1a1a1a" textLength="14.2" lengthAdjust="spacingAndGlyphs">40</text>
<text x="93.9" y="679.8" text-anchor="end" font-family="Liberation Serif" font-size="12.5" fill="#1a1a1a" textLength="14.2" lengthAdjust="spacingAndGlyphs">50</text>
<text x="93.9" y="696.7" text-anchor="end" font-family="Liberation Serif" font-size="12.5" fill="#1a1a1a" textLength="14.2" lengthAdjust="spacingAndGlyphs">60</text>
<text x="93.9" y="713.6" text-anchor="end" font-family="Liberation Serif" font-size="12.5" fill="#1a1a1a" textLength="14.2" lengthAdjust="spacingAndGlyphs">70</text>
<text x="93.9" y="730.6" text-anchor="end" font-family="Liberation Serif" font-size="12.5" fill="#1a1a1a" textLength="14.2" lengthAdjust="spacingAndGlyphs">80</text>
<text x="93.9" y="747.5" text-anchor="end" font-family="Liberation Serif" font-size="12.5" fill="#1a1a1a" textLength="14.2" lengthAdjust="spacingAndGlyphs">90</text>
<text x="93.9" y="764.4" text-anchor="end" font-family="Liberation Serif" font-size="12.5" fill="#1a1a1a" textLength="21.3" lengthAdjust="spacingAndGlyphs">100</text>
<text x="97.5" y="774.2" text-anchor="middle" font-family="Liberation Serif" font-size="12" fill="#1a1a1a" textLength="7.0" lengthAdjust="spacingAndGlyphs">0</text>
<text x="116.5" y="774.2" text-anchor="middle" font-family="Liberation Serif" font-size="12" fill="#1a1a1a" textLength="14.0" lengthAdjust="spacingAndGlyphs">10</text>
<text x="135.5" y="774.2" text-anchor="middle" font-family="Liberation Serif" font-size="12" fill="#1a1a1a" textLength="14.0" lengthAdjust="spacingAndGlyphs">20</text>
<text x="154.5" y="774.2" text-anchor="middle" font-family="Liberation Serif" font-size="12" fill="#1a1a1a" textLength="14.0" lengthAdjust="spacingAndGlyphs">30</text>
<text x="173.5" y="774.2" text-anchor="middle" font-family="Liberation Serif" font-size="12" fill="#1a1a1a" textLength="14.0" lengthAdjust="spacingAndGlyphs">40</text>
<text x="192.5" y="774.2" text-anchor="middle" font-family="Liberation Serif" font-size="12" fill="#1a1a1a" textLength="14.0" lengthAdjust="spacingAndGlyphs">50</text>
<text x="211.5" y="774.2" text-anchor="middle" font-family="Liberation Serif" font-size="12" fill="#1a1a1a" textLength="14.0" lengthAdjust="spacingAndGlyphs">60</text>
<path d="M236.3 591.2H238.9M368.3 591.2H370.7M236.3 608.1H238.9M368.3 608.1H370.7M236.3 625.0H238.9M368.3 625.0H370.7M236.3 642.0H238.9M368.3 642.0H370.7M236.3 658.9H238.9M368.3 658.9H370.7M236.3 675.8H238.9M368.3 675.8H370.7M236.3 692.7H238.9M368.3 692.7H370.7M236.3 709.6H238.9M368.3 709.6H370.7M236.3 726.6H238.9M368.3 726.6H370.7M236.3 743.5H238.9M368.3 743.5H370.7M236.3 760.4H238.9M368.3 760.4H370.7M238.9 589.0V591.2M238.9 760.4V762.8M257.8 589.0V591.2M257.8 760.4V762.8M276.7 589.0V591.2M276.7 760.4V762.8M295.7 589.0V591.2M295.7 760.4V762.8M314.6 589.0V591.2M314.6 760.4V762.8M333.5 589.0V591.2M333.5 760.4V762.8M352.4 589.0V591.2M352.4 760.4V762.8" stroke="#2a2a2a" stroke-width="1.0" fill="none"/>
<rect x="238.9" y="591.2" width="129.4" height="169.2" fill="none" stroke="#000" stroke-width="1.2"/>
<text x="238.9" y="774.2" text-anchor="middle" font-family="Liberation Serif" font-size="12" fill="#1a1a1a" textLength="7.0" lengthAdjust="spacingAndGlyphs">0</text>
<text x="257.8" y="774.2" text-anchor="middle" font-family="Liberation Serif" font-size="12" fill="#1a1a1a" textLength="14.0" lengthAdjust="spacingAndGlyphs">10</text>
<text x="276.7" y="774.2" text-anchor="middle" font-family="Liberation Serif" font-size="12" fill="#1a1a1a" textLength="14.0" lengthAdjust="spacingAndGlyphs">20</text>
<text x="295.7" y="774.2" text-anchor="middle" font-family="Liberation Serif" font-size="12" fill="#1a1a1a" textLength="14.0" lengthAdjust="spacingAndGlyphs">30</text>
<text x="314.6" y="774.2" text-anchor="middle" font-family="Liberation Serif" font-size="12" fill="#1a1a1a" textLength="14.0" lengthAdjust="spacingAndGlyphs">40</text>
<text x="333.5" y="774.2" text-anchor="middle" font-family="Liberation Serif" font-size="12" fill="#1a1a1a" textLength="14.0" lengthAdjust="spacingAndGlyphs">50</text>
<text x="352.4" y="774.2" text-anchor="middle" font-family="Liberation Serif" font-size="12" fill="#1a1a1a" textLength="14.0" lengthAdjust="spacingAndGlyphs">60</text>
<path d="M375.1 591.2H377.7M507.5 591.2H509.9M375.1 608.1H377.7M507.5 608.1H509.9M375.1 625.0H377.7M507.5 625.0H509.9M375.1 642.0H377.7M507.5 642.0H509.9M375.1 658.9H377.7M507.5 658.9H509.9M375.1 675.8H377.7M507.5 675.8H509.9M375.1 692.7H377.7M507.5 692.7H509.9M375.1 709.6H377.7M507.5 709.6H509.9M375.1 726.6H377.7M507.5 726.6H509.9M375.1 743.5H377.7M507.5 743.5H509.9M375.1 760.4H377.7M507.5 760.4H509.9M377.7 589.0V591.2M377.7 760.4V762.8M396.7 589.0V591.2M396.7 760.4V762.8M415.7 589.0V591.2M415.7 760.4V762.8M434.6 589.0V591.2M434.6 760.4V762.8M453.6 589.0V591.2M453.6 760.4V762.8M472.6 589.0V591.2M472.6 760.4V762.8M491.6 589.0V591.2M491.6 760.4V762.8" stroke="#2a2a2a" stroke-width="1.0" fill="none"/>
<rect x="377.7" y="591.2" width="129.8" height="169.2" fill="none" stroke="#000" stroke-width="1.2"/>
<text x="377.7" y="774.2" text-anchor="middle" font-family="Liberation Serif" font-size="12" fill="#1a1a1a" textLength="7.0" lengthAdjust="spacingAndGlyphs">0</text>
<text x="396.7" y="774.2" text-anchor="middle" font-family="Liberation Serif" font-size="12" fill="#1a1a1a" textLength="14.0" lengthAdjust="spacingAndGlyphs">10</text>
<text x="415.7" y="774.2" text-anchor="middle" font-family="Liberation Serif" font-size="12" fill="#1a1a1a" textLength="14.0" lengthAdjust="spacingAndGlyphs">20</text>
<text x="434.6" y="774.2" text-anchor="middle" font-family="Liberation Serif" font-size="12" fill="#1a1a1a" textLength="14.0" lengthAdjust="spacingAndGlyphs">30</text>
<text x="453.6" y="774.2" text-anchor="middle" font-family="Liberation Serif" font-size="12" fill="#1a1a1a" textLength="14.0" lengthAdjust="spacingAndGlyphs">40</text>
<text x="472.6" y="774.2" text-anchor="middle" font-family="Liberation Serif" font-size="12" fill="#1a1a1a" textLength="14.0" lengthAdjust="spacingAndGlyphs">50</text>
<text x="491.6" y="774.2" text-anchor="middle" font-family="Liberation Serif" font-size="12" fill="#1a1a1a" textLength="14.0" lengthAdjust="spacingAndGlyphs">60</text>
<path d="M514.8 591.2H517.4M648.3 591.2H650.7M514.8 608.1H517.4M648.3 608.1H650.7M514.8 625.0H517.4M648.3 625.0H650.7M514.8 642.0H517.4M648.3 642.0H650.7M514.8 658.9H517.4M648.3 658.9H650.7M514.8 675.8H517.4M648.3 675.8H650.7M514.8 692.7H517.4M648.3 692.7H650.7M514.8 709.6H517.4M648.3 709.6H650.7M514.8 726.6H517.4M648.3 726.6H650.7M514.8 743.5H517.4M648.3 743.5H650.7M514.8 760.4H517.4M648.3 760.4H650.7M517.4 589.0V591.2M517.4 760.4V762.8M536.5 589.0V591.2M536.5 760.4V762.8M555.7 589.0V591.2M555.7 760.4V762.8M574.8 589.0V591.2M574.8 760.4V762.8M593.9 589.0V591.2M593.9 760.4V762.8M613.1 589.0V591.2M613.1 760.4V762.8M632.2 589.0V591.2M632.2 760.4V762.8" stroke="#2a2a2a" stroke-width="1.0" fill="none"/>
<rect x="517.4" y="591.2" width="130.9" height="169.2" fill="none" stroke="#000" stroke-width="1.2"/>
<text x="517.4" y="774.2" text-anchor="middle" font-family="Liberation Serif" font-size="12" fill="#1a1a1a" textLength="7.0" lengthAdjust="spacingAndGlyphs">0</text>
<text x="536.5" y="774.2" text-anchor="middle" font-family="Liberation Serif" font-size="12" fill="#1a1a1a" textLength="14.0" lengthAdjust="spacingAndGlyphs">10</text>
<text x="555.7" y="774.2" text-anchor="middle" font-family="Liberation Serif" font-size="12" fill="#1a1a1a" textLength="14.0" lengthAdjust="spacingAndGlyphs">20</text>
<text x="574.8" y="774.2" text-anchor="middle" font-family="Liberation Serif" font-size="12" fill="#1a1a1a" textLength="14.0" lengthAdjust="spacingAndGlyphs">30</text>
<text x="593.9" y="774.2" text-anchor="middle" font-family="Liberation Serif" font-size="12" fill="#1a1a1a" textLength="14.0" lengthAdjust="spacingAndGlyphs">40</text>
<text x="613.1" y="774.2" text-anchor="middle" font-family="Liberation Serif" font-size="12" fill="#1a1a1a" textLength="14.0" lengthAdjust="spacingAndGlyphs">50</text>
<text x="632.2" y="774.2" text-anchor="middle" font-family="Liberation Serif" font-size="12" fill="#1a1a1a" textLength="14.0" lengthAdjust="spacingAndGlyphs">60</text>
<defs><g id="cotton"><path d="M300.9 16.4V62M324.5 24.6V62M297 34L301 50M288 44L294 50M318 38L324 50M331 43L325 52" stroke="#3f8f2f" stroke-width="1.3" fill="none"/><path d="M300.9 62V68M300.9 63L296.5 67.5M300.9 63L305 66.5M324.5 62V68M324.5 63L320 67.5M324.5 63L328.5 66.5" stroke="#c07850" stroke-width="0.8" fill="none"/><g fill="#36a336"><circle cx="301.4" cy="8.8" r="1.35"/><circle cx="300.1" cy="6.9" r="1.35"/><circle cx="302.4" cy="6.7" r="1.35"/><circle cx="301.3" cy="7.5" r="1.2"/><circle cx="297.7" cy="10.0" r="1.35"/><circle cx="300.0" cy="9.5" r="1.35"/><circle cx="299.3" cy="11.7" r="1.35"/><circle cx="299.0" cy="10.4" r="1.2"/><circle cx="300.8" cy="15.2" r="1.35"/><circle cx="301.3" cy="12.9" r="1.35"/><circle cx="303.0" cy="14.5" r="1.35"/><circle cx="301.7" cy="14.2" r="1.2"/><circle cx="296.5" cy="17.5" r="1.35"/><circle cx="298.8" cy="17.8" r="1.35"/><circle cx="297.4" cy="19.6" r="1.35"/><circle cx="297.6" cy="18.3" r="1.2"/><circle cx="291.7" cy="20.6" r="1.35"/><circle cx="294.0" cy="21.3" r="1.35"/><circle cx="292.3" cy="22.9" r="1.35"/><circle cx="292.7" cy="21.6" r="1.2"/><circle cx="298.0" cy="25.1" r="1.35"/><circle cx="295.7" cy="25.4" r="1.35"/><circle cx="296.6" cy="23.3" r="1.35"/><circle cx="296.8" cy="24.6" r="1.2"/><circle cx="286.5" cy="24.7" r="1.35"/><circle cx="284.4" cy="25.7" r="1.35"/><circle cx="284.6" cy="23.4" r="1.35"/><circle cx="285.2" cy="24.6" r="1.2"/><circle cx="286.2" cy="30.1" r="1.35"/><circle cx="286.1" cy="32.5" r="1.35"/><circle cx="284.2" cy="31.3" r="1.35"/><circle cx="285.5" cy="31.3" r="1.2"/><circle cx="287.8" cy="43.1" r="1.35"/><circle cx="286.8" cy="41.1" r="1.35"/><circle cx="289.1" cy="41.2" r="1.35"/><circle cx="287.9" cy="41.8" r="1.2"/><circle cx="294.3" cy="49.1" r="1.35"/><circle cx="293.0" cy="47.2" r="1.35"/><circle cx="295.3" cy="47.0" r="1.35"/><circle cx="294.2" cy="47.8" r="1.2"/><circle cx="299.6" cy="37.3" r="1.35"/><circle cx="297.7" cy="38.5" r="1.35"/><circle cx="297.6" cy="36.2" r="1.35"/><circle cx="298.3" cy="37.3" r="1.2"/><circle cx="304.1" cy="26.4" r="1.35"/><circle cx="305.8" cy="24.8" r="1.35"/><circle cx="306.3" cy="27.1" r="1.35"/><circle cx="305.4" cy="26.1" r="1.2"/><circle cx="305.3" cy="36.1" r="1.35"/><circle cx="305.3" cy="38.5" r="1.35"/><circle cx="303.3" cy="37.3" r="1.35"/><circle cx="304.6" cy="37.3" r="1.2"/><circle cx="308.6" cy="30.1" r="1.35"/><circle cx="310.4" cy="28.6" r="1.35"/><circle cx="310.7" cy="31.0" r="1.35"/><circle cx="309.9" cy="29.9" r="1.2"/><circle cx="323.8" cy="5.0" r="1.35"/><circle cx="326.0" cy="5.8" r="1.35"/><circle cx="324.2" cy="7.3" r="1.35"/><circle cx="324.7" cy="6.0" r="1.2"/><circle cx="323.7" cy="9.7" r="1.35"/><circle cx="321.6" cy="8.7" r="1.35"/><circle cx="323.5" cy="7.4" r="1.35"/><circle cx="322.9" cy="8.6" r="1.2"/><circle cx="324.6" cy="11.3" r="1.35"/><circle cx="326.8" cy="12.0" r="1.35"/><circle cx="325.1" cy="13.6" r="1.35"/><circle cx="325.5" cy="12.3" r="1.2"/><circle cx="321.2" cy="15.0" r="1.35"/><circle cx="320.7" cy="17.3" r="1.35"/><circle cx="319.0" cy="15.7" r="1.35"/><circle cx="320.3" cy="16.0" r="1.2"/><circle cx="314.9" cy="19.2" r="1.35"/><circle cx="317.0" cy="18.3" r="1.35"/><circle cx="316.7" cy="20.7" r="1.35"/><circle cx="316.2" cy="19.4" r="1.2"/><circle cx="319.8" cy="21.8" r="1.35"/><circle cx="321.1" cy="23.7" r="1.35"/><circle cx="318.8" cy="23.8" r="1.35"/><circle cx="319.9" cy="23.1" r="1.2"/><circle cx="332.3" cy="18.2" r="1.35"/><circle cx="334.2" cy="19.4" r="1.35"/><circle cx="332.2" cy="20.6" r="1.35"/><circle cx="332.9" cy="19.4" r="1.2"/><circle cx="330.0" cy="29.6" r="1.35"/><circle cx="327.7" cy="29.9" r="1.35"/><circle cx="328.6" cy="27.8" r="1.35"/><circle cx="328.8" cy="29.1" r="1.2"/><circle cx="337.1" cy="28.5" r="1.35"/><circle cx="338.1" cy="30.5" r="1.35"/><circle cx="335.8" cy="30.4" r="1.35"/><circle cx="337.0" cy="29.8" r="1.2"/><circle cx="337.4" cy="38.0" r="1.35"/><circle cx="339.7" cy="38.1" r="1.35"/><circle cx="338.4" cy="40.0" r="1.35"/><circle cx="338.5" cy="38.7" r="1.2"/><circle cx="335.2" cy="47.5" r="1.35"/><circle cx="334.7" cy="45.2" r="1.35"/><circle cx="336.9" cy="45.9" r="1.35"/><circle cx="335.6" cy="46.2" r="1.2"/><circle cx="311.1" cy="24.1" r="1.35"/><circle cx="308.9" cy="24.8" r="1.35"/><circle cx="309.4" cy="22.5" r="1.35"/><circle cx="309.8" cy="23.8" r="1.2"/><circle cx="314.1" cy="30.3" r="1.35"/><circle cx="313.6" cy="32.6" r="1.35"/><circle cx="311.9" cy="31.0" r="1.35"/><circle cx="313.2" cy="31.3" r="1.2"/><circle cx="319.0" cy="35.2" r="1.35"/><circle cx="320.8" cy="33.7" r="1.35"/><circle cx="321.2" cy="36.0" r="1.35"/><circle cx="320.3" cy="35.0" r="1.2"/><circle cx="317.0" cy="46.4" r="1.35"/><circle cx="318.6" cy="48.1" r="1.35"/><circle cx="316.3" cy="48.6" r="1.35"/><circle cx="317.3" cy="47.7" r="1.2"/><circle cx="290.5" cy="34.1" r="1.35"/><circle cx="289.8" cy="36.3" r="1.35"/><circle cx="288.2" cy="34.6" r="1.35"/><circle cx="289.5" cy="35.0" r="1.2"/><circle cx="283.5" cy="31.7" r="1.35"/><circle cx="285.1" cy="33.4" r="1.35"/><circle cx="282.8" cy="33.9" r="1.35"/><circle cx="283.8" cy="33.0" r="1.2"/><circle cx="313.2" cy="43.4" r="1.35"/><circle cx="312.0" cy="45.3" r="1.35"/><circle cx="310.8" cy="43.3" r="1.35"/><circle cx="312.0" cy="44.0" r="1.2"/><circle cx="326.4" cy="36.8" r="1.35"/><circle cx="327.3" cy="34.7" r="1.35"/><circle cx="328.8" cy="36.5" r="1.35"/><circle cx="327.5" cy="36.0" r="1.2"/><circle cx="336.9" cy="33.2" r="1.35"/><circle cx="337.4" cy="35.5" r="1.35"/><circle cx="335.2" cy="34.8" r="1.35"/><circle cx="336.5" cy="34.5" r="1.2"/><circle cx="301.7" cy="45.0" r="1.35"/><circle cx="303.2" cy="43.2" r="1.35"/><circle cx="304.0" cy="45.4" r="1.35"/><circle cx="303.0" cy="44.5" r="1.2"/><circle cx="291.2" cy="27.5" r="1.35"/><circle cx="289.8" cy="29.3" r="1.35"/><circle cx="288.9" cy="27.2" r="1.35"/><circle cx="290.0" cy="28.0" r="1.2"/><circle cx="300.0" cy="27.1" r="1.35"/><circle cx="299.3" cy="29.3" r="1.35"/><circle cx="297.7" cy="27.6" r="1.35"/><circle cx="299.0" cy="28.0" r="1.2"/><circle cx="307.1" cy="31.8" r="1.35"/><circle cx="304.8" cy="31.6" r="1.35"/><circle cx="306.1" cy="29.7" r="1.35"/><circle cx="306.0" cy="31.0" r="1.2"/><circle cx="313.9" cy="39.0" r="1.35"/><circle cx="311.7" cy="38.3" r="1.35"/><circle cx="313.4" cy="36.7" r="1.35"/><circle cx="313.0" cy="38.0" r="1.2"/><circle cx="322.3" cy="46.3" r="1.35"/><circle cx="320.7" cy="44.6" r="1.35"/><circle cx="323.0" cy="44.1" r="1.35"/><circle cx="322.0" cy="45.0" r="1.2"/><circle cx="332.3" cy="32.7" r="1.35"/><circle cx="330.6" cy="34.3" r="1.35"/><circle cx="330.1" cy="32.0" r="1.35"/><circle cx="331.0" cy="33.0" r="1.2"/><circle cx="336.8" cy="25.5" r="1.35"/><circle cx="338.2" cy="23.7" r="1.35"/><circle cx="339.1" cy="25.8" r="1.35"/><circle cx="338.0" cy="25.0" r="1.2"/><circle cx="295.1" cy="40.0" r="1.35"/><circle cx="297.3" cy="40.7" r="1.35"/><circle cx="295.6" cy="42.3" r="1.35"/><circle cx="296.0" cy="41.0" r="1.2"/><circle cx="285.6" cy="39.3" r="1.35"/><circle cx="285.1" cy="37.0" r="1.35"/><circle cx="287.3" cy="37.7" r="1.35"/><circle cx="286.0" cy="38.0" r="1.2"/><circle cx="289.7" cy="44.9" r="1.35"/><circle cx="291.7" cy="43.9" r="1.35"/><circle cx="291.6" cy="46.2" r="1.35"/><circle cx="291.0" cy="45.0" r="1.2"/><circle cx="304.0" cy="53.9" r="1.35"/><circle cx="304.7" cy="51.7" r="1.35"/><circle cx="306.3" cy="53.4" r="1.35"/><circle cx="305.0" cy="53.0" r="1.2"/><circle cx="311.2" cy="53.1" r="1.35"/><circle cx="311.5" cy="50.8" r="1.35"/><circle cx="313.3" cy="52.1" r="1.35"/><circle cx="312.0" cy="52.0" r="1.2"/><circle cx="333.8" cy="50.3" r="1.35"/><circle cx="336.2" cy="50.3" r="1.35"/><circle cx="335.0" cy="52.3" r="1.35"/><circle cx="335.0" cy="51.0" r="1.2"/><circle cx="337.8" cy="46.3" r="1.35"/><circle cx="340.2" cy="46.3" r="1.35"/><circle cx="339.0" cy="48.3" r="1.35"/><circle cx="339.0" cy="47.0" r="1.2"/><circle cx="327.1" cy="51.2" r="1.35"/><circle cx="326.1" cy="53.3" r="1.35"/><circle cx="324.8" cy="51.4" r="1.35"/><circle cx="326.0" cy="52.0" r="1.2"/><circle cx="317.4" cy="25.8" r="1.35"/><circle cx="319.3" cy="27.1" r="1.35"/><circle cx="317.2" cy="28.1" r="1.35"/><circle cx="318.0" cy="27.0" r="1.2"/><circle cx="331.2" cy="13.4" r="1.35"/><circle cx="329.9" cy="15.3" r="1.35"/><circle cx="328.9" cy="13.2" r="1.35"/><circle cx="330.0" cy="14.0" r="1.2"/><circle cx="318.8" cy="11.9" r="1.35"/><circle cx="318.5" cy="14.3" r="1.35"/><circle cx="316.7" cy="12.8" r="1.35"/><circle cx="318.0" cy="13.0" r="1.2"/><circle cx="297.3" cy="5.9" r="1.35"/><circle cx="295.4" cy="7.2" r="1.35"/><circle cx="295.3" cy="4.9" r="1.35"/><circle cx="296.0" cy="6.0" r="1.2"/><circle cx="308.4" cy="16.8" r="1.35"/><circle cx="310.3" cy="18.0" r="1.35"/><circle cx="308.3" cy="19.2" r="1.35"/><circle cx="309.0" cy="18.0" r="1.2"/><circle cx="342.7" cy="41.2" r="1.35"/><circle cx="340.7" cy="40.0" r="1.35"/><circle cx="342.6" cy="38.8" r="1.35"/><circle cx="342.0" cy="40.0" r="1.2"/></g><g fill="#72c85a"><circle cx="301.8" cy="7.1" r="0.8"/><circle cx="302.2" cy="13.8" r="0.8"/><circle cx="293.2" cy="21.2" r="0.8"/><circle cx="285.7" cy="24.2" r="0.8"/><circle cx="288.4" cy="41.4" r="0.8"/><circle cx="298.8" cy="36.9" r="0.8"/><circle cx="305.1" cy="36.9" r="0.8"/><circle cx="325.2" cy="5.6" r="0.8"/><circle cx="326.0" cy="11.9" r="0.8"/><circle cx="316.7" cy="19.0" r="0.8"/><circle cx="333.4" cy="19.0" r="0.8"/><circle cx="337.5" cy="29.4" r="0.8"/><circle cx="336.1" cy="45.8" r="0.8"/><circle cx="313.7" cy="30.9" r="0.8"/><circle cx="317.8" cy="47.3" r="0.8"/><circle cx="284.3" cy="32.6" r="0.8"/><circle cx="328.0" cy="35.6" r="0.8"/><circle cx="303.5" cy="44.1" r="0.8"/><circle cx="299.5" cy="27.6" r="0.8"/><circle cx="313.5" cy="37.6" r="0.8"/><circle cx="331.5" cy="32.6" r="0.8"/><circle cx="296.5" cy="40.6" r="0.8"/><circle cx="291.5" cy="44.6" r="0.8"/><circle cx="312.5" cy="51.6" r="0.8"/><circle cx="339.5" cy="46.6" r="0.8"/><circle cx="318.5" cy="26.6" r="0.8"/><circle cx="318.5" cy="12.6" r="0.8"/><circle cx="309.5" cy="17.6" r="0.8"/></g><g fill="#ededed"><circle cx="291.6" cy="14.2" r="2.6"/><circle cx="314.7" cy="11.9" r="2.6"/><circle cx="306.1" cy="23.1" r="2.6"/><circle cx="330.3" cy="20.9" r="2.6"/><circle cx="305.4" cy="48.5" r="2.6"/><circle cx="329.6" cy="47.7" r="2.6"/></g><g fill="#b87040"><circle cx="290.6" cy="15.5" r="0.6"/><circle cx="292.8" cy="13.2" r="0.5"/><circle cx="313.7" cy="13.200000000000001" r="0.6"/><circle cx="315.9" cy="10.9" r="0.5"/><circle cx="305.1" cy="24.400000000000002" r="0.6"/><circle cx="307.3" cy="22.1" r="0.5"/><circle cx="329.3" cy="22.2" r="0.6"/><circle cx="331.5" cy="19.9" r="0.5"/><circle cx="304.4" cy="49.8" r="0.6"/><circle cx="306.59999999999997" cy="47.5" r="0.5"/><circle cx="328.6" cy="49.0" r="0.6"/><circle cx="330.8" cy="46.7" r="0.5"/></g><g fill="#f0e020"><circle cx="288.6" cy="24.3" r="1.5"/><circle cx="302.8" cy="24.3" r="1.5"/><circle cx="326.6" cy="22" r="1.5"/><circle cx="332.6" cy="27.2" r="1.5"/><circle cx="336.7" cy="46.2" r="1.5"/><circle cx="312.5" cy="22" r="1.5"/><circle cx="312.8" cy="47.7" r="1.5"/></g><g fill="#f8ec1a" stroke="#d8c810" stroke-width="0.5"><circle cx="292.7" cy="37.3" r="3.6"/><circle cx="309.8" cy="41" r="3.8"/><circle cx="316.5" cy="35" r="3.4"/><circle cx="333.7" cy="38.7" r="3.7"/></g><g fill="#a0142a"><circle cx="292.9" cy="37.699999999999996" r="0.9"/><circle cx="310.0" cy="41.4" r="0.9"/><circle cx="316.7" cy="35.4" r="0.9"/><circle cx="333.9" cy="39.1" r="0.9"/></g></g><g id="lettuce"><g transform="translate(113.2 48.5) rotate(-38)" fill="#2c9a3c"><ellipse rx="4.2" ry="6.0"/><circle cx="3.6" cy="0.0" r="1.4"/><circle cx="2.9" cy="3.0" r="1.4"/><circle cx="-2.9" cy="3.0" r="1.4"/><circle cx="-3.6" cy="0.0" r="1.4"/><circle cx="-2.9" cy="-3.0" r="1.4"/><circle cx="-1.1" cy="-4.8" r="1.4"/><circle cx="1.1" cy="-4.9" r="1.4"/><circle cx="2.9" cy="-3.0" r="1.4"/><ellipse cy="1.5" rx="1.9" ry="3.3" fill="#59b85a"/></g><g transform="translate(129.0 50.8) rotate(38)" fill="#238a34"><ellipse rx="3.6" ry="5.6"/><circle cx="3.1" cy="0.0" r="1.4"/><circle cx="2.5" cy="2.8" r="1.4"/><circle cx="-2.5" cy="2.8" r="1.4"/><circle cx="-3.1" cy="0.0" r="1.4"/><circle cx="-2.5" cy="-2.8" r="1.4"/><circle cx="-1.0" cy="-4.5" r="1.4"/><circle cx="0.9" cy="-4.5" r="1.4"/><circle cx="2.5" cy="-2.8" r="1.4"/><ellipse cy="1.4" rx="1.6" ry="3.1" fill="#4eac50"/></g><g transform="translate(121.5 45.2) rotate(0)" fill="#30a040"><ellipse rx="4.6" ry="7.2"/><circle cx="3.9" cy="0.0" r="1.4"/><circle cx="3.2" cy="3.6" r="1.4"/><circle cx="-3.2" cy="3.6" r="1.4"/><circle cx="-3.9" cy="0.0" r="1.4"/><circle cx="-3.2" cy="-3.6" r="1.4"/><circle cx="-1.2" cy="-5.8" r="1.4"/><circle cx="1.2" cy="-5.8" r="1.4"/><circle cx="3.2" cy="-3.6" r="1.4"/><ellipse cy="1.8" rx="2.1" ry="4.0" fill="#62c060"/></g><path d="M116.5 53Q120 50 121.3 55.5M126 53Q122 51 121.3 55.5M121.3 55.5L121.5 47" stroke="#e6f0c0" stroke-width="0.9" fill="none"/><path d="M108.5 59.5L109 55.5L111 56.5L113 55L115 56.5L117 55.2L119 56.8L121 55.5L124 56.5L126 55L128 56.5L130 55.2L132.5 54.5L133 59.5Z" fill="#129a14"/></g></defs>
<use href="#cotton" transform="translate(-141.4,0)"/>
<use href="#lettuce" transform="translate(97.5,0)"/>
<path d="M97.4 52.1H192.0Q199.0 52.1 199.0 58.6" stroke="#4472c4" stroke-width="2.1" fill="none"/>
<ellipse cx="141.5" cy="55.3" rx="4.6" ry="3.9" fill="#4f8fd0" stroke="#1f3f70" stroke-width="1"/>
<path d="M97.5 58.9H227.5" stroke="#5e5e5e" stroke-width="2"/>
<path d="M213.2 59.9C210.8 67.9 212.5 74.9 218.9 78.2C223.5 72.9 223.1 65.9 221.6 59.9" stroke="#2c2c58" stroke-width="1.1" fill="none"/><path d="M218.9 78.2V85.5" stroke="#2c2c58" stroke-width="1.6"/>
<use href="#cotton" transform="translate(0.0,-1.5)"/>
<use href="#lettuce" transform="translate(238.9,0)"/>
<path d="M236.9 52.1H333.4Q340.4 52.1 340.4 58.6" stroke="#4472c4" stroke-width="2.1" fill="none"/>
<ellipse cx="282.9" cy="55.3" rx="4.6" ry="3.9" fill="#4f8fd0" stroke="#1f3f70" stroke-width="1"/>
<path d="M238.9 58.9H368.9" stroke="#5e5e5e" stroke-width="2"/>
<path d="M354.6 59.9C352.2 67.9 353.9 74.9 360.3 78.2C364.9 72.9 364.5 65.9 363.0 59.9" stroke="#2c2c58" stroke-width="1.1" fill="none"/><path d="M360.3 78.2V85.5" stroke="#2c2c58" stroke-width="1.6"/>
<use href="#cotton" transform="translate(139.3,0)"/>
<use href="#lettuce" transform="translate(378.2,0)"/>
<path d="M376.2 52.1H472.7Q479.7 52.1 479.7 58.6" stroke="#4472c4" stroke-width="2.1" fill="none"/>
<ellipse cx="422.2" cy="55.3" rx="4.6" ry="3.9" fill="#4f8fd0" stroke="#1f3f70" stroke-width="1"/>
<path d="M378.2 58.9H508.2" stroke="#5e5e5e" stroke-width="2"/>
<path d="M493.9 59.9C491.5 67.9 493.2 74.9 499.6 78.2C504.2 72.9 503.8 65.9 502.3 59.9" stroke="#2c2c58" stroke-width="1.1" fill="none"/><path d="M499.6 78.2V85.5" stroke="#2c2c58" stroke-width="1.6"/>
<use href="#cotton" transform="translate(278.5,1.0)"/>
<use href="#lettuce" transform="translate(517.4,0)"/>
<path d="M515.4 52.1H611.9Q618.9 52.1 618.9 58.6" stroke="#4472c4" stroke-width="2.1" fill="none"/>
<ellipse cx="561.4" cy="55.3" rx="4.6" ry="3.9" fill="#4f8fd0" stroke="#1f3f70" stroke-width="1"/>
<path d="M517.4 58.9H647.4" stroke="#5e5e5e" stroke-width="2"/>
<path d="M633.1 59.9C630.7 67.9 632.4 74.9 638.8 78.2C643.4 72.9 643.0 65.9 641.5 59.9" stroke="#2c2c58" stroke-width="1.1" fill="none"/><path d="M638.8 78.2V85.5" stroke="#2c2c58" stroke-width="1.6"/>
<path d="M97.4 56V24.5M91.9 32.8L97.4 24.2L102.9 32.8M97.4 52.1H73M82.1 46.5L72.6 51.9L82.1 57.3" stroke="#4472c4" stroke-width="2.1" fill="none"/>
<text x="41.9" y="21.8" font-family="Liberation Serif" font-size="13.1" fill="#111" textLength="104.7" lengthAdjust="spacingAndGlyphs">Middle of wide row</text>
<text x="102.6" y="45.2" font-family="Liberation Serif" font-size="13" fill="#111" textLength="46.5" lengthAdjust="spacingAndGlyphs">Drip line</text>
<text x="0" y="54.2" font-family="Liberation Serif" font-size="13.2" fill="#111" textLength="71.4" lengthAdjust="spacingAndGlyphs">Plastic mulch</text>
<text x="383" y="800" text-anchor="middle" font-family="Liberation Serif" font-size="18.5" fill="#111" textLength="104.6" lengthAdjust="spacingAndGlyphs">Distance (cm)</text>
<text transform="translate(51.2,426) rotate(-90)" text-anchor="middle" y="5.5" font-family="Liberation Serif" font-size="18" fill="#111" textLength="125" lengthAdjust="spacingAndGlyphs">Soil depth (cm)</text>
<rect x="656.8" y="212.11" width="13.7" height="4.49" fill="#f8f8ff" stroke="#000" stroke-width="0.8"/>
<rect x="656.8" y="207.61" width="13.7" height="4.49" fill="#f6f6fe" stroke="#000" stroke-width="0.8"/>
<rect x="656.8" y="203.12" width="13.7" height="4.49" fill="#f2f2fe" stroke="#000" stroke-width="0.8"/>
<rect x="656.8" y="198.62" width="13.7" height="4.49" fill="#ececfc" stroke="#000" stroke-width="0.8"/>
<rect x="656.8" y="194.13" width="13.7" height="4.49" fill="#e7e7fc" stroke="#000" stroke-width="0.8"/>
<rect x="656.8" y="189.64" width="13.7" height="4.49" fill="#e0e0fb" stroke="#000" stroke-width="0.8"/>
<rect x="656.8" y="185.14" width="13.7" height="4.49" fill="#dbdbfb" stroke="#000" stroke-width="0.8"/>
<rect x="656.8" y="180.65" width="13.7" height="4.49" fill="#d8d8fa" stroke="#000" stroke-width="0.8"/>
<rect x="656.8" y="176.15" width="13.7" height="4.49" fill="#d4d4fa" stroke="#000" stroke-width="0.8"/>
<rect x="656.8" y="171.66" width="13.7" height="4.49" fill="#cecef9" stroke="#000" stroke-width="0.8"/>
<rect x="656.8" y="167.17" width="13.7" height="4.49" fill="#c6c6f9" stroke="#000" stroke-width="0.8"/>
<rect x="656.8" y="162.67" width="13.7" height="4.49" fill="#bcbcf8" stroke="#000" stroke-width="0.8"/>
<rect x="656.8" y="158.18" width="13.7" height="4.49" fill="#b1b1f8" stroke="#000" stroke-width="0.8"/>
<rect x="656.8" y="153.68" width="13.7" height="4.49" fill="#a7a7f8" stroke="#000" stroke-width="0.8"/>
<rect x="656.8" y="149.19" width="13.7" height="4.49" fill="#9b9bf8" stroke="#000" stroke-width="0.8"/>
<rect x="656.8" y="144.70" width="13.7" height="4.49" fill="#9090f8" stroke="#000" stroke-width="0.8"/>
<rect x="656.8" y="140.20" width="13.7" height="4.49" fill="#8787f8" stroke="#000" stroke-width="0.8"/>
<rect x="656.8" y="135.71" width="13.7" height="4.49" fill="#7e7ef8" stroke="#000" stroke-width="0.8"/>
<rect x="656.8" y="131.22" width="13.7" height="4.49" fill="#7575f7" stroke="#000" stroke-width="0.8"/>
<rect x="656.8" y="126.72" width="13.7" height="4.49" fill="#6c6cf7" stroke="#000" stroke-width="0.8"/>
<rect x="656.8" y="122.23" width="13.7" height="4.49" fill="#6565f7" stroke="#000" stroke-width="0.8"/>
<rect x="656.8" y="117.73" width="13.7" height="4.49" fill="#6060f7" stroke="#000" stroke-width="0.8"/>
<rect x="656.8" y="113.24" width="13.7" height="4.49" fill="#5b5bf8" stroke="#000" stroke-width="0.8"/>
<rect x="656.8" y="108.75" width="13.7" height="4.49" fill="#5656f8" stroke="#000" stroke-width="0.8"/>
<rect x="656.8" y="104.25" width="13.7" height="4.49" fill="#5151f8" stroke="#000" stroke-width="0.8"/>
<rect x="656.8" y="99.76" width="13.7" height="4.49" fill="#4c4ef6" stroke="#000" stroke-width="0.8"/>
<rect x="656.8" y="95.26" width="13.7" height="4.49" fill="#474ef1" stroke="#000" stroke-width="0.8"/>
<rect x="656.8" y="90.77" width="13.7" height="4.49" fill="#424dec" stroke="#000" stroke-width="0.8"/>
<rect x="656.8" y="86.28" width="13.7" height="4.49" fill="#3e4de5" stroke="#000" stroke-width="0.8"/>
<rect x="656.8" y="81.78" width="13.7" height="4.49" fill="#394edc" stroke="#000" stroke-width="0.8"/>
<rect x="656.8" y="77.29" width="13.7" height="4.49" fill="#364dd5" stroke="#000" stroke-width="0.8"/>
<rect x="656.8" y="72.79" width="13.7" height="4.49" fill="#344ad0" stroke="#000" stroke-width="0.8"/>
<rect x="656.8" y="68.30" width="13.7" height="4.49" fill="#3348cb" stroke="#000" stroke-width="0.8"/>
<rect x="656.8" y="68.3" width="13.7" height="148.3" fill="none" stroke="#000" stroke-width="1.2"/>
<text x="674.5" y="85.4" font-family="Liberation Serif" font-size="12" textLength="27.9" lengthAdjust="spacingAndGlyphs" fill="#111">0.38</text>
<text x="674.5" y="107.9" font-family="Liberation Serif" font-size="12" textLength="27.9" lengthAdjust="spacingAndGlyphs" fill="#111">0.33</text>
<text x="674.5" y="130.4" font-family="Liberation Serif" font-size="12" textLength="27.9" lengthAdjust="spacingAndGlyphs" fill="#111">0.28</text>
<text x="674.5" y="153.0" font-family="Liberation Serif" font-size="12" textLength="27.9" lengthAdjust="spacingAndGlyphs" fill="#111">0.23</text>
<text x="674.5" y="175.5" font-family="Liberation Serif" font-size="12" textLength="27.9" lengthAdjust="spacingAndGlyphs" fill="#111">0.18</text>
<text x="674.5" y="198.0" font-family="Liberation Serif" font-size="12" textLength="27.9" lengthAdjust="spacingAndGlyphs" fill="#111">0.13</text>
<text x="674.5" y="220.5" font-family="Liberation Serif" font-size="12" textLength="27.9" lengthAdjust="spacingAndGlyphs" fill="#111">0.08</text>
<text transform="translate(717,137.5) rotate(-90)" text-anchor="middle" y="5" font-family="Liberation Serif" font-weight="bold" font-size="14.5" textLength="95.6" lengthAdjust="spacingAndGlyphs" fill="#111">Seedling stage</text>
<rect x="657.4" y="387.01" width="13.5" height="4.49" fill="#f8f8ff" stroke="#000" stroke-width="0.8"/>
<rect x="657.4" y="382.52" width="13.5" height="4.49" fill="#f6f6fe" stroke="#000" stroke-width="0.8"/>
<rect x="657.4" y="378.04" width="13.5" height="4.49" fill="#f2f2fe" stroke="#000" stroke-width="0.8"/>
<rect x="657.4" y="373.55" width="13.5" height="4.49" fill="#ececfc" stroke="#000" stroke-width="0.8"/>
<rect x="657.4" y="369.06" width="13.5" height="4.49" fill="#e7e7fc" stroke="#000" stroke-width="0.8"/>
<rect x="657.4" y="364.57" width="13.5" height="4.49" fill="#e0e0fb" stroke="#000" stroke-width="0.8"/>
<rect x="657.4" y="360.08" width="13.5" height="4.49" fill="#dbdbfb" stroke="#000" stroke-width="0.8"/>
<rect x="657.4" y="355.60" width="13.5" height="4.49" fill="#d8d8fa" stroke="#000" stroke-width="0.8"/>
<rect x="657.4" y="351.11" width="13.5" height="4.49" fill="#d4d4fa" stroke="#000" stroke-width="0.8"/>
<rect x="657.4" y="346.62" width="13.5" height="4.49" fill="#cecef9" stroke="#000" stroke-width="0.8"/>
<rect x="657.4" y="342.13" width="13.5" height="4.49" fill="#c6c6f9" stroke="#000" stroke-width="0.8"/>
<rect x="657.4" y="337.65" width="13.5" height="4.49" fill="#bcbcf8" stroke="#000" stroke-width="0.8"/>
<rect x="657.4" y="333.16" width="13.5" height="4.49" fill="#b1b1f8" stroke="#000" stroke-width="0.8"/>
<rect x="657.4" y="328.67" width="13.5" height="4.49" fill="#a7a7f8" stroke="#000" stroke-width="0.8"/>
<rect x="657.4" y="324.18" width="13.5" height="4.49" fill="#9b9bf8" stroke="#000" stroke-width="0.8"/>
<rect x="657.4" y="319.69" width="13.5" height="4.49" fill="#9090f8" stroke="#000" stroke-width="0.8"/>
<rect x="657.4" y="315.21" width="13.5" height="4.49" fill="#8787f8" stroke="#000" stroke-width="0.8"/>
<rect x="657.4" y="310.72" width="13.5" height="4.49" fill="#7e7ef8" stroke="#000" stroke-width="0.8"/>
<rect x="657.4" y="306.23" width="13.5" height="4.49" fill="#7575f7" stroke="#000" stroke-width="0.8"/>
<rect x="657.4" y="301.74" width="13.5" height="4.49" fill="#6c6cf7" stroke="#000" stroke-width="0.8"/>
<rect x="657.4" y="297.25" width="13.5" height="4.49" fill="#6565f7" stroke="#000" stroke-width="0.8"/>
<rect x="657.4" y="292.77" width="13.5" height="4.49" fill="#6060f7" stroke="#000" stroke-width="0.8"/>
<rect x="657.4" y="288.28" width="13.5" height="4.49" fill="#5b5bf8" stroke="#000" stroke-width="0.8"/>
<rect x="657.4" y="283.79" width="13.5" height="4.49" fill="#5656f8" stroke="#000" stroke-width="0.8"/>
<rect x="657.4" y="279.30" width="13.5" height="4.49" fill="#5151f8" stroke="#000" stroke-width="0.8"/>
<rect x="657.4" y="274.82" width="13.5" height="4.49" fill="#4c4ef6" stroke="#000" stroke-width="0.8"/>
<rect x="657.4" y="270.33" width="13.5" height="4.49" fill="#474ef1" stroke="#000" stroke-width="0.8"/>
<rect x="657.4" y="265.84" width="13.5" height="4.49" fill="#424dec" stroke="#000" stroke-width="0.8"/>
<rect x="657.4" y="261.35" width="13.5" height="4.49" fill="#3e4de5" stroke="#000" stroke-width="0.8"/>
<rect x="657.4" y="256.86" width="13.5" height="4.49" fill="#394edc" stroke="#000" stroke-width="0.8"/>
<rect x="657.4" y="252.38" width="13.5" height="4.49" fill="#364dd5" stroke="#000" stroke-width="0.8"/>
<rect x="657.4" y="247.89" width="13.5" height="4.49" fill="#344ad0" stroke="#000" stroke-width="0.8"/>
<rect x="657.4" y="243.40" width="13.5" height="4.49" fill="#3348cb" stroke="#000" stroke-width="0.8"/>
<rect x="657.4" y="243.4" width="13.5" height="148.1" fill="none" stroke="#000" stroke-width="1.2"/>
<text x="674.5" y="261.0" font-family="Liberation Serif" font-size="12" textLength="27.9" lengthAdjust="spacingAndGlyphs" fill="#111">0.38</text>
<text x="674.5" y="283.3" font-family="Liberation Serif" font-size="12" textLength="27.9" lengthAdjust="spacingAndGlyphs" fill="#111">0.33</text>
<text x="674.5" y="305.6" font-family="Liberation Serif" font-size="12" textLength="27.9" lengthAdjust="spacingAndGlyphs" fill="#111">0.28</text>
<text x="674.5" y="327.9" font-family="Liberation Serif" font-size="12" textLength="27.9" lengthAdjust="spacingAndGlyphs" fill="#111">0.23</text>
<text x="674.5" y="350.2" font-family="Liberation Serif" font-size="12" textLength="27.9" lengthAdjust="spacingAndGlyphs" fill="#111">0.18</text>
<text x="674.5" y="372.5" font-family="Liberation Serif" font-size="12" textLength="27.9" lengthAdjust="spacingAndGlyphs" fill="#111">0.13</text>
<text x="674.5" y="394.8" font-family="Liberation Serif" font-size="12" textLength="27.9" lengthAdjust="spacingAndGlyphs" fill="#111">0.08</text>
<text transform="translate(718.3,324) rotate(-90)" text-anchor="middle" y="5" font-family="Liberation Serif" font-weight="bold" font-size="14.5" textLength="100.7" lengthAdjust="spacingAndGlyphs" fill="#111">Squaring stage</text>
<rect x="659.0" y="561.11" width="13.4" height="4.49" fill="#f6f6fe" stroke="#000" stroke-width="0.8"/>
<rect x="659.0" y="556.61" width="13.4" height="4.49" fill="#f2f2fe" stroke="#000" stroke-width="0.8"/>
<rect x="659.0" y="552.12" width="13.4" height="4.49" fill="#ececfc" stroke="#000" stroke-width="0.8"/>
<rect x="659.0" y="547.62" width="13.4" height="4.49" fill="#e7e7fc" stroke="#000" stroke-width="0.8"/>
<rect x="659.0" y="543.13" width="13.4" height="4.49" fill="#e0e0fb" stroke="#000" stroke-width="0.8"/>
<rect x="659.0" y="538.64" width="13.4" height="4.49" fill="#dbdbfb" stroke="#000" stroke-width="0.8"/>
<rect x="659.0" y="534.14" width="13.4" height="4.49" fill="#d8d8fa" stroke="#000" stroke-width="0.8"/>
<rect x="659.0" y="529.65" width="13.4" height="4.49" fill="#d4d4fa" stroke="#000" stroke-width="0.8"/>
<rect x="659.0" y="525.15" width="13.4" height="4.49" fill="#cecef9" stroke="#000" stroke-width="0.8"/>
<rect x="659.0" y="520.66" width="13.4" height="4.49" fill="#c6c6f9" stroke="#000" stroke-width="0.8"/>
<rect x="659.0" y="516.17" width="13.4" height="4.49" fill="#bcbcf8" stroke="#000" stroke-width="0.8"/>
<rect x="659.0" y="511.67" width="13.4" height="4.49" fill="#b1b1f8" stroke="#000" stroke-width="0.8"/>
<rect x="659.0" y="507.18" width="13.4" height="4.49" fill="#a7a7f8" stroke="#000" stroke-width="0.8"/>
<rect x="659.0" y="502.68" width="13.4" height="4.49" fill="#9b9bf8" stroke="#000" stroke-width="0.8"/>
<rect x="659.0" y="498.19" width="13.4" height="4.49" fill="#9090f8" stroke="#000" stroke-width="0.8"/>
<rect x="659.0" y="493.70" width="13.4" height="4.49" fill="#8787f8" stroke="#000" stroke-width="0.8"/>
<rect x="659.0" y="489.20" width="13.4" height="4.49" fill="#7e7ef8" stroke="#000" stroke-width="0.8"/>
<rect x="659.0" y="484.71" width="13.4" height="4.49" fill="#7575f7" stroke="#000" stroke-width="0.8"/>
<rect x="659.0" y="480.22" width="13.4" height="4.49" fill="#6c6cf7" stroke="#000" stroke-width="0.8"/>
<rect x="659.0" y="475.72" width="13.4" height="4.49" fill="#6565f7" stroke="#000" stroke-width="0.8"/>
<rect x="659.0" y="471.23" width="13.4" height="4.49" fill="#6060f7" stroke="#000" stroke-width="0.8"/>
<rect x="659.0" y="466.73" width="13.4" height="4.49" fill="#5b5bf8" stroke="#000" stroke-width="0.8"/>
<rect x="659.0" y="462.24" width="13.4" height="4.49" fill="#5656f8" stroke="#000" stroke-width="0.8"/>
<rect x="659.0" y="457.75" width="13.4" height="4.49" fill="#5151f8" stroke="#000" stroke-width="0.8"/>
<rect x="659.0" y="453.25" width="13.4" height="4.49" fill="#4c4ef6" stroke="#000" stroke-width="0.8"/>
<rect x="659.0" y="448.76" width="13.4" height="4.49" fill="#474ef1" stroke="#000" stroke-width="0.8"/>
<rect x="659.0" y="444.26" width="13.4" height="4.49" fill="#424dec" stroke="#000" stroke-width="0.8"/>
<rect x="659.0" y="439.77" width="13.4" height="4.49" fill="#3e4de5" stroke="#000" stroke-width="0.8"/>
<rect x="659.0" y="435.28" width="13.4" height="4.49" fill="#394edc" stroke="#000" stroke-width="0.8"/>
<rect x="659.0" y="430.78" width="13.4" height="4.49" fill="#364dd5" stroke="#000" stroke-width="0.8"/>
<rect x="659.0" y="426.29" width="13.4" height="4.49" fill="#344ad0" stroke="#000" stroke-width="0.8"/>
<rect x="659.0" y="421.79" width="13.4" height="4.49" fill="#3348cb" stroke="#000" stroke-width="0.8"/>
<rect x="659.0" y="417.30" width="13.4" height="4.49" fill="#3145c6" stroke="#000" stroke-width="0.8"/>
<rect x="659.0" y="417.3" width="13.4" height="148.3" fill="none" stroke="#000" stroke-width="1.2"/>
<text x="676" y="426.0" font-family="Liberation Serif" font-size="12" textLength="27.9" lengthAdjust="spacingAndGlyphs" fill="#111">0.41</text>
<text x="676" y="443.8" font-family="Liberation Serif" font-size="12" textLength="27.9" lengthAdjust="spacingAndGlyphs" fill="#111">0.37</text>
<text x="676" y="461.6" font-family="Liberation Serif" font-size="12" textLength="27.9" lengthAdjust="spacingAndGlyphs" fill="#111">0.33</text>
<text x="676" y="479.4" font-family="Liberation Serif" font-size="12" textLength="27.9" lengthAdjust="spacingAndGlyphs" fill="#111">0.29</text>
<text x="676" y="497.2" font-family="Liberation Serif" font-size="12" textLength="27.9" lengthAdjust="spacingAndGlyphs" fill="#111">0.25</text>
<text x="676" y="515.1" font-family="Liberation Serif" font-size="12" textLength="27.9" lengthAdjust="spacingAndGlyphs" fill="#111">0.21</text>
<text x="676" y="532.9" font-family="Liberation Serif" font-size="12" textLength="27.9" lengthAdjust="spacingAndGlyphs" fill="#111">0.17</text>
<text x="676" y="550.7" font-family="Liberation Serif" font-size="12" textLength="27.9" lengthAdjust="spacingAndGlyphs" fill="#111">0.13</text>
<text x="676" y="568.5" font-family="Liberation Serif" font-size="12" textLength="27.9" lengthAdjust="spacingAndGlyphs" fill="#111">0.09</text>
<text transform="translate(721.7,492) rotate(-90)" text-anchor="middle" y="5" font-family="Liberation Serif" font-weight="bold" font-size="14.5" textLength="138.7" lengthAdjust="spacingAndGlyphs" fill="#111">Flower-bolling stage</text>
<rect x="660.1" y="742.72" width="13.5" height="4.48" fill="#f8f8ff" stroke="#000" stroke-width="0.8"/>
<rect x="660.1" y="738.25" width="13.5" height="4.48" fill="#f6f6fe" stroke="#000" stroke-width="0.8"/>
<rect x="660.1" y="733.77" width="13.5" height="4.48" fill="#f2f2fe" stroke="#000" stroke-width="0.8"/>
<rect x="660.1" y="729.30" width="13.5" height="4.48" fill="#ececfc" stroke="#000" stroke-width="0.8"/>
<rect x="660.1" y="724.82" width="13.5" height="4.48" fill="#e7e7fc" stroke="#000" stroke-width="0.8"/>
<rect x="660.1" y="720.35" width="13.5" height="4.48" fill="#e0e0fb" stroke="#000" stroke-width="0.8"/>
<rect x="660.1" y="715.87" width="13.5" height="4.48" fill="#dbdbfb" stroke="#000" stroke-width="0.8"/>
<rect x="660.1" y="711.39" width="13.5" height="4.48" fill="#d8d8fa" stroke="#000" stroke-width="0.8"/>
<rect x="660.1" y="706.92" width="13.5" height="4.48" fill="#d4d4fa" stroke="#000" stroke-width="0.8"/>
<rect x="660.1" y="702.44" width="13.5" height="4.48" fill="#cecef9" stroke="#000" stroke-width="0.8"/>
<rect x="660.1" y="697.97" width="13.5" height="4.48" fill="#c6c6f9" stroke="#000" stroke-width="0.8"/>
<rect x="660.1" y="693.49" width="13.5" height="4.48" fill="#bcbcf8" stroke="#000" stroke-width="0.8"/>
<rect x="660.1" y="689.02" width="13.5" height="4.48" fill="#b1b1f8" stroke="#000" stroke-width="0.8"/>
<rect x="660.1" y="684.54" width="13.5" height="4.48" fill="#a7a7f8" stroke="#000" stroke-width="0.8"/>
<rect x="660.1" y="680.06" width="13.5" height="4.48" fill="#9b9bf8" stroke="#000" stroke-width="0.8"/>
<rect x="660.1" y="675.59" width="13.5" height="4.48" fill="#9090f8" stroke="#000" stroke-width="0.8"/>
<rect x="660.1" y="671.11" width="13.5" height="4.48" fill="#8787f8" stroke="#000" stroke-width="0.8"/>
<rect x="660.1" y="666.64" width="13.5" height="4.48" fill="#7e7ef8" stroke="#000" stroke-width="0.8"/>
<rect x="660.1" y="662.16" width="13.5" height="4.48" fill="#7575f7" stroke="#000" stroke-width="0.8"/>
<rect x="660.1" y="657.68" width="13.5" height="4.48" fill="#6c6cf7" stroke="#000" stroke-width="0.8"/>
<rect x="660.1" y="653.21" width="13.5" height="4.48" fill="#6565f7" stroke="#000" stroke-width="0.8"/>
<rect x="660.1" y="648.73" width="13.5" height="4.48" fill="#6060f7" stroke="#000" stroke-width="0.8"/>
<rect x="660.1" y="644.26" width="13.5" height="4.48" fill="#5b5bf8" stroke="#000" stroke-width="0.8"/>
<rect x="660.1" y="639.78" width="13.5" height="4.48" fill="#5656f8" stroke="#000" stroke-width="0.8"/>
<rect x="660.1" y="635.31" width="13.5" height="4.48" fill="#5151f8" stroke="#000" stroke-width="0.8"/>
<rect x="660.1" y="630.83" width="13.5" height="4.48" fill="#4c4ef6" stroke="#000" stroke-width="0.8"/>
<rect x="660.1" y="626.35" width="13.5" height="4.48" fill="#474ef1" stroke="#000" stroke-width="0.8"/>
<rect x="660.1" y="621.88" width="13.5" height="4.48" fill="#424dec" stroke="#000" stroke-width="0.8"/>
<rect x="660.1" y="617.40" width="13.5" height="4.48" fill="#3e4de5" stroke="#000" stroke-width="0.8"/>
<rect x="660.1" y="612.93" width="13.5" height="4.48" fill="#394edc" stroke="#000" stroke-width="0.8"/>
<rect x="660.1" y="608.45" width="13.5" height="4.48" fill="#364dd5" stroke="#000" stroke-width="0.8"/>
<rect x="660.1" y="603.98" width="13.5" height="4.48" fill="#344ad0" stroke="#000" stroke-width="0.8"/>
<rect x="660.1" y="599.50" width="13.5" height="4.48" fill="#3348cb" stroke="#000" stroke-width="0.8"/>
<rect x="660.1" y="599.5" width="13.5" height="147.7" fill="none" stroke="#000" stroke-width="1.2"/>
<text x="677" y="616.5" font-family="Liberation Serif" font-size="12" textLength="27.9" lengthAdjust="spacingAndGlyphs" fill="#111">0.38</text>
<text x="677" y="638.8" font-family="Liberation Serif" font-size="12" textLength="27.9" lengthAdjust="spacingAndGlyphs" fill="#111">0.33</text>
<text x="677" y="661.1" font-family="Liberation Serif" font-size="12" textLength="27.9" lengthAdjust="spacingAndGlyphs" fill="#111">0.28</text>
<text x="677" y="683.4" font-family="Liberation Serif" font-size="12" textLength="27.9" lengthAdjust="spacingAndGlyphs" fill="#111">0.23</text>
<text x="677" y="705.7" font-family="Liberation Serif" font-size="12" textLength="27.9" lengthAdjust="spacingAndGlyphs" fill="#111">0.18</text>
<text x="677" y="728.0" font-family="Liberation Serif" font-size="12" textLength="27.9" lengthAdjust="spacingAndGlyphs" fill="#111">0.13</text>
<text x="677" y="750.3" font-family="Liberation Serif" font-size="12" textLength="27.9" lengthAdjust="spacingAndGlyphs" fill="#111">0.08</text>
<text transform="translate(719.4,678) rotate(-90)" text-anchor="middle" y="5" font-family="Liberation Serif" font-weight="bold" font-size="14.5" textLength="125.3" lengthAdjust="spacingAndGlyphs" fill="#111">Boll-opening stage</text>
<text x="650.3" y="63.6" font-family="Liberation Serif" font-size="13.3" fill="#111">(cm<tspan font-size="7.5" dy="-5.5">3</tspan><tspan dy="5.5"> cm</tspan><tspan font-size="7.5" dy="-5.5">-3</tspan><tspan dy="5.5">)</tspan></text>
</svg></body></html>
